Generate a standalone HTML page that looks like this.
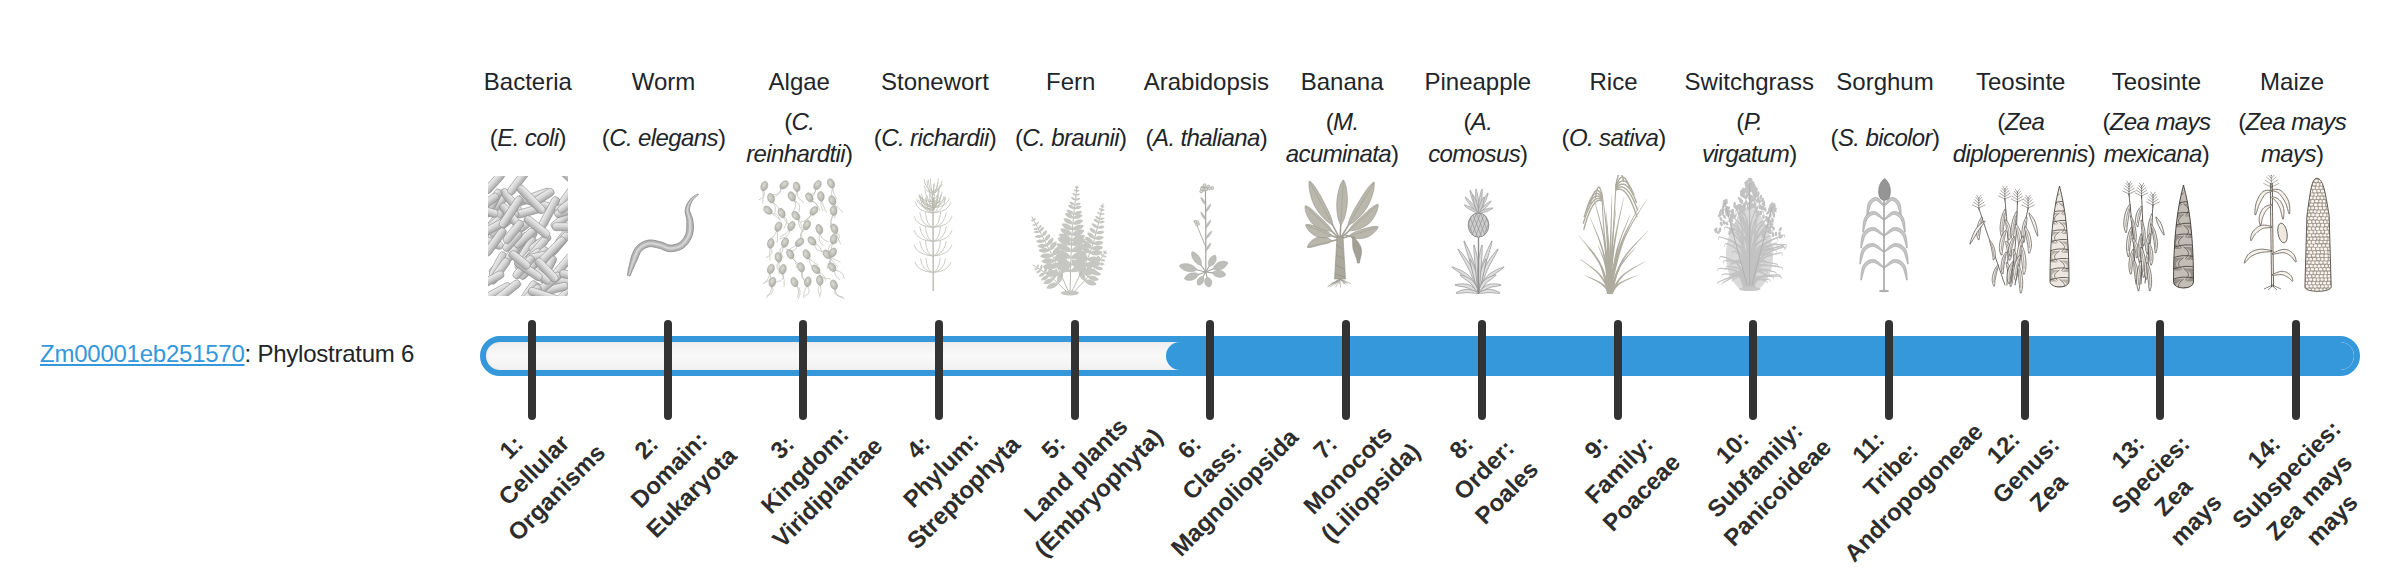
<!DOCTYPE html>
<html><head><meta charset="utf-8"><style>
html,body{margin:0;padding:0;background:#fff;}
body{width:2400px;height:580px;overflow:hidden;position:relative;font-family:"Liberation Sans",sans-serif;color:#212529;}
.a{position:absolute;}
.cn{position:absolute;top:66px;width:136px;text-align:center;font-size:24px;line-height:32px;white-space:nowrap;}
.sp{position:absolute;width:136px;text-align:center;font-size:24px;line-height:32px;white-space:nowrap;letter-spacing:-0.6px;}
.gene{position:absolute;left:40px;top:338px;font-size:24px;line-height:32px;white-space:nowrap;letter-spacing:-0.24px;}
.gene a{color:#3498db;text-decoration:underline;}
.bar{position:absolute;left:480px;top:336px;width:1868px;height:28px;border:6px solid #3498db;border-radius:20px;background:linear-gradient(#efefef,#f9f9f9 50%,#f1f1f1);box-shadow:inset 1px 0 3px rgba(0,0,0,.05);overflow:hidden;}
.fill{position:absolute;left:680px;top:0;right:0;height:28px;background:#3498db;border-radius:14px;}
.tk{position:absolute;top:320px;width:8px;height:100px;border-radius:4px;background:#333;}
.lb{position:absolute;width:240px;text-align:center;font-weight:bold;font-size:24px;line-height:32px;white-space:nowrap;color:#2d2d2d;transform:rotate(-45deg);}
svg.im{position:absolute;top:175px;}
</style></head><body>
<div class="gene"><a>Zm00001eb251570</a>: Phylostratum 6</div>
<div class="cn" style="left:459.85px">Bacteria</div>
<div class="sp" style="left:459.85px;top:121.5px">(<i>E. coli</i>)</div>
<svg class="im" style="left:467.85px" width="120" height="124" viewBox="0 0 120 124"><defs><clipPath id="cb"><rect x="20" y="1" width="80" height="120"/></clipPath><linearGradient id="gb" x1="0" y1="0" x2="0" y2="1"><stop offset="0" stop-color="#eeeeee"/><stop offset="0.45" stop-color="#d6d6d6"/><stop offset="1" stop-color="#a4a4a4"/></linearGradient></defs><g clip-path="url(#cb)"><g transform="translate(55.6,68.8) rotate(-46.4)"><rect x="-17.6" y="-4" width="35.3" height="8" rx="4" fill="url(#gb)" stroke="#8e8e8e" stroke-width="0.6"/></g><g transform="translate(57.8,75.8) rotate(-57.6)"><rect x="-16.2" y="-4" width="32.3" height="8" rx="4" fill="url(#gb)" stroke="#8e8e8e" stroke-width="0.6"/></g><g transform="translate(50.4,54.9) rotate(-35.4)"><rect x="-12.4" y="-4" width="24.8" height="8" rx="4" fill="url(#gb)" stroke="#8e8e8e" stroke-width="0.6"/></g><g transform="translate(31.5,27.5) rotate(-46.4)"><rect x="-16.5" y="-4" width="33.0" height="8" rx="4" fill="url(#gb)" stroke="#8e8e8e" stroke-width="0.6"/></g><g transform="translate(60.0,82.1) rotate(-46.7)"><rect x="-17.0" y="-4" width="33.9" height="8" rx="4" fill="url(#gb)" stroke="#8e8e8e" stroke-width="0.6"/></g><g transform="translate(43.0,25.9) rotate(51.8)"><rect x="-14.7" y="-4" width="29.4" height="8" rx="4" fill="url(#gb)" stroke="#8e8e8e" stroke-width="0.6"/></g><g transform="translate(102.1,106.2) rotate(-1.2)"><rect x="-14.9" y="-4" width="29.9" height="8" rx="4" fill="url(#gb)" stroke="#8e8e8e" stroke-width="0.6"/></g><g transform="translate(66.1,21.8) rotate(-19.4)"><rect x="-17.3" y="-4" width="34.6" height="8" rx="4" fill="url(#gb)" stroke="#8e8e8e" stroke-width="0.6"/></g><g transform="translate(24.9,28.0) rotate(-62.6)"><rect x="-15.1" y="-4" width="30.3" height="8" rx="4" fill="url(#gb)" stroke="#8e8e8e" stroke-width="0.6"/></g><g transform="translate(31.5,91.1) rotate(-39.3)"><rect x="-12.0" y="-4" width="24.0" height="8" rx="4" fill="url(#gb)" stroke="#8e8e8e" stroke-width="0.6"/></g><g transform="translate(93.5,122.7) rotate(-41.3)"><rect x="-12.3" y="-4" width="24.6" height="8" rx="4" fill="url(#gb)" stroke="#8e8e8e" stroke-width="0.6"/></g><g transform="translate(27.5,53.4) rotate(-64.6)"><rect x="-12.6" y="-4" width="25.3" height="8" rx="4" fill="url(#gb)" stroke="#8e8e8e" stroke-width="0.6"/></g><g transform="translate(67.6,27.6) rotate(18.4)"><rect x="-17.8" y="-4" width="35.7" height="8" rx="4" fill="url(#gb)" stroke="#8e8e8e" stroke-width="0.6"/></g><g transform="translate(26.5,46.2) rotate(-52.6)"><rect x="-13.1" y="-4" width="26.2" height="8" rx="4" fill="url(#gb)" stroke="#8e8e8e" stroke-width="0.6"/></g><g transform="translate(71.9,68.0) rotate(-37.5)"><rect x="-12.7" y="-4" width="25.5" height="8" rx="4" fill="url(#gb)" stroke="#8e8e8e" stroke-width="0.6"/></g><g transform="translate(17.6,121.1) rotate(12.9)"><rect x="-14.1" y="-4" width="28.1" height="8" rx="4" fill="url(#gb)" stroke="#8e8e8e" stroke-width="0.6"/></g><g transform="translate(30.1,89.6) rotate(-62.2)"><rect x="-14.0" y="-4" width="27.9" height="8" rx="4" fill="url(#gb)" stroke="#8e8e8e" stroke-width="0.6"/></g><g transform="translate(98.4,22.5) rotate(-54.2)"><rect x="-14.0" y="-4" width="27.9" height="8" rx="4" fill="url(#gb)" stroke="#8e8e8e" stroke-width="0.6"/></g><g transform="translate(62.9,122.5) rotate(-59.5)"><rect x="-16.1" y="-4" width="32.3" height="8" rx="4" fill="url(#gb)" stroke="#8e8e8e" stroke-width="0.6"/></g><g transform="translate(99.0,57.7) rotate(-50.7)"><rect x="-15.4" y="-4" width="30.8" height="8" rx="4" fill="url(#gb)" stroke="#8e8e8e" stroke-width="0.6"/></g><g transform="translate(81.2,37.5) rotate(-62.0)"><rect x="-17.6" y="-4" width="35.1" height="8" rx="4" fill="url(#gb)" stroke="#8e8e8e" stroke-width="0.6"/></g><g transform="translate(98.2,41.7) rotate(-37.6)"><rect x="-18.0" y="-4" width="36.1" height="8" rx="4" fill="url(#gb)" stroke="#8e8e8e" stroke-width="0.6"/></g><g transform="translate(66.7,77.2) rotate(-49.7)"><rect x="-19.0" y="-4" width="37.9" height="8" rx="4" fill="url(#gb)" stroke="#8e8e8e" stroke-width="0.6"/></g><g transform="translate(94.9,90.7) rotate(-49.5)"><rect x="-15.6" y="-4" width="31.3" height="8" rx="4" fill="url(#gb)" stroke="#8e8e8e" stroke-width="0.6"/></g><g transform="translate(61.3,36.3) rotate(-15.5)"><rect x="-13.8" y="-4" width="27.6" height="8" rx="4" fill="url(#gb)" stroke="#8e8e8e" stroke-width="0.6"/></g><g transform="translate(15.0,35.1) rotate(16.2)"><rect x="-15.5" y="-4" width="31.0" height="8" rx="4" fill="url(#gb)" stroke="#8e8e8e" stroke-width="0.6"/></g><g transform="translate(36.2,48.6) rotate(-39.6)"><rect x="-18.2" y="-4" width="36.3" height="8" rx="4" fill="url(#gb)" stroke="#8e8e8e" stroke-width="0.6"/></g><g transform="translate(49.4,71.8) rotate(-52.3)"><rect x="-17.0" y="-4" width="34.0" height="8" rx="4" fill="url(#gb)" stroke="#8e8e8e" stroke-width="0.6"/></g><g transform="translate(101.4,32.0) rotate(-11.4)"><rect x="-14.7" y="-4" width="29.4" height="8" rx="4" fill="url(#gb)" stroke="#8e8e8e" stroke-width="0.6"/></g><g transform="translate(61.8,83.4) rotate(-36.3)"><rect x="-13.9" y="-4" width="27.9" height="8" rx="4" fill="url(#gb)" stroke="#8e8e8e" stroke-width="0.6"/></g><g transform="translate(69.9,84.2) rotate(-50.8)"><rect x="-14.8" y="-4" width="29.7" height="8" rx="4" fill="url(#gb)" stroke="#8e8e8e" stroke-width="0.6"/></g><g transform="translate(31.5,96.0) rotate(-54.3)"><rect x="-15.1" y="-4" width="30.3" height="8" rx="4" fill="url(#gb)" stroke="#8e8e8e" stroke-width="0.6"/></g><g transform="translate(72.0,81.2) rotate(-12.0)"><rect x="-13.8" y="-4" width="27.6" height="8" rx="4" fill="url(#gb)" stroke="#8e8e8e" stroke-width="0.6"/></g><g transform="translate(79.7,94.2) rotate(-63.6)"><rect x="-14.8" y="-4" width="29.5" height="8" rx="4" fill="url(#gb)" stroke="#8e8e8e" stroke-width="0.6"/></g><g transform="translate(86.9,113.8) rotate(-14.8)"><rect x="-13.4" y="-4" width="26.8" height="8" rx="4" fill="url(#gb)" stroke="#8e8e8e" stroke-width="0.6"/></g><g transform="translate(95.6,-3.1) rotate(42.6)"><rect x="-15.2" y="-4" width="30.5" height="8" rx="4" fill="url(#gb)" stroke="#8e8e8e" stroke-width="0.6"/></g><g transform="translate(73.9,22.6) rotate(-32.3)"><rect x="-13.7" y="-4" width="27.4" height="8" rx="4" fill="url(#gb)" stroke="#8e8e8e" stroke-width="0.6"/></g><g transform="translate(49.9,7.4) rotate(-52.6)"><rect x="-14.4" y="-4" width="28.9" height="8" rx="4" fill="url(#gb)" stroke="#8e8e8e" stroke-width="0.6"/></g><g transform="translate(21.6,53.3) rotate(-43.0)"><rect x="-15.0" y="-4" width="30.0" height="8" rx="4" fill="url(#gb)" stroke="#8e8e8e" stroke-width="0.6"/></g><g transform="translate(17.2,65.3) rotate(20.0)"><rect x="-18.6" y="-4" width="37.2" height="8" rx="4" fill="url(#gb)" stroke="#8e8e8e" stroke-width="0.6"/></g><g transform="translate(59.3,119.4) rotate(-56.1)"><rect x="-15.7" y="-4" width="31.3" height="8" rx="4" fill="url(#gb)" stroke="#8e8e8e" stroke-width="0.6"/></g><g transform="translate(91.6,68.8) rotate(-49.8)"><rect x="-14.1" y="-4" width="28.3" height="8" rx="4" fill="url(#gb)" stroke="#8e8e8e" stroke-width="0.6"/></g><g transform="translate(27.0,66.8) rotate(-54.1)"><rect x="-16.2" y="-4" width="32.5" height="8" rx="4" fill="url(#gb)" stroke="#8e8e8e" stroke-width="0.6"/></g><g transform="translate(16.6,122.0) rotate(2.5)"><rect x="-12.7" y="-4" width="25.3" height="8" rx="4" fill="url(#gb)" stroke="#8e8e8e" stroke-width="0.6"/></g><g transform="translate(29.3,117.0) rotate(-28.2)"><rect x="-15.3" y="-4" width="30.6" height="8" rx="4" fill="url(#gb)" stroke="#8e8e8e" stroke-width="0.6"/></g><g transform="translate(25.7,52.4) rotate(-29.0)"><rect x="-14.9" y="-4" width="29.9" height="8" rx="4" fill="url(#gb)" stroke="#8e8e8e" stroke-width="0.6"/></g><g transform="translate(16.7,29.8) rotate(-36.9)"><rect x="-16.8" y="-4" width="33.6" height="8" rx="4" fill="url(#gb)" stroke="#8e8e8e" stroke-width="0.6"/></g><g transform="translate(43.6,42.2) rotate(50.6)"><rect x="-17.0" y="-4" width="34.0" height="8" rx="4" fill="url(#gb)" stroke="#8e8e8e" stroke-width="0.6"/></g><g transform="translate(78.5,110.2) rotate(-39.7)"><rect x="-18.0" y="-4" width="36.1" height="8" rx="4" fill="url(#gb)" stroke="#8e8e8e" stroke-width="0.6"/></g><g transform="translate(63.1,24.4) rotate(45.5)"><rect x="-18.3" y="-4" width="36.6" height="8" rx="4" fill="url(#gb)" stroke="#8e8e8e" stroke-width="0.6"/></g><g transform="translate(43.1,36.9) rotate(-56.3)"><rect x="-18.2" y="-4" width="36.4" height="8" rx="4" fill="url(#gb)" stroke="#8e8e8e" stroke-width="0.6"/></g><g transform="translate(26.2,7.5) rotate(-47.6)"><rect x="-13.4" y="-4" width="26.8" height="8" rx="4" fill="url(#gb)" stroke="#8e8e8e" stroke-width="0.6"/></g><g transform="translate(71.8,99.9) rotate(37.5)"><rect x="-12.8" y="-4" width="25.6" height="8" rx="4" fill="url(#gb)" stroke="#8e8e8e" stroke-width="0.6"/></g><g transform="translate(60.5,94.6) rotate(-44.9)"><rect x="-12.2" y="-4" width="24.3" height="8" rx="4" fill="url(#gb)" stroke="#8e8e8e" stroke-width="0.6"/></g><g transform="translate(84.1,75.7) rotate(-45.7)"><rect x="-17.9" y="-4" width="35.8" height="8" rx="4" fill="url(#gb)" stroke="#8e8e8e" stroke-width="0.6"/></g><g transform="translate(105.1,116.5) rotate(-61.2)"><rect x="-14.3" y="-4" width="28.6" height="8" rx="4" fill="url(#gb)" stroke="#8e8e8e" stroke-width="0.6"/></g><g transform="translate(57.0,63.0) rotate(-41.0)"><rect x="-13.3" y="-4" width="26.5" height="8" rx="4" fill="url(#gb)" stroke="#8e8e8e" stroke-width="0.6"/></g><g transform="translate(55.8,92.1) rotate(-48.8)"><rect x="-14.3" y="-4" width="28.5" height="8" rx="4" fill="url(#gb)" stroke="#8e8e8e" stroke-width="0.6"/></g><g transform="translate(21.8,105.4) rotate(-28.7)"><rect x="-15.5" y="-4" width="31.1" height="8" rx="4" fill="url(#gb)" stroke="#8e8e8e" stroke-width="0.6"/></g><g transform="translate(104.4,100.6) rotate(11.1)"><rect x="-12.9" y="-4" width="25.9" height="8" rx="4" fill="url(#gb)" stroke="#8e8e8e" stroke-width="0.6"/></g><g transform="translate(44.4,66.1) rotate(-47.7)"><rect x="-12.5" y="-4" width="25.0" height="8" rx="4" fill="url(#gb)" stroke="#8e8e8e" stroke-width="0.6"/></g><g transform="translate(45.4,56.9) rotate(-50.8)"><rect x="-13.9" y="-4" width="27.8" height="8" rx="4" fill="url(#gb)" stroke="#8e8e8e" stroke-width="0.6"/></g><g transform="translate(102.5,34.9) rotate(-16.9)"><rect x="-16.5" y="-4" width="33.0" height="8" rx="4" fill="url(#gb)" stroke="#8e8e8e" stroke-width="0.6"/></g><g transform="translate(78.5,95.0) rotate(46.5)"><rect x="-15.1" y="-4" width="30.2" height="8" rx="4" fill="url(#gb)" stroke="#8e8e8e" stroke-width="0.6"/></g><g transform="translate(60.4,95.0) rotate(34.0)"><rect x="-15.9" y="-4" width="31.7" height="8" rx="4" fill="url(#gb)" stroke="#8e8e8e" stroke-width="0.6"/></g><g transform="translate(60.7,121.7) rotate(-42.3)"><rect x="-15.8" y="-4" width="31.7" height="8" rx="4" fill="url(#gb)" stroke="#8e8e8e" stroke-width="0.6"/></g><g transform="translate(75.5,120.2) rotate(18.8)"><rect x="-15.8" y="-4" width="31.6" height="8" rx="4" fill="url(#gb)" stroke="#8e8e8e" stroke-width="0.6"/></g><g transform="translate(68.9,51.8) rotate(38.9)"><rect x="-15.4" y="-4" width="30.8" height="8" rx="4" fill="url(#gb)" stroke="#8e8e8e" stroke-width="0.6"/></g><g transform="translate(38.8,116.8) rotate(-38.5)"><rect x="-16.4" y="-4" width="32.9" height="8" rx="4" fill="url(#gb)" stroke="#8e8e8e" stroke-width="0.6"/></g><g transform="translate(51.6,85.0) rotate(38.9)"><rect x="-12.5" y="-4" width="25.0" height="8" rx="4" fill="url(#gb)" stroke="#8e8e8e" stroke-width="0.6"/></g><g transform="translate(97.3,51.8) rotate(0.9)"><rect x="-13.0" y="-4" width="26.0" height="8" rx="4" fill="url(#gb)" stroke="#8e8e8e" stroke-width="0.6"/></g><g transform="translate(102.3,27.9) rotate(-36.7)"><rect x="-14.5" y="-4" width="29.0" height="8" rx="4" fill="url(#gb)" stroke="#8e8e8e" stroke-width="0.6"/></g></g></svg>
<div class="cn" style="left:595.56px">Worm</div>
<div class="sp" style="left:595.56px;top:121.5px">(<i>C. elegans</i>)</div>
<svg class="im" style="left:603.56px" width="120" height="124" viewBox="0 0 120 124"><path d="M25.9,101.1 L26.4,100.1 L27.0,98.8 L27.6,97.2 L28.3,95.5 L29.1,93.7 L29.9,91.8 L30.6,90.1 L31.4,88.4 L32.2,86.8 L33.0,85.1 L33.8,83.4 L34.4,81.6 L35.1,80.0 L35.8,78.6 L36.4,77.4 L37.2,76.4 L38.0,75.5 L38.9,74.7 L39.8,74.0 L40.8,73.3 L41.9,72.8 L43.0,72.4 L44.0,72.0 L45.1,71.7 L46.1,71.6 L47.1,71.6 L48.4,71.8 L49.7,72.0 L51.1,72.3 L52.5,72.6 L53.9,73.0 L55.3,73.3 L56.4,73.6 L57.4,74.0 L58.5,74.5 L59.8,75.1 L61.1,75.6 L62.6,76.2 L64.3,76.6 L66.0,76.7 L67.7,76.6 L69.4,76.5 L71.1,76.2 L72.9,75.8 L74.7,75.3 L76.4,74.6 L78.1,73.8 L79.6,72.8 L81.1,71.6 L82.4,70.2 L83.7,68.8 L84.8,67.2 L85.8,65.6 L86.8,63.9 L87.6,62.2 L88.2,60.4 L88.8,58.6 L89.1,56.7 L89.3,54.8 L89.4,52.9 L89.4,51.0 L89.3,49.2 L89.1,47.5 L88.9,45.8 L88.6,44.0 L88.1,42.3 L87.5,40.8 L86.9,39.3 L86.4,38.0 L85.9,36.8 L85.6,35.7 L85.5,34.6 L85.6,33.5 L85.7,32.3 L86.0,31.1 L86.4,29.9 L86.9,28.6 L87.5,27.4 L88.0,26.3 L88.6,25.3 L89.2,24.4 L89.9,23.6 L90.7,22.7 L91.6,21.9 L92.5,21.2 L93.2,20.6 L93.9,20.0 L94.4,19.5 L94.0,19.1 L93.4,19.3 L92.7,19.7 L91.7,20.2 L90.7,20.7 L89.7,21.4 L88.6,22.1 L87.6,22.9 L86.6,23.9 L85.8,24.9 L85.0,26.0 L84.2,27.2 L83.4,28.5 L82.7,29.8 L82.1,31.3 L81.6,32.8 L81.3,34.4 L81.2,36.0 L81.3,37.7 L81.6,39.3 L82.0,40.9 L82.3,42.3 L82.6,43.8 L82.8,45.1 L82.9,46.4 L82.9,47.9 L82.8,49.5 L82.8,51.1 L82.8,52.7 L82.7,54.3 L82.6,55.7 L82.3,57.1 L82.0,58.4 L81.5,59.6 L80.9,60.9 L80.2,62.3 L79.3,63.5 L78.5,64.7 L77.6,65.8 L76.6,66.7 L75.8,67.4 L74.8,68.0 L73.7,68.6 L72.5,69.0 L71.2,69.4 L69.9,69.7 L68.6,69.9 L67.3,70.1 L66.2,70.1 L65.3,70.0 L64.4,69.8 L63.5,69.5 L62.4,69.0 L61.3,68.5 L59.9,67.9 L58.5,67.3 L56.9,66.9 L55.5,66.6 L54.1,66.2 L52.5,65.8 L50.9,65.5 L49.2,65.2 L47.5,65.0 L45.7,65.0 L43.9,65.3 L42.3,65.6 L40.7,66.2 L39.1,66.8 L37.6,67.6 L36.1,68.5 L34.6,69.6 L33.3,70.8 L32.0,72.2 L30.9,73.8 L29.9,75.6 L29.0,77.4 L28.3,79.2 L27.6,81.1 L27.0,83.0 L26.6,84.8 L26.2,86.6 L25.7,88.4 L25.3,90.4 L24.8,92.4 L24.4,94.3 L24.1,96.2 L23.8,97.9 L23.6,99.3 L23.5,100.3Z" fill="#b4b4b4" stroke="#8a8a8a" stroke-width="0.9"/><path d="M25.1,100.8 L25.5,99.8 L25.9,98.5 L26.5,96.9 L27.1,95.1 L27.7,93.3 L28.4,91.4 L29.0,89.5 L29.7,87.8 L30.4,86.2 L31.1,84.4 L31.8,82.6 L32.4,80.9 L33.1,79.2 L33.8,77.6 L34.6,76.2 L35.5,75.0 L36.4,74.0 L37.5,73.0 L38.6,72.2 L39.8,71.5 L41.0,70.9 L42.2,70.3 L43.5,69.9 L44.7,69.6 L45.9,69.5 L47.3,69.5 L48.6,69.6 L50.1,69.9 L51.5,70.2 L53.0,70.5 L54.4,70.9 L55.8,71.2 L57.0,71.6 L58.2,72.0 L59.4,72.6 L60.6,73.1 L61.9,73.6 L63.2,74.1 L64.6,74.4 L66.1,74.6 L67.6,74.5 L69.1,74.4 L70.7,74.1 L72.4,73.7 L74.0,73.3 L75.5,72.7 L77.0,71.9 L78.4,71.0 L79.6,70.0 L80.8,68.8 L82.0,67.5 L83.0,66.0 L84.0,64.5 L84.8,63.0 L85.6,61.4 L86.2,59.8 L86.7,58.1 L87.0,56.4 L87.2,54.6 L87.3,52.8 L87.3,51.1 L87.2,49.3 L87.1,47.6 L87.0,46.0 L86.7,44.4 L86.3,42.8 L85.8,41.3 L85.3,39.8 L84.8,38.4 L84.4,37.1 L84.2,35.8 L84.1,34.5 L84.3,33.3 L84.6,32.0 L85.0,30.7 L85.5,29.4 L86.0,28.2 L86.7,27.0 L87.3,25.9 L87.9,24.9 L88.6,23.9 L89.5,23.1 L90.4,22.3 L91.3,21.5 L92.2,20.9 L93.1,20.3 L93.8,19.8 L94.3,19.4 L94.1,19.2 L93.6,19.6 L92.9,20.0 L92.0,20.5 L91.0,21.1 L90.0,21.8 L89.0,22.6 L88.1,23.4 L87.3,24.3 L86.5,25.4 L85.8,26.5 L85.1,27.6 L84.4,28.9 L83.8,30.2 L83.3,31.6 L82.9,33.0 L82.7,34.5 L82.6,35.9 L82.8,37.4 L83.2,38.9 L83.6,40.4 L84.0,41.8 L84.4,43.3 L84.7,44.7 L84.8,46.2 L84.9,47.8 L84.9,49.4 L85.0,51.1 L85.0,52.8 L84.9,54.4 L84.7,56.0 L84.4,57.6 L84.0,59.0 L83.5,60.5 L82.8,61.9 L82.0,63.3 L81.1,64.7 L80.2,66.0 L79.2,67.2 L78.1,68.3 L77.0,69.2 L75.9,69.9 L74.6,70.5 L73.2,71.1 L71.8,71.5 L70.3,71.8 L68.8,72.1 L67.4,72.2 L66.1,72.2 L65.0,72.2 L63.8,71.9 L62.7,71.5 L61.6,71.0 L60.4,70.5 L59.1,69.9 L57.8,69.4 L56.4,69.0 L55.0,68.6 L53.5,68.3 L52.0,67.9 L50.5,67.6 L48.9,67.3 L47.4,67.2 L45.8,67.2 L44.3,67.4 L42.8,67.7 L41.4,68.2 L40.0,68.8 L38.6,69.5 L37.3,70.3 L36.0,71.3 L34.8,72.4 L33.7,73.6 L32.7,75.0 L31.8,76.5 L31.0,78.2 L30.3,80.0 L29.6,81.8 L29.0,83.7 L28.4,85.4 L27.9,87.2 L27.3,88.9 L26.8,90.9 L26.2,92.8 L25.7,94.7 L25.2,96.5 L24.8,98.2 L24.5,99.5 L24.3,100.6Z" fill="#d4d4d4"/></svg>
<div class="cn" style="left:731.28px">Algae</div>
<div class="sp" style="left:731.28px;top:105.5px">(<i>C.</i><br><i>reinhardtii</i>)</div>
<svg class="im" style="left:739.28px" width="120" height="124" viewBox="0 0 120 124"><defs><radialGradient id="ga" cx="0.4" cy="0.4" r="0.7"><stop offset="0" stop-color="#dcdcd6"/><stop offset="1" stop-color="#a9a9a1"/></radialGradient></defs><path d="M25.3,15.1 q2.5,6 4.0,13 M25.3,15.1 q6.4,5 -1.1,11" fill="none" stroke="#b9b9b1" stroke-width="0.6" transform="rotate(18.3 25.3 11.1)"/><ellipse cx="25.3" cy="11.1" rx="3.3" ry="4.9" fill="url(#ga)" stroke="#9e9e96" stroke-width="0.5" transform="rotate(18.3 25.3 11.1)"/><path d="M45.1,13.9 q6.5,6 0.9,13 M45.1,13.9 q5.4,5 -0.1,11" fill="none" stroke="#b9b9b1" stroke-width="0.6" transform="rotate(48.9 45.1 9.9)"/><ellipse cx="45.1" cy="9.9" rx="3.3" ry="4.9" fill="url(#ga)" stroke="#9e9e96" stroke-width="0.5" transform="rotate(48.9 45.1 9.9)"/><path d="M57.7,15.8 q-3.5,6 3.8,13 M57.7,15.8 q-4.7,5 -5.2,11" fill="none" stroke="#b9b9b1" stroke-width="0.6" transform="rotate(-12.4 57.7 11.8)"/><ellipse cx="57.7" cy="11.8" rx="3.3" ry="4.9" fill="url(#ga)" stroke="#9e9e96" stroke-width="0.5" transform="rotate(-12.4 57.7 11.8)"/><path d="M78.5,14.1 q3.8,6 -0.2,13 M78.5,14.1 q4.7,5 -5.4,11" fill="none" stroke="#b9b9b1" stroke-width="0.6" transform="rotate(30.5 78.5 10.1)"/><ellipse cx="78.5" cy="10.1" rx="3.3" ry="4.9" fill="url(#ga)" stroke="#9e9e96" stroke-width="0.5" transform="rotate(30.5 78.5 10.1)"/><path d="M92.0,12.4 q-2.9,6 -0.8,13 M92.0,12.4 q-4.6,5 -5.2,11" fill="none" stroke="#b9b9b1" stroke-width="0.6" transform="rotate(-24.2 92.0 8.4)"/><ellipse cx="92.0" cy="8.4" rx="3.3" ry="4.9" fill="url(#ga)" stroke="#9e9e96" stroke-width="0.5" transform="rotate(-24.2 92.0 8.4)"/><path d="M32.0,27.2 q5.6,6 4.8,13 M32.0,27.2 q3.4,5 -0.3,11" fill="none" stroke="#b9b9b1" stroke-width="0.6" transform="rotate(-16.2 32.0 23.2)"/><ellipse cx="32.0" cy="23.2" rx="3.3" ry="4.9" fill="url(#ga)" stroke="#9e9e96" stroke-width="0.5" transform="rotate(-16.2 32.0 23.2)"/><path d="M52.7,25.4 q6.4,6 0.3,13 M52.7,25.4 q3.2,5 -5.7,11" fill="none" stroke="#b9b9b1" stroke-width="0.6" transform="rotate(-24.8 52.7 21.4)"/><ellipse cx="52.7" cy="21.4" rx="3.3" ry="4.9" fill="url(#ga)" stroke="#9e9e96" stroke-width="0.5" transform="rotate(-24.8 52.7 21.4)"/><path d="M70.4,26.4 q4.7,6 3.0,13 M70.4,26.4 q5.3,5 1.2,11" fill="none" stroke="#b9b9b1" stroke-width="0.6" transform="rotate(-28.8 70.4 22.4)"/><ellipse cx="70.4" cy="22.4" rx="3.3" ry="4.9" fill="url(#ga)" stroke="#9e9e96" stroke-width="0.5" transform="rotate(-28.8 70.4 22.4)"/><path d="M81.9,25.3 q1.1,6 3.5,13 M81.9,25.3 q-2.7,5 0.4,11" fill="none" stroke="#b9b9b1" stroke-width="0.6" transform="rotate(-7.4 81.9 21.3)"/><ellipse cx="81.9" cy="21.3" rx="3.3" ry="4.9" fill="url(#ga)" stroke="#9e9e96" stroke-width="0.5" transform="rotate(-7.4 81.9 21.3)"/><path d="M93.4,29.4 q3.8,6 -4.9,13 M93.4,29.4 q2.6,5 5.4,11" fill="none" stroke="#b9b9b1" stroke-width="0.6" transform="rotate(-22.4 93.4 25.4)"/><ellipse cx="93.4" cy="25.4" rx="3.3" ry="4.9" fill="url(#ga)" stroke="#9e9e96" stroke-width="0.5" transform="rotate(-22.4 93.4 25.4)"/><path d="M28.9,39.2 q1.3,6 1.4,13 M28.9,39.2 q4.9,5 1.0,11" fill="none" stroke="#b9b9b1" stroke-width="0.6" transform="rotate(-47.6 28.9 35.2)"/><ellipse cx="28.9" cy="35.2" rx="3.3" ry="4.9" fill="url(#ga)" stroke="#9e9e96" stroke-width="0.5" transform="rotate(-47.6 28.9 35.2)"/><path d="M42.6,42.0 q-1.3,6 4.6,13 M42.6,42.0 q5.7,5 -4.4,11" fill="none" stroke="#b9b9b1" stroke-width="0.6" transform="rotate(-24.3 42.6 38.0)"/><ellipse cx="42.6" cy="38.0" rx="3.3" ry="4.9" fill="url(#ga)" stroke="#9e9e96" stroke-width="0.5" transform="rotate(-24.3 42.6 38.0)"/><path d="M56.9,44.7 q-5.7,6 -4.7,13 M56.9,44.7 q-0.7,5 -4.3,11" fill="none" stroke="#b9b9b1" stroke-width="0.6" transform="rotate(-40.5 56.9 40.7)"/><ellipse cx="56.9" cy="40.7" rx="3.3" ry="4.9" fill="url(#ga)" stroke="#9e9e96" stroke-width="0.5" transform="rotate(-40.5 56.9 40.7)"/><path d="M74.9,39.9 q2.2,6 -3.7,13 M74.9,39.9 q0.5,5 -2.1,11" fill="none" stroke="#b9b9b1" stroke-width="0.6" transform="rotate(36.7 74.9 35.9)"/><ellipse cx="74.9" cy="35.9" rx="3.3" ry="4.9" fill="url(#ga)" stroke="#9e9e96" stroke-width="0.5" transform="rotate(36.7 74.9 35.9)"/><path d="M94.5,39.7 q-3.9,6 -3.3,13 M94.5,39.7 q-4.4,5 -1.5,11" fill="none" stroke="#b9b9b1" stroke-width="0.6" transform="rotate(-0.6 94.5 35.7)"/><ellipse cx="94.5" cy="35.7" rx="3.3" ry="4.9" fill="url(#ga)" stroke="#9e9e96" stroke-width="0.5" transform="rotate(-0.6 94.5 35.7)"/><path d="M39.4,55.7 q0.7,6 -4.5,13 M39.4,55.7 q3.0,5 4.5,11" fill="none" stroke="#b9b9b1" stroke-width="0.6" transform="rotate(21.0 39.4 51.7)"/><ellipse cx="39.4" cy="51.7" rx="3.3" ry="4.9" fill="url(#ga)" stroke="#9e9e96" stroke-width="0.5" transform="rotate(21.0 39.4 51.7)"/><path d="M52.4,55.1 q4.1,6 -4.9,13 M52.4,55.1 q-0.5,5 -5.2,11" fill="none" stroke="#b9b9b1" stroke-width="0.6" transform="rotate(27.4 52.4 51.1)"/><ellipse cx="52.4" cy="51.1" rx="3.3" ry="4.9" fill="url(#ga)" stroke="#9e9e96" stroke-width="0.5" transform="rotate(27.4 52.4 51.1)"/><path d="M67.9,54.1 q-4.5,6 2.1,13 M67.9,54.1 q-3.5,5 2.4,11" fill="none" stroke="#b9b9b1" stroke-width="0.6" transform="rotate(26.4 67.9 50.1)"/><ellipse cx="67.9" cy="50.1" rx="3.3" ry="4.9" fill="url(#ga)" stroke="#9e9e96" stroke-width="0.5" transform="rotate(26.4 67.9 50.1)"/><path d="M80.3,58.2 q-6.4,6 -1.1,13 M80.3,58.2 q-2.7,5 4.8,11" fill="none" stroke="#b9b9b1" stroke-width="0.6" transform="rotate(-18.6 80.3 54.2)"/><ellipse cx="80.3" cy="54.2" rx="3.3" ry="4.9" fill="url(#ga)" stroke="#9e9e96" stroke-width="0.5" transform="rotate(-18.6 80.3 54.2)"/><path d="M95.4,57.7 q0.0,6 0.5,13 M95.4,57.7 q6.3,5 -4.8,11" fill="none" stroke="#b9b9b1" stroke-width="0.6" transform="rotate(-20.5 95.4 53.7)"/><ellipse cx="95.4" cy="53.7" rx="3.3" ry="4.9" fill="url(#ga)" stroke="#9e9e96" stroke-width="0.5" transform="rotate(-20.5 95.4 53.7)"/><path d="M31.8,72.4 q0.1,6 2.3,13 M31.8,72.4 q6.5,5 -2.3,11" fill="none" stroke="#b9b9b1" stroke-width="0.6" transform="rotate(10.1 31.8 68.4)"/><ellipse cx="31.8" cy="68.4" rx="3.3" ry="4.9" fill="url(#ga)" stroke="#9e9e96" stroke-width="0.5" transform="rotate(10.1 31.8 68.4)"/><path d="M46.0,71.6 q0.4,6 0.6,13 M46.0,71.6 q-6.1,5 3.8,11" fill="none" stroke="#b9b9b1" stroke-width="0.6" transform="rotate(19.9 46.0 67.6)"/><ellipse cx="46.0" cy="67.6" rx="3.3" ry="4.9" fill="url(#ga)" stroke="#9e9e96" stroke-width="0.5" transform="rotate(19.9 46.0 67.6)"/><path d="M60.6,71.4 q-2.0,6 -1.8,13 M60.6,71.4 q6.9,5 -4.7,11" fill="none" stroke="#b9b9b1" stroke-width="0.6" transform="rotate(47.7 60.6 67.4)"/><ellipse cx="60.6" cy="67.4" rx="3.3" ry="4.9" fill="url(#ga)" stroke="#9e9e96" stroke-width="0.5" transform="rotate(47.7 60.6 67.4)"/><path d="M73.0,69.9 q-6.0,6 3.1,13 M73.0,69.9 q3.6,5 -0.6,11" fill="none" stroke="#b9b9b1" stroke-width="0.6" transform="rotate(-42.4 73.0 65.9)"/><ellipse cx="73.0" cy="65.9" rx="3.3" ry="4.9" fill="url(#ga)" stroke="#9e9e96" stroke-width="0.5" transform="rotate(-42.4 73.0 65.9)"/><path d="M94.6,68.2 q-6.7,6 1.4,13 M94.6,68.2 q-0.8,5 0.2,11" fill="none" stroke="#b9b9b1" stroke-width="0.6" transform="rotate(12.1 94.6 64.2)"/><ellipse cx="94.6" cy="64.2" rx="3.3" ry="4.9" fill="url(#ga)" stroke="#9e9e96" stroke-width="0.5" transform="rotate(12.1 94.6 64.2)"/><path d="M39.4,86.3 q-1.4,6 -2.7,13 M39.4,86.3 q-6.3,5 -0.8,11" fill="none" stroke="#b9b9b1" stroke-width="0.6" transform="rotate(-11.1 39.4 82.3)"/><ellipse cx="39.4" cy="82.3" rx="3.3" ry="4.9" fill="url(#ga)" stroke="#9e9e96" stroke-width="0.5" transform="rotate(-11.1 39.4 82.3)"/><path d="M51.3,83.2 q2.9,6 3.2,13 M51.3,83.2 q3.1,5 -0.5,11" fill="none" stroke="#b9b9b1" stroke-width="0.6" transform="rotate(-25.3 51.3 79.2)"/><ellipse cx="51.3" cy="79.2" rx="3.3" ry="4.9" fill="url(#ga)" stroke="#9e9e96" stroke-width="0.5" transform="rotate(-25.3 51.3 79.2)"/><path d="M67.6,83.3 q-1.6,6 -0.1,13 M67.6,83.3 q1.8,5 5.6,11" fill="none" stroke="#b9b9b1" stroke-width="0.6" transform="rotate(-26.4 67.6 79.3)"/><ellipse cx="67.6" cy="79.3" rx="3.3" ry="4.9" fill="url(#ga)" stroke="#9e9e96" stroke-width="0.5" transform="rotate(-26.4 67.6 79.3)"/><path d="M88.0,83.3 q-0.3,6 -0.1,13 M88.0,83.3 q3.0,5 4.7,11" fill="none" stroke="#b9b9b1" stroke-width="0.6" transform="rotate(-41.5 88.0 79.3)"/><ellipse cx="88.0" cy="79.3" rx="3.3" ry="4.9" fill="url(#ga)" stroke="#9e9e96" stroke-width="0.5" transform="rotate(-41.5 88.0 79.3)"/><path d="M93.8,81.6 q1.8,6 2.6,13 M93.8,81.6 q2.4,5 4.3,11" fill="none" stroke="#b9b9b1" stroke-width="0.6" transform="rotate(28.0 93.8 77.6)"/><ellipse cx="93.8" cy="77.6" rx="3.3" ry="4.9" fill="url(#ga)" stroke="#9e9e96" stroke-width="0.5" transform="rotate(28.0 93.8 77.6)"/><path d="M31.9,98.0 q2.6,6 -2.5,13 M31.9,98.0 q5.8,5 -1.4,11" fill="none" stroke="#b9b9b1" stroke-width="0.6" transform="rotate(19.9 31.9 94.0)"/><ellipse cx="31.9" cy="94.0" rx="3.3" ry="4.9" fill="url(#ga)" stroke="#9e9e96" stroke-width="0.5" transform="rotate(19.9 31.9 94.0)"/><path d="M43.9,98.3 q4.5,6 4.6,13 M43.9,98.3 q6.8,5 -5.9,11" fill="none" stroke="#b9b9b1" stroke-width="0.6" transform="rotate(11.5 43.9 94.3)"/><ellipse cx="43.9" cy="94.3" rx="3.3" ry="4.9" fill="url(#ga)" stroke="#9e9e96" stroke-width="0.5" transform="rotate(11.5 43.9 94.3)"/><path d="M62.0,96.3 q-2.6,6 -1.1,13 M62.0,96.3 q-5.0,5 0.6,11" fill="none" stroke="#b9b9b1" stroke-width="0.6" transform="rotate(-18.7 62.0 92.3)"/><ellipse cx="62.0" cy="92.3" rx="3.3" ry="4.9" fill="url(#ga)" stroke="#9e9e96" stroke-width="0.5" transform="rotate(-18.7 62.0 92.3)"/><path d="M76.9,98.3 q-2.8,6 4.4,13 M76.9,98.3 q3.4,5 -0.5,11" fill="none" stroke="#b9b9b1" stroke-width="0.6" transform="rotate(-42.0 76.9 94.3)"/><ellipse cx="76.9" cy="94.3" rx="3.3" ry="4.9" fill="url(#ga)" stroke="#9e9e96" stroke-width="0.5" transform="rotate(-42.0 76.9 94.3)"/><path d="M93.0,96.1 q6.4,6 2.0,13 M93.0,96.1 q-4.1,5 -2.0,11" fill="none" stroke="#b9b9b1" stroke-width="0.6" transform="rotate(-39.2 93.0 92.1)"/><ellipse cx="93.0" cy="92.1" rx="3.3" ry="4.9" fill="url(#ga)" stroke="#9e9e96" stroke-width="0.5" transform="rotate(-39.2 93.0 92.1)"/><path d="M33.4,111.1 q2.5,6 -2.4,13 M33.4,111.1 q6.3,5 -2.1,11" fill="none" stroke="#b9b9b1" stroke-width="0.6" transform="rotate(14.2 33.4 107.1)"/><ellipse cx="33.4" cy="107.1" rx="3.3" ry="4.9" fill="url(#ga)" stroke="#9e9e96" stroke-width="0.5" transform="rotate(14.2 33.4 107.1)"/><path d="M55.4,111.1 q4.8,6 -3.5,13 M55.4,111.1 q2.5,5 -3.6,11" fill="none" stroke="#b9b9b1" stroke-width="0.6" transform="rotate(-24.6 55.4 107.1)"/><ellipse cx="55.4" cy="107.1" rx="3.3" ry="4.9" fill="url(#ga)" stroke="#9e9e96" stroke-width="0.5" transform="rotate(-24.6 55.4 107.1)"/><path d="M68.8,110.8 q-3.1,6 -1.2,13 M68.8,110.8 q6.2,5 -0.4,11" fill="none" stroke="#b9b9b1" stroke-width="0.6" transform="rotate(9.8 68.8 106.8)"/><ellipse cx="68.8" cy="106.8" rx="3.3" ry="4.9" fill="url(#ga)" stroke="#9e9e96" stroke-width="0.5" transform="rotate(9.8 68.8 106.8)"/><path d="M80.8,109.4 q1.6,6 -2.2,13 M80.8,109.4 q-4.6,5 -1.4,11" fill="none" stroke="#b9b9b1" stroke-width="0.6" transform="rotate(-6.3 80.8 105.4)"/><ellipse cx="80.8" cy="105.4" rx="3.3" ry="4.9" fill="url(#ga)" stroke="#9e9e96" stroke-width="0.5" transform="rotate(-6.3 80.8 105.4)"/><path d="M94.9,113.7 q-4.4,6 4.6,13 M94.9,113.7 q-6.5,5 3.7,11" fill="none" stroke="#b9b9b1" stroke-width="0.6" transform="rotate(-22.8 94.9 109.7)"/><ellipse cx="94.9" cy="109.7" rx="3.3" ry="4.9" fill="url(#ga)" stroke="#9e9e96" stroke-width="0.5" transform="rotate(-22.8 94.9 109.7)"/></svg>
<div class="cn" style="left:866.99px">Stonewort</div>
<div class="sp" style="left:866.99px;top:121.5px">(<i>C. richardii</i>)</div>
<svg class="im" style="left:874.99px" width="120" height="124" viewBox="0 0 120 124"><path d="M58,22 L58.3,116" stroke="#c3c3ba" stroke-width="1.6" fill="none"/><path d="M58,38.0 Q42.7,36.9 40.0,26.8 M58,38.0 Q47.3,36.5 45.4,23.0 M58,38.0 Q51.9,36.4 50.8,22.2 M58,38.0 Q73.3,36.9 76.0,26.8 M58,38.0 Q68.7,36.5 70.6,23.0 M58,38.0 Q64.1,36.4 65.2,22.2 M58,52.5 Q41.9,51.4 39.0,41.2 M58,52.5 Q46.7,51.0 44.7,37.5 M58,52.5 Q51.5,50.9 50.4,36.8 M58,52.5 Q74.2,51.4 77.0,41.2 M58,52.5 Q69.3,51.0 71.3,37.5 M58,52.5 Q64.5,50.9 65.6,36.8 M58,66.5 Q41.9,65.4 39.0,55.2 M58,66.5 Q46.7,65.0 44.7,51.5 M58,66.5 Q51.5,64.9 50.4,50.8 M58,66.5 Q74.2,65.4 77.0,55.2 M58,66.5 Q69.3,65.0 71.3,51.5 M58,66.5 Q64.5,64.9 65.6,50.8 M58,81.0 Q41.9,79.9 39.0,69.8 M58,81.0 Q46.7,79.5 44.7,66.0 M58,81.0 Q51.5,79.4 50.4,65.2 M58,81.0 Q74.2,79.9 77.0,69.8 M58,81.0 Q69.3,79.5 71.3,66.0 M58,81.0 Q64.5,79.4 65.6,65.2 M58,97.5 Q42.7,96.5 40.0,87.0 M58,97.5 Q47.3,96.1 45.4,83.5 M58,97.5 Q51.9,96.0 50.8,82.8 M58,97.5 Q73.3,96.5 76.0,87.0 M58,97.5 Q68.7,96.1 70.6,83.5 M58,97.5 Q64.1,96.0 65.2,82.8" stroke="#c3c3ba" stroke-width="0.85" fill="none"/><path d="M58.4,30.3 Q65.3,29.0 67.1,16.8 M58.7,34.3 Q46.4,33.3 43.3,24.6 M59.3,28.3 Q68.3,27.6 70.5,21.4 M57.9,19.4 Q58.6,18.4 58.8,8.8 M56.5,18.8 Q52.9,17.4 52.0,5.4 M58.8,17.5 Q63.4,16.8 64.6,10.4 M58.4,16.8 Q50.8,15.5 48.9,3.8 M57.1,18.7 Q65.0,17.4 67.0,5.8 M57.4,35.2 Q58.4,34.0 58.7,23.7 M57.1,34.7 Q62.1,33.3 63.4,21.0 M59.2,20.6 Q56.7,19.8 56.1,13.2 M56.9,15.4 Q54.1,14.4 53.4,4.6 M56.5,28.9 Q52.8,28.1 51.9,20.4 M59.0,24.6 Q55.3,23.6 54.3,14.7 M58.6,15.3 Q65.3,14.6 67.0,9.1 M58.7,32.6 Q46.7,31.4 43.7,20.3 M57.6,26.7 Q47.1,26.1 44.5,20.4 M57.0,35.0 Q49.0,33.8 47.0,23.0 M59.3,34.7 Q55.2,33.8 54.2,25.9 M58.1,31.1 Q48.6,29.9 46.3,19.1 M58.9,32.9 Q47.2,31.6 44.3,19.3 M56.8,21.5 Q58.8,20.2 59.3,8.2 M57.5,34.3 Q58.7,33.5 59.0,25.8 M57.5,17.9 Q50.8,17.2 49.1,10.7 M58.6,35.9 Q49.4,35.3 47.1,29.5 M59.5,25.7 Q57.5,24.9 57.0,17.8 M58.3,32.2 Q57.2,31.2 56.9,22.8 M56.7,34.2 Q44.5,33.2 41.5,24.2 M59.0,16.9 Q62.5,15.5 63.4,3.3 M58.4,31.3 Q48.8,30.4 46.5,21.9 M56.9,32.6 Q51.8,31.6 50.5,23.0 M59.5,32.7 Q71.5,31.8 74.5,23.1 M58.0,30.0 Q57.5,29.2 57.3,21.7 M57.7,17.2 Q55.8,15.8 55.3,3.3 M59.4,27.8 Q59.4,26.9 59.4,19.1 M56.8,20.0 Q61.6,18.7 62.8,7.1 M57.6,31.3 Q64.2,30.1 65.9,19.7 M58.5,30.7 Q55.2,29.5 54.4,19.1 M57.3,24.7 Q62.8,23.5 64.1,13.2 M57.4,34.8 Q61.3,33.7 62.3,24.2 M56.5,26.0 Q51.3,24.9 50.0,14.7 M57.9,32.0 Q61.5,30.7 62.4,19.6 M57.5,28.2 Q62.8,26.9 64.2,15.5 M57.6,32.5 Q66.8,31.4 69.1,21.0 M59.4,35.0 Q59.9,34.0 60.0,24.8 M57.0,32.4 Q67.9,31.4 70.6,22.6" stroke="#b7b7ad" stroke-width="0.7" fill="none"/></svg>
<div class="cn" style="left:1002.71px">Fern</div>
<div class="sp" style="left:1002.71px;top:121.5px">(<i>C. braunii</i>)</div>
<svg class="im" style="left:1010.71px" width="120" height="124" viewBox="0 0 120 124"><path d="M57.0,118.0 L55.2,116.2 L52.6,113.7 L49.6,110.8 L46.4,107.6 L43.1,104.6 L40.0,102.0 L36.8,99.6 L33.4,97.3 L29.9,95.0 L26.7,93.0 L24.0,91.3 L22.0,90.0" fill="none" stroke="#b9b9b5" stroke-width="1.0" stroke-linecap="round"/><path d="M46.9,108.0 L46.3,107.8 L45.5,107.6 L44.7,107.5 L43.8,107.4 L42.9,107.5 L42.0,107.7 L41.1,107.9 L40.3,108.2 L39.6,108.5 L38.8,109.0 L38.1,109.5 L37.4,110.1 L36.7,110.7 L36.2,111.4 L35.8,112.1 L35.5,112.7 L35.8,113.2 L36.4,113.4 L37.1,113.7 L38.0,113.8 L38.9,113.8 L39.8,113.7 L40.7,113.5 L41.6,113.3 L42.4,113.0 L43.1,112.7 L43.8,112.2 L44.6,111.7 L45.3,111.1 L45.9,110.5 L46.5,109.8 L46.9,109.1 L47.1,108.5Z" fill="#c6c6c2"/><path d="M47.3,108.3 L47.9,108.0 L48.5,107.6 L49.2,107.1 L49.8,106.4 L50.4,105.6 L50.8,104.9 L51.3,104.1 L51.6,103.3 L51.8,102.6 L52.0,101.7 L52.1,100.8 L52.1,99.9 L52.1,99.0 L51.9,98.1 L51.7,97.3 L51.4,96.7 L50.9,96.6 L50.3,96.9 L49.6,97.3 L49.0,97.9 L48.4,98.5 L47.8,99.3 L47.3,100.0 L46.9,100.8 L46.6,101.6 L46.4,102.4 L46.2,103.2 L46.1,104.1 L46.1,105.1 L46.1,106.0 L46.3,106.8 L46.5,107.6 L46.8,108.2Z" fill="#c6c6c2"/><path d="M42.3,103.8 L41.8,103.7 L41.1,103.5 L40.4,103.4 L39.6,103.5 L38.8,103.6 L38.0,103.7 L37.2,104.0 L36.6,104.2 L35.9,104.6 L35.3,105.0 L34.6,105.5 L34.0,106.0 L33.5,106.6 L33.1,107.2 L32.7,107.9 L32.5,108.4 L32.7,108.8 L33.3,109.0 L34.0,109.2 L34.7,109.2 L35.5,109.2 L36.3,109.1 L37.1,108.9 L37.8,108.7 L38.5,108.4 L39.1,108.1 L39.8,107.7 L40.4,107.2 L41.0,106.6 L41.6,106.1 L42.0,105.4 L42.3,104.8 L42.6,104.3Z" fill="#c6c6c2"/><path d="M42.7,104.1 L43.2,103.8 L43.8,103.4 L44.3,102.9 L44.8,102.3 L45.3,101.6 L45.7,100.9 L46.0,100.2 L46.3,99.6 L46.4,98.9 L46.6,98.1 L46.6,97.3 L46.6,96.5 L46.5,95.7 L46.4,95.0 L46.1,94.3 L45.9,93.8 L45.4,93.6 L44.9,93.9 L44.3,94.3 L43.8,94.8 L43.3,95.5 L42.8,96.1 L42.4,96.8 L42.1,97.5 L41.8,98.2 L41.7,98.9 L41.5,99.7 L41.5,100.5 L41.5,101.3 L41.6,102.1 L41.7,102.8 L42.0,103.5 L42.2,104.0Z" fill="#c6c6c2"/><path d="M38.1,100.4 L37.6,100.3 L37.0,100.2 L36.4,100.2 L35.7,100.3 L35.0,100.4 L34.4,100.6 L33.8,100.9 L33.3,101.1 L32.8,101.4 L32.2,101.8 L31.7,102.3 L31.3,102.8 L30.9,103.3 L30.5,103.9 L30.3,104.4 L30.2,104.9 L30.4,105.2 L30.8,105.3 L31.4,105.4 L32.0,105.4 L32.7,105.3 L33.4,105.2 L34.0,105.0 L34.6,104.8 L35.2,104.5 L35.7,104.2 L36.2,103.8 L36.7,103.3 L37.2,102.8 L37.6,102.3 L37.9,101.8 L38.1,101.2 L38.3,100.8Z" fill="#c6c6c2"/><path d="M38.4,100.6 L38.7,100.4 L39.2,100.0 L39.6,99.5 L40.0,99.0 L40.4,98.4 L40.7,97.8 L40.9,97.2 L41.0,96.6 L41.1,96.0 L41.2,95.4 L41.2,94.7 L41.1,94.0 L41.0,93.3 L40.8,92.7 L40.6,92.2 L40.4,91.8 L39.9,91.7 L39.6,92.0 L39.1,92.3 L38.7,92.8 L38.3,93.4 L37.9,93.9 L37.7,94.6 L37.4,95.2 L37.3,95.7 L37.2,96.3 L37.1,97.0 L37.1,97.6 L37.2,98.3 L37.3,99.0 L37.5,99.6 L37.7,100.1 L38.0,100.5Z" fill="#c6c6c2"/><path d="M34.0,97.6 L33.6,97.5 L33.2,97.5 L32.7,97.5 L32.1,97.6 L31.6,97.7 L31.1,97.9 L30.6,98.1 L30.2,98.3 L29.8,98.6 L29.4,98.9 L29.0,99.3 L28.7,99.7 L28.4,100.2 L28.1,100.6 L28.0,101.1 L27.9,101.4 L28.0,101.7 L28.4,101.8 L28.9,101.8 L29.4,101.8 L29.9,101.7 L30.4,101.6 L31.0,101.4 L31.4,101.2 L31.8,101.0 L32.2,100.7 L32.6,100.4 L33.0,100.0 L33.4,99.6 L33.7,99.1 L33.9,98.7 L34.1,98.2 L34.2,97.9Z" fill="#c6c6c2"/><path d="M34.3,97.8 L34.6,97.5 L34.9,97.2 L35.3,96.8 L35.5,96.4 L35.8,95.9 L36.0,95.4 L36.2,94.9 L36.3,94.4 L36.3,93.9 L36.3,93.4 L36.3,92.9 L36.3,92.3 L36.1,91.8 L36.0,91.3 L35.7,90.9 L35.5,90.6 L35.2,90.5 L34.9,90.8 L34.6,91.1 L34.2,91.5 L33.9,91.9 L33.7,92.4 L33.5,92.9 L33.3,93.4 L33.2,93.9 L33.2,94.4 L33.1,94.9 L33.2,95.4 L33.2,96.0 L33.3,96.5 L33.5,97.0 L33.7,97.4 L33.9,97.7Z" fill="#c6c6c2"/><path d="M29.9,94.9 L29.6,94.9 L29.2,94.8 L28.8,94.8 L28.4,94.9 L28.0,95.0 L27.7,95.2 L27.3,95.4 L27.0,95.5 L26.7,95.8 L26.4,96.0 L26.1,96.3 L25.9,96.6 L25.6,97.0 L25.5,97.3 L25.4,97.7 L25.3,97.9 L25.4,98.1 L25.7,98.2 L26.1,98.2 L26.4,98.2 L26.8,98.1 L27.2,98.0 L27.6,97.9 L28.0,97.7 L28.3,97.5 L28.6,97.3 L28.9,97.0 L29.2,96.7 L29.4,96.4 L29.6,96.1 L29.8,95.7 L29.9,95.4 L30.0,95.1Z" fill="#c6c6c2"/><path d="M30.1,95.0 L30.3,94.8 L30.5,94.6 L30.8,94.3 L31.0,93.9 L31.2,93.6 L31.3,93.2 L31.4,92.8 L31.5,92.5 L31.5,92.1 L31.5,91.7 L31.5,91.3 L31.5,90.9 L31.4,90.5 L31.2,90.1 L31.0,89.8 L30.9,89.6 L30.6,89.5 L30.4,89.7 L30.1,90.0 L29.9,90.3 L29.7,90.6 L29.5,91.0 L29.4,91.4 L29.3,91.7 L29.2,92.1 L29.2,92.5 L29.1,92.9 L29.2,93.3 L29.2,93.7 L29.3,94.1 L29.5,94.4 L29.7,94.7 L29.8,95.0Z" fill="#c6c6c2"/><path d="M26.6,92.9 L26.4,92.8 L26.2,92.8 L25.9,92.8 L25.6,92.9 L25.4,92.9 L25.1,93.0 L24.8,93.2 L24.6,93.3 L24.4,93.4 L24.2,93.6 L24.0,93.8 L23.9,94.1 L23.7,94.3 L23.6,94.6 L23.5,94.8 L23.5,95.0 L23.6,95.2 L23.8,95.2 L24.1,95.2 L24.3,95.2 L24.6,95.2 L24.9,95.1 L25.2,95.0 L25.4,94.9 L25.6,94.8 L25.8,94.6 L26.0,94.4 L26.2,94.2 L26.4,94.0 L26.5,93.7 L26.7,93.5 L26.7,93.2 L26.8,93.0Z" fill="#c6c6c2"/><path d="M26.8,93.0 L27.0,92.9 L27.2,92.7 L27.3,92.5 L27.5,92.2 L27.6,92.0 L27.7,91.7 L27.8,91.5 L27.9,91.2 L27.9,91.0 L27.9,90.7 L27.8,90.4 L27.8,90.1 L27.7,89.8 L27.6,89.6 L27.5,89.4 L27.3,89.2 L27.1,89.2 L27.0,89.3 L26.8,89.5 L26.6,89.7 L26.4,89.9 L26.3,90.2 L26.2,90.4 L26.1,90.7 L26.1,91.0 L26.1,91.2 L26.1,91.5 L26.1,91.8 L26.1,92.0 L26.2,92.3 L26.3,92.6 L26.5,92.8 L26.6,92.9Z" fill="#c6c6c2"/><path d="M62.0,118.0 L64.0,115.8 L66.8,112.9 L70.1,109.4 L73.6,105.6 L77.0,101.7 L80.0,98.0 L82.8,94.2 L85.8,90.0 L88.6,85.8 L91.2,81.8 L93.4,78.4 L95.0,76.0" fill="none" stroke="#b9b9b5" stroke-width="1.0" stroke-linecap="round"/><path d="M73.8,105.4 L74.0,104.8 L74.2,104.0 L74.3,103.2 L74.3,102.3 L74.2,101.4 L74.0,100.5 L73.7,99.6 L73.4,98.9 L73.1,98.1 L72.6,97.4 L72.1,96.7 L71.5,96.0 L70.8,95.3 L70.1,94.8 L69.4,94.5 L68.8,94.2 L68.3,94.4 L68.1,95.0 L67.9,95.8 L67.8,96.7 L67.8,97.6 L67.9,98.5 L68.1,99.4 L68.4,100.2 L68.6,101.0 L69.0,101.7 L69.5,102.5 L70.0,103.2 L70.6,103.9 L71.3,104.5 L72.0,105.0 L72.7,105.4 L73.3,105.7Z" fill="#c6c6c2"/><path d="M73.5,105.8 L73.8,106.4 L74.2,107.1 L74.8,107.7 L75.5,108.3 L76.3,108.8 L77.0,109.3 L77.8,109.7 L78.6,110.0 L79.4,110.2 L80.2,110.3 L81.2,110.4 L82.1,110.4 L83.0,110.3 L83.8,110.2 L84.6,109.9 L85.2,109.6 L85.4,109.1 L85.0,108.5 L84.6,107.9 L84.0,107.2 L83.3,106.6 L82.6,106.1 L81.8,105.6 L81.0,105.3 L80.2,105.0 L79.4,104.8 L78.6,104.6 L77.7,104.5 L76.7,104.5 L75.8,104.6 L75.0,104.7 L74.2,105.0 L73.6,105.3Z" fill="#c6c6c2"/><path d="M77.2,101.6 L77.4,101.0 L77.5,100.3 L77.6,99.5 L77.5,98.7 L77.4,97.9 L77.2,97.1 L77.0,96.3 L76.7,95.6 L76.4,95.0 L75.9,94.3 L75.4,93.7 L74.9,93.1 L74.2,92.5 L73.6,92.1 L73.0,91.8 L72.4,91.5 L72.0,91.8 L71.8,92.3 L71.6,93.0 L71.6,93.8 L71.6,94.6 L71.7,95.4 L71.9,96.3 L72.2,97.0 L72.4,97.7 L72.8,98.3 L73.2,99.0 L73.7,99.6 L74.3,100.3 L74.9,100.8 L75.5,101.3 L76.2,101.6 L76.7,101.8Z" fill="#c6c6c2"/><path d="M76.9,101.9 L77.2,102.4 L77.6,103.0 L78.1,103.6 L78.8,104.1 L79.5,104.6 L80.2,105.0 L80.9,105.3 L81.6,105.5 L82.3,105.7 L83.1,105.8 L83.9,105.9 L84.8,105.9 L85.6,105.8 L86.3,105.6 L87.0,105.3 L87.5,105.1 L87.7,104.6 L87.4,104.1 L87.0,103.5 L86.4,103.0 L85.8,102.4 L85.1,102.0 L84.4,101.6 L83.7,101.2 L83.0,101.0 L82.3,100.8 L81.5,100.7 L80.6,100.6 L79.8,100.7 L79.0,100.7 L78.2,100.9 L77.6,101.2 L77.0,101.4Z" fill="#c6c6c2"/><path d="M80.8,97.2 L80.9,96.7 L81.0,96.1 L81.0,95.4 L80.9,94.7 L80.8,94.0 L80.6,93.3 L80.3,92.6 L80.1,92.1 L79.7,91.5 L79.3,91.0 L78.8,90.4 L78.3,89.9 L77.8,89.5 L77.2,89.1 L76.6,88.9 L76.1,88.7 L75.8,88.9 L75.6,89.4 L75.5,90.0 L75.5,90.7 L75.6,91.4 L75.7,92.1 L75.9,92.8 L76.2,93.4 L76.4,94.0 L76.8,94.6 L77.2,95.1 L77.7,95.7 L78.2,96.2 L78.7,96.6 L79.3,97.0 L79.9,97.2 L80.4,97.4Z" fill="#c6c6c2"/><path d="M80.5,97.5 L80.8,97.9 L81.2,98.4 L81.7,98.9 L82.2,99.3 L82.9,99.7 L83.5,100.0 L84.2,100.2 L84.8,100.4 L85.4,100.5 L86.1,100.6 L86.8,100.6 L87.5,100.6 L88.2,100.5 L88.9,100.3 L89.4,100.0 L89.9,99.8 L90.0,99.3 L89.7,98.9 L89.3,98.4 L88.8,98.0 L88.3,97.5 L87.6,97.2 L87.0,96.9 L86.3,96.6 L85.7,96.4 L85.1,96.3 L84.4,96.2 L83.7,96.2 L83.0,96.3 L82.3,96.4 L81.6,96.6 L81.0,96.8 L80.6,97.1Z" fill="#c6c6c2"/><path d="M84.2,92.4 L84.3,92.0 L84.3,91.5 L84.3,90.9 L84.2,90.3 L84.1,89.7 L83.9,89.2 L83.7,88.6 L83.4,88.2 L83.1,87.7 L82.7,87.3 L82.3,86.8 L81.9,86.4 L81.4,86.0 L80.9,85.8 L80.4,85.6 L80.0,85.5 L79.7,85.7 L79.6,86.1 L79.5,86.6 L79.5,87.2 L79.6,87.8 L79.8,88.4 L79.9,88.9 L80.2,89.5 L80.4,89.9 L80.7,90.4 L81.1,90.8 L81.5,91.3 L82.0,91.7 L82.5,92.0 L83.0,92.3 L83.5,92.5 L83.9,92.6Z" fill="#c6c6c2"/><path d="M84.0,92.7 L84.2,93.1 L84.6,93.5 L85.0,93.8 L85.5,94.2 L86.1,94.5 L86.6,94.7 L87.2,94.9 L87.7,95.0 L88.2,95.1 L88.8,95.1 L89.4,95.1 L90.0,95.1 L90.6,94.9 L91.1,94.8 L91.6,94.5 L92.0,94.3 L92.1,93.9 L91.8,93.6 L91.5,93.2 L91.0,92.8 L90.5,92.5 L90.0,92.2 L89.4,91.9 L88.9,91.8 L88.4,91.6 L87.8,91.5 L87.2,91.5 L86.6,91.5 L86.0,91.6 L85.4,91.7 L84.9,91.9 L84.4,92.1 L84.1,92.4Z" fill="#c6c6c2"/><path d="M87.1,88.2 L87.1,87.9 L87.2,87.4 L87.2,87.0 L87.1,86.5 L86.9,86.0 L86.8,85.5 L86.6,85.1 L86.4,84.7 L86.1,84.4 L85.8,84.0 L85.5,83.6 L85.1,83.3 L84.7,83.0 L84.3,82.8 L83.9,82.7 L83.5,82.6 L83.3,82.7 L83.2,83.1 L83.2,83.5 L83.2,84.0 L83.3,84.5 L83.4,84.9 L83.6,85.4 L83.7,85.8 L84.0,86.2 L84.2,86.6 L84.5,86.9 L84.9,87.3 L85.2,87.6 L85.6,87.9 L86.1,88.1 L86.5,88.3 L86.8,88.4Z" fill="#c6c6c2"/><path d="M86.9,88.4 L87.1,88.7 L87.4,89.0 L87.8,89.3 L88.2,89.6 L88.6,89.8 L89.1,90.0 L89.5,90.2 L90.0,90.3 L90.4,90.3 L90.9,90.3 L91.4,90.3 L91.9,90.2 L92.4,90.1 L92.8,90.0 L93.2,89.8 L93.5,89.6 L93.5,89.3 L93.3,89.0 L93.0,88.7 L92.7,88.4 L92.2,88.1 L91.8,87.9 L91.3,87.7 L90.9,87.6 L90.5,87.5 L90.0,87.4 L89.5,87.4 L89.1,87.4 L88.6,87.5 L88.1,87.6 L87.6,87.7 L87.3,88.0 L87.0,88.1Z" fill="#c6c6c2"/><path d="M89.3,84.9 L89.3,84.6 L89.3,84.3 L89.3,83.9 L89.3,83.5 L89.2,83.1 L89.0,82.8 L88.9,82.4 L88.7,82.1 L88.5,81.9 L88.3,81.6 L88.0,81.3 L87.7,81.1 L87.4,80.8 L87.0,80.7 L86.7,80.6 L86.5,80.5 L86.3,80.6 L86.2,80.9 L86.2,81.2 L86.2,81.6 L86.3,82.0 L86.4,82.3 L86.5,82.7 L86.7,83.0 L86.8,83.3 L87.0,83.6 L87.3,83.9 L87.5,84.2 L87.8,84.4 L88.2,84.6 L88.5,84.8 L88.8,84.9 L89.1,85.0Z" fill="#c6c6c2"/><path d="M89.2,85.0 L89.3,85.3 L89.5,85.5 L89.8,85.7 L90.2,85.9 L90.5,86.1 L90.9,86.3 L91.2,86.4 L91.6,86.4 L91.9,86.5 L92.3,86.5 L92.7,86.5 L93.0,86.4 L93.4,86.3 L93.8,86.2 L94.1,86.0 L94.3,85.9 L94.3,85.6 L94.2,85.4 L93.9,85.2 L93.6,85.0 L93.3,84.8 L93.0,84.6 L92.6,84.4 L92.3,84.3 L91.9,84.3 L91.6,84.2 L91.2,84.2 L90.8,84.2 L90.4,84.3 L90.1,84.4 L89.7,84.5 L89.4,84.7 L89.2,84.8Z" fill="#c6c6c2"/><path d="M91.8,81.0 L91.8,80.8 L91.9,80.5 L91.9,80.3 L91.8,80.0 L91.7,79.7 L91.7,79.4 L91.5,79.2 L91.4,79.0 L91.3,78.8 L91.1,78.6 L90.9,78.4 L90.7,78.2 L90.4,78.0 L90.2,77.9 L89.9,77.9 L89.7,77.8 L89.5,77.9 L89.5,78.1 L89.5,78.4 L89.5,78.7 L89.5,78.9 L89.6,79.2 L89.7,79.5 L89.8,79.7 L89.9,80.0 L90.1,80.2 L90.2,80.4 L90.4,80.5 L90.7,80.7 L90.9,80.9 L91.2,81.0 L91.4,81.1 L91.6,81.1Z" fill="#c6c6c2"/><path d="M91.7,81.1 L91.8,81.3 L92.0,81.5 L92.2,81.7 L92.4,81.8 L92.7,82.0 L92.9,82.1 L93.2,82.2 L93.4,82.2 L93.7,82.3 L93.9,82.3 L94.2,82.2 L94.5,82.2 L94.8,82.1 L95.0,82.0 L95.3,81.9 L95.4,81.7 L95.4,81.5 L95.3,81.4 L95.2,81.2 L95.0,81.0 L94.7,80.8 L94.5,80.7 L94.2,80.6 L94.0,80.5 L93.7,80.5 L93.5,80.4 L93.2,80.4 L92.9,80.5 L92.6,80.5 L92.3,80.6 L92.1,80.7 L91.9,80.8 L91.7,80.9Z" fill="#c6c6c2"/><path d="M93.9,77.8 L93.9,77.6 L94.0,77.4 L94.0,77.2 L94.1,77.0 L94.0,76.8 L94.0,76.6 L93.9,76.5 L93.9,76.3 L93.8,76.2 L93.6,76.1 L93.5,76.0 L93.3,75.9 L93.1,75.8 L92.9,75.8 L92.7,75.8 L92.5,75.8 L92.4,75.9 L92.3,76.0 L92.2,76.2 L92.2,76.4 L92.2,76.6 L92.2,76.8 L92.2,77.0 L92.3,77.2 L92.4,77.3 L92.5,77.4 L92.6,77.6 L92.7,77.7 L92.9,77.8 L93.1,77.8 L93.3,77.9 L93.5,77.9 L93.7,77.9Z" fill="#c6c6c2"/><path d="M93.8,77.9 L93.8,78.1 L93.9,78.3 L94.0,78.5 L94.2,78.6 L94.3,78.7 L94.5,78.8 L94.7,78.9 L94.8,78.9 L95.0,78.9 L95.2,78.9 L95.3,78.9 L95.5,78.8 L95.7,78.7 L95.9,78.6 L96.0,78.5 L96.1,78.3 L96.2,78.1 L96.1,78.0 L96.0,77.8 L95.9,77.6 L95.8,77.5 L95.6,77.4 L95.4,77.3 L95.3,77.2 L95.1,77.2 L95.0,77.1 L94.8,77.2 L94.6,77.2 L94.4,77.3 L94.2,77.4 L94.1,77.5 L93.9,77.6 L93.8,77.8Z" fill="#c6c6c2"/><path d="M58.0,118.0 L56.3,114.1 L54.0,108.8 L51.3,102.5 L48.3,95.6 L45.1,88.6 L42.0,82.0 L38.5,75.1 L34.6,67.5 L30.5,59.8 L26.6,52.5 L23.3,46.4 L21.0,42.0" fill="none" stroke="#b9b9b5" stroke-width="1.0" stroke-linecap="round"/><path d="M49.5,98.1 L48.9,97.5 L48.2,96.9 L47.2,96.4 L46.2,95.9 L45.1,95.6 L44.0,95.3 L42.9,95.2 L41.9,95.1 L40.9,95.2 L39.8,95.3 L38.7,95.6 L37.6,95.9 L36.6,96.3 L35.6,96.9 L34.9,97.5 L34.3,98.0 L34.3,98.7 L34.8,99.2 L35.6,99.9 L36.6,100.4 L37.6,100.8 L38.7,101.2 L39.8,101.4 L40.9,101.6 L41.9,101.6 L42.9,101.6 L44.0,101.4 L45.1,101.2 L46.2,100.9 L47.2,100.4 L48.2,99.9 L48.9,99.3 L49.5,98.8Z" fill="#c6c6c2"/><path d="M49.8,98.7 L50.6,98.6 L51.6,98.4 L52.6,98.1 L53.6,97.6 L54.6,97.0 L55.5,96.4 L56.4,95.7 L57.1,95.0 L57.7,94.2 L58.3,93.3 L58.9,92.3 L59.4,91.3 L59.8,90.2 L60.0,89.2 L60.1,88.2 L60.1,87.4 L59.5,86.9 L58.8,87.0 L57.8,87.1 L56.7,87.5 L55.7,87.9 L54.7,88.5 L53.8,89.2 L53.0,89.9 L52.3,90.6 L51.6,91.4 L51.0,92.3 L50.4,93.2 L50.0,94.3 L49.6,95.3 L49.3,96.4 L49.3,97.4 L49.3,98.2Z" fill="#c6c6c2"/><path d="M46.4,91.1 L45.8,90.6 L45.1,90.0 L44.2,89.5 L43.2,89.1 L42.2,88.8 L41.2,88.6 L40.2,88.5 L39.2,88.4 L38.3,88.5 L37.2,88.6 L36.2,88.9 L35.2,89.2 L34.2,89.6 L33.3,90.1 L32.6,90.7 L32.0,91.2 L32.0,91.9 L32.6,92.4 L33.3,92.9 L34.2,93.4 L35.2,93.8 L36.2,94.1 L37.3,94.4 L38.3,94.5 L39.2,94.5 L40.2,94.5 L41.2,94.3 L42.3,94.1 L43.3,93.8 L44.3,93.4 L45.1,92.9 L45.9,92.3 L46.4,91.8Z" fill="#c6c6c2"/><path d="M46.7,91.6 L47.4,91.6 L48.3,91.4 L49.3,91.1 L50.2,90.6 L51.2,90.1 L52.0,89.4 L52.8,88.8 L53.5,88.1 L54.1,87.4 L54.6,86.5 L55.2,85.6 L55.6,84.6 L55.9,83.6 L56.2,82.6 L56.2,81.7 L56.2,80.9 L55.7,80.5 L55.0,80.6 L54.0,80.7 L53.1,81.0 L52.1,81.5 L51.2,82.1 L50.3,82.7 L49.6,83.3 L48.9,84.0 L48.3,84.8 L47.7,85.6 L47.2,86.5 L46.8,87.5 L46.4,88.5 L46.2,89.5 L46.2,90.5 L46.2,91.2Z" fill="#c6c6c2"/><path d="M43.9,85.6 L43.3,85.2 L42.7,84.6 L41.8,84.2 L40.9,83.8 L40.0,83.6 L39.0,83.4 L38.1,83.3 L37.2,83.2 L36.3,83.3 L35.4,83.4 L34.4,83.7 L33.5,84.0 L32.6,84.4 L31.8,84.9 L31.1,85.4 L30.6,85.9 L30.6,86.5 L31.1,87.0 L31.8,87.5 L32.7,87.9 L33.6,88.3 L34.5,88.6 L35.5,88.8 L36.4,88.9 L37.3,88.9 L38.2,88.8 L39.1,88.7 L40.1,88.4 L41.0,88.1 L41.9,87.7 L42.7,87.3 L43.4,86.7 L43.9,86.2Z" fill="#c6c6c2"/><path d="M44.1,86.1 L44.8,86.0 L45.6,85.9 L46.5,85.6 L47.4,85.1 L48.2,84.6 L49.0,84.0 L49.7,83.4 L50.4,82.8 L50.9,82.1 L51.4,81.3 L51.9,80.4 L52.3,79.5 L52.6,78.6 L52.8,77.7 L52.8,76.8 L52.8,76.1 L52.3,75.7 L51.6,75.8 L50.8,75.9 L49.9,76.3 L49.0,76.7 L48.2,77.2 L47.4,77.8 L46.7,78.4 L46.1,79.1 L45.5,79.8 L45.0,80.5 L44.6,81.4 L44.2,82.3 L43.8,83.3 L43.7,84.2 L43.6,85.0 L43.6,85.7Z" fill="#c6c6c2"/><path d="M41.4,80.4 L40.9,80.0 L40.2,79.6 L39.5,79.2 L38.6,78.9 L37.8,78.6 L36.9,78.5 L36.0,78.4 L35.2,78.4 L34.4,78.4 L33.6,78.6 L32.7,78.8 L31.9,79.1 L31.1,79.5 L30.3,80.0 L29.7,80.5 L29.3,80.9 L29.3,81.5 L29.8,81.9 L30.4,82.3 L31.2,82.7 L32.0,83.0 L32.9,83.3 L33.8,83.4 L34.6,83.5 L35.4,83.5 L36.2,83.5 L37.1,83.3 L37.9,83.1 L38.8,82.8 L39.6,82.4 L40.3,81.9 L40.9,81.4 L41.4,81.0Z" fill="#c6c6c2"/><path d="M41.6,80.9 L42.2,80.8 L43.0,80.6 L43.8,80.3 L44.6,79.9 L45.3,79.4 L46.0,78.9 L46.7,78.3 L47.2,77.7 L47.7,77.1 L48.1,76.3 L48.6,75.5 L48.9,74.7 L49.2,73.9 L49.3,73.0 L49.3,72.2 L49.3,71.6 L48.9,71.2 L48.3,71.3 L47.5,71.5 L46.7,71.8 L45.9,72.2 L45.1,72.7 L44.4,73.3 L43.8,73.8 L43.3,74.4 L42.8,75.1 L42.3,75.8 L41.9,76.6 L41.6,77.4 L41.3,78.3 L41.1,79.1 L41.1,79.9 L41.2,80.5Z" fill="#c6c6c2"/><path d="M38.5,74.8 L38.1,74.5 L37.5,74.1 L36.8,73.7 L36.1,73.5 L35.3,73.3 L34.5,73.1 L33.7,73.1 L33.0,73.1 L32.3,73.2 L31.5,73.3 L30.7,73.5 L30.0,73.8 L29.2,74.2 L28.6,74.6 L28.1,75.0 L27.7,75.4 L27.7,75.9 L28.1,76.3 L28.7,76.7 L29.4,77.1 L30.2,77.3 L31.0,77.5 L31.8,77.7 L32.5,77.7 L33.2,77.7 L34.0,77.6 L34.7,77.5 L35.5,77.3 L36.3,77.0 L37.0,76.6 L37.6,76.2 L38.2,75.8 L38.6,75.4Z" fill="#c6c6c2"/><path d="M38.7,75.3 L39.3,75.2 L40.0,75.0 L40.7,74.7 L41.4,74.4 L42.1,73.9 L42.7,73.4 L43.3,72.9 L43.8,72.3 L44.2,71.8 L44.6,71.1 L45.0,70.4 L45.3,69.6 L45.5,68.8 L45.6,68.1 L45.6,67.4 L45.6,66.8 L45.2,66.5 L44.6,66.6 L43.9,66.7 L43.2,67.0 L42.5,67.4 L41.8,67.8 L41.2,68.3 L40.6,68.9 L40.2,69.4 L39.7,70.0 L39.3,70.7 L39.0,71.4 L38.7,72.1 L38.5,72.9 L38.3,73.7 L38.3,74.4 L38.3,74.9Z" fill="#c6c6c2"/><path d="M36.2,70.4 L35.8,70.0 L35.3,69.7 L34.7,69.4 L34.0,69.1 L33.3,69.0 L32.6,68.9 L31.9,68.8 L31.3,68.8 L30.6,68.9 L29.9,69.0 L29.3,69.2 L28.6,69.5 L27.9,69.8 L27.4,70.2 L26.9,70.6 L26.6,70.9 L26.6,71.4 L27.0,71.7 L27.5,72.1 L28.1,72.4 L28.8,72.6 L29.5,72.8 L30.2,72.9 L30.9,72.9 L31.5,72.9 L32.1,72.9 L32.8,72.7 L33.5,72.5 L34.2,72.3 L34.8,72.0 L35.4,71.6 L35.9,71.2 L36.2,70.8Z" fill="#c6c6c2"/><path d="M36.4,70.7 L36.9,70.6 L37.5,70.5 L38.1,70.2 L38.7,69.9 L39.4,69.5 L39.9,69.0 L40.4,68.6 L40.8,68.1 L41.2,67.6 L41.6,67.0 L41.9,66.3 L42.1,65.6 L42.3,65.0 L42.4,64.3 L42.4,63.7 L42.4,63.2 L42.1,62.9 L41.6,63.0 L40.9,63.1 L40.3,63.4 L39.7,63.7 L39.1,64.1 L38.5,64.6 L38.0,65.0 L37.6,65.5 L37.2,66.0 L36.9,66.6 L36.6,67.3 L36.3,68.0 L36.1,68.6 L36.0,69.3 L36.0,69.9 L36.0,70.4Z" fill="#c6c6c2"/><path d="M33.8,65.7 L33.4,65.5 L33.0,65.1 L32.4,64.9 L31.8,64.7 L31.2,64.5 L30.6,64.4 L30.0,64.4 L29.4,64.4 L28.9,64.5 L28.3,64.6 L27.7,64.8 L27.1,65.0 L26.5,65.3 L26.0,65.6 L25.6,66.0 L25.3,66.3 L25.3,66.7 L25.7,67.0 L26.1,67.3 L26.7,67.5 L27.3,67.7 L27.9,67.9 L28.5,68.0 L29.1,68.0 L29.7,68.0 L30.2,67.9 L30.8,67.8 L31.4,67.6 L32.0,67.4 L32.6,67.1 L33.1,66.8 L33.5,66.4 L33.8,66.1Z" fill="#c6c6c2"/><path d="M33.9,66.0 L34.4,66.0 L34.9,65.8 L35.4,65.6 L36.0,65.3 L36.5,65.0 L37.0,64.6 L37.4,64.1 L37.8,63.7 L38.1,63.3 L38.4,62.7 L38.7,62.2 L38.9,61.6 L39.1,61.0 L39.2,60.4 L39.2,59.8 L39.2,59.4 L38.9,59.2 L38.4,59.2 L37.9,59.4 L37.3,59.6 L36.8,59.9 L36.3,60.2 L35.8,60.6 L35.3,61.1 L35.0,61.5 L34.7,61.9 L34.3,62.5 L34.1,63.0 L33.8,63.6 L33.7,64.2 L33.6,64.8 L33.6,65.4 L33.6,65.8Z" fill="#c6c6c2"/><path d="M31.3,61.1 L31.0,60.9 L30.6,60.6 L30.1,60.4 L29.6,60.2 L29.1,60.1 L28.6,60.0 L28.1,60.0 L27.6,60.0 L27.1,60.0 L26.6,60.1 L26.1,60.3 L25.6,60.5 L25.1,60.7 L24.7,61.0 L24.3,61.3 L24.0,61.6 L24.1,62.0 L24.4,62.2 L24.8,62.5 L25.2,62.7 L25.7,62.8 L26.3,63.0 L26.8,63.1 L27.3,63.1 L27.8,63.1 L28.3,63.0 L28.8,62.9 L29.3,62.8 L29.8,62.6 L30.3,62.3 L30.7,62.0 L31.1,61.7 L31.3,61.4Z" fill="#c6c6c2"/><path d="M31.4,61.4 L31.8,61.3 L32.3,61.2 L32.8,61.0 L33.2,60.7 L33.7,60.4 L34.1,60.1 L34.5,59.7 L34.8,59.4 L35.1,59.0 L35.3,58.5 L35.5,58.0 L35.7,57.5 L35.9,57.0 L36.0,56.5 L36.0,56.0 L35.9,55.7 L35.7,55.4 L35.3,55.5 L34.8,55.6 L34.4,55.8 L33.9,56.1 L33.4,56.4 L33.0,56.7 L32.6,57.1 L32.3,57.5 L32.1,57.8 L31.8,58.3 L31.6,58.8 L31.4,59.3 L31.2,59.8 L31.1,60.3 L31.2,60.8 L31.2,61.2Z" fill="#c6c6c2"/><path d="M28.9,56.6 L28.6,56.4 L28.3,56.2 L27.9,56.0 L27.5,55.9 L27.1,55.8 L26.6,55.7 L26.2,55.7 L25.8,55.7 L25.4,55.7 L24.9,55.8 L24.5,56.0 L24.1,56.1 L23.7,56.3 L23.3,56.6 L23.0,56.8 L22.8,57.1 L22.8,57.4 L23.1,57.5 L23.4,57.8 L23.8,58.0 L24.2,58.1 L24.7,58.2 L25.1,58.3 L25.6,58.3 L26.0,58.3 L26.4,58.2 L26.8,58.1 L27.2,58.0 L27.6,57.8 L28.0,57.6 L28.4,57.4 L28.7,57.1 L28.9,56.9Z" fill="#c6c6c2"/><path d="M29.0,56.9 L29.3,56.8 L29.7,56.7 L30.1,56.5 L30.5,56.3 L30.9,56.1 L31.2,55.8 L31.5,55.5 L31.8,55.2 L32.0,54.8 L32.3,54.4 L32.5,54.0 L32.6,53.6 L32.7,53.2 L32.8,52.7 L32.8,52.3 L32.8,52.0 L32.5,51.9 L32.2,51.9 L31.8,52.0 L31.4,52.2 L31.1,52.4 L30.7,52.7 L30.3,52.9 L30.0,53.3 L29.8,53.6 L29.5,53.9 L29.3,54.3 L29.1,54.7 L28.9,55.1 L28.8,55.5 L28.8,56.0 L28.8,56.4 L28.8,56.7Z" fill="#c6c6c2"/><path d="M27.4,53.8 L27.2,53.6 L26.9,53.4 L26.6,53.3 L26.2,53.2 L25.9,53.1 L25.5,53.0 L25.1,53.0 L24.8,53.0 L24.5,53.1 L24.1,53.1 L23.8,53.2 L23.4,53.4 L23.1,53.5 L22.8,53.7 L22.6,54.0 L22.4,54.1 L22.4,54.4 L22.6,54.5 L22.9,54.7 L23.2,54.9 L23.6,55.0 L23.9,55.1 L24.3,55.1 L24.6,55.1 L25.0,55.1 L25.3,55.1 L25.6,55.0 L26.0,54.9 L26.3,54.8 L26.7,54.6 L27.0,54.4 L27.2,54.2 L27.4,54.0Z" fill="#c6c6c2"/><path d="M27.5,54.0 L27.7,53.9 L28.0,53.8 L28.3,53.7 L28.7,53.5 L29.0,53.3 L29.3,53.1 L29.5,52.8 L29.7,52.6 L29.9,52.3 L30.1,52.0 L30.2,51.7 L30.4,51.3 L30.5,51.0 L30.5,50.6 L30.5,50.3 L30.5,50.0 L30.3,49.9 L30.1,50.0 L29.7,50.0 L29.4,50.2 L29.1,50.3 L28.8,50.6 L28.5,50.8 L28.3,51.0 L28.1,51.3 L27.9,51.6 L27.7,51.9 L27.5,52.2 L27.4,52.5 L27.3,52.9 L27.3,53.2 L27.3,53.6 L27.3,53.8Z" fill="#c6c6c2"/><path d="M25.2,49.8 L25.1,49.7 L24.8,49.5 L24.6,49.4 L24.3,49.3 L24.1,49.2 L23.8,49.2 L23.5,49.1 L23.2,49.1 L23.0,49.2 L22.7,49.2 L22.4,49.3 L22.2,49.4 L21.9,49.6 L21.7,49.7 L21.5,49.9 L21.4,50.1 L21.4,50.3 L21.6,50.4 L21.8,50.6 L22.0,50.7 L22.3,50.8 L22.6,50.9 L22.8,50.9 L23.1,50.9 L23.4,50.9 L23.6,50.9 L23.9,50.8 L24.2,50.8 L24.4,50.6 L24.7,50.5 L24.9,50.3 L25.1,50.2 L25.2,50.0Z" fill="#c6c6c2"/><path d="M25.3,50.0 L25.5,49.9 L25.8,49.9 L26.0,49.8 L26.3,49.7 L26.5,49.5 L26.7,49.3 L26.9,49.1 L27.1,48.9 L27.3,48.7 L27.4,48.5 L27.5,48.2 L27.6,47.9 L27.7,47.7 L27.7,47.4 L27.7,47.1 L27.7,46.9 L27.5,46.8 L27.3,46.8 L27.0,46.9 L26.8,47.0 L26.5,47.1 L26.3,47.3 L26.1,47.5 L25.9,47.6 L25.7,47.8 L25.5,48.0 L25.4,48.3 L25.3,48.5 L25.2,48.8 L25.1,49.1 L25.1,49.4 L25.1,49.6 L25.1,49.8Z" fill="#c6c6c2"/><path d="M22.8,45.3 L22.7,45.1 L22.5,45.0 L22.3,44.8 L22.1,44.7 L21.9,44.6 L21.7,44.6 L21.5,44.6 L21.3,44.6 L21.2,44.6 L21.0,44.6 L20.8,44.7 L20.6,44.8 L20.4,45.0 L20.3,45.1 L20.1,45.3 L20.0,45.5 L20.0,45.7 L20.2,45.8 L20.3,46.0 L20.5,46.1 L20.7,46.2 L20.9,46.3 L21.1,46.3 L21.3,46.4 L21.5,46.4 L21.7,46.3 L21.9,46.3 L22.0,46.2 L22.2,46.1 L22.4,46.0 L22.6,45.8 L22.7,45.6 L22.8,45.5Z" fill="#c6c6c2"/><path d="M22.9,45.4 L23.0,45.4 L23.3,45.4 L23.5,45.4 L23.7,45.3 L23.9,45.2 L24.1,45.1 L24.2,45.0 L24.3,44.8 L24.4,44.7 L24.5,44.5 L24.6,44.3 L24.6,44.1 L24.7,43.9 L24.7,43.6 L24.6,43.4 L24.6,43.2 L24.4,43.1 L24.2,43.1 L24.0,43.1 L23.8,43.2 L23.6,43.2 L23.4,43.3 L23.2,43.5 L23.0,43.6 L22.9,43.7 L22.8,43.9 L22.7,44.1 L22.7,44.3 L22.6,44.5 L22.6,44.7 L22.6,44.9 L22.7,45.1 L22.7,45.3Z" fill="#c6c6c2"/><path d="M60.0,118.0 L62.3,113.4 L65.5,107.0 L69.2,99.4 L73.2,91.1 L76.9,82.8 L80.0,75.0 L82.6,67.0 L85.0,58.2 L87.2,49.3 L89.2,41.0 L90.8,34.0 L92.0,29.0" fill="none" stroke="#b9b9b5" stroke-width="1.0" stroke-linecap="round"/><path d="M71.1,95.9 L71.1,95.1 L71.1,94.1 L70.9,93.1 L70.5,92.0 L70.1,90.9 L69.6,89.9 L69.0,89.0 L68.4,88.2 L67.7,87.5 L66.9,86.7 L66.0,86.1 L65.0,85.4 L64.0,84.9 L63.0,84.6 L62.0,84.4 L61.2,84.3 L60.7,84.7 L60.7,85.5 L60.7,86.5 L60.9,87.6 L61.2,88.6 L61.7,89.7 L62.2,90.7 L62.8,91.6 L63.4,92.4 L64.1,93.2 L64.9,93.9 L65.8,94.6 L66.8,95.2 L67.8,95.7 L68.8,96.1 L69.8,96.3 L70.6,96.4Z" fill="#c6c6c2"/><path d="M70.8,96.5 L71.4,97.0 L72.2,97.7 L73.1,98.2 L74.1,98.7 L75.2,99.1 L76.3,99.3 L77.4,99.5 L78.4,99.6 L79.4,99.6 L80.4,99.5 L81.6,99.3 L82.7,99.0 L83.7,98.6 L84.7,98.1 L85.5,97.5 L86.1,96.9 L86.1,96.2 L85.5,95.7 L84.8,95.0 L83.8,94.5 L82.8,94.0 L81.7,93.7 L80.6,93.4 L79.6,93.2 L78.6,93.1 L77.5,93.1 L76.5,93.2 L75.3,93.5 L74.2,93.8 L73.2,94.2 L72.2,94.7 L71.4,95.3 L70.8,95.8Z" fill="#c6c6c2"/><path d="M74.2,89.3 L74.2,88.5 L74.2,87.6 L74.0,86.6 L73.6,85.5 L73.2,84.6 L72.7,83.6 L72.1,82.7 L71.5,82.0 L70.8,81.3 L70.0,80.6 L69.2,80.0 L68.2,79.4 L67.3,79.0 L66.3,78.6 L65.4,78.5 L64.6,78.4 L64.1,78.8 L64.1,79.6 L64.2,80.5 L64.4,81.5 L64.7,82.5 L65.2,83.5 L65.7,84.5 L66.3,85.3 L66.9,86.1 L67.5,86.8 L68.3,87.4 L69.2,88.1 L70.1,88.6 L71.1,89.1 L72.0,89.4 L73.0,89.6 L73.7,89.7Z" fill="#c6c6c2"/><path d="M74.0,89.8 L74.5,90.3 L75.2,90.9 L76.1,91.4 L77.1,91.9 L78.1,92.2 L79.2,92.4 L80.2,92.6 L81.2,92.6 L82.1,92.6 L83.1,92.5 L84.2,92.3 L85.2,91.9 L86.2,91.5 L87.1,91.1 L87.9,90.5 L88.4,90.0 L88.4,89.3 L87.9,88.8 L87.2,88.2 L86.3,87.7 L85.3,87.3 L84.3,86.9 L83.2,86.7 L82.2,86.5 L81.2,86.5 L80.3,86.5 L79.3,86.6 L78.2,86.9 L77.2,87.2 L76.2,87.6 L75.3,88.1 L74.5,88.6 L74.0,89.1Z" fill="#c6c6c2"/><path d="M76.4,84.3 L76.4,83.6 L76.4,82.7 L76.1,81.8 L75.8,80.8 L75.4,79.9 L74.9,79.0 L74.3,78.2 L73.7,77.6 L73.1,76.9 L72.4,76.3 L71.5,75.7 L70.7,75.2 L69.8,74.8 L68.9,74.5 L68.0,74.4 L67.3,74.3 L66.8,74.7 L66.8,75.4 L66.9,76.3 L67.1,77.2 L67.4,78.2 L67.9,79.1 L68.4,80.0 L68.9,80.8 L69.5,81.5 L70.1,82.1 L70.9,82.7 L71.7,83.3 L72.6,83.8 L73.5,84.2 L74.4,84.5 L75.3,84.6 L76.0,84.7Z" fill="#c6c6c2"/><path d="M76.2,84.8 L76.7,85.3 L77.4,85.8 L78.2,86.3 L79.2,86.6 L80.1,86.9 L81.1,87.1 L82.1,87.3 L83.0,87.3 L83.9,87.3 L84.8,87.1 L85.8,86.9 L86.8,86.6 L87.7,86.2 L88.5,85.7 L89.2,85.2 L89.7,84.7 L89.7,84.1 L89.2,83.6 L88.5,83.0 L87.7,82.6 L86.7,82.2 L85.8,81.9 L84.8,81.7 L83.8,81.6 L82.9,81.5 L82.0,81.6 L81.1,81.7 L80.1,82.0 L79.1,82.3 L78.2,82.7 L77.4,83.1 L76.7,83.7 L76.2,84.2Z" fill="#c6c6c2"/><path d="M79.1,77.8 L79.0,77.2 L78.9,76.4 L78.7,75.5 L78.4,74.7 L77.9,73.9 L77.4,73.1 L76.9,72.4 L76.4,71.7 L75.7,71.2 L75.0,70.6 L74.3,70.1 L73.4,69.7 L72.6,69.3 L71.7,69.1 L70.9,69.0 L70.3,69.0 L69.9,69.4 L69.9,70.0 L70.0,70.8 L70.2,71.7 L70.6,72.5 L71.0,73.4 L71.5,74.2 L72.0,74.9 L72.6,75.5 L73.2,76.0 L73.9,76.6 L74.7,77.1 L75.5,77.5 L76.4,77.9 L77.2,78.1 L78.0,78.2 L78.7,78.2Z" fill="#c6c6c2"/><path d="M78.9,78.3 L79.4,78.7 L80.0,79.2 L80.8,79.6 L81.7,79.9 L82.6,80.2 L83.5,80.3 L84.4,80.4 L85.2,80.4 L86.0,80.3 L86.9,80.2 L87.8,79.9 L88.7,79.6 L89.5,79.2 L90.3,78.7 L90.9,78.2 L91.3,77.8 L91.3,77.2 L90.8,76.8 L90.1,76.3 L89.4,75.9 L88.5,75.6 L87.6,75.3 L86.7,75.2 L85.8,75.1 L85.0,75.1 L84.1,75.2 L83.3,75.3 L82.4,75.6 L81.5,75.9 L80.7,76.3 L79.9,76.8 L79.3,77.3 L78.8,77.8Z" fill="#c6c6c2"/><path d="M80.7,73.3 L80.7,72.7 L80.5,72.0 L80.3,71.2 L80.0,70.4 L79.5,69.7 L79.1,69.0 L78.5,68.4 L78.0,67.8 L77.4,67.3 L76.8,66.9 L76.0,66.4 L75.3,66.1 L74.5,65.8 L73.7,65.6 L72.9,65.5 L72.4,65.5 L72.0,65.9 L72.0,66.5 L72.2,67.2 L72.4,68.0 L72.7,68.8 L73.2,69.5 L73.7,70.2 L74.2,70.8 L74.7,71.4 L75.3,71.9 L75.9,72.3 L76.7,72.8 L77.4,73.1 L78.2,73.4 L79.0,73.6 L79.8,73.7 L80.3,73.7Z" fill="#c6c6c2"/><path d="M80.6,73.8 L81.0,74.1 L81.7,74.5 L82.4,74.9 L83.2,75.1 L84.0,75.3 L84.9,75.4 L85.7,75.4 L86.4,75.4 L87.2,75.3 L88.0,75.1 L88.8,74.9 L89.6,74.6 L90.3,74.2 L91.0,73.7 L91.5,73.2 L91.9,72.8 L91.9,72.2 L91.4,71.9 L90.8,71.5 L90.1,71.1 L89.3,70.9 L88.4,70.7 L87.6,70.6 L86.8,70.5 L86.0,70.6 L85.3,70.7 L84.5,70.9 L83.7,71.1 L82.9,71.4 L82.1,71.8 L81.5,72.3 L80.9,72.8 L80.5,73.2Z" fill="#c6c6c2"/><path d="M82.3,68.5 L82.2,68.0 L82.1,67.3 L81.8,66.6 L81.5,65.9 L81.1,65.3 L80.6,64.6 L80.1,64.1 L79.6,63.6 L79.1,63.2 L78.5,62.8 L77.8,62.4 L77.1,62.1 L76.4,61.9 L75.7,61.7 L75.0,61.7 L74.4,61.7 L74.1,62.1 L74.2,62.6 L74.3,63.3 L74.6,63.9 L74.9,64.6 L75.3,65.3 L75.8,65.9 L76.3,66.5 L76.7,66.9 L77.3,67.4 L77.9,67.8 L78.6,68.1 L79.3,68.4 L80.0,68.7 L80.7,68.8 L81.4,68.9 L81.9,68.8Z" fill="#c6c6c2"/><path d="M82.1,68.9 L82.6,69.2 L83.1,69.6 L83.8,69.8 L84.5,70.0 L85.3,70.2 L86.1,70.3 L86.8,70.3 L87.5,70.2 L88.2,70.1 L88.9,69.9 L89.6,69.7 L90.3,69.3 L91.0,69.0 L91.6,68.5 L92.0,68.1 L92.4,67.7 L92.3,67.2 L91.9,66.9 L91.3,66.5 L90.6,66.2 L89.9,66.0 L89.1,65.9 L88.4,65.8 L87.6,65.8 L87.0,65.9 L86.3,66.0 L85.6,66.2 L84.8,66.4 L84.1,66.7 L83.5,67.1 L82.9,67.5 L82.4,68.0 L82.1,68.4Z" fill="#c6c6c2"/><path d="M83.7,63.3 L83.7,62.9 L83.5,62.3 L83.3,61.7 L83.0,61.1 L82.6,60.5 L82.2,59.9 L81.7,59.4 L81.3,59.0 L80.8,58.7 L80.2,58.3 L79.6,58.0 L79.0,57.7 L78.3,57.5 L77.7,57.4 L77.1,57.4 L76.6,57.4 L76.3,57.8 L76.4,58.2 L76.5,58.8 L76.7,59.4 L77.1,60.0 L77.4,60.6 L77.9,61.2 L78.3,61.7 L78.8,62.1 L79.3,62.4 L79.8,62.8 L80.4,63.1 L81.1,63.4 L81.7,63.6 L82.4,63.7 L83.0,63.7 L83.5,63.7Z" fill="#c6c6c2"/><path d="M83.6,63.7 L84.0,64.0 L84.6,64.3 L85.2,64.5 L85.8,64.7 L86.5,64.8 L87.2,64.9 L87.9,64.9 L88.5,64.8 L89.1,64.7 L89.7,64.5 L90.4,64.2 L91.0,63.9 L91.6,63.6 L92.1,63.2 L92.5,62.8 L92.8,62.4 L92.7,62.0 L92.3,61.7 L91.8,61.4 L91.2,61.2 L90.5,61.0 L89.9,60.9 L89.2,60.8 L88.5,60.8 L87.9,60.9 L87.3,61.0 L86.7,61.2 L86.0,61.4 L85.4,61.7 L84.8,62.1 L84.3,62.5 L83.9,62.9 L83.6,63.3Z" fill="#c6c6c2"/><path d="M85.2,58.0 L85.1,57.6 L85.0,57.1 L84.8,56.6 L84.5,56.0 L84.1,55.5 L83.7,55.0 L83.3,54.6 L82.9,54.3 L82.5,53.9 L82.0,53.6 L81.4,53.4 L80.9,53.2 L80.3,53.0 L79.7,52.9 L79.2,52.9 L78.7,52.9 L78.5,53.2 L78.6,53.6 L78.7,54.2 L78.9,54.7 L79.2,55.2 L79.5,55.7 L79.9,56.2 L80.3,56.6 L80.7,57.0 L81.2,57.3 L81.7,57.6 L82.2,57.9 L82.8,58.1 L83.4,58.3 L84.0,58.4 L84.5,58.4 L84.9,58.3Z" fill="#c6c6c2"/><path d="M85.1,58.4 L85.4,58.6 L85.9,58.9 L86.4,59.1 L87.0,59.2 L87.6,59.3 L88.2,59.3 L88.8,59.3 L89.4,59.2 L89.9,59.1 L90.5,59.0 L91.0,58.7 L91.6,58.5 L92.1,58.1 L92.5,57.8 L92.9,57.4 L93.2,57.0 L93.1,56.7 L92.7,56.4 L92.3,56.2 L91.7,56.0 L91.1,55.8 L90.5,55.8 L89.9,55.7 L89.3,55.7 L88.8,55.8 L88.3,55.9 L87.7,56.1 L87.1,56.3 L86.6,56.6 L86.1,56.9 L85.6,57.3 L85.3,57.7 L85.0,58.0Z" fill="#c6c6c2"/><path d="M86.5,52.7 L86.4,52.3 L86.3,51.9 L86.1,51.4 L85.9,51.0 L85.6,50.5 L85.2,50.1 L84.9,49.7 L84.5,49.4 L84.1,49.2 L83.7,48.9 L83.2,48.7 L82.7,48.5 L82.2,48.4 L81.7,48.3 L81.2,48.3 L80.9,48.3 L80.6,48.6 L80.7,48.9 L80.8,49.4 L81.0,49.9 L81.3,50.3 L81.6,50.8 L81.9,51.2 L82.3,51.5 L82.6,51.8 L83.0,52.1 L83.5,52.4 L83.9,52.6 L84.5,52.8 L85.0,52.9 L85.5,53.0 L85.9,53.0 L86.3,53.0Z" fill="#c6c6c2"/><path d="M86.4,53.0 L86.7,53.2 L87.2,53.4 L87.6,53.6 L88.1,53.7 L88.7,53.8 L89.2,53.8 L89.7,53.8 L90.2,53.7 L90.6,53.6 L91.1,53.4 L91.6,53.2 L92.1,53.0 L92.5,52.7 L92.9,52.4 L93.2,52.0 L93.5,51.7 L93.4,51.4 L93.1,51.2 L92.7,51.0 L92.2,50.8 L91.7,50.7 L91.2,50.6 L90.6,50.6 L90.1,50.6 L89.6,50.7 L89.2,50.8 L88.7,51.0 L88.2,51.2 L87.7,51.4 L87.3,51.7 L86.9,52.0 L86.6,52.4 L86.4,52.7Z" fill="#c6c6c2"/><path d="M87.7,47.5 L87.7,47.2 L87.6,46.8 L87.4,46.4 L87.2,46.0 L86.9,45.6 L86.6,45.3 L86.3,45.0 L86.0,44.7 L85.7,44.5 L85.3,44.3 L84.9,44.1 L84.5,43.9 L84.0,43.8 L83.6,43.7 L83.2,43.7 L82.9,43.8 L82.7,44.0 L82.8,44.3 L82.9,44.7 L83.0,45.1 L83.3,45.5 L83.5,45.9 L83.8,46.2 L84.1,46.5 L84.4,46.8 L84.8,47.0 L85.2,47.2 L85.6,47.4 L86.0,47.6 L86.4,47.7 L86.9,47.7 L87.3,47.7 L87.6,47.7Z" fill="#c6c6c2"/><path d="M87.7,47.7 L88.0,47.9 L88.3,48.1 L88.7,48.2 L89.2,48.3 L89.6,48.4 L90.1,48.4 L90.5,48.4 L90.9,48.3 L91.3,48.2 L91.7,48.1 L92.1,47.9 L92.5,47.7 L92.9,47.4 L93.2,47.2 L93.5,46.9 L93.7,46.6 L93.6,46.3 L93.4,46.2 L93.0,46.0 L92.6,45.8 L92.2,45.7 L91.7,45.7 L91.3,45.7 L90.8,45.7 L90.4,45.7 L90.0,45.8 L89.6,46.0 L89.2,46.2 L88.8,46.4 L88.4,46.6 L88.1,46.9 L87.8,47.2 L87.6,47.4Z" fill="#c6c6c2"/><path d="M88.5,44.1 L88.5,43.9 L88.4,43.6 L88.2,43.2 L88.1,42.9 L87.8,42.6 L87.6,42.3 L87.3,42.0 L87.1,41.8 L86.8,41.6 L86.5,41.5 L86.1,41.3 L85.8,41.2 L85.4,41.1 L85.1,41.0 L84.7,41.0 L84.5,41.1 L84.3,41.3 L84.4,41.5 L84.4,41.8 L84.6,42.2 L84.8,42.5 L85.0,42.8 L85.2,43.1 L85.5,43.3 L85.8,43.6 L86.0,43.8 L86.4,43.9 L86.7,44.1 L87.1,44.2 L87.4,44.3 L87.8,44.4 L88.1,44.3 L88.4,44.3Z" fill="#c6c6c2"/><path d="M88.5,44.3 L88.7,44.5 L89.0,44.6 L89.3,44.8 L89.7,44.8 L90.1,44.9 L90.5,44.9 L90.8,44.9 L91.2,44.8 L91.5,44.7 L91.8,44.6 L92.2,44.5 L92.5,44.3 L92.8,44.1 L93.1,43.9 L93.3,43.6 L93.5,43.4 L93.4,43.2 L93.2,43.0 L92.9,42.9 L92.6,42.7 L92.2,42.7 L91.8,42.6 L91.4,42.6 L91.1,42.6 L90.7,42.7 L90.4,42.8 L90.1,42.9 L89.7,43.0 L89.4,43.2 L89.1,43.4 L88.8,43.7 L88.6,43.9 L88.4,44.1Z" fill="#c6c6c2"/><path d="M89.6,39.4 L89.6,39.2 L89.5,39.0 L89.4,38.7 L89.2,38.4 L89.0,38.2 L88.8,37.9 L88.6,37.7 L88.4,37.6 L88.2,37.4 L88.0,37.3 L87.7,37.1 L87.4,37.0 L87.1,37.0 L86.8,36.9 L86.5,37.0 L86.3,37.0 L86.2,37.1 L86.2,37.3 L86.3,37.6 L86.4,37.9 L86.6,38.1 L86.7,38.4 L86.9,38.6 L87.1,38.8 L87.4,39.0 L87.6,39.2 L87.8,39.3 L88.1,39.4 L88.4,39.5 L88.7,39.6 L89.0,39.6 L89.3,39.6 L89.5,39.6Z" fill="#c6c6c2"/><path d="M89.6,39.6 L89.7,39.7 L90.0,39.9 L90.2,39.9 L90.5,40.0 L90.9,40.0 L91.2,40.1 L91.4,40.0 L91.7,40.0 L92.0,39.9 L92.3,39.8 L92.5,39.7 L92.8,39.6 L93.1,39.4 L93.3,39.2 L93.4,39.0 L93.6,38.8 L93.5,38.6 L93.4,38.5 L93.1,38.4 L92.8,38.3 L92.5,38.2 L92.2,38.2 L91.9,38.2 L91.6,38.2 L91.4,38.2 L91.1,38.3 L90.8,38.4 L90.6,38.5 L90.3,38.7 L90.0,38.8 L89.8,39.0 L89.6,39.2 L89.5,39.4Z" fill="#c6c6c2"/><path d="M90.6,35.2 L90.5,35.0 L90.5,34.8 L90.5,34.6 L90.4,34.3 L90.2,34.1 L90.1,33.9 L89.9,33.8 L89.8,33.6 L89.6,33.5 L89.4,33.4 L89.2,33.4 L89.0,33.3 L88.7,33.3 L88.5,33.3 L88.2,33.3 L88.1,33.4 L87.9,33.5 L87.9,33.7 L88.0,33.9 L88.0,34.2 L88.1,34.4 L88.3,34.6 L88.4,34.8 L88.6,35.0 L88.7,35.1 L88.9,35.2 L89.1,35.3 L89.3,35.4 L89.5,35.4 L89.8,35.5 L90.0,35.5 L90.3,35.4 L90.4,35.4Z" fill="#c6c6c2"/><path d="M90.5,35.4 L90.7,35.5 L90.9,35.7 L91.1,35.8 L91.3,35.8 L91.5,35.9 L91.8,35.9 L92.0,35.9 L92.2,35.9 L92.4,35.8 L92.6,35.8 L92.8,35.6 L93.0,35.5 L93.2,35.3 L93.4,35.2 L93.5,35.0 L93.6,34.8 L93.5,34.6 L93.4,34.5 L93.2,34.4 L93.0,34.2 L92.8,34.2 L92.5,34.1 L92.3,34.1 L92.1,34.1 L91.9,34.1 L91.7,34.2 L91.4,34.3 L91.2,34.4 L91.0,34.5 L90.9,34.7 L90.7,34.8 L90.6,35.0 L90.5,35.2Z" fill="#c6c6c2"/><path d="M91.4,31.7 L91.4,31.5 L91.4,31.3 L91.4,31.1 L91.4,30.9 L91.3,30.8 L91.2,30.6 L91.1,30.5 L91.0,30.4 L90.9,30.3 L90.7,30.2 L90.6,30.2 L90.4,30.2 L90.2,30.2 L90.0,30.2 L89.8,30.3 L89.7,30.4 L89.5,30.5 L89.5,30.7 L89.5,30.9 L89.5,31.1 L89.6,31.3 L89.6,31.4 L89.7,31.6 L89.8,31.7 L89.9,31.8 L90.0,31.9 L90.2,31.9 L90.3,32.0 L90.5,32.0 L90.7,32.0 L90.9,32.0 L91.1,31.9 L91.3,31.8Z" fill="#c6c6c2"/><path d="M91.3,31.8 L91.4,32.0 L91.6,32.1 L91.7,32.2 L91.9,32.3 L92.1,32.4 L92.3,32.4 L92.4,32.4 L92.6,32.4 L92.7,32.4 L92.8,32.3 L93.0,32.2 L93.1,32.1 L93.2,32.0 L93.3,31.8 L93.4,31.6 L93.5,31.4 L93.4,31.3 L93.3,31.1 L93.2,31.0 L93.0,30.9 L92.9,30.8 L92.7,30.7 L92.5,30.7 L92.4,30.7 L92.2,30.7 L92.1,30.7 L91.9,30.8 L91.8,30.9 L91.7,31.0 L91.5,31.1 L91.4,31.3 L91.4,31.5 L91.3,31.7Z" fill="#c6c6c2"/><path d="M59.0,118.0 L59.2,111.6 L59.4,102.6 L59.7,92.1 L60.0,80.8 L60.5,69.8 L61.0,60.0 L61.7,50.7 L62.6,41.2 L63.6,31.9 L64.6,23.4 L65.4,16.2 L66.0,11.0" fill="none" stroke="#b9b9b5" stroke-width="1.0" stroke-linecap="round"/><path d="M59.7,96.1 L59.3,95.3 L58.7,94.3 L57.8,93.3 L56.8,92.4 L55.7,91.5 L54.6,90.7 L53.4,89.9 L52.3,89.4 L51.1,88.9 L49.8,88.4 L48.5,88.0 L47.1,87.7 L45.7,87.6 L44.4,87.5 L43.3,87.7 L42.4,87.8 L42.1,88.5 L42.5,89.3 L43.1,90.3 L44.0,91.2 L45.0,92.2 L46.1,93.1 L47.2,93.9 L48.4,94.6 L49.5,95.2 L50.7,95.7 L52.0,96.2 L53.3,96.6 L54.7,96.8 L56.1,97.0 L57.4,97.0 L58.5,96.9 L59.4,96.7Z" fill="#c6c6c2"/><path d="M59.7,96.8 L60.6,97.0 L61.7,97.2 L63.0,97.2 L64.4,97.1 L65.8,96.9 L67.2,96.6 L68.5,96.2 L69.7,95.8 L70.8,95.2 L72.0,94.6 L73.2,93.8 L74.4,93.0 L75.4,92.1 L76.3,91.1 L77.0,90.2 L77.5,89.4 L77.2,88.8 L76.3,88.6 L75.1,88.4 L73.9,88.3 L72.5,88.4 L71.1,88.6 L69.7,88.9 L68.4,89.3 L67.2,89.8 L66.1,90.3 L64.9,90.9 L63.7,91.7 L62.5,92.5 L61.5,93.4 L60.6,94.4 L59.9,95.3 L59.4,96.1Z" fill="#c6c6c2"/><path d="M59.9,89.5 L59.5,88.7 L58.9,87.8 L58.1,86.8 L57.2,85.9 L56.1,85.0 L55.0,84.2 L53.9,83.5 L52.9,82.9 L51.7,82.4 L50.5,82.0 L49.2,81.7 L47.9,81.4 L46.5,81.2 L45.3,81.2 L44.2,81.4 L43.3,81.6 L43.0,82.2 L43.4,83.0 L44.0,83.9 L44.8,84.9 L45.7,85.8 L46.8,86.7 L47.9,87.5 L49.0,88.2 L50.0,88.8 L51.2,89.3 L52.4,89.7 L53.7,90.1 L55.1,90.3 L56.4,90.5 L57.6,90.5 L58.7,90.3 L59.6,90.2Z" fill="#c6c6c2"/><path d="M59.9,90.2 L60.7,90.4 L61.9,90.6 L63.1,90.7 L64.4,90.6 L65.8,90.4 L67.1,90.1 L68.4,89.8 L69.5,89.4 L70.6,88.8 L71.8,88.2 L72.9,87.5 L74.0,86.7 L75.0,85.8 L75.8,84.9 L76.5,83.9 L76.9,83.2 L76.6,82.5 L75.8,82.3 L74.7,82.1 L73.4,82.0 L72.1,82.1 L70.8,82.3 L69.4,82.6 L68.2,82.9 L67.0,83.3 L65.9,83.8 L64.8,84.5 L63.6,85.2 L62.5,86.0 L61.6,86.9 L60.7,87.8 L60.1,88.8 L59.6,89.5Z" fill="#c6c6c2"/><path d="M60.1,82.8 L59.7,82.0 L59.2,81.0 L58.5,80.1 L57.6,79.2 L56.6,78.3 L55.6,77.6 L54.6,76.9 L53.5,76.4 L52.5,75.9 L51.3,75.5 L50.1,75.2 L48.8,74.9 L47.6,74.8 L46.4,74.8 L45.3,75.0 L44.5,75.2 L44.1,75.8 L44.5,76.6 L45.1,77.5 L45.8,78.5 L46.7,79.4 L47.6,80.2 L48.7,81.0 L49.7,81.7 L50.7,82.2 L51.8,82.7 L52.9,83.1 L54.2,83.4 L55.5,83.6 L56.7,83.8 L57.9,83.7 L59.0,83.6 L59.8,83.4Z" fill="#c6c6c2"/><path d="M60.1,83.4 L60.9,83.6 L62.0,83.9 L63.2,84.0 L64.4,83.9 L65.7,83.8 L67.0,83.5 L68.2,83.2 L69.2,82.8 L70.3,82.3 L71.4,81.7 L72.5,81.0 L73.5,80.2 L74.4,79.4 L75.2,78.5 L75.8,77.6 L76.2,76.9 L76.0,76.2 L75.1,76.0 L74.1,75.7 L72.9,75.6 L71.6,75.7 L70.3,75.8 L69.1,76.1 L67.9,76.4 L66.8,76.8 L65.8,77.3 L64.7,77.9 L63.6,78.6 L62.6,79.4 L61.6,80.2 L60.8,81.1 L60.3,82.0 L59.8,82.7Z" fill="#c6c6c2"/><path d="M60.4,76.0 L60.0,75.3 L59.5,74.3 L58.9,73.4 L58.1,72.5 L57.2,71.7 L56.2,71.0 L55.3,70.3 L54.3,69.8 L53.3,69.4 L52.2,69.0 L51.0,68.7 L49.8,68.5 L48.7,68.4 L47.5,68.4 L46.5,68.6 L45.7,68.8 L45.4,69.5 L45.7,70.2 L46.2,71.1 L46.9,72.1 L47.7,72.9 L48.6,73.7 L49.5,74.5 L50.5,75.1 L51.4,75.7 L52.4,76.1 L53.5,76.5 L54.7,76.8 L55.9,77.0 L57.1,77.1 L58.2,77.0 L59.2,76.8 L60.0,76.7Z" fill="#c6c6c2"/><path d="M60.3,76.7 L61.1,76.9 L62.1,77.2 L63.2,77.3 L64.4,77.3 L65.6,77.2 L66.8,77.0 L68.0,76.7 L69.0,76.3 L70.0,75.9 L71.0,75.3 L72.0,74.6 L73.0,73.9 L73.8,73.1 L74.6,72.2 L75.1,71.3 L75.5,70.6 L75.2,69.9 L74.4,69.7 L73.4,69.4 L72.3,69.3 L71.1,69.3 L69.9,69.4 L68.7,69.6 L67.6,69.9 L66.6,70.3 L65.6,70.7 L64.6,71.3 L63.6,72.0 L62.6,72.7 L61.7,73.5 L61.0,74.4 L60.5,75.3 L60.1,76.0Z" fill="#c6c6c2"/><path d="M60.6,69.5 L60.3,68.8 L59.9,67.9 L59.3,67.0 L58.6,66.1 L57.8,65.3 L56.9,64.6 L56.0,64.0 L55.1,63.5 L54.2,63.1 L53.2,62.8 L52.1,62.5 L50.9,62.3 L49.8,62.2 L48.8,62.3 L47.8,62.5 L47.0,62.7 L46.7,63.3 L47.0,64.1 L47.4,65.0 L48.0,65.9 L48.7,66.7 L49.6,67.5 L50.5,68.2 L51.3,68.8 L52.2,69.3 L53.1,69.7 L54.2,70.1 L55.3,70.3 L56.4,70.5 L57.5,70.6 L58.6,70.6 L59.6,70.3 L60.3,70.1Z" fill="#c6c6c2"/><path d="M60.6,70.1 L61.3,70.4 L62.3,70.7 L63.3,70.9 L64.5,70.9 L65.6,70.8 L66.7,70.6 L67.8,70.4 L68.7,70.1 L69.6,69.7 L70.6,69.1 L71.5,68.5 L72.4,67.8 L73.2,67.0 L73.9,66.2 L74.4,65.3 L74.8,64.6 L74.5,63.9 L73.8,63.7 L72.8,63.4 L71.8,63.2 L70.6,63.2 L69.5,63.3 L68.4,63.5 L67.3,63.7 L66.4,64.0 L65.5,64.4 L64.5,65.0 L63.6,65.6 L62.7,66.3 L61.9,67.1 L61.2,67.9 L60.7,68.8 L60.3,69.5Z" fill="#c6c6c2"/><path d="M60.8,65.4 L60.6,64.7 L60.2,63.9 L59.6,63.1 L59.0,62.3 L58.2,61.5 L57.4,60.9 L56.6,60.3 L55.8,59.8 L54.9,59.5 L54.0,59.1 L52.9,58.9 L51.9,58.7 L50.9,58.6 L49.9,58.7 L49.0,58.8 L48.3,59.0 L48.0,59.6 L48.2,60.3 L48.6,61.1 L49.2,62.0 L49.8,62.7 L50.6,63.5 L51.4,64.1 L52.2,64.7 L53.0,65.2 L53.9,65.6 L54.8,65.9 L55.9,66.2 L56.9,66.3 L57.9,66.4 L58.9,66.4 L59.8,66.2 L60.5,66.0Z" fill="#c6c6c2"/><path d="M60.8,66.0 L61.5,66.3 L62.3,66.5 L63.3,66.7 L64.4,66.7 L65.4,66.6 L66.4,66.5 L67.4,66.3 L68.3,66.0 L69.2,65.6 L70.0,65.1 L70.9,64.5 L71.7,63.9 L72.5,63.2 L73.1,62.4 L73.6,61.6 L73.9,61.0 L73.7,60.4 L73.0,60.1 L72.1,59.8 L71.1,59.7 L70.1,59.6 L69.1,59.7 L68.0,59.9 L67.0,60.1 L66.2,60.4 L65.3,60.8 L64.4,61.2 L63.6,61.8 L62.7,62.5 L62.0,63.2 L61.4,63.9 L60.9,64.7 L60.6,65.4Z" fill="#c6c6c2"/><path d="M61.1,59.7 L60.9,59.1 L60.6,58.3 L60.1,57.6 L59.5,56.8 L58.8,56.1 L58.0,55.5 L57.3,55.0 L56.6,54.6 L55.8,54.2 L54.9,53.9 L54.0,53.6 L53.0,53.5 L52.1,53.4 L51.2,53.4 L50.3,53.6 L49.7,53.7 L49.4,54.3 L49.7,54.9 L50.0,55.7 L50.5,56.4 L51.1,57.2 L51.8,57.8 L52.5,58.5 L53.3,59.0 L54.0,59.4 L54.8,59.8 L55.6,60.1 L56.6,60.4 L57.5,60.5 L58.5,60.6 L59.4,60.6 L60.2,60.4 L60.9,60.3Z" fill="#c6c6c2"/><path d="M61.1,60.3 L61.7,60.5 L62.5,60.8 L63.4,60.9 L64.4,61.0 L65.3,60.9 L66.3,60.8 L67.2,60.6 L68.0,60.4 L68.8,60.0 L69.6,59.6 L70.4,59.1 L71.2,58.5 L71.9,57.8 L72.5,57.1 L72.9,56.4 L73.2,55.8 L73.0,55.3 L72.4,55.0 L71.6,54.7 L70.7,54.6 L69.8,54.6 L68.8,54.6 L67.8,54.7 L66.9,54.9 L66.1,55.2 L65.3,55.5 L64.5,56.0 L63.7,56.5 L62.9,57.1 L62.2,57.7 L61.6,58.4 L61.2,59.1 L60.9,59.7Z" fill="#c6c6c2"/><path d="M61.5,54.3 L61.3,53.7 L61.0,53.0 L60.6,52.3 L60.0,51.6 L59.4,51.0 L58.8,50.4 L58.1,49.9 L57.4,49.5 L56.7,49.2 L55.9,48.9 L55.1,48.6 L54.2,48.4 L53.4,48.4 L52.5,48.4 L51.8,48.5 L51.2,48.6 L50.9,49.1 L51.1,49.7 L51.4,50.4 L51.9,51.1 L52.4,51.8 L53.0,52.4 L53.7,53.0 L54.4,53.5 L55.0,53.9 L55.7,54.2 L56.5,54.5 L57.4,54.8 L58.2,55.0 L59.1,55.0 L59.9,55.0 L60.7,54.9 L61.3,54.8Z" fill="#c6c6c2"/><path d="M61.5,54.8 L62.1,55.0 L62.8,55.3 L63.6,55.4 L64.5,55.5 L65.3,55.4 L66.2,55.3 L67.0,55.1 L67.8,54.9 L68.5,54.6 L69.3,54.2 L70.0,53.8 L70.7,53.3 L71.4,52.7 L71.9,52.1 L72.3,51.4 L72.6,50.9 L72.4,50.3 L71.9,50.1 L71.1,49.9 L70.3,49.7 L69.4,49.7 L68.6,49.7 L67.7,49.8 L66.9,50.0 L66.1,50.2 L65.4,50.5 L64.7,50.9 L63.9,51.3 L63.2,51.9 L62.6,52.4 L62.0,53.1 L61.6,53.7 L61.3,54.3Z" fill="#c6c6c2"/><path d="M62.0,48.6 L61.8,48.1 L61.6,47.5 L61.2,46.8 L60.7,46.2 L60.1,45.6 L59.6,45.1 L58.9,44.6 L58.3,44.3 L57.7,44.0 L57.0,43.7 L56.2,43.5 L55.5,43.3 L54.7,43.2 L53.9,43.2 L53.3,43.3 L52.7,43.4 L52.5,43.9 L52.7,44.4 L52.9,45.0 L53.3,45.7 L53.8,46.3 L54.3,46.9 L54.9,47.4 L55.5,47.9 L56.1,48.2 L56.8,48.5 L57.5,48.8 L58.2,49.0 L59.0,49.2 L59.8,49.3 L60.5,49.3 L61.2,49.2 L61.8,49.1Z" fill="#c6c6c2"/><path d="M62.0,49.1 L62.5,49.3 L63.1,49.5 L63.9,49.7 L64.6,49.7 L65.4,49.7 L66.2,49.6 L67.0,49.5 L67.7,49.3 L68.3,49.0 L69.0,48.7 L69.7,48.3 L70.3,47.8 L70.9,47.3 L71.4,46.7 L71.8,46.1 L72.0,45.7 L71.9,45.2 L71.4,45.0 L70.7,44.7 L70.0,44.6 L69.2,44.5 L68.4,44.6 L67.6,44.6 L66.9,44.8 L66.2,45.0 L65.5,45.2 L64.9,45.6 L64.2,46.0 L63.5,46.5 L63.0,47.0 L62.5,47.5 L62.1,48.1 L61.8,48.6Z" fill="#c6c6c2"/><path d="M62.5,42.9 L62.4,42.4 L62.2,41.9 L61.8,41.3 L61.4,40.7 L60.9,40.2 L60.4,39.7 L59.8,39.3 L59.3,39.0 L58.7,38.7 L58.1,38.4 L57.4,38.2 L56.7,38.1 L56.0,38.0 L55.4,38.0 L54.8,38.1 L54.3,38.2 L54.1,38.6 L54.2,39.0 L54.4,39.6 L54.8,40.2 L55.2,40.8 L55.7,41.3 L56.2,41.8 L56.8,42.2 L57.3,42.5 L57.9,42.8 L58.5,43.0 L59.2,43.2 L59.9,43.4 L60.6,43.5 L61.2,43.5 L61.8,43.4 L62.3,43.3Z" fill="#c6c6c2"/><path d="M62.5,43.3 L63.0,43.5 L63.5,43.7 L64.2,43.8 L64.9,43.9 L65.6,43.9 L66.3,43.8 L67.0,43.7 L67.6,43.5 L68.2,43.3 L68.8,43.0 L69.4,42.6 L70.0,42.2 L70.5,41.8 L71.0,41.3 L71.3,40.7 L71.5,40.3 L71.4,39.9 L71.0,39.7 L70.4,39.5 L69.7,39.4 L69.0,39.3 L68.3,39.3 L67.6,39.4 L66.9,39.5 L66.3,39.7 L65.7,39.9 L65.1,40.2 L64.5,40.6 L63.9,41.0 L63.4,41.4 L63.0,41.9 L62.6,42.5 L62.4,42.9Z" fill="#c6c6c2"/><path d="M62.9,39.1 L62.8,38.7 L62.6,38.2 L62.3,37.7 L61.9,37.2 L61.5,36.7 L61.0,36.3 L60.5,35.9 L60.1,35.6 L59.6,35.4 L59.0,35.2 L58.4,35.0 L57.8,34.8 L57.2,34.8 L56.6,34.8 L56.1,34.8 L55.6,34.9 L55.4,35.3 L55.6,35.7 L55.8,36.2 L56.1,36.7 L56.5,37.2 L56.9,37.7 L57.4,38.1 L57.8,38.4 L58.3,38.7 L58.8,39.0 L59.3,39.2 L59.9,39.4 L60.6,39.5 L61.2,39.6 L61.8,39.6 L62.3,39.5 L62.7,39.5Z" fill="#c6c6c2"/><path d="M62.9,39.5 L63.3,39.6 L63.8,39.8 L64.4,40.0 L65.0,40.0 L65.6,40.0 L66.2,39.9 L66.8,39.8 L67.4,39.7 L67.9,39.5 L68.4,39.2 L69.0,38.9 L69.5,38.5 L70.0,38.1 L70.4,37.7 L70.7,37.2 L70.9,36.9 L70.8,36.5 L70.4,36.3 L69.8,36.1 L69.3,36.0 L68.6,36.0 L68.0,36.0 L67.4,36.0 L66.8,36.1 L66.3,36.3 L65.7,36.5 L65.2,36.7 L64.7,37.1 L64.2,37.4 L63.7,37.8 L63.3,38.3 L63.0,38.7 L62.8,39.1Z" fill="#c6c6c2"/><path d="M63.5,33.5 L63.4,33.2 L63.2,32.7 L63.0,32.3 L62.6,31.9 L62.3,31.5 L61.9,31.1 L61.5,30.8 L61.1,30.5 L60.6,30.3 L60.1,30.1 L59.6,29.9 L59.1,29.8 L58.6,29.7 L58.0,29.7 L57.6,29.8 L57.2,29.9 L57.0,30.2 L57.1,30.5 L57.3,31.0 L57.6,31.4 L57.9,31.8 L58.3,32.2 L58.7,32.6 L59.1,32.9 L59.5,33.2 L59.9,33.4 L60.4,33.6 L60.9,33.8 L61.5,33.9 L62.0,34.0 L62.5,34.0 L63.0,33.9 L63.3,33.8Z" fill="#c6c6c2"/><path d="M63.5,33.9 L63.8,34.0 L64.3,34.2 L64.8,34.3 L65.3,34.3 L65.9,34.3 L66.4,34.3 L66.9,34.2 L67.4,34.1 L67.8,33.9 L68.3,33.7 L68.8,33.4 L69.2,33.1 L69.6,32.7 L70.0,32.4 L70.2,32.0 L70.4,31.6 L70.3,31.3 L70.0,31.2 L69.5,31.0 L69.0,30.9 L68.5,30.8 L68.0,30.8 L67.4,30.9 L66.9,31.0 L66.4,31.1 L66.0,31.3 L65.5,31.5 L65.0,31.8 L64.6,32.1 L64.2,32.4 L63.8,32.8 L63.6,33.2 L63.4,33.5Z" fill="#c6c6c2"/><path d="M63.9,30.0 L63.8,29.7 L63.7,29.3 L63.4,28.9 L63.2,28.5 L62.8,28.2 L62.5,27.9 L62.2,27.6 L61.8,27.4 L61.4,27.2 L61.0,27.0 L60.6,26.9 L60.1,26.8 L59.7,26.7 L59.3,26.7 L58.8,26.8 L58.5,26.8 L58.4,27.1 L58.5,27.4 L58.6,27.8 L58.9,28.1 L59.1,28.5 L59.4,28.8 L59.8,29.2 L60.1,29.4 L60.5,29.7 L60.8,29.9 L61.2,30.0 L61.7,30.2 L62.1,30.3 L62.6,30.3 L63.0,30.3 L63.4,30.3 L63.8,30.2Z" fill="#c6c6c2"/><path d="M63.9,30.2 L64.2,30.4 L64.5,30.5 L65.0,30.6 L65.4,30.6 L65.9,30.6 L66.4,30.6 L66.8,30.5 L67.2,30.4 L67.6,30.3 L68.0,30.1 L68.4,29.9 L68.8,29.6 L69.1,29.3 L69.4,29.0 L69.6,28.6 L69.8,28.4 L69.7,28.1 L69.4,27.9 L69.0,27.8 L68.6,27.7 L68.2,27.7 L67.7,27.7 L67.2,27.7 L66.8,27.8 L66.4,27.9 L66.0,28.0 L65.6,28.2 L65.2,28.5 L64.8,28.7 L64.5,29.0 L64.2,29.3 L63.9,29.7 L63.8,30.0Z" fill="#c6c6c2"/><path d="M64.5,24.9 L64.4,24.6 L64.3,24.3 L64.1,24.0 L63.9,23.7 L63.6,23.4 L63.3,23.1 L63.0,22.9 L62.7,22.7 L62.4,22.6 L62.1,22.4 L61.7,22.3 L61.4,22.2 L61.0,22.2 L60.6,22.2 L60.3,22.2 L60.0,22.3 L59.9,22.5 L60.0,22.7 L60.1,23.0 L60.3,23.3 L60.5,23.7 L60.8,23.9 L61.1,24.2 L61.3,24.4 L61.6,24.6 L61.9,24.8 L62.3,24.9 L62.6,25.0 L63.0,25.1 L63.4,25.2 L63.7,25.2 L64.1,25.1 L64.3,25.1Z" fill="#c6c6c2"/><path d="M64.4,25.1 L64.7,25.2 L65.0,25.3 L65.4,25.4 L65.7,25.4 L66.1,25.4 L66.5,25.4 L66.9,25.3 L67.2,25.3 L67.5,25.1 L67.8,25.0 L68.2,24.8 L68.5,24.6 L68.8,24.3 L69.0,24.1 L69.2,23.8 L69.4,23.6 L69.3,23.3 L69.0,23.2 L68.7,23.1 L68.4,23.0 L68.0,23.0 L67.6,23.0 L67.2,23.0 L66.9,23.1 L66.5,23.2 L66.2,23.3 L65.9,23.4 L65.6,23.6 L65.2,23.8 L64.9,24.1 L64.7,24.4 L64.5,24.6 L64.4,24.9Z" fill="#c6c6c2"/><path d="M65.0,20.2 L64.9,20.0 L64.8,19.8 L64.7,19.5 L64.5,19.3 L64.3,19.0 L64.1,18.8 L63.9,18.6 L63.6,18.5 L63.4,18.4 L63.1,18.3 L62.8,18.2 L62.5,18.1 L62.2,18.1 L61.9,18.1 L61.7,18.1 L61.5,18.1 L61.4,18.3 L61.4,18.5 L61.5,18.8 L61.7,19.0 L61.8,19.3 L62.0,19.5 L62.3,19.7 L62.5,19.9 L62.7,20.0 L63.0,20.2 L63.2,20.3 L63.5,20.4 L63.8,20.4 L64.1,20.5 L64.4,20.5 L64.7,20.4 L64.9,20.4Z" fill="#c6c6c2"/><path d="M65.0,20.4 L65.2,20.5 L65.4,20.6 L65.7,20.7 L66.0,20.7 L66.3,20.7 L66.6,20.7 L66.9,20.6 L67.2,20.6 L67.4,20.5 L67.7,20.3 L68.0,20.2 L68.2,20.0 L68.4,19.8 L68.6,19.6 L68.8,19.4 L68.9,19.2 L68.8,19.0 L68.6,18.9 L68.4,18.8 L68.1,18.7 L67.8,18.7 L67.5,18.7 L67.2,18.7 L66.9,18.8 L66.6,18.8 L66.4,18.9 L66.1,19.1 L65.9,19.2 L65.6,19.4 L65.4,19.6 L65.2,19.8 L65.0,20.0 L64.9,20.2Z" fill="#c6c6c2"/><path d="M65.5,16.1 L65.4,16.0 L65.4,15.7 L65.3,15.5 L65.2,15.3 L65.0,15.1 L64.9,14.9 L64.7,14.8 L64.6,14.7 L64.4,14.6 L64.2,14.5 L63.9,14.4 L63.7,14.4 L63.5,14.4 L63.2,14.4 L63.0,14.5 L62.8,14.6 L62.7,14.7 L62.7,14.9 L62.8,15.2 L62.9,15.4 L63.0,15.6 L63.1,15.8 L63.3,16.0 L63.5,16.1 L63.6,16.2 L63.8,16.3 L64.0,16.4 L64.3,16.4 L64.5,16.5 L64.7,16.5 L65.0,16.4 L65.2,16.4 L65.4,16.3Z" fill="#c6c6c2"/><path d="M65.5,16.3 L65.6,16.4 L65.8,16.5 L66.0,16.6 L66.3,16.7 L66.5,16.7 L66.7,16.7 L67.0,16.7 L67.2,16.6 L67.4,16.6 L67.5,16.4 L67.7,16.3 L67.9,16.2 L68.1,16.0 L68.2,15.8 L68.3,15.6 L68.4,15.4 L68.3,15.2 L68.2,15.1 L68.0,15.0 L67.8,14.9 L67.5,14.9 L67.3,14.8 L67.0,14.8 L66.8,14.9 L66.6,14.9 L66.4,15.0 L66.2,15.1 L66.0,15.2 L65.9,15.4 L65.7,15.6 L65.6,15.7 L65.5,16.0 L65.4,16.1Z" fill="#c6c6c2"/><path d="M65.9,12.7 L65.9,12.6 L65.9,12.4 L65.8,12.2 L65.8,12.0 L65.7,11.9 L65.6,11.7 L65.5,11.6 L65.4,11.5 L65.2,11.5 L65.1,11.4 L64.9,11.4 L64.7,11.4 L64.6,11.5 L64.4,11.5 L64.2,11.6 L64.1,11.7 L64.0,11.9 L64.0,12.0 L64.0,12.2 L64.0,12.4 L64.1,12.6 L64.1,12.8 L64.2,12.9 L64.3,13.0 L64.5,13.1 L64.6,13.1 L64.7,13.2 L64.9,13.2 L65.1,13.2 L65.3,13.2 L65.4,13.1 L65.6,13.0 L65.8,12.9Z" fill="#c6c6c2"/><path d="M65.8,12.9 L66.0,13.0 L66.1,13.2 L66.3,13.3 L66.4,13.3 L66.6,13.4 L66.8,13.4 L66.9,13.4 L67.1,13.4 L67.2,13.3 L67.3,13.2 L67.4,13.1 L67.6,13.0 L67.7,12.8 L67.7,12.6 L67.8,12.4 L67.8,12.3 L67.8,12.1 L67.6,12.0 L67.5,11.9 L67.3,11.8 L67.1,11.7 L67.0,11.6 L66.8,11.6 L66.7,11.6 L66.5,11.7 L66.4,11.7 L66.3,11.8 L66.1,11.9 L66.0,12.0 L65.9,12.2 L65.9,12.4 L65.8,12.6 L65.8,12.7Z" fill="#c6c6c2"/><ellipse cx="59" cy="118" rx="9" ry="2.5" fill="#c4c4c0"/></svg>
<div class="cn" style="left:1138.42px">Arabidopsis</div>
<div class="sp" style="left:1138.42px;top:121.5px">(<i>A. thaliana</i>)</div>
<svg class="im" style="left:1146.42px" width="120" height="124" viewBox="0 0 120 124"><path d="M59.8,97.0 L59.8,93.1 L59.8,87.7 L59.8,81.2 L59.8,74.2 L59.8,67.0 L59.8,60.0 L59.8,52.6 L59.7,44.2 L59.6,35.7 L59.6,27.7 L59.5,20.9 L59.5,16.0" fill="none" stroke="#a3a39f" stroke-width="1.2" stroke-linecap="round"/><path d="M59.8,72.0 L59.1,70.4 L58.2,68.2 L57.1,65.6 L56.0,62.8 L54.9,60.2 L54.0,58.0 L53.2,56.1 L52.5,54.3 L51.9,52.6 L51.3,51.1 L50.9,49.9 L50.5,49.0" fill="none" stroke="#a3a39f" stroke-width="0.9" stroke-linecap="round"/><path d="M59.9,29.9 L59.8,29.5 L59.7,29.0 L59.6,28.5 L59.3,27.8 L59.1,27.2 L58.8,26.6 L58.5,26.0 L58.1,25.5 L57.8,25.0 L57.4,24.4 L57.0,23.9 L56.5,23.3 L56.1,22.9 L55.6,22.5 L55.2,22.2 L54.9,21.9 L54.7,22.1 L54.8,22.5 L54.9,23.0 L55.0,23.5 L55.3,24.2 L55.5,24.8 L55.8,25.4 L56.1,26.0 L56.5,26.5 L56.8,27.0 L57.2,27.6 L57.6,28.1 L58.1,28.7 L58.5,29.1 L59.0,29.5 L59.4,29.8 L59.7,30.1Z" fill="#bdbdb9" stroke="#a3a39f" stroke-width="0.4"/><path d="M59.9,37.1 L60.2,36.8 L60.6,36.5 L61.1,36.1 L61.5,35.7 L62.0,35.1 L62.4,34.6 L62.8,34.0 L63.1,33.5 L63.5,33.0 L63.8,32.4 L64.1,31.8 L64.3,31.2 L64.6,30.5 L64.7,30.0 L64.8,29.5 L64.9,29.1 L64.7,28.9 L64.4,29.2 L64.0,29.5 L63.5,29.9 L63.1,30.3 L62.6,30.9 L62.2,31.4 L61.8,32.0 L61.5,32.5 L61.1,33.0 L60.8,33.6 L60.5,34.2 L60.3,34.8 L60.0,35.5 L59.9,36.0 L59.8,36.5 L59.7,36.9Z" fill="#bdbdb9" stroke="#a3a39f" stroke-width="0.4"/><path d="M59.9,44.9 L59.8,44.5 L59.7,44.0 L59.6,43.5 L59.3,42.8 L59.1,42.2 L58.8,41.6 L58.5,41.0 L58.1,40.5 L57.8,40.0 L57.4,39.4 L57.0,38.9 L56.5,38.3 L56.1,37.9 L55.6,37.5 L55.2,37.2 L54.9,36.9 L54.7,37.1 L54.8,37.5 L54.9,38.0 L55.0,38.5 L55.3,39.2 L55.5,39.8 L55.8,40.4 L56.1,41.0 L56.5,41.5 L56.8,42.0 L57.2,42.6 L57.6,43.1 L58.1,43.7 L58.5,44.1 L59.0,44.5 L59.4,44.8 L59.7,45.1Z" fill="#bdbdb9" stroke="#a3a39f" stroke-width="0.4"/><path d="M59.9,53.1 L60.2,52.8 L60.6,52.5 L61.1,52.1 L61.5,51.7 L62.0,51.1 L62.4,50.6 L62.8,50.0 L63.1,49.5 L63.5,49.0 L63.8,48.4 L64.1,47.8 L64.3,47.2 L64.6,46.5 L64.7,46.0 L64.8,45.5 L64.9,45.1 L64.7,44.9 L64.4,45.2 L64.0,45.5 L63.5,45.9 L63.1,46.3 L62.6,46.9 L62.2,47.4 L61.8,48.0 L61.5,48.5 L61.1,49.0 L60.8,49.6 L60.5,50.2 L60.3,50.8 L60.0,51.5 L59.9,52.0 L59.8,52.5 L59.7,52.9Z" fill="#bdbdb9" stroke="#a3a39f" stroke-width="0.4"/><path d="M59.9,64.1 L60.2,63.9 L60.7,63.6 L61.2,63.2 L61.7,62.7 L62.2,62.2 L62.7,61.7 L63.2,61.1 L63.6,60.6 L64.0,60.1 L64.4,59.5 L64.7,58.8 L65.1,58.2 L65.4,57.6 L65.6,57.0 L65.8,56.5 L65.9,56.1 L65.7,55.9 L65.4,56.1 L64.9,56.4 L64.4,56.8 L63.9,57.3 L63.4,57.8 L62.9,58.3 L62.4,58.9 L62.0,59.4 L61.6,59.9 L61.2,60.5 L60.9,61.2 L60.5,61.8 L60.2,62.4 L60.0,63.0 L59.8,63.5 L59.7,63.9Z" fill="#bdbdb9" stroke="#a3a39f" stroke-width="0.4"/><path d="M59.9,76.1 L60.2,75.8 L60.6,75.5 L61.1,75.1 L61.5,74.7 L62.0,74.1 L62.4,73.6 L62.8,73.0 L63.1,72.5 L63.5,72.0 L63.8,71.4 L64.1,70.8 L64.3,70.2 L64.6,69.5 L64.7,69.0 L64.8,68.5 L64.9,68.1 L64.7,67.9 L64.4,68.2 L64.0,68.5 L63.5,68.9 L63.1,69.3 L62.6,69.9 L62.2,70.4 L61.8,71.0 L61.5,71.5 L61.1,72.0 L60.8,72.6 L60.5,73.2 L60.3,73.8 L60.0,74.5 L59.9,75.0 L59.8,75.5 L59.7,75.9Z" fill="#bdbdb9" stroke="#a3a39f" stroke-width="0.4"/><circle cx="66.2" cy="13.0" r="1.5" fill="#d8d8d4" stroke="#a0a09c" stroke-width="0.6"/><circle cx="60.4" cy="14.1" r="1.5" fill="#d8d8d4" stroke="#a0a09c" stroke-width="0.6"/><circle cx="62.4" cy="11.6" r="1.5" fill="#d8d8d4" stroke="#a0a09c" stroke-width="0.6"/><circle cx="58.8" cy="13.0" r="1.5" fill="#d8d8d4" stroke="#a0a09c" stroke-width="0.6"/><circle cx="56.5" cy="12.6" r="1.5" fill="#d8d8d4" stroke="#a0a09c" stroke-width="0.6"/><circle cx="58.8" cy="13.7" r="1.5" fill="#d8d8d4" stroke="#a0a09c" stroke-width="0.6"/><circle cx="57.3" cy="14.6" r="1.5" fill="#d8d8d4" stroke="#a0a09c" stroke-width="0.6"/><circle cx="58.6" cy="10.2" r="1.5" fill="#d8d8d4" stroke="#a0a09c" stroke-width="0.6"/><circle cx="63.4" cy="13.3" r="1.5" fill="#d8d8d4" stroke="#a0a09c" stroke-width="0.6"/><circle cx="58.0" cy="14.4" r="1.5" fill="#d8d8d4" stroke="#a0a09c" stroke-width="0.6"/><circle cx="60.0" cy="14.0" r="1.5" fill="#d8d8d4" stroke="#a0a09c" stroke-width="0.6"/><circle cx="57.6" cy="14.3" r="1.5" fill="#d8d8d4" stroke="#a0a09c" stroke-width="0.6"/><circle cx="55.2" cy="16.4" r="1.5" fill="#d8d8d4" stroke="#a0a09c" stroke-width="0.6"/><circle cx="55.9" cy="13.7" r="1.5" fill="#d8d8d4" stroke="#a0a09c" stroke-width="0.6"/><circle cx="49.2" cy="46.6" r="1.3" fill="#d8d8d4" stroke="#a0a09c" stroke-width="0.5"/><circle cx="49.6" cy="46.9" r="1.3" fill="#d8d8d4" stroke="#a0a09c" stroke-width="0.5"/><circle cx="50.6" cy="49.5" r="1.3" fill="#d8d8d4" stroke="#a0a09c" stroke-width="0.5"/><circle cx="51.4" cy="47.0" r="1.3" fill="#d8d8d4" stroke="#a0a09c" stroke-width="0.5"/><circle cx="52.5" cy="48.9" r="1.3" fill="#d8d8d4" stroke="#a0a09c" stroke-width="0.5"/><path d="M59.8,97.0 L50.6,94.8" fill="none" stroke="#a3a39f" stroke-width="1.1" stroke-linecap="round"/><path d="M50.7,94.4 L50.2,93.6 L49.5,92.7 L48.6,91.9 L47.6,91.1 L46.5,90.4 L45.3,89.8 L44.1,89.4 L43.0,89.0 L41.9,88.8 L40.6,88.7 L39.3,88.7 L38.0,88.7 L36.7,89.0 L35.5,89.3 L34.5,89.8 L33.7,90.2 L33.5,91.0 L34.0,91.7 L34.7,92.7 L35.6,93.5 L36.7,94.3 L37.8,95.0 L39.0,95.5 L40.1,96.0 L41.2,96.3 L42.4,96.5 L43.6,96.7 L44.9,96.7 L46.2,96.6 L47.5,96.4 L48.7,96.1 L49.7,95.6 L50.5,95.2Z" fill="#bdbdb9" stroke="#a3a39f" stroke-width="0.5"/><path d="M59.8,97.0 L67.4,93.7" fill="none" stroke="#a3a39f" stroke-width="1.1" stroke-linecap="round"/><path d="M67.6,94.1 L68.4,94.4 L69.4,94.7 L70.5,94.9 L71.7,94.9 L72.8,94.8 L74.0,94.7 L75.1,94.4 L76.0,94.0 L76.9,93.6 L77.9,93.0 L78.8,92.3 L79.6,91.5 L80.4,90.6 L81.0,89.6 L81.5,88.7 L81.8,87.9 L81.4,87.1 L80.6,86.8 L79.6,86.5 L78.5,86.3 L77.4,86.2 L76.2,86.3 L75.0,86.5 L74.0,86.8 L73.0,87.1 L72.1,87.6 L71.2,88.2 L70.3,88.9 L69.4,89.7 L68.6,90.6 L68.0,91.5 L67.6,92.5 L67.3,93.3Z" fill="#bdbdb9" stroke="#a3a39f" stroke-width="0.5"/><path d="M59.8,97.0 L52.4,99.4" fill="none" stroke="#a3a39f" stroke-width="1.1" stroke-linecap="round"/><path d="M52.3,99.0 L51.6,98.6 L50.6,98.2 L49.6,98.0 L48.6,97.8 L47.5,97.8 L46.4,97.9 L45.3,98.0 L44.4,98.3 L43.5,98.6 L42.6,99.1 L41.7,99.6 L40.8,100.3 L40.0,101.1 L39.3,101.9 L38.8,102.7 L38.5,103.4 L38.7,104.2 L39.4,104.5 L40.3,104.9 L41.3,105.2 L42.4,105.4 L43.5,105.4 L44.6,105.3 L45.6,105.2 L46.6,104.9 L47.5,104.6 L48.4,104.1 L49.3,103.5 L50.2,102.9 L51.0,102.1 L51.6,101.3 L52.1,100.5 L52.5,99.7Z" fill="#bdbdb9" stroke="#a3a39f" stroke-width="0.5"/><path d="M59.8,97.0 L66.7,97.9" fill="none" stroke="#a3a39f" stroke-width="1.1" stroke-linecap="round"/><path d="M66.7,98.3 L67.1,99.0 L67.7,99.7 L68.4,100.4 L69.2,101.0 L70.1,101.4 L71.0,101.8 L71.9,102.1 L72.7,102.3 L73.5,102.4 L74.5,102.3 L75.5,102.2 L76.4,101.9 L77.4,101.6 L78.2,101.2 L79.0,100.6 L79.5,100.1 L79.7,99.3 L79.2,98.7 L78.7,97.9 L78.0,97.3 L77.1,96.7 L76.3,96.2 L75.4,95.8 L74.5,95.5 L73.6,95.4 L72.8,95.3 L71.8,95.3 L70.9,95.5 L69.9,95.7 L69.0,96.0 L68.1,96.5 L67.4,97.1 L66.8,97.6Z" fill="#bdbdb9" stroke="#a3a39f" stroke-width="0.5"/><path d="M59.8,97.0 L61.0,102.2" fill="none" stroke="#a3a39f" stroke-width="1.1" stroke-linecap="round"/><path d="M60.7,102.3 L60.2,102.8 L59.6,103.5 L59.2,104.2 L58.9,105.0 L58.7,105.8 L58.7,106.5 L58.7,107.3 L58.8,107.9 L59.0,108.6 L59.3,109.2 L59.7,109.9 L60.2,110.5 L60.8,111.0 L61.5,111.5 L62.3,111.8 L62.9,112.1 L63.7,111.9 L64.1,111.4 L64.7,110.8 L65.1,110.0 L65.4,109.3 L65.6,108.5 L65.7,107.7 L65.7,107.0 L65.6,106.3 L65.4,105.7 L65.1,105.0 L64.6,104.4 L64.1,103.8 L63.5,103.2 L62.8,102.8 L62.0,102.4 L61.4,102.2Z" fill="#bdbdb9" stroke="#a3a39f" stroke-width="0.5"/><path d="M59.8,97.0 L55.0,90.0" fill="none" stroke="#a3a39f" stroke-width="1.1" stroke-linecap="round"/><path d="M55.3,89.8 L55.3,89.0 L55.4,88.0 L55.3,86.9 L55.0,85.8 L54.7,84.6 L54.2,83.5 L53.7,82.5 L53.2,81.7 L52.5,80.8 L51.8,80.0 L50.9,79.2 L50.0,78.4 L49.0,77.8 L48.0,77.3 L47.1,77.0 L46.3,76.8 L45.7,77.2 L45.6,78.0 L45.6,79.0 L45.7,80.1 L45.9,81.2 L46.3,82.4 L46.7,83.5 L47.3,84.5 L47.8,85.3 L48.4,86.2 L49.2,87.0 L50.1,87.8 L51.0,88.6 L51.9,89.2 L52.9,89.7 L53.9,90.0 L54.7,90.2Z" fill="#bdbdb9" stroke="#a3a39f" stroke-width="0.5"/><path d="M59.8,97.0 L63.2,91.2" fill="none" stroke="#a3a39f" stroke-width="1.1" stroke-linecap="round"/><path d="M63.5,91.4 L64.2,91.2 L65.0,91.0 L65.9,90.6 L66.7,90.1 L67.4,89.5 L68.1,88.8 L68.6,88.1 L69.1,87.4 L69.5,86.7 L69.8,85.8 L70.0,84.9 L70.2,84.0 L70.2,83.0 L70.1,82.1 L69.9,81.3 L69.7,80.6 L69.1,80.2 L68.4,80.4 L67.5,80.6 L66.7,81.0 L65.9,81.5 L65.2,82.1 L64.5,82.8 L63.9,83.5 L63.5,84.2 L63.1,84.9 L62.8,85.7 L62.5,86.7 L62.4,87.6 L62.3,88.5 L62.4,89.5 L62.6,90.3 L62.9,91.0Z" fill="#bdbdb9" stroke="#a3a39f" stroke-width="0.5"/><path d="M59.8,97.0 L57.1,101.5" fill="none" stroke="#a3a39f" stroke-width="1.1" stroke-linecap="round"/><path d="M56.8,101.4 L56.2,101.5 L55.4,101.6 L54.7,101.9 L54.0,102.2 L53.4,102.7 L52.8,103.2 L52.3,103.7 L52.0,104.2 L51.7,104.8 L51.4,105.5 L51.3,106.2 L51.2,107.0 L51.2,107.8 L51.3,108.5 L51.5,109.3 L51.7,109.8 L52.3,110.2 L52.9,110.1 L53.6,110.0 L54.4,109.7 L55.1,109.3 L55.7,108.9 L56.3,108.4 L56.7,107.9 L57.1,107.3 L57.4,106.7 L57.6,106.1 L57.8,105.3 L57.9,104.6 L57.9,103.8 L57.8,103.0 L57.6,102.3 L57.4,101.7Z" fill="#bdbdb9" stroke="#a3a39f" stroke-width="0.5"/></svg>
<div class="cn" style="left:1274.14px">Banana</div>
<div class="sp" style="left:1274.14px;top:105.5px">(<i>M.</i><br><i>acuminata</i>)</div>
<svg class="im" style="left:1282.14px" width="120" height="124" viewBox="0 0 120 124"><path d="M58.0,64.0 L49.9,66.0" fill="none" stroke="#a3a096" stroke-width="1.6" stroke-linecap="round"/><path d="M49.9,65.6 L48.9,64.9 L47.6,64.0 L46.1,63.3 L44.3,62.6 L42.3,62.2 L40.2,61.9 L38.1,61.9 L36.0,62.2 L34.0,62.9 L32.1,63.9 L30.4,65.1 L28.9,66.4 L27.6,67.8 L26.6,69.2 L25.8,70.6 L25.3,71.6 L25.7,72.4 L26.9,72.4 L28.5,72.4 L30.2,72.1 L31.9,71.7 L33.7,71.2 L35.3,70.7 L36.8,70.3 L37.9,70.0 L39.1,69.7 L40.6,69.4 L42.3,69.1 L44.0,68.7 L45.8,68.3 L47.4,67.7 L48.8,67.0 L49.9,66.4Z" fill="#bab7ad" stroke="#97948a" stroke-width="0.6"/><path d="M49.9,66.0 L25.5,72.0" fill="none" stroke="#a09d93" stroke-width="0.6" stroke-linecap="round"/><path d="M58.0,64.0 L49.5,60.5" fill="none" stroke="#a3a096" stroke-width="1.6" stroke-linecap="round"/><path d="M49.6,60.0 L48.7,59.1 L47.4,57.9 L45.9,56.9 L44.2,55.9 L42.4,55.0 L40.7,54.2 L39.0,53.5 L37.6,52.9 L36.2,52.4 L34.6,51.7 L32.8,51.1 L30.9,50.5 L29.0,49.9 L27.2,49.6 L25.5,49.5 L24.2,49.6 L23.6,50.4 L24.2,51.6 L24.9,53.1 L25.9,54.7 L27.2,56.2 L28.8,57.7 L30.5,59.1 L32.3,60.3 L34.2,61.3 L36.2,61.9 L38.4,62.4 L40.6,62.6 L42.7,62.6 L44.8,62.4 L46.6,62.0 L48.2,61.5 L49.4,61.0Z" fill="#bab7ad" stroke="#97948a" stroke-width="0.6"/><path d="M49.5,60.5 L23.9,50.0" fill="none" stroke="#a09d93" stroke-width="0.6" stroke-linecap="round"/><path d="M58.0,64.0 L67.5,61.0" fill="none" stroke="#a3a096" stroke-width="1.6" stroke-linecap="round"/><path d="M67.5,61.5 L68.8,62.0 L70.4,62.7 L72.4,63.2 L74.5,63.5 L76.8,63.6 L79.2,63.5 L81.5,63.2 L83.6,62.7 L85.8,61.9 L87.8,60.8 L89.8,59.5 L91.6,58.1 L93.1,56.6 L94.5,55.1 L95.4,53.6 L96.1,52.4 L95.7,51.6 L94.3,51.4 L92.5,51.4 L90.5,51.6 L88.5,52.0 L86.4,52.5 L84.4,53.1 L82.5,53.6 L80.9,54.1 L79.3,54.6 L77.5,55.2 L75.5,55.9 L73.5,56.7 L71.6,57.6 L69.9,58.6 L68.5,59.6 L67.4,60.5Z" fill="#bab7ad" stroke="#97948a" stroke-width="0.6"/><path d="M67.5,61.0 L95.9,52.0" fill="none" stroke="#a09d93" stroke-width="0.6" stroke-linecap="round"/><path d="M58.0,64.0 L49.4,55.8" fill="none" stroke="#a3a096" stroke-width="1.6" stroke-linecap="round"/><path d="M49.6,55.3 L48.9,53.8 L47.7,52.0 L46.3,50.2 L44.5,48.4 L42.7,46.5 L40.9,44.8 L39.2,43.3 L37.8,41.9 L36.3,40.6 L34.7,39.0 L32.9,37.2 L31.0,35.5 L29.1,33.8 L27.2,32.4 L25.3,31.4 L23.8,30.7 L23.0,31.3 L23.1,32.9 L23.3,35.0 L23.9,37.3 L24.8,39.8 L26.0,42.3 L27.4,44.8 L29.0,47.1 L30.9,49.2 L33.0,50.9 L35.4,52.4 L37.9,53.7 L40.5,54.8 L43.0,55.5 L45.4,56.0 L47.4,56.1 L49.1,56.2Z" fill="#bab7ad" stroke="#97948a" stroke-width="0.6"/><path d="M49.4,55.8 L23.4,31.0" fill="none" stroke="#a09d93" stroke-width="0.6" stroke-linecap="round"/><path d="M58.0,64.0 L67.5,55.4" fill="none" stroke="#a3a096" stroke-width="1.6" stroke-linecap="round"/><path d="M67.8,55.8 L69.5,55.7 L71.7,55.5 L74.2,55.0 L76.8,54.2 L79.5,53.1 L82.2,51.7 L84.8,50.2 L87.1,48.4 L89.1,46.2 L90.9,43.9 L92.5,41.3 L93.8,38.7 L94.9,36.1 L95.7,33.7 L96.1,31.5 L96.3,29.8 L95.5,29.2 L93.9,29.9 L91.9,31.0 L89.9,32.4 L87.8,34.1 L85.7,36.0 L83.7,37.8 L81.9,39.5 L80.3,41.0 L78.7,42.4 L76.9,44.1 L74.9,45.9 L72.8,47.7 L71.0,49.7 L69.3,51.6 L68.1,53.4 L67.2,54.9Z" fill="#bab7ad" stroke="#97948a" stroke-width="0.6"/><path d="M67.5,55.4 L95.9,29.5" fill="none" stroke="#a09d93" stroke-width="0.6" stroke-linecap="round"/><path d="M58.0,64.0 L50.4,49.6" fill="none" stroke="#a3a096" stroke-width="1.6" stroke-linecap="round"/><path d="M50.8,49.3 L50.5,47.3 L49.8,44.6 L48.8,41.7 L47.5,38.6 L46.1,35.4 L44.5,32.2 L43.0,29.3 L41.6,26.6 L40.2,23.9 L38.6,21.0 L36.8,17.9 L35.0,14.9 L33.2,12.1 L31.3,9.6 L29.5,7.6 L28.0,6.2 L27.0,6.6 L27.0,8.7 L27.0,11.4 L27.4,14.4 L28.0,17.8 L28.9,21.3 L30.0,24.8 L31.3,28.2 L32.8,31.3 L34.5,34.2 L36.5,37.2 L38.8,40.1 L41.2,42.8 L43.6,45.2 L46.0,47.2 L48.2,48.8 L49.9,49.9Z" fill="#bab7ad" stroke="#97948a" stroke-width="0.6"/><path d="M50.4,49.6 L27.5,6.4" fill="none" stroke="#a09d93" stroke-width="0.6" stroke-linecap="round"/><path d="M58.0,64.0 L66.5,49.9" fill="none" stroke="#a3a096" stroke-width="1.6" stroke-linecap="round"/><path d="M66.9,50.2 L68.7,49.1 L71.0,47.7 L73.5,45.7 L76.0,43.4 L78.6,40.8 L81.1,38.0 L83.3,35.1 L85.2,32.2 L86.8,29.2 L88.3,25.9 L89.6,22.4 L90.7,18.9 L91.6,15.5 L92.1,12.4 L92.3,9.7 L92.4,7.6 L91.4,7.2 L89.9,8.6 L87.9,10.5 L85.9,12.9 L83.9,15.6 L81.9,18.6 L80.0,21.6 L78.2,24.5 L76.6,27.1 L75.0,29.7 L73.3,32.6 L71.6,35.7 L70.0,38.9 L68.5,42.0 L67.3,44.9 L66.5,47.5 L66.0,49.5Z" fill="#bab7ad" stroke="#97948a" stroke-width="0.6"/><path d="M66.5,49.9 L91.9,7.4" fill="none" stroke="#a09d93" stroke-width="0.6" stroke-linecap="round"/><path d="M58.0,64.0 L58.8,49.3" fill="none" stroke="#a3a096" stroke-width="1.6" stroke-linecap="round"/><path d="M59.4,49.4 L60.3,47.7 L61.5,45.5 L62.5,42.9 L63.3,39.9 L64.1,36.8 L64.6,33.6 L65.1,30.5 L65.3,27.6 L65.4,24.7 L65.3,21.6 L65.1,18.3 L64.7,15.2 L64.2,12.1 L63.5,9.4 L62.6,7.1 L61.9,5.3 L60.7,5.3 L59.8,6.9 L58.6,9.1 L57.7,11.8 L56.8,14.7 L56.1,17.8 L55.5,21.0 L55.1,24.1 L54.8,27.0 L54.7,29.9 L54.8,33.1 L55.0,36.3 L55.4,39.5 L55.9,42.5 L56.6,45.2 L57.5,47.5 L58.3,49.3Z" fill="#bab7ad" stroke="#97948a" stroke-width="0.6"/><path d="M58.8,49.3 L61.3,5.3" fill="none" stroke="#a09d93" stroke-width="0.6" stroke-linecap="round"/><path d="M52.5,104 L55,62 L61,62 L63.5,104 Z" fill="#aba89d" stroke="#8f8c82" stroke-width="0.6"/><path d="M54,70 L61,74 M54,80 L62,84 M53.5,90 L62.5,94 M53,99 L63,102" stroke="#8f8c82" stroke-width="0.6"/><path d="M63.0,60.0 L63.8,60.2 L65.0,60.4 L66.3,60.8 L67.7,61.1 L69.0,61.5 L70.0,62.0 L70.8,62.6 L71.4,63.3 L71.9,64.1 L72.4,64.9 L72.7,65.5 L73.0,66.0" fill="none" stroke="#a3a096" stroke-width="1.2" stroke-linecap="round"/><path d="M69.8,62.4 L70.1,63.1 L70.4,63.9 L70.5,65.0 L70.5,66.2 L70.5,67.5 L70.6,68.8 L70.7,70.0 L70.7,71.1 L70.8,72.1 L70.9,73.1 L71.1,74.0 L71.3,74.9 L71.5,75.8 L71.8,76.6 L72.2,77.5 L72.6,78.5 L73.0,79.5 L73.4,80.8 L73.9,82.2 L74.4,83.6 L74.9,84.9 L75.2,86.2 L75.2,87.3 L75.3,88.0 L77.7,88.0 L77.7,87.2 L77.7,86.1 L77.9,84.9 L78.4,83.4 L78.8,81.9 L79.1,80.4 L79.3,78.9 L79.4,77.5 L79.5,76.3 L79.4,75.1 L79.3,73.9 L79.0,72.9 L78.7,71.8 L78.3,70.8 L77.8,69.9 L77.3,68.9 L76.7,67.9 L75.9,66.8 L75.1,65.8 L74.2,64.8 L73.4,63.9 L72.7,63.0 L72.4,62.2 L72.2,61.6Z" fill="#a29f95" stroke="#8a877d" stroke-width="0.5"/><path d="M58,104 l4.7,5.4 M58,104 l5.4,5.4 M58,104 l-12.1,7.6 M58,104 l7.6,4.7 M58,104 l5.5,4.3 M58,104 l-12.5,7.8 M58,104 l-5.8,4.9 M58,104 l-4.4,8.1 M58,104 l-5.9,6.6 M58,104 l-4.9,4.1 M58,104 l0.5,8.6 M58,104 l-9.3,4.8 M58,104 l-10.1,8.3 M58,104 l-8.7,5.5 M58,104 l-2.7,4.0 M58,104 l6.9,3.3 M58,104 l11.1,4.7 M58,104 l-1.0,5.1" stroke="#a09d94" stroke-width="0.6" fill="none"/></svg>
<div class="cn" style="left:1409.85px">Pineapple</div>
<div class="sp" style="left:1409.85px;top:105.5px">(<i>A.</i><br><i>comosus</i>)</div>
<svg class="im" style="left:1417.85px" width="120" height="124" viewBox="0 0 120 124"><path d="M60.7,117.9 L60.1,116.5 L59.4,114.6 L58.5,112.4 L57.4,110.0 L56.1,107.6 L54.6,105.2 L53.0,102.9 L51.2,100.9 L49.2,99.2 L47.0,97.7 L44.5,96.2 L42.0,95.0 L39.6,93.9 L37.4,93.0 L35.5,92.3 L34.1,91.8 L33.9,92.2 L35.1,93.1 L36.6,94.4 L38.6,95.7 L40.7,97.2 L43.0,98.7 L45.2,100.3 L47.2,101.8 L48.9,103.4 L50.4,105.0 L52.0,107.0 L53.6,109.2 L55.2,111.4 L56.7,113.5 L58.1,115.4 L59.3,117.0 L60.3,118.1Z" fill="#dedede" stroke="#858585" stroke-width="0.6"/><path d="M60.6,117.8 L59.9,117.1 L59.1,116.0 L58.0,114.8 L56.6,113.6 L55.2,112.4 L53.6,111.2 L52.0,110.3 L50.3,109.6 L48.5,109.1 L46.6,108.9 L44.6,108.8 L42.7,108.9 L40.9,109.0 L39.3,109.3 L38.0,109.6 L37.0,109.8 L37.0,110.2 L38.0,110.5 L39.3,110.9 L40.9,111.2 L42.6,111.4 L44.4,111.7 L46.2,112.0 L47.8,112.4 L49.2,112.8 L50.5,113.3 L52.0,114.0 L53.6,114.8 L55.2,115.7 L56.7,116.5 L58.1,117.3 L59.4,117.8 L60.4,118.2Z" fill="#dedede" stroke="#858585" stroke-width="0.6"/><path d="M60.7,117.9 L60.4,116.1 L60.0,113.5 L59.5,110.6 L58.8,107.3 L57.9,103.9 L56.9,100.4 L55.8,97.1 L54.5,94.0 L53.0,91.1 L51.2,88.1 L49.2,85.1 L47.1,82.2 L45.0,79.5 L43.1,77.2 L41.4,75.3 L40.2,73.9 L39.8,74.1 L40.7,75.8 L41.8,78.1 L43.3,80.7 L44.9,83.6 L46.7,86.6 L48.4,89.7 L50.0,92.7 L51.4,95.5 L52.7,98.3 L53.9,101.4 L55.1,104.7 L56.3,108.0 L57.4,111.2 L58.5,114.0 L59.5,116.3 L60.3,118.1Z" fill="#dedede" stroke="#858585" stroke-width="0.6"/><path d="M60.7,118.0 L60.6,115.9 L60.4,113.1 L60.1,109.8 L59.7,106.1 L59.1,102.2 L58.5,98.3 L57.7,94.5 L56.8,91.0 L55.7,87.5 L54.4,83.9 L53.0,80.2 L51.5,76.6 L49.9,73.3 L48.5,70.3 L47.2,67.8 L46.2,65.9 L45.8,66.1 L46.3,68.1 L47.0,70.8 L47.9,74.0 L49.1,77.5 L50.2,81.2 L51.4,84.9 L52.6,88.6 L53.5,91.9 L54.4,95.3 L55.3,99.0 L56.2,102.8 L57.1,106.6 L58.0,110.1 L58.9,113.3 L59.7,116.0 L60.3,118.0Z" fill="#dedede" stroke="#858585" stroke-width="0.6"/><path d="M60.7,118.0 L60.7,116.6 L60.7,114.8 L60.6,112.6 L60.5,110.2 L60.2,107.7 L59.8,105.1 L59.4,102.6 L58.9,100.3 L58.2,98.1 L57.5,95.7 L56.6,93.3 L55.6,90.9 L54.7,88.7 L53.7,86.8 L52.9,85.1 L52.2,83.9 L51.8,84.1 L52.0,85.4 L52.2,87.2 L52.7,89.4 L53.2,91.7 L53.8,94.1 L54.4,96.6 L55.0,99.0 L55.6,101.2 L56.1,103.4 L56.7,105.8 L57.3,108.2 L57.9,110.7 L58.5,113.0 L59.2,115.0 L59.8,116.7 L60.3,118.0Z" fill="#dedede" stroke="#858585" stroke-width="0.6"/><path d="M60.7,118.1 L61.6,117.0 L62.8,115.4 L64.2,113.5 L65.6,111.4 L67.1,109.2 L68.6,107.0 L70.1,105.1 L71.6,103.4 L73.2,101.9 L75.2,100.3 L77.3,98.8 L79.5,97.2 L81.6,95.8 L83.4,94.4 L85.0,93.1 L86.1,92.2 L85.9,91.8 L84.5,92.4 L82.7,93.0 L80.5,93.9 L78.2,95.0 L75.7,96.3 L73.3,97.7 L71.1,99.3 L69.2,101.0 L67.5,103.0 L66.0,105.2 L64.6,107.6 L63.4,110.1 L62.3,112.5 L61.4,114.7 L60.8,116.5 L60.3,117.9Z" fill="#dedede" stroke="#858585" stroke-width="0.6"/><path d="M60.6,118.2 L61.6,117.8 L62.8,117.3 L64.2,116.5 L65.6,115.7 L67.1,114.8 L68.6,114.0 L70.0,113.3 L71.3,112.8 L72.6,112.4 L74.2,112.0 L75.9,111.7 L77.6,111.4 L79.2,111.2 L80.8,110.9 L82.1,110.5 L83.0,110.2 L83.0,109.8 L82.0,109.6 L80.7,109.3 L79.2,109.0 L77.5,108.9 L75.6,108.8 L73.7,108.9 L71.9,109.1 L70.2,109.6 L68.6,110.3 L67.0,111.3 L65.5,112.4 L64.1,113.6 L62.9,114.9 L61.8,116.0 L61.0,117.1 L60.4,117.8Z" fill="#dedede" stroke="#858585" stroke-width="0.6"/><path d="M60.7,118.0 L61.4,116.3 L62.4,114.0 L63.4,111.2 L64.5,108.0 L65.6,104.7 L66.7,101.5 L67.9,98.3 L69.1,95.5 L70.4,92.7 L71.9,89.7 L73.6,86.7 L75.3,83.6 L76.9,80.7 L78.3,78.1 L79.4,75.8 L80.2,74.1 L79.8,73.9 L78.6,75.3 L77.0,77.2 L75.1,79.6 L73.1,82.2 L71.1,85.1 L69.2,88.1 L67.4,91.2 L66.0,94.1 L64.8,97.1 L63.7,100.5 L62.8,103.9 L62.0,107.4 L61.3,110.6 L60.9,113.6 L60.6,116.1 L60.3,118.0Z" fill="#dedede" stroke="#858585" stroke-width="0.6"/><path d="M60.7,118.0 L61.3,116.0 L62.1,113.3 L62.8,110.1 L63.6,106.6 L64.5,102.8 L65.3,99.0 L66.1,95.3 L67.0,91.9 L67.9,88.6 L68.9,84.9 L70.1,81.2 L71.2,77.5 L72.2,74.0 L73.1,70.8 L73.7,68.1 L74.2,66.1 L73.8,65.9 L72.9,67.8 L71.6,70.3 L70.2,73.3 L68.7,76.7 L67.3,80.3 L65.9,84.0 L64.7,87.6 L63.7,91.1 L62.9,94.6 L62.2,98.4 L61.6,102.3 L61.1,106.1 L60.7,109.8 L60.5,113.1 L60.4,115.9 L60.3,118.0Z" fill="#dedede" stroke="#858585" stroke-width="0.6"/><path d="M60.7,118.0 L61.2,116.7 L61.7,115.0 L62.3,112.9 L62.9,110.6 L63.4,108.2 L64.0,105.7 L64.5,103.3 L64.9,101.2 L65.4,99.0 L66.0,96.6 L66.5,94.1 L67.0,91.7 L67.5,89.4 L67.9,87.2 L68.1,85.4 L68.2,84.1 L67.8,83.9 L67.2,85.2 L66.4,86.8 L65.5,88.7 L64.6,91.0 L63.7,93.3 L62.9,95.7 L62.2,98.1 L61.6,100.4 L61.2,102.7 L60.8,105.2 L60.5,107.7 L60.3,110.3 L60.2,112.6 L60.2,114.8 L60.2,116.6 L60.3,118.0Z" fill="#dedede" stroke="#858585" stroke-width="0.6"/><path d="M60.7,117.9 L60.4,116.9 L60.0,115.5 L59.5,113.9 L58.7,112.2 L57.9,110.4 L56.9,108.7 L55.8,107.1 L54.5,105.6 L53.1,104.4 L51.4,103.3 L49.6,102.4 L47.8,101.6 L46.1,100.9 L44.5,100.4 L43.1,100.1 L42.1,99.8 L41.9,100.2 L42.7,100.9 L43.8,101.8 L45.1,102.8 L46.6,103.9 L48.2,104.9 L49.7,106.0 L51.0,107.1 L52.2,108.1 L53.2,109.2 L54.3,110.5 L55.4,112.0 L56.5,113.5 L57.6,115.0 L58.6,116.3 L59.6,117.3 L60.3,118.1Z" fill="#dedede" stroke="#858585" stroke-width="0.6"/><path d="M60.7,118.1 L61.4,117.3 L62.3,116.3 L63.2,114.9 L64.3,113.5 L65.3,112.0 L66.3,110.5 L67.3,109.2 L68.3,108.1 L69.4,107.1 L70.7,106.0 L72.1,105.0 L73.6,103.9 L75.0,102.8 L76.3,101.8 L77.4,100.9 L78.1,100.2 L77.9,99.8 L76.9,100.1 L75.6,100.4 L74.0,101.0 L72.3,101.6 L70.6,102.5 L68.9,103.4 L67.3,104.5 L65.9,105.7 L64.7,107.2 L63.7,108.8 L62.7,110.5 L62.0,112.3 L61.4,114.0 L60.9,115.6 L60.6,116.9 L60.3,117.9Z" fill="#dedede" stroke="#858585" stroke-width="0.6"/><path d="M60.5,117.8 L59.7,117.4 L58.7,116.8 L57.3,116.2 L55.8,115.6 L54.2,115.1 L52.6,114.7 L50.9,114.4 L49.2,114.3 L47.6,114.4 L45.9,114.7 L44.3,115.1 L42.7,115.6 L41.2,116.2 L39.8,116.8 L38.8,117.4 L38.0,117.8 L38.0,118.2 L39.0,118.3 L40.2,118.3 L41.6,118.3 L43.2,118.1 L44.8,118.0 L46.4,117.8 L47.9,117.7 L49.2,117.7 L50.6,117.7 L52.1,117.8 L53.7,118.0 L55.3,118.1 L56.9,118.3 L58.3,118.3 L59.5,118.3 L60.5,118.2Z" fill="#dedede" stroke="#858585" stroke-width="0.6"/><path d="M60.5,118.2 L61.4,118.3 L62.6,118.3 L64.0,118.3 L65.5,118.1 L67.0,118.0 L68.6,117.8 L70.0,117.7 L71.2,117.7 L72.5,117.7 L73.9,117.8 L75.5,118.0 L77.0,118.1 L78.5,118.3 L79.9,118.3 L81.1,118.3 L82.0,118.2 L82.0,117.8 L81.3,117.4 L80.3,116.8 L79.0,116.2 L77.6,115.6 L76.0,115.1 L74.4,114.7 L72.8,114.4 L71.2,114.3 L69.7,114.4 L68.1,114.7 L66.5,115.1 L64.9,115.6 L63.5,116.2 L62.2,116.8 L61.2,117.4 L60.5,117.8Z" fill="#dedede" stroke="#858585" stroke-width="0.6"/><path d="M60.7,118.0 L60.9,116.1 L61.1,113.6 L61.3,110.7 L61.4,107.4 L61.4,103.9 L61.3,100.4 L61.2,97.0 L60.9,93.7 L60.6,90.6 L60.1,87.2 L59.5,83.7 L58.8,80.3 L58.1,77.0 L57.4,74.2 L56.7,71.8 L56.2,70.0 L55.8,70.0 L55.8,71.9 L55.9,74.4 L56.0,77.4 L56.3,80.6 L56.6,84.1 L56.9,87.6 L57.3,90.9 L57.6,94.1 L57.8,97.2 L58.1,100.6 L58.5,104.1 L58.8,107.5 L59.1,110.8 L59.5,113.7 L60.0,116.2 L60.3,118.0Z" fill="#dedede" stroke="#858585" stroke-width="0.6"/><path d="M60.7,118.0 L61.0,116.2 L61.4,113.7 L61.7,110.7 L62.0,107.5 L62.3,104.0 L62.5,100.6 L62.7,97.2 L62.9,94.1 L63.2,90.9 L63.5,87.5 L63.7,84.1 L64.0,80.6 L64.1,77.3 L64.2,74.4 L64.2,71.9 L64.2,70.0 L63.8,70.0 L63.3,71.8 L62.7,74.2 L62.0,77.1 L61.4,80.3 L60.8,83.7 L60.3,87.2 L59.9,90.6 L59.6,93.8 L59.4,97.0 L59.3,100.4 L59.3,104.0 L59.4,107.4 L59.6,110.7 L59.8,113.7 L60.1,116.1 L60.3,118.0Z" fill="#dedede" stroke="#858585" stroke-width="0.6"/><path d="M60.5,62.0 L60.5,118.0" fill="none" stroke="#8f8f8f" stroke-width="1.4" stroke-linecap="round"/><clipPath id="pc"><ellipse cx="60.5" cy="50" rx="10.3" ry="12.2"/></clipPath><ellipse cx="60.5" cy="50" rx="10.3" ry="12.2" fill="#cfcfcf" stroke="#7f7f7f" stroke-width="0.8"/><path clip-path="url(#pc)" d="M30.0,37 L40.0,63 M51.0,37 L41.0,63 M34.0,37 L44.0,63 M55.0,37 L45.0,63 M38.0,37 L48.0,63 M59.0,37 L49.0,63 M42.0,37 L52.0,63 M63.0,37 L53.0,63 M46.0,37 L56.0,63 M67.0,37 L57.0,63 M50.0,37 L60.0,63 M71.0,37 L61.0,63 M54.0,37 L64.0,63 M75.0,37 L65.0,63 M58.0,37 L68.0,63 M79.0,37 L69.0,63 M62.0,37 L72.0,63 M83.0,37 L73.0,63 M66.0,37 L76.0,63 M87.0,37 L77.0,63 M70.0,37 L80.0,63 M91.0,37 L81.0,63" stroke="#8a8a8a" stroke-width="0.6"/><path d="M60.6,37.9 L60.2,37.2 L59.7,36.2 L59.1,35.1 L58.3,33.9 L57.4,32.6 L56.5,31.4 L55.6,30.2 L54.7,29.2 L53.8,28.1 L52.8,27.0 L51.8,25.9 L50.7,24.9 L49.7,23.9 L48.7,23.0 L47.8,22.4 L47.1,21.9 L46.9,22.1 L47.3,22.8 L47.8,23.8 L48.4,24.9 L49.2,26.1 L50.1,27.4 L51.0,28.6 L51.9,29.8 L52.8,30.8 L53.7,31.9 L54.7,33.0 L55.7,34.1 L56.8,35.1 L57.8,36.1 L58.8,37.0 L59.7,37.6 L60.4,38.1Z" fill="#d2d2d2" stroke="#858585" stroke-width="0.5"/><path d="M60.6,38.0 L60.5,37.0 L60.3,35.7 L60.0,34.2 L59.6,32.6 L59.1,30.9 L58.6,29.2 L58.0,27.6 L57.5,26.0 L56.9,24.5 L56.2,22.9 L55.5,21.3 L54.8,19.7 L54.0,18.2 L53.3,16.9 L52.7,15.8 L52.1,15.0 L51.9,15.0 L52.0,16.0 L52.2,17.3 L52.5,18.8 L52.9,20.4 L53.4,22.1 L53.9,23.8 L54.5,25.4 L55.0,27.0 L55.6,28.5 L56.3,30.1 L57.0,31.7 L57.7,33.3 L58.5,34.8 L59.2,36.1 L59.8,37.2 L60.4,38.0Z" fill="#d2d2d2" stroke="#858585" stroke-width="0.5"/><path d="M60.6,38.0 L60.8,37.0 L60.9,35.8 L60.9,34.3 L60.9,32.6 L60.9,30.9 L60.8,29.2 L60.7,27.4 L60.5,25.9 L60.4,24.3 L60.1,22.6 L59.8,20.9 L59.5,19.1 L59.2,17.5 L58.8,16.1 L58.4,14.9 L58.1,14.0 L57.9,14.0 L57.7,15.0 L57.6,16.2 L57.6,17.7 L57.6,19.4 L57.6,21.1 L57.7,22.8 L57.8,24.6 L58.0,26.1 L58.1,27.7 L58.4,29.4 L58.7,31.1 L59.0,32.9 L59.3,34.5 L59.7,35.9 L60.1,37.1 L60.4,38.0Z" fill="#d2d2d2" stroke="#858585" stroke-width="0.5"/><path d="M60.6,38.0 L61.0,37.1 L61.4,35.9 L61.8,34.5 L62.2,32.9 L62.6,31.2 L63.0,29.5 L63.3,27.8 L63.5,26.2 L63.7,24.6 L63.9,22.9 L64.1,21.1 L64.2,19.4 L64.3,17.7 L64.3,16.2 L64.2,15.0 L64.1,14.0 L63.9,14.0 L63.5,14.9 L63.1,16.1 L62.7,17.5 L62.3,19.1 L61.9,20.8 L61.5,22.5 L61.2,24.2 L61.0,25.8 L60.8,27.4 L60.6,29.1 L60.4,30.9 L60.3,32.6 L60.2,34.3 L60.2,35.8 L60.3,37.0 L60.4,38.0Z" fill="#d2d2d2" stroke="#858585" stroke-width="0.5"/><path d="M60.6,38.1 L61.2,37.4 L61.9,36.5 L62.7,35.3 L63.5,34.0 L64.3,32.7 L65.1,31.3 L65.8,29.9 L66.4,28.6 L67.0,27.2 L67.7,25.8 L68.3,24.3 L68.8,22.8 L69.3,21.4 L69.7,20.1 L70.0,18.9 L70.1,18.1 L69.9,17.9 L69.3,18.6 L68.6,19.5 L67.8,20.7 L67.0,22.0 L66.2,23.3 L65.4,24.7 L64.7,26.1 L64.1,27.4 L63.5,28.8 L62.8,30.2 L62.2,31.7 L61.7,33.2 L61.2,34.6 L60.8,35.9 L60.5,37.1 L60.4,37.9Z" fill="#d2d2d2" stroke="#858585" stroke-width="0.5"/><path d="M60.6,38.1 L61.2,37.8 L62.0,37.4 L62.9,36.8 L63.9,36.1 L64.9,35.3 L65.9,34.5 L66.8,33.7 L67.7,32.9 L68.5,32.1 L69.3,31.2 L70.1,30.3 L70.9,29.3 L71.7,28.4 L72.3,27.5 L72.8,26.7 L73.1,26.1 L72.9,25.9 L72.3,26.2 L71.5,26.6 L70.6,27.2 L69.6,27.9 L68.6,28.7 L67.6,29.5 L66.7,30.3 L65.8,31.1 L65.0,31.9 L64.2,32.8 L63.4,33.7 L62.6,34.7 L61.8,35.6 L61.2,36.5 L60.7,37.3 L60.4,37.9Z" fill="#d2d2d2" stroke="#858585" stroke-width="0.5"/><path d="M60.6,37.9 L60.1,37.4 L59.5,36.8 L58.7,36.1 L57.8,35.4 L56.8,34.7 L55.8,34.0 L54.8,33.4 L53.9,32.9 L52.9,32.4 L51.9,31.8 L50.8,31.3 L49.6,30.9 L48.6,30.5 L47.6,30.2 L46.7,30.0 L46.1,29.9 L45.9,30.1 L46.4,30.6 L47.0,31.2 L47.8,31.9 L48.7,32.6 L49.7,33.3 L50.7,34.0 L51.7,34.6 L52.6,35.1 L53.6,35.6 L54.6,36.2 L55.7,36.7 L56.9,37.1 L57.9,37.5 L58.9,37.8 L59.8,38.0 L60.4,38.1Z" fill="#d2d2d2" stroke="#858585" stroke-width="0.5"/><path d="M60.5,38.1 L61.2,38.1 L62.0,38.1 L63.0,38.0 L64.0,37.8 L65.1,37.6 L66.2,37.3 L67.2,37.0 L68.2,36.7 L69.1,36.4 L70.1,36.0 L71.2,35.5 L72.1,35.0 L73.1,34.5 L73.9,34.0 L74.6,33.5 L75.0,33.1 L75.0,32.9 L74.3,32.9 L73.5,32.9 L72.5,33.0 L71.5,33.2 L70.4,33.4 L69.3,33.7 L68.3,34.0 L67.3,34.3 L66.4,34.6 L65.4,35.0 L64.3,35.5 L63.4,36.0 L62.4,36.5 L61.6,37.0 L60.9,37.5 L60.5,37.9Z" fill="#d2d2d2" stroke="#858585" stroke-width="0.5"/><path d="M60.6,38.0 L60.6,37.2 L60.6,36.2 L60.4,35.0 L60.2,33.8 L60.0,32.4 L59.7,31.1 L59.3,29.8 L59.0,28.6 L58.6,27.4 L58.2,26.2 L57.7,24.9 L57.1,23.6 L56.6,22.5 L56.1,21.4 L55.5,20.6 L55.1,20.0 L54.9,20.0 L54.9,20.8 L54.9,21.8 L55.1,23.0 L55.3,24.2 L55.5,25.6 L55.8,26.9 L56.2,28.2 L56.5,29.4 L56.9,30.6 L57.3,31.8 L57.8,33.1 L58.4,34.4 L58.9,35.5 L59.4,36.6 L60.0,37.4 L60.4,38.0Z" fill="#d2d2d2" stroke="#858585" stroke-width="0.5"/><path d="M60.6,38.0 L61.0,37.5 L61.6,36.8 L62.1,35.9 L62.6,34.8 L63.2,33.7 L63.7,32.6 L64.1,31.5 L64.5,30.4 L64.8,29.4 L65.2,28.2 L65.5,27.0 L65.7,25.8 L65.9,24.7 L66.1,23.6 L66.1,22.7 L66.1,22.0 L65.9,22.0 L65.5,22.5 L64.9,23.2 L64.4,24.1 L63.9,25.2 L63.3,26.3 L62.8,27.4 L62.4,28.5 L62.0,29.6 L61.7,30.6 L61.3,31.8 L61.0,33.0 L60.8,34.2 L60.6,35.3 L60.4,36.4 L60.4,37.3 L60.4,38.0Z" fill="#d2d2d2" stroke="#858585" stroke-width="0.5"/></svg>
<div class="cn" style="left:1545.56px">Rice</div>
<div class="sp" style="left:1545.56px;top:121.5px">(<i>O. sativa</i>)</div>
<svg class="im" style="left:1553.56px" width="120" height="124" viewBox="0 0 120 124"><path d="M56.4,118.1 L55.6,115.6 L54.6,112.3 L53.5,108.2 L52.3,103.8 L50.8,99.1 L49.2,94.4 L47.4,90.0 L45.5,86.0 L43.1,82.2 L40.4,78.3 L37.3,74.5 L34.1,70.9 L31.0,67.4 L28.2,64.4 L25.8,61.8 L24.1,59.9 L23.9,60.1 L25.5,62.1 L27.8,64.8 L30.5,67.9 L33.4,71.5 L36.4,75.2 L39.4,79.1 L42.0,83.0 L44.1,86.7 L45.9,90.6 L47.5,95.0 L48.9,99.7 L50.2,104.3 L51.3,108.8 L52.2,112.9 L53.0,116.3 L53.7,118.9Z" fill="#aeac9e"/><path d="M58.0,117.8 L57.1,116.4 L56.0,114.4 L54.7,112.1 L53.3,109.5 L51.7,106.7 L49.9,104.0 L48.1,101.4 L46.1,99.0 L43.8,96.8 L41.1,94.6 L38.3,92.3 L35.3,90.2 L32.5,88.2 L29.9,86.5 L27.7,85.0 L26.1,83.9 L25.9,84.1 L27.4,85.4 L29.5,87.0 L32.0,88.8 L34.8,90.9 L37.6,93.2 L40.3,95.5 L42.8,97.8 L44.9,100.0 L46.7,102.4 L48.4,105.0 L49.9,107.7 L51.4,110.5 L52.7,113.2 L53.8,115.6 L54.8,117.6 L55.5,119.2Z" fill="#aeac9e"/><path d="M57.8,117.6 L57.0,116.8 L56.1,115.8 L55.0,114.6 L53.7,113.2 L52.3,111.8 L50.7,110.3 L49.1,108.9 L47.3,107.7 L45.4,106.5 L43.1,105.4 L40.6,104.2 L38.0,103.1 L35.6,102.1 L33.3,101.2 L31.4,100.4 L30.1,99.9 L29.9,100.1 L31.3,100.8 L33.1,101.7 L35.3,102.8 L37.6,103.9 L40.1,105.2 L42.5,106.5 L44.7,107.7 L46.5,109.0 L48.0,110.2 L49.4,111.6 L50.8,113.1 L52.1,114.6 L53.2,116.1 L54.2,117.4 L55.0,118.6 L55.7,119.4Z" fill="#aeac9e"/><path d="M58.8,118.2 L58.1,115.0 L57.2,110.5 L56.2,105.3 L55.1,99.4 L53.8,93.3 L52.5,87.2 L51.2,81.4 L49.7,76.2 L48.2,71.3 L46.4,66.3 L44.4,61.2 L42.4,56.4 L40.5,51.9 L38.7,47.9 L37.2,44.5 L36.1,41.9 L35.9,42.1 L36.8,44.7 L38.2,48.1 L39.8,52.2 L41.5,56.8 L43.4,61.6 L45.2,66.7 L46.8,71.7 L48.3,76.6 L49.5,81.8 L50.7,87.6 L51.9,93.7 L52.9,99.8 L53.9,105.7 L54.8,111.0 L55.5,115.4 L56.0,118.8Z" fill="#aeac9e"/><path d="M56.1,118.4 L55.8,114.3 L55.3,108.9 L54.9,102.3 L54.3,95.1 L53.7,87.5 L52.9,80.0 L52.1,72.8 L51.2,66.4 L50.0,60.3 L48.6,54.1 L47.0,47.9 L45.4,41.9 L43.8,36.3 L42.3,31.3 L41.1,27.2 L40.1,24.0 L39.9,24.0 L40.6,27.3 L41.7,31.5 L43.0,36.5 L44.5,42.1 L46.0,48.1 L47.4,54.4 L48.6,60.6 L49.6,66.6 L50.4,73.0 L51.1,80.2 L51.7,87.7 L52.1,95.2 L52.5,102.5 L52.9,109.0 L53.1,114.5 L53.3,118.6Z" fill="#aeac9e"/><path d="M56.3,118.5 L56.1,114.1 L55.9,108.1 L55.7,101.0 L55.5,93.2 L55.2,85.0 L54.8,76.8 L54.4,69.0 L54.0,62.1 L53.4,55.5 L52.6,48.7 L51.8,42.0 L51.0,35.5 L50.1,29.4 L49.3,24.0 L48.7,19.5 L48.1,16.0 L47.9,16.0 L48.2,19.5 L48.7,24.1 L49.3,29.5 L50.0,35.6 L50.7,42.1 L51.4,48.9 L52.0,55.6 L52.4,62.2 L52.7,69.1 L53.0,76.9 L53.2,85.0 L53.3,93.2 L53.4,101.1 L53.5,108.2 L53.5,114.1 L53.5,118.5Z" fill="#aeac9e"/><path d="M56.0,118.5 L55.9,115.0 L55.9,110.2 L55.9,104.5 L55.8,98.1 L55.8,91.5 L55.7,84.9 L55.6,78.7 L55.4,73.1 L55.1,67.8 L54.7,62.4 L54.2,56.9 L53.8,51.7 L53.3,46.8 L52.8,42.5 L52.4,38.8 L52.1,36.0 L51.9,36.0 L52.0,38.8 L52.2,42.5 L52.5,46.9 L52.8,51.8 L53.2,57.0 L53.5,62.4 L53.7,67.9 L53.8,73.1 L53.9,78.7 L53.8,85.0 L53.8,91.5 L53.7,98.1 L53.5,104.4 L53.4,110.1 L53.3,114.9 L53.2,118.5Z" fill="#aeac9e"/><path d="M56.3,118.5 L56.4,114.3 L56.5,108.6 L56.6,101.8 L56.8,94.2 L57.0,86.3 L57.2,78.5 L57.3,71.0 L57.5,64.3 L57.6,58.0 L57.7,51.5 L57.8,45.0 L57.9,38.8 L58.0,33.0 L58.1,27.7 L58.1,23.4 L58.1,20.0 L57.9,20.0 L57.7,23.3 L57.5,27.7 L57.2,32.9 L57.0,38.8 L56.7,45.0 L56.5,51.5 L56.2,58.0 L55.9,64.3 L55.6,71.0 L55.3,78.4 L55.0,86.3 L54.6,94.1 L54.3,101.7 L54.0,108.5 L53.7,114.2 L53.5,118.5Z" fill="#aeac9e"/><path d="M58.3,118.5 L58.3,114.9 L58.3,110.0 L58.3,104.1 L58.4,97.7 L58.4,90.9 L58.5,84.2 L58.7,77.8 L58.9,72.1 L59.2,66.7 L59.6,61.1 L60.1,55.5 L60.6,50.2 L61.1,45.1 L61.5,40.7 L61.9,36.9 L62.1,34.0 L61.9,34.0 L61.5,36.8 L60.9,40.6 L60.3,45.1 L59.7,50.1 L59.0,55.4 L58.4,61.0 L57.8,66.6 L57.3,72.0 L57.0,77.7 L56.7,84.1 L56.4,90.9 L56.2,97.6 L56.0,104.1 L55.8,109.9 L55.7,114.8 L55.5,118.5Z" fill="#aeac9e"/><path d="M55.9,118.7 L56.3,114.5 L56.8,108.9 L57.5,102.2 L58.2,94.8 L59.0,87.1 L59.9,79.4 L60.8,72.1 L61.7,65.5 L62.7,59.4 L63.8,53.0 L65.0,46.6 L66.3,40.5 L67.5,34.8 L68.6,29.6 L69.5,25.3 L70.1,22.0 L69.9,22.0 L69.1,25.2 L68.0,29.5 L66.8,34.6 L65.4,40.3 L64.0,46.4 L62.6,52.8 L61.3,59.1 L60.1,65.3 L59.1,71.8 L58.0,79.1 L57.0,86.8 L56.1,94.6 L55.2,101.9 L54.4,108.6 L53.7,114.2 L53.1,118.3Z" fill="#aeac9e"/><path d="M57.5,118.7 L57.9,115.3 L58.5,110.7 L59.1,105.3 L59.8,99.3 L60.7,93.0 L61.6,86.7 L62.6,80.8 L63.8,75.5 L65.1,70.5 L66.7,65.3 L68.5,60.1 L70.4,55.1 L72.2,50.5 L73.8,46.3 L75.2,42.8 L76.1,40.1 L75.9,39.9 L74.7,42.6 L73.2,46.0 L71.5,50.2 L69.5,54.8 L67.5,59.8 L65.5,64.9 L63.8,70.1 L62.2,75.1 L61.0,80.5 L59.8,86.4 L58.7,92.7 L57.7,99.0 L56.8,105.0 L56.0,110.4 L55.3,114.9 L54.7,118.3Z" fill="#aeac9e"/><path d="M56.2,118.8 L57.0,115.0 L58.0,109.8 L59.2,103.7 L60.5,96.9 L62.0,89.8 L63.7,82.7 L65.4,76.1 L67.2,70.1 L69.3,64.4 L71.8,58.6 L74.6,52.7 L77.4,47.1 L80.1,41.8 L82.6,37.1 L84.6,33.1 L86.1,30.1 L85.9,29.9 L84.2,32.9 L82.0,36.8 L79.4,41.4 L76.6,46.7 L73.6,52.3 L70.7,58.1 L68.1,63.9 L65.8,69.6 L63.8,75.6 L61.9,82.3 L60.1,89.3 L58.4,96.4 L56.9,103.2 L55.5,109.3 L54.4,114.4 L53.5,118.2Z" fill="#aeac9e"/><path d="M56.5,118.8 L57.5,114.7 L58.6,109.2 L60.0,102.7 L61.6,95.4 L63.4,87.9 L65.4,80.3 L67.5,73.2 L69.7,66.8 L72.3,60.8 L75.3,54.5 L78.7,48.3 L82.2,42.3 L85.6,36.6 L88.7,31.6 L91.3,27.3 L93.1,24.1 L92.9,23.9 L90.9,27.1 L88.2,31.3 L85.0,36.2 L81.4,41.8 L77.8,47.7 L74.3,53.9 L71.0,60.2 L68.2,66.2 L65.8,72.7 L63.6,79.8 L61.5,87.4 L59.5,94.9 L57.7,102.1 L56.2,108.7 L54.9,114.1 L53.8,118.2Z" fill="#aeac9e"/><path d="M57.0,119.0 L57.9,116.2 L59.1,112.6 L60.4,108.2 L62.0,103.4 L63.7,98.4 L65.7,93.5 L67.7,88.7 L70.0,84.5 L72.6,80.5 L75.7,76.4 L79.2,72.2 L82.8,68.2 L86.3,64.5 L89.5,61.1 L92.2,58.3 L94.1,56.1 L93.9,55.9 L91.9,58.0 L89.1,60.7 L85.8,63.9 L82.2,67.6 L78.4,71.5 L74.8,75.6 L71.5,79.7 L68.6,83.7 L66.2,88.0 L64.0,92.7 L61.9,97.7 L59.9,102.7 L58.2,107.5 L56.7,111.8 L55.4,115.4 L54.4,118.0Z" fill="#aeac9e"/><path d="M58.6,119.2 L59.3,117.7 L60.2,115.8 L61.2,113.5 L62.5,111.0 L63.9,108.4 L65.4,105.8 L67.2,103.4 L69.1,101.2 L71.5,99.1 L74.5,96.9 L77.8,94.7 L81.2,92.6 L84.6,90.6 L87.7,88.8 L90.2,87.3 L92.1,86.1 L91.9,85.9 L90.0,86.9 L87.4,88.3 L84.2,89.9 L80.8,91.8 L77.2,93.8 L73.8,95.9 L70.7,98.0 L68.1,100.1 L65.9,102.3 L63.9,104.7 L62.1,107.4 L60.6,110.0 L59.2,112.4 L58.0,114.7 L57.0,116.5 L56.1,117.8Z" fill="#aeac9e"/><path d="M57.5,119.4 L58.1,118.5 L58.9,117.4 L59.8,116.1 L60.8,114.6 L62.0,113.1 L63.3,111.6 L64.7,110.2 L66.2,109.0 L68.1,107.7 L70.4,106.5 L73.0,105.2 L75.7,104.0 L78.3,102.8 L80.6,101.7 L82.6,100.8 L84.1,100.1 L83.9,99.9 L82.4,100.4 L80.4,101.2 L78.0,102.1 L75.3,103.1 L72.6,104.2 L69.9,105.4 L67.4,106.5 L65.4,107.7 L63.6,108.9 L62.0,110.3 L60.5,111.8 L59.1,113.2 L57.9,114.6 L56.9,115.9 L56.1,116.9 L55.4,117.6Z" fill="#aeac9e"/><path d="M55.5,118.4 L55.2,116.3 L55.0,113.5 L54.8,110.2 L54.5,106.5 L54.2,102.6 L53.7,98.7 L53.2,95.0 L52.6,91.7 L51.7,88.5 L50.6,85.3 L49.4,82.1 L48.2,79.1 L47.0,76.2 L45.8,73.7 L44.9,71.6 L44.1,69.9 L43.9,70.1 L44.4,71.7 L45.2,73.9 L46.2,76.5 L47.3,79.4 L48.4,82.5 L49.5,85.7 L50.4,88.9 L51.0,92.0 L51.5,95.2 L51.9,98.9 L52.1,102.7 L52.3,106.6 L52.5,110.3 L52.5,113.7 L52.6,116.5 L52.7,118.6Z" fill="#aeac9e"/><path d="M56.5,118.7 L56.8,116.4 L57.2,113.4 L57.7,109.7 L58.2,105.7 L58.9,101.5 L59.5,97.3 L60.2,93.4 L61.0,89.8 L61.8,86.4 L62.7,83.0 L63.8,79.5 L64.9,76.2 L65.9,73.0 L66.8,70.2 L67.6,67.9 L68.1,66.0 L67.9,66.0 L67.2,67.7 L66.2,70.0 L65.2,72.8 L64.0,75.9 L62.8,79.2 L61.6,82.6 L60.4,86.1 L59.4,89.4 L58.6,93.0 L57.7,97.0 L56.9,101.2 L56.1,105.4 L55.4,109.4 L54.7,113.0 L54.2,116.0 L53.7,118.3Z" fill="#aeac9e"/><path d="M56.0,118.2 L55.4,116.1 L54.8,113.3 L54.0,110.0 L53.1,106.3 L52.1,102.4 L51.0,98.5 L49.7,94.8 L48.3,91.5 L46.6,88.4 L44.5,85.2 L42.1,82.0 L39.7,79.0 L37.4,76.1 L35.2,73.6 L33.4,71.5 L32.1,69.9 L31.9,70.1 L33.1,71.8 L34.8,74.0 L36.8,76.6 L39.0,79.5 L41.3,82.6 L43.4,85.9 L45.4,89.1 L46.9,92.2 L48.1,95.4 L49.2,99.0 L50.2,102.9 L51.0,106.8 L51.7,110.5 L52.3,113.8 L52.8,116.7 L53.2,118.8Z" fill="#aeac9e"/><path d="M58.8,118.9 L59.3,116.8 L59.8,114.1 L60.5,110.8 L61.3,107.3 L62.2,103.6 L63.2,99.9 L64.4,96.4 L65.8,93.3 L67.5,90.3 L69.6,87.2 L71.9,84.2 L74.4,81.2 L76.8,78.4 L79.0,75.9 L80.8,73.7 L82.1,72.1 L81.9,71.9 L80.5,73.4 L78.5,75.4 L76.2,77.9 L73.7,80.6 L71.1,83.5 L68.6,86.5 L66.3,89.6 L64.4,92.6 L62.9,95.8 L61.5,99.3 L60.3,103.0 L59.2,106.8 L58.2,110.3 L57.4,113.5 L56.7,116.2 L56.1,118.1Z" fill="#aeac9e"/><path d="M56.0,108.5 L55.3,102.5 L54.3,93.9 L53.1,83.9 L51.9,73.4 L50.8,63.4 L50.0,55.0 L49.4,47.8 L49.0,41.0 L48.6,34.7 L48.4,29.1 L48.2,24.5 L48.0,21.0" fill="none" stroke="#aeac9e" stroke-width="1.1" stroke-linecap="round"/><path d="M48.0,21.0 L47.9,20.5 L47.8,19.9 L47.6,19.2 L47.5,18.4 L47.3,17.6 L47.2,17.0 L47.0,16.4 L46.9,15.9 L46.8,15.4 L46.6,14.9 L46.5,14.5 L46.4,14.1 L46.2,13.8 L46.1,13.4 L45.9,13.2 L45.8,12.9 L45.7,12.7 L45.5,12.5 L45.4,12.3 L45.3,12.2 L45.1,12.1 L45.0,12.1 L44.9,12.1 L44.7,12.1 L44.6,12.1 L44.4,12.2 L44.3,12.3 L44.2,12.5 L44.0,12.7 L43.9,12.9 L43.8,13.1 L43.6,13.4 L43.5,13.8 L43.4,14.1 L43.2,14.5 L43.1,14.9 L42.9,15.4 L42.8,15.9 L42.7,16.4 L42.5,16.9 L42.4,17.5 L42.3,18.1 L42.1,18.9 L42.0,19.7 L41.8,20.6 L41.6,21.4 L41.5,22.1 L41.4,22.6" fill="none" stroke="#aeac9e" stroke-width="1.4" stroke-linecap="round"/><path d="M48.0,22.0 L47.8,21.6 L47.6,21.1 L47.4,20.4 L47.1,19.7 L46.8,19.1 L46.5,18.6 L46.3,18.1 L46.0,17.7 L45.8,17.3 L45.5,16.9 L45.3,16.6 L45.1,16.3 L44.8,16.1 L44.6,15.9 L44.3,15.7 L44.1,15.5 L43.8,15.4 L43.6,15.3 L43.3,15.3 L43.1,15.3 L42.8,15.3 L42.6,15.3 L42.4,15.4 L42.1,15.5 L41.9,15.7 L41.6,15.9 L41.4,16.1 L41.1,16.3 L40.9,16.6 L40.6,16.9 L40.4,17.3 L40.1,17.7 L39.9,18.1 L39.7,18.5 L39.4,19.0 L39.2,19.6 L38.9,20.1 L38.7,20.7 L38.4,21.3 L38.2,22.0 L37.9,22.7 L37.7,23.4 L37.4,24.2 L37.1,25.2 L36.9,26.2 L36.6,27.1 L36.4,27.9 L36.2,28.4" fill="none" stroke="#aeac9e" stroke-width="1.4" stroke-linecap="round"/><path d="M48.0,23.0 L47.8,22.7 L47.5,22.2 L47.2,21.7 L46.8,21.2 L46.4,20.7 L46.1,20.2 L45.7,19.9 L45.4,19.6 L45.1,19.3 L44.8,19.1 L44.4,18.9 L44.1,18.7 L43.8,18.6 L43.5,18.5 L43.1,18.4 L42.8,18.3 L42.5,18.3 L42.2,18.4 L41.8,18.4 L41.5,18.5 L41.2,18.7 L40.9,18.8 L40.6,19.0 L40.2,19.2 L39.9,19.5 L39.6,19.8 L39.3,20.1 L38.9,20.5 L38.6,20.9 L38.3,21.3 L38.0,21.8 L37.6,22.3 L37.3,22.8 L37.0,23.4 L36.7,24.0 L36.3,24.6 L36.0,25.3 L35.7,26.0 L35.4,26.8 L35.0,27.5 L34.7,28.3 L34.4,29.2 L34.1,30.1 L33.7,31.2 L33.3,32.3 L33.0,33.4 L32.7,34.3 L32.5,34.9" fill="none" stroke="#aeac9e" stroke-width="1.4" stroke-linecap="round"/><path d="M48.0,24.0 L47.8,23.8 L47.4,23.4 L47.0,23.0 L46.6,22.6 L46.2,22.2 L45.8,22.0 L45.4,21.7 L45.0,21.5 L44.7,21.4 L44.3,21.3 L43.9,21.2 L43.5,21.1 L43.2,21.1 L42.8,21.1 L42.4,21.2 L42.1,21.2 L41.7,21.3 L41.3,21.5 L40.9,21.7 L40.6,21.9 L40.2,22.1 L39.8,22.4 L39.5,22.7 L39.1,23.1 L38.7,23.5 L38.3,23.9 L38.0,24.3 L37.6,24.8 L37.2,25.3 L36.9,25.9 L36.5,26.5 L36.1,27.1 L35.8,27.7 L35.4,28.4 L35.0,29.1 L34.6,29.9 L34.3,30.7 L33.9,31.5 L33.5,32.4 L33.2,33.3 L32.8,34.2 L32.4,35.1 L32.0,36.2 L31.6,37.4 L31.2,38.7 L30.8,39.9 L30.4,40.9 L30.2,41.6" fill="none" stroke="#aeac9e" stroke-width="1.4" stroke-linecap="round"/><path d="M48.0,25.0 L47.7,24.8 L47.4,24.6 L47.0,24.3 L46.5,24.1 L46.1,23.8 L45.7,23.6 L45.3,23.5 L44.9,23.5 L44.5,23.4 L44.1,23.4 L43.7,23.4 L43.3,23.5 L42.9,23.6 L42.6,23.7 L42.2,23.9 L41.8,24.1 L41.4,24.3 L41.0,24.6 L40.6,24.9 L40.2,25.2 L39.8,25.6 L39.4,26.0 L39.1,26.4 L38.7,26.9 L38.3,27.4 L37.9,27.9 L37.5,28.5 L37.1,29.1 L36.7,29.7 L36.3,30.4 L35.9,31.1 L35.6,31.8 L35.2,32.6 L34.8,33.4 L34.4,34.2 L34.0,35.1 L33.6,36.0 L33.2,36.9 L32.8,37.9 L32.4,38.9 L32.1,39.9 L31.7,41.0 L31.3,42.2 L30.8,43.6 L30.4,45.0 L29.9,46.3 L29.6,47.4 L29.3,48.1" fill="none" stroke="#aeac9e" stroke-width="1.4" stroke-linecap="round"/><path d="M48.0,26.0 L47.8,25.9 L47.4,25.8 L47.0,25.6 L46.6,25.5 L46.1,25.3 L45.7,25.3 L45.3,25.3 L45.0,25.3 L44.6,25.4 L44.2,25.5 L43.8,25.6 L43.5,25.8 L43.1,26.0 L42.7,26.2 L42.3,26.5 L41.9,26.8 L41.6,27.1 L41.2,27.5 L40.8,27.9 L40.4,28.4 L40.0,28.8 L39.7,29.3 L39.3,29.9 L38.9,30.5 L38.5,31.1 L38.1,31.7 L37.8,32.4 L37.4,33.1 L37.0,33.8 L36.6,34.6 L36.3,35.4 L35.9,36.2 L35.5,37.1 L35.1,38.0 L34.7,39.0 L34.4,40.0 L34.0,41.0 L33.6,42.0 L33.2,43.1 L32.8,44.2 L32.5,45.3 L32.1,46.5 L31.7,47.8 L31.2,49.3 L30.8,50.8 L30.4,52.2 L30.1,53.4 L29.8,54.3" fill="none" stroke="#aeac9e" stroke-width="1.4" stroke-linecap="round"/><path d="M56.0,108.5 L56.5,101.1 L57.1,90.6 L57.9,78.4 L58.7,65.6 L59.4,53.7 L60.0,44.0 L60.5,36.2 L60.9,29.1 L61.2,23.0 L61.6,17.7 L61.8,13.3 L62.0,10.0" fill="none" stroke="#aeac9e" stroke-width="1.1" stroke-linecap="round"/><path d="M62.0,10.0 L62.1,9.5 L62.2,8.7 L62.4,7.8 L62.6,6.9 L62.8,6.0 L62.9,5.3 L63.1,4.6 L63.3,3.9 L63.4,3.3 L63.6,2.8 L63.7,2.2 L63.9,1.7 L64.0,1.3 L64.2,0.8 L64.4,0.4 L64.5,0.0 L64.7,-0.3 L64.8,-0.6 L65.0,-0.9 L65.1,-1.1 L65.3,-1.3 L65.5,-1.5 L65.6,-1.6 L65.8,-1.7 L65.9,-1.8 L66.1,-1.8 L66.2,-1.8 L66.4,-1.8 L66.6,-1.7 L66.7,-1.6 L66.9,-1.5 L67.0,-1.3 L67.2,-1.1 L67.3,-0.9 L67.5,-0.6 L67.7,-0.3 L67.8,0.1 L68.0,0.4 L68.1,0.8 L68.3,1.3 L68.4,1.7 L68.6,2.3 L68.8,2.9 L69.0,3.6 L69.1,4.3 L69.3,5.0 L69.4,5.6 L69.5,6.0" fill="none" stroke="#aeac9e" stroke-width="1.4" stroke-linecap="round"/><path d="M62.0,11.0 L62.2,10.5 L62.4,9.9 L62.7,9.2 L63.1,8.4 L63.4,7.6 L63.7,7.0 L64.0,6.4 L64.3,5.9 L64.5,5.4 L64.8,4.9 L65.1,4.5 L65.4,4.1 L65.7,3.8 L66.0,3.4 L66.2,3.2 L66.5,2.9 L66.8,2.7 L67.1,2.5 L67.4,2.3 L67.6,2.2 L67.9,2.1 L68.2,2.1 L68.5,2.1 L68.8,2.1 L69.1,2.1 L69.3,2.2 L69.6,2.3 L69.9,2.5 L70.2,2.7 L70.5,2.9 L70.7,3.2 L71.0,3.4 L71.3,3.8 L71.6,4.1 L71.9,4.5 L72.2,4.9 L72.4,5.4 L72.7,5.9 L73.0,6.4 L73.3,6.9 L73.6,7.5 L73.9,8.1 L74.2,8.9 L74.5,9.7 L74.8,10.6 L75.1,11.4 L75.4,12.1 L75.5,12.6" fill="none" stroke="#aeac9e" stroke-width="1.4" stroke-linecap="round"/><path d="M62.0,12.0 L62.2,11.6 L62.6,11.1 L63.0,10.5 L63.4,9.9 L63.8,9.2 L64.2,8.7 L64.6,8.3 L65.0,7.9 L65.4,7.6 L65.7,7.2 L66.1,6.9 L66.5,6.7 L66.8,6.5 L67.2,6.3 L67.6,6.1 L68.0,6.0 L68.3,5.9 L68.7,5.8 L69.1,5.8 L69.4,5.8 L69.8,5.9 L70.2,6.0 L70.6,6.1 L70.9,6.2 L71.3,6.4 L71.7,6.6 L72.1,6.9 L72.4,7.1 L72.8,7.5 L73.2,7.8 L73.5,8.2 L73.9,8.6 L74.3,9.1 L74.7,9.5 L75.0,10.1 L75.4,10.6 L75.8,11.2 L76.1,11.8 L76.5,12.5 L76.9,13.2 L77.3,13.9 L77.6,14.6 L78.0,15.5 L78.5,16.5 L78.9,17.5 L79.3,18.5 L79.6,19.3 L79.9,19.9" fill="none" stroke="#aeac9e" stroke-width="1.4" stroke-linecap="round"/><path d="M62.0,13.0 L62.3,12.7 L62.7,12.3 L63.1,11.9 L63.6,11.4 L64.1,10.9 L64.6,10.6 L65.0,10.3 L65.4,10.0 L65.8,9.8 L66.3,9.6 L66.7,9.4 L67.1,9.3 L67.5,9.2 L68.0,9.2 L68.4,9.2 L68.8,9.2 L69.3,9.2 L69.7,9.3 L70.1,9.4 L70.5,9.6 L71.0,9.7 L71.4,10.0 L71.8,10.2 L72.2,10.5 L72.7,10.8 L73.1,11.2 L73.5,11.5 L74.0,12.0 L74.4,12.4 L74.8,12.9 L75.2,13.4 L75.7,14.0 L76.1,14.6 L76.5,15.2 L76.9,15.8 L77.4,16.5 L77.8,17.2 L78.2,18.0 L78.6,18.8 L79.1,19.6 L79.5,20.5 L79.9,21.3 L80.4,22.4 L80.9,23.5 L81.4,24.7 L81.8,25.8 L82.2,26.7 L82.5,27.4" fill="none" stroke="#aeac9e" stroke-width="1.4" stroke-linecap="round"/><path d="M62.0,14.0 L62.3,13.8 L62.7,13.5 L63.2,13.2 L63.7,12.9 L64.2,12.6 L64.7,12.4 L65.1,12.2 L65.6,12.1 L66.0,12.0 L66.5,11.9 L66.9,11.9 L67.4,11.9 L67.8,12.0 L68.3,12.0 L68.7,12.2 L69.2,12.3 L69.6,12.5 L70.0,12.7 L70.5,13.0 L70.9,13.2 L71.4,13.6 L71.8,13.9 L72.3,14.3 L72.7,14.7 L73.2,15.1 L73.6,15.6 L74.1,16.2 L74.5,16.7 L75.0,17.3 L75.4,17.9 L75.9,18.6 L76.3,19.2 L76.8,20.0 L77.2,20.7 L77.6,21.5 L78.1,22.3 L78.5,23.2 L79.0,24.1 L79.4,25.0 L79.9,25.9 L80.3,26.9 L80.8,28.0 L81.3,29.1 L81.8,30.4 L82.3,31.7 L82.8,33.0 L83.2,34.0 L83.5,34.8" fill="none" stroke="#aeac9e" stroke-width="1.4" stroke-linecap="round"/><path d="M62.0,15.0 L62.3,14.9 L62.7,14.7 L63.1,14.5 L63.6,14.3 L64.1,14.2 L64.6,14.1 L65.1,14.1 L65.5,14.1 L65.9,14.1 L66.4,14.2 L66.8,14.3 L67.2,14.4 L67.7,14.6 L68.1,14.8 L68.5,15.0 L69.0,15.3 L69.4,15.6 L69.8,15.9 L70.3,16.3 L70.7,16.7 L71.2,17.1 L71.6,17.6 L72.0,18.1 L72.5,18.7 L72.9,19.2 L73.3,19.8 L73.8,20.5 L74.2,21.2 L74.6,21.9 L75.1,22.6 L75.5,23.4 L75.9,24.2 L76.4,25.0 L76.8,25.9 L77.3,26.8 L77.7,27.8 L78.1,28.8 L78.6,29.8 L79.0,30.8 L79.4,31.9 L79.9,33.0 L80.3,34.1 L80.8,35.4 L81.3,36.9 L81.8,38.3 L82.2,39.7 L82.6,40.9 L82.9,41.7" fill="none" stroke="#aeac9e" stroke-width="1.4" stroke-linecap="round"/></svg>
<div class="cn" style="left:1681.28px">Switchgrass</div>
<div class="sp" style="left:1681.28px;top:105.5px">(<i>P.</i><br><i>virgatum</i>)</div>
<svg class="im" style="left:1689.28px" width="120" height="124" viewBox="0 0 120 124"><path d="M60.7,30 C72,38 82,55 84,76 C85,95 78,108 70,114 L51,114 C43,108 36,95 37,76 C39,55 49,38 60.7,30 Z" fill="#dadada"/><path d="M58.9,114.2 L59.3,111.8 L59.8,108.3 L60.4,104.1 L61.1,99.7 L61.9,95.2 L62.8,91.0 L63.8,87.4 L65.0,84.8 L66.4,83.2 L68.2,82.0 L70.2,81.2 L72.3,80.8 L74.5,80.5 L76.6,80.4 L78.4,80.4 L79.8,80.3 L80.6,80.3 L81.1,80.4 L81.4,80.7 L81.6,81.1 L81.8,81.6 L81.9,82.1 L81.9,82.5 L82.1,82.8 L82.4,82.7 L82.3,82.4 L82.4,82.0 L82.4,81.5 L82.3,80.9 L82.1,80.2 L81.6,79.7 L80.8,79.3 L79.7,79.2 L78.4,79.2 L76.6,79.1 L74.5,79.1 L72.1,79.3 L69.8,79.7 L67.4,80.5 L65.2,81.8 L63.4,83.8 L62.0,86.7 L60.8,90.4 L59.7,94.7 L58.8,99.3 L58.0,103.8 L57.3,107.9 L56.7,111.3 L56.2,113.8Z" fill="#c2c2c2"/><path d="M57.8,114.3 L58.5,111.5 L59.3,107.6 L60.3,102.9 L61.5,97.8 L62.8,92.7 L64.3,87.9 L66.1,83.8 L68.1,80.7 L70.5,78.5 L73.5,76.7 L77.0,75.3 L80.7,74.3 L84.3,73.6 L87.7,73.0 L90.5,72.6 L92.7,72.2 L94.0,72.1 L94.7,72.1 L95.0,72.3 L95.1,72.7 L95.1,73.2 L95.0,73.8 L94.9,74.4 L95.0,74.7 L95.3,74.7 L95.3,74.4 L95.5,74.0 L95.7,73.4 L95.8,72.7 L95.7,71.9 L95.1,71.3 L94.0,71.1 L92.6,71.2 L90.4,71.4 L87.5,71.8 L84.1,72.2 L80.3,72.8 L76.5,73.8 L72.8,75.1 L69.4,77.0 L66.6,79.5 L64.3,82.9 L62.4,87.2 L60.7,92.1 L59.2,97.3 L58.0,102.4 L56.9,107.0 L56.0,110.9 L55.2,113.7Z" fill="#c2c2c2"/><path d="M66.5,113.7 L66.0,111.6 L65.4,108.4 L64.8,104.6 L64.0,100.5 L63.1,96.4 L62.1,92.6 L60.9,89.4 L59.4,87.0 L57.6,85.6 L55.4,84.9 L53.1,84.9 L50.8,85.3 L48.6,85.9 L46.5,86.6 L44.8,87.2 L43.5,87.6 L42.5,88.0 L41.8,88.5 L41.3,89.0 L41.1,89.6 L41.1,90.1 L41.1,90.5 L41.1,90.9 L41.0,91.1 L41.3,91.2 L41.4,91.0 L41.5,90.6 L41.6,90.2 L41.8,89.8 L42.0,89.5 L42.4,89.2 L42.9,88.9 L43.8,88.7 L45.2,88.4 L46.9,87.8 L48.9,87.3 L51.1,86.8 L53.2,86.5 L55.1,86.6 L56.7,87.2 L58.0,88.2 L59.1,90.2 L60.1,93.2 L61.0,96.9 L61.7,101.0 L62.4,105.0 L63.0,108.8 L63.4,112.0 L63.8,114.3Z" fill="#c2c2c2"/><path d="M58.2,114.1 L58.4,110.0 L58.8,104.4 L59.2,97.6 L59.6,90.2 L60.2,82.7 L60.9,75.6 L61.6,69.2 L62.5,64.3 L63.6,60.5 L64.9,57.3 L66.3,54.6 L67.9,52.4 L69.4,50.6 L70.8,49.1 L72.1,47.9 L73.1,46.9 L73.7,46.3 L73.8,46.3 L74.0,46.4 L74.3,47.0 L74.5,47.7 L74.7,48.5 L74.9,49.1 L75.1,49.5 L75.3,49.4 L75.3,49.1 L75.2,48.4 L75.1,47.6 L75.0,46.8 L74.7,46.0 L74.1,45.4 L73.2,45.4 L72.3,46.1 L71.3,47.0 L69.9,48.2 L68.4,49.7 L66.7,51.5 L65.0,53.8 L63.3,56.5 L61.9,59.9 L60.6,63.8 L59.7,68.9 L58.8,75.3 L58.0,82.5 L57.4,90.0 L56.8,97.4 L56.3,104.2 L55.8,109.8 L55.5,113.9Z" fill="#c2c2c2"/><path d="M64.4,113.6 L63.9,112.2 L63.3,110.2 L62.6,107.9 L61.7,105.2 L60.7,102.6 L59.6,100.0 L58.2,97.7 L56.6,95.9 L54.7,94.5 L52.5,93.5 L50.0,92.7 L47.5,92.0 L45.0,91.6 L42.8,91.3 L40.8,91.1 L39.3,91.0 L38.2,91.0 L37.4,91.4 L36.9,92.0 L36.6,92.6 L36.6,93.2 L36.6,93.8 L36.7,94.2 L36.6,94.5 L36.9,94.6 L37.1,94.3 L37.1,93.8 L37.2,93.3 L37.3,92.8 L37.5,92.4 L37.8,92.2 L38.3,92.0 L39.2,92.1 L40.7,92.3 L42.6,92.6 L44.8,93.0 L47.2,93.5 L49.6,94.2 L51.8,95.0 L53.8,96.1 L55.3,97.3 L56.6,98.8 L57.7,100.9 L58.7,103.4 L59.5,106.0 L60.3,108.5 L60.9,110.9 L61.4,113.0 L61.9,114.4Z" fill="#c2c2c2"/><path d="M65.0,114.1 L65.1,109.9 L65.3,104.1 L65.6,97.1 L65.9,89.5 L66.3,81.8 L66.7,74.6 L67.2,68.3 L67.7,63.4 L68.4,59.9 L69.2,57.2 L70.2,55.2 L71.1,53.7 L72.1,52.6 L73.0,51.8 L73.8,51.1 L74.5,50.4 L74.9,50.1 L75.0,50.0 L75.2,50.3 L75.5,50.8 L75.8,51.4 L76.1,52.1 L76.3,52.7 L76.5,53.0 L76.8,52.9 L76.7,52.6 L76.6,52.0 L76.4,51.2 L76.2,50.5 L75.9,49.8 L75.4,49.2 L74.6,49.1 L73.8,49.5 L73.1,50.1 L72.1,50.8 L71.1,51.6 L69.9,52.8 L68.8,54.4 L67.7,56.6 L66.7,59.5 L65.8,63.1 L65.2,68.1 L64.6,74.4 L64.1,81.7 L63.6,89.4 L63.2,97.0 L62.8,104.0 L62.5,109.8 L62.3,113.9Z" fill="#c2c2c2"/><path d="M60.3,114.7 L60.8,113.7 L61.3,112.4 L61.9,111.0 L62.6,109.4 L63.4,107.9 L64.4,106.5 L65.4,105.3 L66.6,104.4 L68.1,103.7 L70.0,103.2 L72.2,102.7 L74.6,102.4 L76.9,102.2 L79.1,102.1 L80.9,102.1 L82.3,102.1 L83.2,102.2 L83.8,102.4 L84.1,102.6 L84.3,103.0 L84.4,103.4 L84.5,103.9 L84.6,104.3 L84.7,104.6 L85.0,104.5 L85.0,104.2 L85.0,103.9 L85.0,103.4 L85.0,102.8 L84.8,102.2 L84.3,101.6 L83.5,101.2 L82.4,101.0 L81.0,100.9 L79.1,100.8 L76.8,100.9 L74.5,101.0 L72.0,101.2 L69.7,101.5 L67.5,102.0 L65.6,102.7 L64.1,103.8 L62.7,105.2 L61.6,106.7 L60.6,108.4 L59.7,110.0 L59.0,111.4 L58.4,112.6 L57.9,113.3Z" fill="#c2c2c2"/><path d="M60.8,113.7 L60.5,112.4 L60.1,110.6 L59.7,108.4 L59.2,105.9 L58.6,103.5 L57.9,101.2 L57.1,99.3 L56.1,97.8 L54.8,96.9 L53.4,96.6 L51.9,96.6 L50.5,96.9 L49.1,97.4 L47.8,97.9 L46.7,98.3 L45.8,98.7 L45.1,99.0 L44.5,99.5 L44.1,100.0 L43.8,100.6 L43.7,101.1 L43.5,101.5 L43.4,101.9 L43.4,102.1 L43.6,102.3 L43.8,102.0 L44.0,101.7 L44.2,101.3 L44.4,100.9 L44.7,100.5 L45.1,100.2 L45.6,99.9 L46.2,99.7 L47.1,99.4 L48.2,99.1 L49.5,98.7 L50.8,98.4 L52.0,98.2 L53.2,98.3 L54.1,98.6 L54.7,99.1 L55.3,100.1 L55.9,101.9 L56.5,104.0 L56.9,106.4 L57.3,108.8 L57.7,111.0 L57.9,112.9 L58.2,114.3Z" fill="#c2c2c2"/><path d="M65.5,113.8 L65.0,109.7 L64.3,104.0 L63.5,97.2 L62.5,89.7 L61.5,82.1 L60.2,74.9 L58.8,68.7 L57.2,63.8 L55.1,60.2 L52.6,57.6 L49.8,55.6 L47.0,54.2 L44.2,53.3 L41.7,52.7 L39.6,52.2 L38.0,51.8 L36.8,51.5 L35.8,51.6 L35.2,52.2 L35.0,53.0 L35.1,53.7 L35.1,54.4 L35.2,54.9 L35.2,55.2 L35.4,55.3 L35.6,55.0 L35.6,54.4 L35.6,53.7 L35.7,53.1 L35.9,52.7 L36.2,52.5 L36.6,52.5 L37.6,52.8 L39.3,53.4 L41.4,53.9 L43.8,54.7 L46.4,55.6 L49.0,57.0 L51.5,58.8 L53.6,61.3 L55.4,64.5 L56.9,69.2 L58.2,75.3 L59.3,82.4 L60.3,90.0 L61.1,97.4 L61.8,104.3 L62.4,110.1 L62.9,114.2Z" fill="#c2c2c2"/><path d="M66.0,113.9 L65.6,109.9 L65.1,104.4 L64.5,97.8 L63.8,90.6 L63.0,83.2 L62.1,76.1 L61.1,69.7 L59.9,64.5 L58.5,60.3 L56.8,56.6 L54.9,53.4 L52.9,50.6 L50.9,48.2 L49.1,46.3 L47.5,44.7 L46.3,43.5 L45.3,42.7 L44.4,42.6 L43.7,43.1 L43.5,44.0 L43.4,44.9 L43.4,45.7 L43.3,46.4 L43.3,46.8 L43.6,46.9 L43.7,46.5 L43.9,45.8 L44.0,44.9 L44.2,44.1 L44.4,43.6 L44.6,43.4 L44.8,43.5 L45.5,44.2 L46.7,45.5 L48.1,47.2 L49.9,49.2 L51.7,51.5 L53.5,54.2 L55.3,57.4 L56.8,61.0 L58.1,65.0 L59.1,70.1 L60.1,76.4 L60.8,83.4 L61.5,90.8 L62.1,98.0 L62.6,104.6 L63.0,110.1 L63.3,114.1Z" fill="#c2c2c2"/><path d="M66.2,113.6 L65.7,112.4 L65.2,110.6 L64.5,108.4 L63.8,106.1 L62.9,103.7 L61.9,101.5 L60.7,99.6 L59.3,98.2 L57.5,97.5 L55.5,97.3 L53.4,97.4 L51.2,97.7 L49.1,98.2 L47.2,98.7 L45.5,99.2 L44.2,99.6 L43.3,100.0 L42.6,100.5 L42.1,101.0 L41.9,101.6 L41.8,102.1 L41.8,102.5 L41.8,102.9 L41.7,103.1 L42.0,103.2 L42.2,103.0 L42.3,102.6 L42.4,102.2 L42.6,101.9 L42.8,101.5 L43.1,101.2 L43.7,100.9 L44.5,100.7 L45.8,100.4 L47.5,100.0 L49.4,99.6 L51.5,99.2 L53.5,99.0 L55.4,99.0 L57.0,99.2 L58.2,99.8 L59.1,100.8 L60.0,102.4 L60.9,104.5 L61.6,106.8 L62.2,109.1 L62.8,111.3 L63.2,113.1 L63.6,114.4Z" fill="#c2c2c2"/><path d="M57.7,114.2 L58.1,111.8 L58.6,108.5 L59.2,104.5 L59.9,100.2 L60.6,95.8 L61.6,91.6 L62.6,87.9 L63.8,85.1 L65.3,82.9 L67.1,81.0 L69.1,79.4 L71.3,78.1 L73.4,77.0 L75.4,76.1 L77.2,75.3 L78.5,74.8 L79.3,74.5 L79.7,74.5 L80.0,74.7 L80.2,75.2 L80.4,75.8 L80.4,76.4 L80.5,77.0 L80.7,77.3 L81.0,77.2 L80.9,76.9 L80.9,76.4 L81.0,75.7 L80.9,75.0 L80.7,74.3 L80.1,73.7 L79.3,73.5 L78.2,73.7 L76.8,74.2 L75.0,74.8 L72.8,75.7 L70.6,76.7 L68.2,78.1 L65.9,79.7 L63.9,81.7 L62.1,84.2 L60.7,87.2 L59.5,91.0 L58.5,95.3 L57.6,99.8 L56.8,104.1 L56.1,108.1 L55.6,111.4 L55.1,113.8Z" fill="#c2c2c2"/><path d="M66.4,113.7 L65.9,111.6 L65.4,108.6 L64.8,104.9 L64.0,101.0 L63.1,97.0 L62.1,93.2 L61.0,90.0 L59.6,87.6 L57.8,86.0 L55.7,85.0 L53.5,84.6 L51.2,84.6 L49.0,84.8 L47.1,85.1 L45.4,85.4 L44.1,85.6 L43.1,85.8 L42.3,86.3 L41.9,86.8 L41.6,87.4 L41.6,88.0 L41.6,88.5 L41.6,88.8 L41.5,89.1 L41.8,89.2 L41.9,88.9 L42.0,88.5 L42.1,88.1 L42.3,87.7 L42.5,87.3 L42.9,87.0 L43.4,86.8 L44.2,86.7 L45.5,86.6 L47.2,86.4 L49.2,86.2 L51.2,86.1 L53.3,86.2 L55.2,86.7 L56.8,87.5 L58.0,88.7 L59.1,90.8 L60.1,93.8 L61.0,97.5 L61.7,101.4 L62.4,105.4 L62.9,109.0 L63.4,112.1 L63.8,114.3Z" fill="#c2c2c2"/><path d="M63.1,113.9 L62.8,109.7 L62.5,103.9 L62.1,97.0 L61.6,89.4 L61.1,81.6 L60.5,74.1 L59.8,67.4 L59.0,61.9 L58.0,57.4 L56.9,53.4 L55.6,49.8 L54.3,46.8 L53.0,44.1 L51.8,41.9 L50.7,40.1 L49.8,38.7 L49.1,37.7 L48.1,37.5 L47.5,38.1 L47.2,38.9 L47.0,39.8 L46.9,40.8 L46.8,41.5 L46.7,41.9 L47.0,42.0 L47.2,41.6 L47.4,40.9 L47.6,40.0 L47.9,39.1 L48.2,38.5 L48.3,38.4 L48.4,38.5 L48.9,39.2 L49.7,40.7 L50.6,42.5 L51.7,44.7 L52.9,47.4 L54.1,50.4 L55.3,53.9 L56.3,57.8 L57.1,62.2 L57.8,67.6 L58.4,74.3 L58.9,81.8 L59.3,89.5 L59.7,97.1 L60.0,104.0 L60.2,109.9 L60.4,114.1Z" fill="#c2c2c2"/><path d="M57.3,114.4 L57.9,112.2 L58.6,109.1 L59.4,105.5 L60.3,101.6 L61.4,97.8 L62.7,94.2 L64.1,91.3 L65.7,89.4 L67.5,88.3 L70.0,87.7 L72.8,87.5 L75.9,87.7 L78.9,88.1 L81.7,88.6 L84.1,89.1 L85.9,89.3 L87.1,89.5 L87.8,89.8 L88.1,90.1 L88.3,90.4 L88.3,90.7 L88.3,91.1 L88.3,91.5 L88.4,91.8 L88.7,91.8 L88.7,91.5 L88.8,91.2 L88.9,90.8 L88.9,90.2 L88.8,89.6 L88.3,89.0 L87.4,88.6 L86.1,88.3 L84.3,87.9 L81.9,87.3 L79.1,86.7 L76.0,86.2 L72.9,85.9 L69.8,86.0 L66.9,86.6 L64.4,87.9 L62.4,90.2 L60.8,93.4 L59.3,97.1 L58.1,101.0 L57.1,104.9 L56.2,108.6 L55.4,111.5 L54.7,113.6Z" fill="#c2c2c2"/><path d="M63.0,114.6 L63.4,113.8 L63.7,112.8 L64.2,111.6 L64.7,110.3 L65.3,109.0 L65.9,107.9 L66.7,106.9 L67.5,106.3 L68.5,105.8 L69.9,105.4 L71.5,105.1 L73.3,104.9 L75.0,104.9 L76.6,104.9 L78.0,104.9 L79.0,105.0 L79.7,105.1 L80.2,105.3 L80.6,105.6 L80.8,106.0 L81.0,106.4 L81.2,106.8 L81.3,107.2 L81.5,107.5 L81.8,107.4 L81.7,107.1 L81.6,106.7 L81.6,106.3 L81.5,105.7 L81.2,105.1 L80.8,104.6 L80.1,104.2 L79.2,103.9 L78.1,103.7 L76.6,103.6 L75.0,103.5 L73.2,103.4 L71.4,103.5 L69.6,103.7 L68.0,104.1 L66.5,104.6 L65.3,105.5 L64.3,106.6 L63.4,107.9 L62.6,109.3 L62.0,110.6 L61.4,111.8 L61.0,112.8 L60.6,113.4Z" fill="#c2c2c2"/><path d="M62.6,114.4 L63.1,112.8 L63.6,110.5 L64.2,107.8 L65.0,104.9 L65.8,102.0 L66.8,99.4 L67.9,97.4 L69.0,96.0 L70.4,95.3 L72.3,95.0 L74.5,95.1 L76.8,95.4 L79.2,95.9 L81.4,96.4 L83.3,96.9 L84.8,97.3 L85.8,97.5 L86.3,97.8 L86.7,98.1 L86.9,98.4 L87.0,98.8 L87.1,99.2 L87.2,99.5 L87.3,99.8 L87.6,99.7 L87.5,99.5 L87.6,99.1 L87.6,98.7 L87.6,98.2 L87.4,97.6 L86.9,97.1 L86.1,96.6 L85.1,96.2 L83.7,95.8 L81.8,95.2 L79.5,94.5 L77.1,93.9 L74.6,93.5 L72.2,93.3 L69.9,93.6 L67.9,94.5 L66.2,96.2 L64.9,98.5 L63.7,101.3 L62.8,104.2 L61.9,107.2 L61.2,109.9 L60.6,112.1 L60.1,113.6Z" fill="#c2c2c2"/><path d="M60.7,114.1 L61.0,110.1 L61.5,104.5 L61.9,97.8 L62.5,90.5 L63.2,83.1 L64.0,75.9 L64.9,69.6 L66.0,64.4 L67.3,60.3 L68.9,56.7 L70.7,53.5 L72.5,50.8 L74.4,48.4 L76.1,46.4 L77.6,44.7 L78.8,43.4 L79.5,42.7 L79.7,42.6 L79.9,42.7 L80.2,43.3 L80.3,44.1 L80.5,44.9 L80.6,45.7 L80.8,46.1 L81.1,46.0 L81.0,45.6 L81.0,44.9 L80.9,44.0 L80.8,43.1 L80.6,42.3 L80.0,41.7 L79.0,41.8 L78.0,42.6 L76.8,43.9 L75.2,45.5 L73.3,47.5 L71.3,49.9 L69.3,52.7 L67.4,55.9 L65.6,59.7 L64.2,63.9 L63.0,69.2 L61.9,75.7 L61.0,82.8 L60.2,90.3 L59.5,97.6 L59.0,104.3 L58.4,109.8 L58.0,113.9Z" fill="#c2c2c2"/><path d="M57.1,113.5 L56.7,112.5 L56.2,110.9 L55.5,108.9 L54.8,106.8 L53.9,104.6 L52.9,102.7 L51.6,101.1 L50.0,100.1 L48.2,100.0 L46.2,100.5 L44.1,101.3 L42.0,102.3 L39.9,103.5 L38.0,104.7 L36.4,105.7 L35.1,106.5 L34.2,107.1 L33.6,107.7 L33.1,108.2 L32.9,108.7 L32.8,109.1 L32.8,109.5 L32.8,109.7 L32.7,109.9 L33.0,110.1 L33.2,109.8 L33.3,109.6 L33.4,109.3 L33.6,109.0 L33.8,108.7 L34.2,108.3 L34.8,107.9 L35.7,107.5 L37.0,106.8 L38.7,105.8 L40.6,104.8 L42.7,103.7 L44.7,102.8 L46.7,102.1 L48.3,101.8 L49.4,101.9 L50.2,102.6 L51.1,103.8 L51.9,105.5 L52.6,107.5 L53.2,109.6 L53.8,111.6 L54.2,113.3 L54.6,114.5Z" fill="#c2c2c2"/><path d="M59.3,114.1 L59.4,109.5 L59.5,103.3 L59.7,95.9 L60.0,87.8 L60.2,79.5 L60.6,71.5 L60.9,64.4 L61.4,58.6 L61.9,54.0 L62.6,49.9 L63.3,46.4 L64.1,43.3 L64.9,40.7 L65.6,38.5 L66.3,36.7 L66.8,35.3 L67.2,34.5 L67.1,34.4 L67.3,34.6 L67.6,35.2 L67.9,36.1 L68.2,36.9 L68.5,37.7 L68.7,38.1 L69.0,38.0 L68.8,37.6 L68.7,36.8 L68.5,35.9 L68.3,35.0 L68.0,34.1 L67.3,33.6 L66.4,33.8 L65.8,34.8 L65.2,36.3 L64.4,38.1 L63.6,40.3 L62.7,42.9 L61.8,46.0 L60.9,49.6 L60.1,53.7 L59.5,58.4 L58.9,64.2 L58.5,71.4 L58.0,79.4 L57.7,87.7 L57.3,95.8 L57.0,103.2 L56.8,109.5 L56.6,113.9Z" fill="#c2c2c2"/><path d="M62.2,113.8 L61.8,110.7 L61.3,106.3 L60.7,101.1 L60.1,95.3 L59.3,89.5 L58.4,83.8 L57.4,78.7 L56.3,74.5 L54.9,71.1 L53.2,68.0 L51.3,65.3 L49.4,63.0 L47.5,61.0 L45.7,59.3 L44.1,58.0 L42.9,57.0 L42.0,56.4 L41.0,56.4 L40.4,57.0 L40.2,57.7 L40.1,58.6 L40.0,59.4 L40.0,60.0 L39.9,60.4 L40.2,60.5 L40.4,60.1 L40.5,59.4 L40.7,58.7 L40.9,57.9 L41.1,57.4 L41.3,57.2 L41.6,57.3 L42.2,57.8 L43.3,58.9 L44.8,60.3 L46.5,62.0 L48.2,64.0 L50.0,66.3 L51.7,68.9 L53.2,71.8 L54.5,75.1 L55.5,79.1 L56.4,84.1 L57.1,89.8 L57.8,95.6 L58.3,101.3 L58.8,106.6 L59.2,111.0 L59.5,114.2Z" fill="#c2c2c2"/><path d="M62.0,114.4 L62.5,112.5 L63.2,109.9 L64.0,106.7 L65.0,103.4 L66.1,100.0 L67.3,97.0 L68.7,94.5 L70.3,92.8 L72.2,91.8 L74.7,91.2 L77.5,91.1 L80.6,91.2 L83.6,91.5 L86.4,91.9 L88.8,92.3 L90.7,92.5 L91.8,92.7 L92.5,93.0 L92.8,93.2 L93.0,93.5 L93.0,93.9 L93.0,94.3 L93.0,94.7 L93.1,95.0 L93.4,95.0 L93.4,94.7 L93.5,94.4 L93.6,94.0 L93.7,93.4 L93.5,92.8 L93.0,92.2 L92.1,91.8 L90.9,91.5 L89.0,91.1 L86.6,90.6 L83.8,90.1 L80.7,89.7 L77.5,89.5 L74.5,89.6 L71.6,90.1 L69.1,91.3 L67.1,93.3 L65.5,96.0 L64.0,99.2 L62.8,102.7 L61.7,106.1 L60.8,109.2 L60.0,111.8 L59.4,113.6Z" fill="#c2c2c2"/><path d="M63.5,113.8 L63.1,111.6 L62.7,108.5 L62.2,104.9 L61.6,100.9 L60.9,96.7 L60.1,92.8 L59.2,89.3 L58.1,86.4 L56.8,84.1 L55.3,82.1 L53.6,80.4 L51.8,79.0 L50.1,77.9 L48.5,77.0 L47.1,76.3 L46.0,75.8 L45.0,75.6 L44.2,75.8 L43.7,76.4 L43.4,77.1 L43.3,77.8 L43.2,78.4 L43.2,78.9 L43.1,79.3 L43.4,79.4 L43.6,79.1 L43.7,78.5 L43.9,77.9 L44.1,77.3 L44.4,76.8 L44.6,76.6 L44.9,76.6 L45.5,76.8 L46.5,77.4 L47.8,78.2 L49.3,79.1 L50.9,80.2 L52.5,81.6 L54.0,83.2 L55.3,85.0 L56.4,87.1 L57.3,89.8 L58.0,93.2 L58.7,97.1 L59.3,101.2 L59.8,105.2 L60.2,108.9 L60.6,112.0 L60.8,114.2Z" fill="#c2c2c2"/><path d="M62.6,114.4 L63.2,111.8 L64.0,108.4 L64.8,104.3 L65.9,99.9 L67.1,95.4 L68.5,91.1 L70.0,87.3 L71.8,84.3 L74.0,82.0 L76.8,79.9 L79.9,78.1 L83.2,76.6 L86.4,75.3 L89.4,74.3 L92.0,73.4 L93.9,72.8 L95.1,72.4 L95.7,72.4 L96.0,72.6 L96.1,73.0 L96.1,73.6 L96.1,74.3 L96.0,74.9 L96.2,75.2 L96.4,75.2 L96.4,74.9 L96.6,74.4 L96.7,73.7 L96.8,73.0 L96.7,72.2 L96.1,71.6 L95.1,71.4 L93.7,71.7 L91.7,72.3 L89.0,73.0 L85.9,74.0 L82.6,75.2 L79.2,76.7 L75.8,78.5 L72.8,80.6 L70.3,83.2 L68.3,86.4 L66.5,90.3 L65.0,94.7 L63.6,99.3 L62.5,103.8 L61.5,107.8 L60.7,111.2 L60.0,113.6Z" fill="#c2c2c2"/><path d="M59.6,114.2 L60.1,110.5 L60.6,105.4 L61.2,99.3 L61.9,92.6 L62.7,85.8 L63.7,79.3 L64.9,73.4 L66.2,68.7 L67.7,64.8 L69.7,61.3 L71.9,58.2 L74.2,55.4 L76.5,53.0 L78.6,50.9 L80.5,49.2 L81.9,47.9 L82.7,47.2 L83.1,47.1 L83.2,47.2 L83.5,47.7 L83.6,48.6 L83.7,49.4 L83.7,50.1 L83.9,50.5 L84.2,50.5 L84.1,50.1 L84.2,49.4 L84.2,48.5 L84.1,47.6 L83.9,46.8 L83.3,46.2 L82.3,46.3 L81.2,47.1 L79.7,48.3 L77.8,50.0 L75.5,52.0 L73.1,54.4 L70.7,57.2 L68.3,60.4 L66.1,64.0 L64.4,68.1 L62.9,73.0 L61.7,78.9 L60.6,85.5 L59.6,92.3 L58.8,99.0 L58.1,105.1 L57.5,110.2 L57.0,113.8Z" fill="#c2c2c2"/><path d="M58.2,113.9 L58.0,110.5 L57.7,105.8 L57.3,100.2 L56.9,94.0 L56.5,87.7 L55.9,81.6 L55.3,76.2 L54.7,71.8 L53.8,68.2 L52.9,65.0 L51.8,62.3 L50.6,59.9 L49.5,57.9 L48.5,56.3 L47.5,54.9 L46.7,53.9 L46.0,53.2 L45.1,53.1 L44.6,53.7 L44.3,54.5 L44.0,55.3 L43.9,56.1 L43.8,56.8 L43.7,57.1 L43.9,57.3 L44.1,56.9 L44.4,56.2 L44.6,55.5 L44.9,54.7 L45.2,54.2 L45.4,54.0 L45.5,54.0 L45.9,54.5 L46.5,55.6 L47.4,56.9 L48.3,58.6 L49.3,60.6 L50.3,62.9 L51.2,65.6 L52.1,68.6 L52.8,72.1 L53.4,76.4 L53.8,81.8 L54.3,87.9 L54.6,94.1 L54.9,100.3 L55.2,105.9 L55.4,110.7 L55.6,114.1Z" fill="#c2c2c2"/><path d="M60.9,114.0 L60.7,109.4 L60.5,103.2 L60.3,95.7 L60.0,87.5 L59.6,79.1 L59.3,71.2 L58.8,64.2 L58.4,58.6 L57.8,54.2 L57.1,50.6 L56.4,47.6 L55.6,45.2 L54.8,43.2 L54.1,41.6 L53.4,40.3 L52.8,39.2 L52.2,38.4 L51.3,38.3 L50.8,38.9 L50.5,39.6 L50.2,40.5 L50.0,41.3 L49.8,42.0 L49.7,42.4 L50.0,42.5 L50.2,42.1 L50.5,41.5 L50.8,40.7 L51.1,39.9 L51.4,39.3 L51.6,39.1 L51.6,39.2 L51.9,39.7 L52.3,40.8 L52.9,42.1 L53.5,43.7 L54.2,45.6 L54.8,48.0 L55.5,50.9 L56.0,54.5 L56.5,58.7 L56.8,64.3 L57.2,71.3 L57.4,79.2 L57.7,87.6 L57.9,95.7 L58.0,103.2 L58.1,109.5 L58.2,114.0Z" fill="#c2c2c2"/><path d="M59.8,114.2 L60.2,110.2 L60.7,104.7 L61.4,98.2 L62.1,91.0 L62.9,83.8 L63.9,77.1 L65.0,71.2 L66.3,66.8 L67.8,63.8 L69.7,61.5 L71.8,59.9 L74.1,58.7 L76.3,57.9 L78.4,57.3 L80.3,56.8 L81.7,56.3 L82.6,56.0 L83.0,56.1 L83.3,56.3 L83.5,56.7 L83.6,57.3 L83.7,58.0 L83.8,58.5 L83.9,58.8 L84.2,58.8 L84.2,58.5 L84.2,57.9 L84.2,57.3 L84.2,56.6 L84.0,55.8 L83.4,55.3 L82.5,55.0 L81.4,55.3 L80.0,55.7 L78.1,56.0 L75.9,56.5 L73.5,57.3 L71.0,58.5 L68.5,60.3 L66.3,62.8 L64.5,66.1 L63.1,70.7 L61.8,76.7 L60.7,83.5 L59.8,90.8 L59.0,97.9 L58.3,104.5 L57.7,109.9 L57.1,113.8Z" fill="#c2c2c2"/><path d="M61.5,114.2 L61.8,112.0 L62.1,108.9 L62.5,105.3 L63.0,101.3 L63.5,97.4 L64.2,93.7 L64.9,90.6 L65.7,88.5 L66.6,87.2 L67.7,86.5 L69.0,86.0 L70.4,85.9 L71.9,85.9 L73.3,86.1 L74.5,86.3 L75.6,86.4 L76.2,86.4 L76.6,86.6 L77.0,86.9 L77.2,87.3 L77.5,87.8 L77.6,88.2 L77.8,88.6 L78.0,88.9 L78.3,88.7 L78.2,88.5 L78.1,88.1 L78.0,87.6 L77.9,87.0 L77.6,86.4 L77.2,85.9 L76.5,85.5 L75.7,85.3 L74.7,85.1 L73.5,84.8 L72.0,84.5 L70.4,84.4 L68.7,84.5 L66.9,84.9 L65.3,85.9 L64.0,87.6 L63.0,90.0 L62.1,93.3 L61.4,97.0 L60.7,101.0 L60.1,105.0 L59.7,108.6 L59.2,111.7 L58.9,113.8Z" fill="#c2c2c2"/><path d="M63.6,114.3 L64.2,112.0 L64.8,108.8 L65.6,105.1 L66.5,101.0 L67.5,96.8 L68.7,92.9 L70.1,89.5 L71.6,86.9 L73.5,85.0 L75.8,83.4 L78.5,82.0 L81.4,80.9 L84.2,80.1 L86.8,79.4 L89.1,78.9 L90.8,78.5 L91.8,78.3 L92.4,78.4 L92.7,78.6 L92.8,79.0 L92.9,79.5 L92.9,80.1 L92.9,80.6 L93.0,81.0 L93.3,80.9 L93.3,80.6 L93.4,80.1 L93.5,79.5 L93.5,78.9 L93.3,78.1 L92.8,77.5 L91.8,77.3 L90.6,77.4 L88.8,77.7 L86.5,78.2 L83.8,78.7 L80.9,79.5 L77.9,80.6 L75.0,81.9 L72.3,83.6 L70.1,85.8 L68.3,88.6 L66.7,92.2 L65.4,96.2 L64.2,100.4 L63.2,104.6 L62.4,108.3 L61.6,111.4 L61.0,113.7Z" fill="#c2c2c2"/><path d="M59.8,114.3 L60.4,111.2 L61.2,106.9 L62.2,101.9 L63.3,96.3 L64.6,90.7 L66.0,85.3 L67.8,80.5 L69.7,76.7 L72.0,73.6 L75.0,70.9 L78.3,68.5 L81.8,66.4 L85.3,64.6 L88.5,63.2 L91.3,61.9 L93.3,61.0 L94.6,60.5 L95.2,60.4 L95.4,60.5 L95.5,61.0 L95.5,61.7 L95.4,62.4 L95.4,63.1 L95.5,63.5 L95.8,63.4 L95.8,63.1 L95.9,62.5 L96.1,61.8 L96.2,61.0 L96.1,60.2 L95.5,59.5 L94.4,59.5 L92.9,60.0 L90.8,60.8 L88.0,62.0 L84.7,63.4 L81.1,65.1 L77.5,67.2 L73.9,69.6 L70.7,72.4 L68.1,75.7 L65.9,79.7 L64.1,84.6 L62.4,90.1 L61.0,95.8 L59.8,101.4 L58.8,106.4 L57.9,110.7 L57.2,113.7Z" fill="#c2c2c2"/><path d="M65.6,113.8 L65.1,110.0 L64.5,104.7 L63.8,98.4 L63.0,91.5 L62.0,84.4 L60.9,77.5 L59.7,71.4 L58.2,66.4 L56.5,62.4 L54.3,58.8 L51.9,55.7 L49.5,53.1 L47.1,50.9 L44.8,49.1 L42.9,47.6 L41.4,46.4 L40.3,45.7 L39.3,45.6 L38.7,46.2 L38.5,47.0 L38.5,47.9 L38.5,48.8 L38.5,49.4 L38.5,49.8 L38.8,49.9 L38.9,49.5 L39.0,48.8 L39.1,48.0 L39.2,47.2 L39.4,46.6 L39.6,46.5 L39.9,46.6 L40.8,47.3 L42.2,48.5 L44.0,50.1 L46.1,51.9 L48.4,54.2 L50.7,56.8 L52.9,59.8 L54.9,63.2 L56.4,67.0 L57.7,71.9 L58.9,77.9 L59.8,84.7 L60.7,91.7 L61.4,98.7 L62.0,105.0 L62.5,110.3 L63.0,114.2Z" fill="#c2c2c2"/><path d="M60.9,114.3 L61.4,111.5 L62.0,107.8 L62.7,103.3 L63.5,98.5 L64.4,93.5 L65.6,88.8 L66.8,84.7 L68.2,81.4 L70.0,78.9 L72.2,76.6 L74.7,74.7 L77.3,73.0 L79.9,71.7 L82.3,70.5 L84.3,69.6 L85.9,68.9 L86.9,68.5 L87.3,68.5 L87.6,68.7 L87.8,69.1 L87.8,69.8 L87.9,70.4 L87.9,71.0 L88.1,71.4 L88.4,71.3 L88.3,71.0 L88.4,70.4 L88.4,69.7 L88.4,69.0 L88.3,68.2 L87.7,67.6 L86.7,67.5 L85.5,67.8 L83.9,68.5 L81.7,69.3 L79.2,70.4 L76.5,71.7 L73.8,73.4 L71.1,75.3 L68.6,77.7 L66.6,80.5 L65.0,84.0 L63.5,88.3 L62.3,93.0 L61.2,98.0 L60.3,102.9 L59.5,107.4 L58.8,111.1 L58.3,113.7Z" fill="#c2c2c2"/><path d="M57.7,114.3 L58.1,111.7 L58.6,108.1 L59.2,103.9 L60.0,99.3 L60.8,94.7 L61.8,90.4 L62.9,86.7 L64.2,84.1 L65.6,82.3 L67.5,81.0 L69.6,80.2 L71.9,79.6 L74.2,79.3 L76.4,79.1 L78.2,79.0 L79.7,78.8 L80.6,78.8 L81.1,78.9 L81.4,79.2 L81.6,79.5 L81.7,80.0 L81.8,80.6 L81.9,81.0 L82.0,81.3 L82.3,81.2 L82.3,81.0 L82.3,80.5 L82.3,80.0 L82.3,79.4 L82.0,78.7 L81.5,78.1 L80.7,77.8 L79.6,77.7 L78.2,77.8 L76.3,77.8 L74.1,77.9 L71.7,78.1 L69.2,78.6 L66.7,79.5 L64.4,81.0 L62.6,83.1 L61.1,86.0 L59.8,89.8 L58.7,94.2 L57.7,98.9 L56.9,103.5 L56.2,107.7 L55.6,111.3 L55.0,113.7Z" fill="#c2c2c2"/><path d="M62.4,114.2 L62.8,111.3 L63.4,107.2 L64.0,102.3 L64.7,97.1 L65.6,91.8 L66.6,86.8 L67.8,82.7 L69.1,79.7 L70.6,77.8 L72.5,76.5 L74.6,75.8 L77.0,75.4 L79.3,75.2 L81.5,75.3 L83.5,75.3 L85.0,75.3 L85.9,75.3 L86.4,75.4 L86.7,75.7 L86.9,76.0 L87.1,76.5 L87.1,77.0 L87.2,77.5 L87.3,77.8 L87.6,77.7 L87.6,77.4 L87.6,77.0 L87.6,76.5 L87.6,75.9 L87.4,75.2 L86.9,74.7 L86.1,74.3 L85.0,74.2 L83.5,74.1 L81.6,74.0 L79.3,73.8 L76.8,73.9 L74.3,74.2 L71.7,75.0 L69.4,76.5 L67.4,78.7 L65.9,82.0 L64.6,86.3 L63.5,91.4 L62.5,96.7 L61.6,102.0 L60.9,106.9 L60.3,110.9 L59.7,113.8Z" fill="#c2c2c2"/><path d="M66.4,113.3 L65.8,112.4 L65.0,111.0 L64.1,109.3 L63.1,107.5 L61.8,105.6 L60.4,103.8 L58.7,102.2 L56.7,100.9 L54.4,100.1 L51.6,99.5 L48.6,99.0 L45.5,98.7 L42.5,98.5 L39.6,98.5 L37.2,98.5 L35.4,98.5 L34.1,98.7 L33.2,99.1 L32.7,99.7 L32.5,100.3 L32.5,100.9 L32.7,101.4 L32.8,101.8 L32.7,102.0 L33.0,102.1 L33.2,101.8 L33.2,101.3 L33.1,100.9 L33.2,100.4 L33.3,100.1 L33.6,99.9 L34.3,99.7 L35.4,99.6 L37.2,99.7 L39.6,99.8 L42.4,99.9 L45.4,100.2 L48.4,100.6 L51.3,101.1 L53.9,101.8 L55.9,102.6 L57.4,103.7 L58.8,105.1 L60.0,106.8 L61.1,108.6 L62.0,110.4 L62.8,112.1 L63.5,113.6 L64.1,114.7Z" fill="#c2c2c2"/><path d="M64.0,113.7 L63.6,111.9 L63.1,109.3 L62.6,106.1 L61.9,102.6 L61.2,99.1 L60.3,95.8 L59.4,92.9 L58.2,90.7 L56.7,89.1 L54.9,88.1 L53.0,87.4 L51.1,87.1 L49.3,86.9 L47.6,86.9 L46.1,87.0 L45.0,87.1 L44.1,87.2 L43.4,87.6 L42.9,88.2 L42.6,88.8 L42.5,89.3 L42.5,89.9 L42.4,90.3 L42.4,90.5 L42.6,90.7 L42.8,90.4 L43.0,90.0 L43.1,89.5 L43.3,89.0 L43.6,88.6 L43.9,88.3 L44.3,88.2 L45.0,88.2 L46.1,88.2 L47.6,88.2 L49.2,88.3 L50.9,88.5 L52.6,88.9 L54.2,89.6 L55.5,90.5 L56.6,91.7 L57.5,93.7 L58.3,96.4 L59.1,99.6 L59.7,103.0 L60.2,106.5 L60.7,109.7 L61.1,112.3 L61.4,114.3Z" fill="#c2c2c2"/><path d="M63.7,114.7 L64.2,113.7 L64.8,112.3 L65.5,110.7 L66.3,109.0 L67.3,107.3 L68.4,105.8 L69.6,104.4 L70.9,103.4 L72.7,102.7 L75.0,102.0 L77.5,101.5 L80.2,101.1 L82.9,100.8 L85.4,100.6 L87.5,100.5 L89.1,100.4 L90.1,100.5 L90.7,100.7 L91.0,100.9 L91.2,101.3 L91.3,101.7 L91.3,102.2 L91.4,102.6 L91.5,102.9 L91.8,102.8 L91.8,102.6 L91.8,102.2 L91.9,101.7 L91.9,101.1 L91.7,100.5 L91.2,99.9 L90.4,99.5 L89.2,99.3 L87.5,99.3 L85.3,99.3 L82.8,99.4 L80.1,99.6 L77.3,99.9 L74.6,100.3 L72.1,100.9 L70.0,101.8 L68.3,102.9 L66.7,104.4 L65.4,106.1 L64.3,107.9 L63.4,109.6 L62.6,111.2 L61.9,112.5 L61.3,113.3Z" fill="#c2c2c2"/><path d="M65.2,113.6 L64.7,112.2 L64.2,110.1 L63.5,107.5 L62.7,104.8 L61.8,102.0 L60.8,99.4 L59.5,97.3 L58.0,95.7 L56.1,95.0 L54.0,94.9 L51.7,95.2 L49.5,95.8 L47.3,96.6 L45.2,97.4 L43.5,98.1 L42.2,98.6 L41.2,99.1 L40.5,99.6 L40.1,100.1 L39.9,100.7 L39.8,101.2 L39.8,101.6 L39.8,101.9 L39.7,102.1 L40.0,102.2 L40.2,102.0 L40.3,101.6 L40.4,101.3 L40.5,100.9 L40.7,100.6 L41.1,100.3 L41.7,100.0 L42.6,99.7 L43.9,99.2 L45.7,98.6 L47.7,97.9 L49.9,97.3 L52.0,96.8 L54.0,96.6 L55.7,96.8 L56.9,97.3 L57.9,98.4 L58.9,100.3 L59.8,102.7 L60.5,105.4 L61.2,108.1 L61.8,110.7 L62.2,112.8 L62.6,114.4Z" fill="#c2c2c2"/><path d="M63.0,114.3 L63.2,112.8 L63.5,110.8 L63.8,108.4 L64.2,105.8 L64.7,103.2 L65.2,100.9 L65.8,99.0 L66.4,97.9 L67.0,97.4 L67.8,97.2 L68.9,97.3 L70.2,97.6 L71.5,98.1 L72.8,98.6 L73.9,99.1 L74.8,99.4 L75.4,99.7 L75.9,100.0 L76.3,100.3 L76.6,100.7 L76.8,101.1 L77.0,101.5 L77.2,101.8 L77.4,102.0 L77.7,101.9 L77.6,101.6 L77.5,101.3 L77.4,100.8 L77.2,100.4 L76.9,99.9 L76.5,99.3 L76.0,98.8 L75.3,98.4 L74.4,98.0 L73.3,97.4 L72.1,96.8 L70.7,96.2 L69.2,95.7 L67.8,95.5 L66.3,95.8 L65.0,96.7 L64.0,98.2 L63.2,100.3 L62.5,102.7 L62.0,105.3 L61.5,108.0 L61.0,110.4 L60.7,112.4 L60.3,113.7Z" fill="#c2c2c2"/><path d="M58.9,114.2 L59.3,110.9 L59.6,106.5 L60.1,101.1 L60.7,95.3 L61.3,89.4 L62.1,83.9 L62.9,79.1 L63.9,75.4 L65.1,72.8 L66.6,70.7 L68.2,69.1 L69.9,67.9 L71.7,67.0 L73.3,66.3 L74.8,65.7 L75.9,65.2 L76.6,64.9 L76.9,65.0 L77.2,65.2 L77.4,65.6 L77.6,66.2 L77.7,66.9 L77.9,67.4 L78.1,67.7 L78.3,67.6 L78.3,67.3 L78.2,66.8 L78.2,66.1 L78.1,65.4 L77.8,64.7 L77.3,64.2 L76.5,63.9 L75.5,64.2 L74.3,64.6 L72.9,65.1 L71.1,65.7 L69.2,66.6 L67.2,67.9 L65.3,69.6 L63.6,71.9 L62.1,74.8 L61.0,78.6 L60.0,83.5 L59.1,89.2 L58.4,95.1 L57.7,100.9 L57.2,106.2 L56.7,110.7 L56.2,113.8Z" fill="#c2c2c2"/><path d="M63.3,113.9 L63.1,109.6 L62.8,103.5 L62.5,96.2 L62.2,88.3 L61.8,80.2 L61.4,72.5 L60.9,65.6 L60.3,60.2 L59.7,55.9 L58.9,52.4 L58.0,49.4 L57.1,46.9 L56.2,44.9 L55.3,43.3 L54.5,42.0 L53.9,40.9 L53.2,40.1 L52.3,40.0 L51.8,40.6 L51.5,41.3 L51.2,42.2 L51.0,43.0 L50.9,43.7 L50.8,44.1 L51.1,44.2 L51.3,43.8 L51.5,43.2 L51.8,42.4 L52.1,41.6 L52.4,41.0 L52.6,40.8 L52.6,40.9 L53.0,41.5 L53.5,42.5 L54.2,43.9 L54.9,45.5 L55.7,47.4 L56.5,49.8 L57.2,52.7 L57.9,56.2 L58.4,60.4 L58.9,65.8 L59.3,72.6 L59.6,80.3 L59.9,88.4 L60.1,96.3 L60.3,103.6 L60.5,109.7 L60.6,114.1Z" fill="#c2c2c2"/><path d="M60.4,114.1 L60.6,109.3 L60.9,102.6 L61.2,94.7 L61.6,86.0 L62.1,77.2 L62.6,68.9 L63.3,61.5 L64.0,55.8 L64.9,51.5 L66.0,47.9 L67.2,45.1 L68.5,42.8 L69.8,41.0 L71.0,39.6 L72.1,38.3 L72.9,37.3 L73.4,36.7 L73.6,36.6 L73.7,36.8 L74.0,37.3 L74.3,38.1 L74.5,38.9 L74.7,39.6 L74.9,39.9 L75.2,39.8 L75.1,39.5 L75.0,38.8 L74.9,38.0 L74.7,37.1 L74.4,36.3 L73.8,35.8 L72.9,35.8 L72.1,36.5 L71.2,37.5 L70.0,38.7 L68.7,40.1 L67.3,42.0 L65.8,44.4 L64.4,47.3 L63.2,51.0 L62.1,55.5 L61.3,61.3 L60.6,68.7 L59.9,77.1 L59.3,85.9 L58.8,94.6 L58.4,102.5 L58.0,109.2 L57.7,113.9Z" fill="#c2c2c2"/><path d="M58.5,113.8 L58.1,111.0 L57.6,107.1 L57.0,102.4 L56.3,97.3 L55.5,92.1 L54.6,87.1 L53.5,82.7 L52.3,79.2 L50.8,76.5 L48.9,74.3 L46.9,72.6 L44.9,71.2 L42.8,70.2 L41.0,69.4 L39.4,68.8 L38.1,68.3 L37.1,68.1 L36.3,68.3 L35.8,68.9 L35.5,69.6 L35.4,70.3 L35.4,71.0 L35.4,71.5 L35.3,71.8 L35.6,71.9 L35.8,71.6 L35.9,71.0 L36.0,70.4 L36.2,69.8 L36.4,69.3 L36.7,69.1 L37.0,69.1 L37.7,69.4 L38.9,69.9 L40.5,70.6 L42.2,71.5 L44.1,72.5 L45.9,73.8 L47.7,75.5 L49.3,77.5 L50.5,79.9 L51.6,83.2 L52.5,87.5 L53.3,92.4 L54.0,97.6 L54.6,102.7 L55.1,107.4 L55.5,111.3 L55.8,114.2Z" fill="#c2c2c2"/><path d="M60.5,114.4 L60.8,113.0 L61.2,111.1 L61.6,109.0 L62.1,106.6 L62.7,104.2 L63.4,102.1 L64.2,100.2 L65.1,99.0 L66.1,98.1 L67.4,97.4 L69.0,96.9 L70.7,96.6 L72.4,96.5 L74.0,96.4 L75.4,96.4 L76.4,96.3 L77.1,96.4 L77.6,96.6 L77.9,96.9 L78.2,97.3 L78.3,97.7 L78.5,98.2 L78.7,98.6 L78.8,98.9 L79.1,98.7 L79.0,98.5 L79.0,98.1 L78.9,97.6 L78.8,97.0 L78.5,96.4 L78.1,95.9 L77.4,95.4 L76.5,95.2 L75.4,95.2 L74.0,95.1 L72.3,95.1 L70.5,95.1 L68.7,95.4 L66.8,95.8 L65.1,96.6 L63.7,97.7 L62.5,99.3 L61.5,101.3 L60.6,103.6 L59.9,106.0 L59.3,108.4 L58.7,110.6 L58.3,112.4 L57.9,113.6Z" fill="#c2c2c2"/><path d="M58.2,113.9 L57.9,110.3 L57.7,105.2 L57.3,99.2 L57.0,92.6 L56.6,85.8 L56.1,79.3 L55.6,73.5 L55.0,68.7 L54.3,64.8 L53.5,61.3 L52.6,58.3 L51.6,55.6 L50.6,53.4 L49.7,51.5 L48.9,50.0 L48.2,48.7 L47.5,47.9 L46.6,47.8 L46.1,48.4 L45.8,49.2 L45.5,50.0 L45.3,50.9 L45.2,51.6 L45.1,52.0 L45.4,52.1 L45.6,51.7 L45.8,51.0 L46.1,50.2 L46.4,49.4 L46.7,48.8 L46.9,48.7 L46.9,48.7 L47.3,49.3 L47.8,50.5 L48.5,52.1 L49.3,53.9 L50.2,56.2 L51.0,58.8 L51.8,61.8 L52.6,65.1 L53.1,68.9 L53.6,73.6 L54.0,79.5 L54.4,85.9 L54.7,92.7 L54.9,99.3 L55.2,105.3 L55.3,110.4 L55.5,114.1Z" fill="#c2c2c2"/><path d="M61.7,113.8 L61.1,110.5 L60.3,106.0 L59.5,100.6 L58.5,94.6 L57.3,88.6 L56.0,82.8 L54.5,77.7 L52.7,73.7 L50.5,70.6 L47.8,68.2 L44.9,66.3 L41.9,64.8 L38.9,63.7 L36.2,62.9 L33.9,62.2 L32.1,61.7 L30.9,61.4 L29.9,61.5 L29.3,62.1 L29.1,62.9 L29.2,63.6 L29.3,64.3 L29.4,64.8 L29.3,65.2 L29.6,65.2 L29.8,64.9 L29.8,64.3 L29.8,63.6 L29.8,63.0 L30.0,62.6 L30.2,62.4 L30.8,62.4 L31.8,62.7 L33.5,63.3 L35.8,64.1 L38.4,65.0 L41.2,66.2 L44.1,67.7 L46.7,69.5 L49.1,71.8 L51.0,74.6 L52.6,78.4 L54.0,83.3 L55.2,89.0 L56.2,95.0 L57.1,100.9 L57.9,106.4 L58.5,110.9 L59.0,114.2Z" fill="#c2c2c2"/><path d="M57.1,114.4 L57.4,112.8 L57.9,110.6 L58.4,107.9 L59.0,105.1 L59.7,102.4 L60.6,99.9 L61.5,97.9 L62.4,96.8 L63.5,96.3 L65.0,96.1 L66.9,96.3 L68.9,96.8 L70.9,97.5 L72.8,98.2 L74.5,98.9 L75.7,99.3 L76.6,99.7 L77.2,100.0 L77.5,100.3 L77.8,100.6 L77.9,101.0 L78.0,101.3 L78.2,101.7 L78.3,101.9 L78.6,101.8 L78.5,101.5 L78.5,101.2 L78.5,100.8 L78.4,100.4 L78.2,99.8 L77.7,99.3 L77.1,98.8 L76.2,98.3 L74.9,97.8 L73.3,97.0 L71.4,96.2 L69.3,95.4 L67.2,94.8 L65.1,94.4 L63.1,94.5 L61.2,95.3 L59.8,96.9 L58.6,99.1 L57.6,101.7 L56.8,104.6 L56.1,107.4 L55.4,110.0 L54.9,112.2 L54.5,113.6Z" fill="#c2c2c2"/><path d="M63.2,114.0 L62.9,109.0 L62.7,102.1 L62.4,93.9 L62.1,84.9 L61.7,75.8 L61.3,67.1 L60.8,59.5 L60.3,53.6 L59.6,49.2 L58.9,45.6 L58.0,42.8 L57.1,40.7 L56.2,39.0 L55.4,37.7 L54.6,36.7 L54.0,35.8 L53.3,35.1 L52.4,35.1 L51.9,35.7 L51.6,36.4 L51.4,37.2 L51.2,38.0 L51.0,38.7 L50.9,39.1 L51.2,39.2 L51.4,38.8 L51.6,38.2 L51.9,37.4 L52.2,36.7 L52.6,36.1 L52.8,35.9 L52.8,36.0 L53.1,36.4 L53.6,37.4 L54.3,38.4 L55.0,39.7 L55.7,41.3 L56.5,43.3 L57.2,46.0 L57.8,49.5 L58.4,53.8 L58.8,59.7 L59.2,67.2 L59.5,75.9 L59.8,85.0 L60.0,94.0 L60.2,102.2 L60.3,109.1 L60.5,114.0Z" fill="#c2c2c2"/><path d="M65.6,114.0 L65.6,109.5 L65.7,103.2 L65.8,95.7 L65.9,87.5 L66.1,79.2 L66.2,71.2 L66.5,64.2 L66.7,58.6 L67.0,54.3 L67.4,50.8 L67.8,47.8 L68.2,45.4 L68.7,43.4 L69.1,41.8 L69.5,40.5 L69.9,39.4 L70.1,38.9 L69.9,38.9 L70.2,39.1 L70.5,39.7 L70.9,40.4 L71.2,41.2 L71.5,41.9 L71.7,42.3 L72.0,42.2 L71.9,41.8 L71.7,41.1 L71.4,40.2 L71.1,39.4 L70.8,38.6 L70.3,38.1 L69.4,38.2 L68.9,39.0 L68.4,40.1 L67.9,41.4 L67.3,43.1 L66.8,45.1 L66.2,47.5 L65.7,50.5 L65.2,54.2 L64.8,58.5 L64.5,64.1 L64.1,71.1 L63.9,79.1 L63.6,87.5 L63.4,95.7 L63.2,103.2 L63.0,109.4 L62.9,114.0Z" fill="#c2c2c2"/><path d="M58.3,113.7 L57.8,111.8 L57.2,109.2 L56.5,106.1 L55.6,102.6 L54.6,99.1 L53.5,95.7 L52.2,92.6 L50.6,90.1 L48.8,88.1 L46.5,86.4 L44.1,85.0 L41.6,83.8 L39.1,82.9 L36.8,82.1 L34.9,81.5 L33.3,81.1 L32.2,81.0 L31.3,81.2 L30.8,81.8 L30.6,82.5 L30.5,83.2 L30.6,83.8 L30.6,84.3 L30.6,84.6 L30.8,84.7 L31.0,84.4 L31.1,83.8 L31.1,83.2 L31.3,82.7 L31.5,82.2 L31.7,82.0 L32.2,82.0 L33.1,82.2 L34.5,82.7 L36.4,83.3 L38.6,84.2 L40.9,85.2 L43.3,86.4 L45.6,87.8 L47.5,89.4 L49.1,91.2 L50.4,93.5 L51.5,96.4 L52.5,99.7 L53.4,103.2 L54.1,106.6 L54.7,109.7 L55.3,112.4 L55.7,114.3Z" fill="#c2c2c2"/><path d="M65.9,113.4 L65.2,112.2 L64.4,110.4 L63.4,108.2 L62.2,105.8 L60.8,103.4 L59.1,101.3 L57.2,99.6 L54.8,98.6 L52.1,98.4 L49.0,98.9 L45.6,99.9 L42.1,101.1 L38.7,102.4 L35.5,103.7 L32.9,104.9 L30.9,105.7 L29.5,106.3 L28.6,106.9 L28.1,107.5 L28.0,108.1 L28.1,108.6 L28.3,108.9 L28.4,109.0 L28.4,109.2 L28.7,109.3 L28.8,109.0 L28.7,108.7 L28.7,108.4 L28.7,108.2 L28.8,108.0 L29.2,107.7 L29.9,107.2 L31.3,106.7 L33.3,106.0 L36.0,104.9 L39.2,103.7 L42.6,102.5 L46.1,101.4 L49.4,100.6 L52.2,100.2 L54.4,100.4 L56.0,101.2 L57.5,102.7 L58.9,104.6 L60.1,106.9 L61.2,109.2 L62.1,111.4 L62.9,113.3 L63.5,114.6Z" fill="#c2c2c2"/><path d="M60.1,114.5 L60.4,113.7 L60.8,112.5 L61.3,111.1 L61.8,109.7 L62.4,108.3 L63.0,107.0 L63.8,106.0 L64.5,105.4 L65.5,105.1 L66.9,104.9 L68.5,104.9 L70.2,105.1 L71.9,105.3 L73.6,105.6 L75.0,105.9 L76.1,106.2 L76.8,106.4 L77.3,106.7 L77.7,107.0 L77.9,107.3 L78.1,107.7 L78.3,108.1 L78.4,108.5 L78.6,108.7 L78.9,108.6 L78.8,108.3 L78.7,108.0 L78.7,107.5 L78.6,107.0 L78.3,106.5 L77.9,106.0 L77.2,105.5 L76.4,105.1 L75.3,104.8 L73.9,104.4 L72.2,103.9 L70.4,103.6 L68.6,103.3 L66.8,103.2 L65.2,103.3 L63.7,103.7 L62.4,104.6 L61.3,105.8 L60.4,107.3 L59.7,108.8 L59.0,110.3 L58.5,111.6 L58.0,112.7 L57.6,113.5Z" fill="#c2c2c2"/><path d="M65.4,114.2 L65.7,111.4 L66.1,107.6 L66.5,103.1 L67.1,98.2 L67.7,93.2 L68.4,88.4 L69.2,84.3 L70.1,81.1 L71.3,78.8 L72.7,76.9 L74.2,75.4 L75.9,74.2 L77.5,73.3 L79.1,72.5 L80.5,71.9 L81.6,71.4 L82.2,71.2 L82.5,71.2 L82.8,71.4 L83.1,71.9 L83.3,72.5 L83.4,73.1 L83.6,73.6 L83.7,73.9 L84.0,73.8 L83.9,73.5 L83.9,73.0 L83.8,72.4 L83.7,71.7 L83.5,71.0 L83.0,70.4 L82.1,70.2 L81.2,70.4 L80.1,70.8 L78.6,71.3 L76.9,72.0 L75.1,72.9 L73.2,74.2 L71.4,75.8 L69.7,77.9 L68.4,80.4 L67.3,83.8 L66.3,88.0 L65.5,92.8 L64.8,97.9 L64.1,102.8 L63.6,107.4 L63.1,111.1 L62.7,113.8Z" fill="#c2c2c2"/><path d="M61.7,113.9 L61.5,109.3 L61.2,102.8 L60.9,95.0 L60.5,86.5 L60.1,77.8 L59.6,69.6 L59.1,62.5 L58.4,56.9 L57.7,52.7 L56.8,49.4 L55.8,46.7 L54.8,44.7 L53.7,43.2 L52.8,42.1 L51.9,41.2 L51.2,40.4 L50.5,39.8 L49.6,39.8 L49.1,40.4 L48.8,41.1 L48.6,41.9 L48.4,42.7 L48.3,43.3 L48.2,43.7 L48.4,43.8 L48.7,43.4 L48.9,42.8 L49.2,42.1 L49.5,41.4 L49.8,40.8 L50.0,40.6 L50.0,40.6 L50.4,41.1 L51.0,42.0 L51.8,42.9 L52.6,44.0 L53.5,45.5 L54.3,47.4 L55.2,49.8 L55.9,53.0 L56.6,57.1 L57.1,62.6 L57.5,69.8 L57.9,77.9 L58.2,86.6 L58.5,95.0 L58.7,102.8 L58.9,109.4 L59.0,114.1Z" fill="#c2c2c2"/><path d="M61.1,114.2 L61.4,111.3 L61.8,107.3 L62.3,102.5 L62.8,97.3 L63.5,92.1 L64.2,87.1 L65.1,82.7 L66.1,79.3 L67.3,76.7 L68.8,74.5 L70.5,72.7 L72.3,71.2 L74.1,70.0 L75.7,69.1 L77.2,68.3 L78.3,67.6 L79.0,67.3 L79.3,67.3 L79.6,67.5 L79.8,68.0 L80.0,68.6 L80.1,69.3 L80.3,69.8 L80.5,70.2 L80.7,70.1 L80.7,69.7 L80.6,69.2 L80.6,68.5 L80.5,67.8 L80.2,67.1 L79.7,66.5 L78.8,66.3 L77.9,66.6 L76.7,67.2 L75.1,67.9 L73.4,68.8 L71.4,70.0 L69.4,71.5 L67.5,73.4 L65.8,75.8 L64.3,78.6 L63.2,82.2 L62.2,86.7 L61.3,91.8 L60.5,97.1 L59.9,102.3 L59.3,107.0 L58.8,111.0 L58.4,113.8Z" fill="#c2c2c2"/><path d="M59.2,113.9 L58.9,110.6 L58.6,105.9 L58.2,100.3 L57.8,94.2 L57.4,88.0 L56.8,82.1 L56.2,76.8 L55.6,72.6 L54.7,69.3 L53.8,66.6 L52.7,64.2 L51.5,62.3 L50.4,60.8 L49.3,59.6 L48.4,58.6 L47.6,57.8 L46.8,57.3 L46.0,57.4 L45.5,57.9 L45.2,58.6 L45.0,59.4 L44.8,60.2 L44.7,60.8 L44.6,61.1 L44.9,61.2 L45.1,60.9 L45.3,60.3 L45.5,59.6 L45.8,58.9 L46.1,58.4 L46.4,58.2 L46.5,58.2 L46.8,58.6 L47.5,59.4 L48.3,60.4 L49.3,61.6 L50.2,63.1 L51.2,65.0 L52.2,67.2 L53.0,69.8 L53.7,73.0 L54.3,77.1 L54.8,82.3 L55.2,88.2 L55.5,94.4 L55.8,100.5 L56.1,106.0 L56.3,110.7 L56.5,114.1Z" fill="#c2c2c2"/><path d="M66.7,113.6 L66.3,112.3 L65.8,110.3 L65.1,107.8 L64.4,105.2 L63.6,102.5 L62.6,100.2 L61.4,98.2 L59.9,96.9 L58.0,96.5 L56.0,97.0 L53.9,97.8 L51.8,99.0 L49.8,100.2 L47.9,101.5 L46.3,102.6 L45.1,103.4 L44.2,104.0 L43.5,104.6 L43.1,105.1 L42.9,105.6 L42.8,106.0 L42.8,106.4 L42.8,106.6 L42.7,106.8 L43.0,107.0 L43.1,106.8 L43.3,106.5 L43.4,106.2 L43.5,105.9 L43.8,105.6 L44.2,105.3 L44.7,104.8 L45.6,104.4 L46.9,103.6 L48.6,102.6 L50.5,101.4 L52.5,100.3 L54.6,99.3 L56.4,98.6 L58.0,98.3 L59.0,98.6 L59.8,99.4 L60.7,101.1 L61.5,103.3 L62.2,105.8 L62.8,108.4 L63.3,110.8 L63.8,112.9 L64.2,114.4Z" fill="#c2c2c2"/><path d="M60.4,114.2 L60.8,110.6 L61.2,105.8 L61.7,100.0 L62.3,93.6 L63.1,87.2 L63.9,80.9 L64.9,75.3 L66.0,70.8 L67.4,67.1 L69.1,63.7 L71.0,60.7 L73.0,58.0 L75.0,55.7 L76.8,53.7 L78.4,52.1 L79.6,50.8 L80.4,50.2 L80.6,50.1 L80.8,50.2 L81.0,50.7 L81.2,51.5 L81.3,52.4 L81.4,53.1 L81.6,53.5 L81.9,53.4 L81.8,53.0 L81.8,52.3 L81.8,51.5 L81.7,50.6 L81.5,49.8 L80.9,49.2 L79.9,49.3 L78.9,50.0 L77.6,51.2 L75.9,52.8 L73.9,54.8 L71.8,57.1 L69.7,59.8 L67.6,62.9 L65.7,66.4 L64.2,70.2 L62.9,74.9 L61.9,80.6 L60.9,86.9 L60.1,93.4 L59.3,99.7 L58.7,105.5 L58.2,110.3 L57.7,113.8Z" fill="#c2c2c2"/><path d="M60.3,114.3 L60.9,111.1 L61.6,106.7 L62.5,101.5 L63.6,95.8 L64.8,90.1 L66.2,84.8 L67.8,80.2 L69.6,76.9 L71.8,74.6 L74.5,72.9 L77.7,71.8 L81.0,71.0 L84.3,70.6 L87.4,70.3 L90.0,70.1 L92.0,69.9 L93.3,69.8 L93.9,69.9 L94.2,70.1 L94.3,70.4 L94.3,71.0 L94.3,71.5 L94.2,72.0 L94.3,72.4 L94.6,72.3 L94.6,72.1 L94.8,71.6 L94.9,71.1 L95.0,70.4 L94.9,69.7 L94.3,69.1 L93.3,68.8 L91.9,68.8 L89.9,68.9 L87.3,69.0 L84.2,69.2 L80.8,69.5 L77.2,70.2 L73.8,71.4 L70.7,73.2 L68.1,75.7 L66.0,79.4 L64.2,84.1 L62.7,89.6 L61.3,95.4 L60.2,101.1 L59.2,106.3 L58.3,110.6 L57.6,113.7Z" fill="#c2c2c2"/><path d="M66.2,113.8 L65.8,111.2 L65.3,107.4 L64.8,103.0 L64.1,98.1 L63.4,93.1 L62.5,88.4 L61.5,84.1 L60.4,80.6 L59.0,77.9 L57.3,75.6 L55.5,73.7 L53.6,72.1 L51.7,70.8 L50.0,69.7 L48.5,68.9 L47.3,68.3 L46.3,68.0 L45.5,68.2 L44.9,68.7 L44.7,69.4 L44.6,70.2 L44.5,70.9 L44.5,71.4 L44.4,71.8 L44.7,71.9 L44.9,71.5 L45.0,71.0 L45.1,70.3 L45.3,69.7 L45.6,69.2 L45.8,69.0 L46.1,69.0 L46.8,69.3 L47.9,70.0 L49.3,70.9 L50.9,71.9 L52.6,73.2 L54.4,74.8 L56.0,76.7 L57.5,78.8 L58.6,81.3 L59.6,84.6 L60.5,88.7 L61.2,93.5 L61.8,98.4 L62.4,103.3 L62.8,107.7 L63.2,111.5 L63.5,114.2Z" fill="#c2c2c2"/><path d="M57.5,114.0 L57.3,109.6 L57.0,103.6 L56.8,96.3 L56.5,88.5 L56.1,80.4 L55.7,72.6 L55.3,65.6 L54.8,59.9 L54.2,55.2 L53.5,51.0 L52.8,47.4 L52.0,44.1 L51.2,41.4 L50.4,39.0 L49.7,37.1 L49.1,35.6 L48.5,34.6 L47.6,34.3 L47.0,34.8 L46.7,35.7 L46.5,36.6 L46.3,37.5 L46.1,38.3 L46.0,38.7 L46.2,38.8 L46.5,38.4 L46.7,37.7 L47.0,36.8 L47.4,35.9 L47.7,35.3 L47.8,35.1 L47.8,35.2 L48.1,36.0 L48.6,37.5 L49.2,39.4 L49.8,41.7 L50.5,44.5 L51.2,47.7 L51.9,51.3 L52.4,55.5 L52.9,60.1 L53.3,65.7 L53.6,72.7 L53.9,80.5 L54.2,88.5 L54.4,96.4 L54.5,103.6 L54.7,109.7 L54.8,114.0Z" fill="#c2c2c2"/><path d="M64.9,113.6 L64.3,111.7 L63.6,109.0 L62.8,105.7 L61.9,102.2 L60.7,98.5 L59.5,95.1 L58.0,92.0 L56.2,89.7 L54.1,88.0 L51.5,86.9 L48.7,86.1 L45.9,85.6 L43.1,85.3 L40.6,85.2 L38.4,85.1 L36.7,85.1 L35.5,85.2 L34.6,85.5 L34.1,86.1 L33.9,86.8 L33.9,87.4 L34.0,87.9 L34.1,88.3 L34.1,88.6 L34.3,88.7 L34.5,88.4 L34.5,87.9 L34.5,87.4 L34.6,86.9 L34.8,86.5 L35.1,86.3 L35.7,86.2 L36.7,86.2 L38.3,86.3 L40.5,86.5 L43.0,86.7 L45.7,87.1 L48.4,87.6 L50.9,88.4 L53.1,89.5 L54.8,91.0 L56.2,93.0 L57.5,95.9 L58.7,99.2 L59.6,102.8 L60.5,106.3 L61.2,109.6 L61.8,112.4 L62.3,114.4Z" fill="#c2c2c2"/><path d="M65.7,114.2 L66.1,111.0 L66.6,106.5 L67.2,101.2 L67.8,95.4 L68.6,89.5 L69.6,84.0 L70.6,79.2 L71.8,75.4 L73.3,72.7 L75.1,70.5 L77.1,68.7 L79.2,67.3 L81.4,66.2 L83.4,65.3 L85.1,64.6 L86.5,63.9 L87.3,63.6 L87.7,63.6 L87.9,63.8 L88.1,64.3 L88.3,64.9 L88.4,65.6 L88.5,66.1 L88.6,66.5 L88.9,66.4 L88.9,66.1 L88.9,65.5 L88.9,64.8 L88.8,64.1 L88.6,63.4 L88.0,62.8 L87.1,62.6 L86.1,62.9 L84.7,63.4 L82.9,64.1 L80.8,64.9 L78.5,66.0 L76.1,67.4 L73.9,69.3 L71.8,71.7 L70.1,74.7 L68.7,78.6 L67.5,83.6 L66.5,89.2 L65.6,95.1 L64.8,100.9 L64.1,106.2 L63.5,110.6 L63.0,113.8Z" fill="#c2c2c2"/><path d="M60.2,114.2 L60.6,110.9 L61.1,106.5 L61.6,101.1 L62.3,95.3 L63.0,89.4 L63.9,83.7 L64.9,78.8 L66.1,75.0 L67.5,72.0 L69.2,69.6 L71.1,67.5 L73.2,65.9 L75.2,64.5 L77.1,63.4 L78.8,62.4 L80.1,61.7 L80.8,61.3 L81.2,61.3 L81.4,61.5 L81.6,62.0 L81.8,62.6 L81.9,63.3 L82.0,63.9 L82.2,64.3 L82.4,64.2 L82.4,63.8 L82.4,63.3 L82.4,62.5 L82.3,61.8 L82.1,61.0 L81.5,60.5 L80.6,60.3 L79.6,60.7 L78.2,61.4 L76.5,62.2 L74.5,63.3 L72.3,64.6 L70.0,66.4 L67.9,68.5 L65.9,71.1 L64.3,74.3 L63.0,78.3 L61.8,83.4 L60.8,89.0 L60.0,95.0 L59.2,100.8 L58.6,106.2 L58.0,110.6 L57.6,113.8Z" fill="#c2c2c2"/><path d="M58.7,113.5 L58.2,112.2 L57.5,110.3 L56.7,108.0 L55.8,105.4 L54.7,102.9 L53.4,100.4 L51.9,98.2 L50.2,96.5 L48.1,95.3 L45.6,94.4 L43.0,93.7 L40.2,93.3 L37.5,93.0 L35.0,92.9 L32.9,92.8 L31.2,92.8 L30.1,92.9 L29.2,93.3 L28.7,93.9 L28.5,94.5 L28.5,95.2 L28.6,95.7 L28.6,96.1 L28.6,96.3 L28.9,96.4 L29.0,96.1 L29.1,95.7 L29.1,95.2 L29.2,94.7 L29.4,94.3 L29.7,94.1 L30.3,93.9 L31.2,93.9 L32.8,94.0 L34.9,94.2 L37.4,94.4 L40.0,94.8 L42.6,95.3 L45.1,96.0 L47.3,96.9 L49.0,98.0 L50.4,99.4 L51.6,101.4 L52.7,103.7 L53.6,106.2 L54.4,108.7 L55.1,111.1 L55.7,113.0 L56.2,114.5Z" fill="#c2c2c2"/><path d="M61.8,114.2 L62.1,111.8 L62.4,108.5 L62.7,104.6 L63.1,100.3 L63.6,96.1 L64.2,92.1 L64.9,88.8 L65.6,86.6 L66.4,85.4 L67.4,84.7 L68.5,84.4 L69.8,84.4 L71.1,84.6 L72.4,85.0 L73.6,85.3 L74.6,85.5 L75.2,85.6 L75.6,85.8 L76.0,86.1 L76.3,86.5 L76.5,87.0 L76.7,87.4 L76.9,87.8 L77.1,88.0 L77.3,87.9 L77.3,87.6 L77.2,87.2 L77.1,86.7 L76.9,86.2 L76.6,85.7 L76.2,85.1 L75.6,84.7 L74.8,84.4 L74.0,84.1 L72.8,83.7 L71.4,83.3 L69.9,82.9 L68.3,82.8 L66.7,83.1 L65.1,84.1 L63.9,85.8 L63.0,88.3 L62.2,91.7 L61.5,95.7 L60.9,100.0 L60.3,104.3 L59.9,108.3 L59.5,111.5 L59.1,113.8Z" fill="#c2c2c2"/><path d="M59.5,114.8 L60.2,113.7 L60.9,112.3 L61.7,110.7 L62.7,109.0 L63.8,107.3 L65.1,105.7 L66.5,104.4 L68.2,103.5 L70.3,102.8 L73.0,102.3 L76.0,102.0 L79.2,101.8 L82.4,101.7 L85.3,101.7 L87.8,101.8 L89.6,101.8 L90.8,102.0 L91.5,102.2 L91.8,102.5 L92.0,102.8 L92.0,103.2 L92.0,103.6 L91.9,104.0 L92.0,104.3 L92.3,104.3 L92.3,104.0 L92.4,103.7 L92.6,103.2 L92.7,102.7 L92.5,102.0 L92.0,101.4 L91.1,101.0 L89.7,100.8 L87.8,100.6 L85.3,100.4 L82.4,100.3 L79.2,100.3 L75.9,100.4 L72.7,100.6 L69.9,101.0 L67.4,101.7 L65.4,102.8 L63.6,104.3 L62.1,106.0 L60.8,107.8 L59.7,109.5 L58.7,111.1 L58.0,112.4 L57.3,113.2Z" fill="#c2c2c2"/><path d="M58.8,114.4 L59.5,111.7 L60.4,108.1 L61.4,103.8 L62.5,99.2 L63.9,94.4 L65.5,89.9 L67.3,85.9 L69.3,82.8 L71.9,80.3 L75.0,78.1 L78.6,76.2 L82.4,74.6 L86.1,73.2 L89.6,72.1 L92.5,71.2 L94.7,70.5 L96.1,70.1 L96.8,70.1 L97.0,70.3 L97.1,70.7 L97.1,71.3 L96.9,72.0 L96.8,72.6 L96.9,73.0 L97.2,72.9 L97.2,72.6 L97.4,72.1 L97.6,71.4 L97.8,70.7 L97.7,69.9 L97.1,69.3 L96.0,69.1 L94.4,69.4 L92.2,70.0 L89.2,70.9 L85.7,71.9 L81.9,73.2 L78.0,74.8 L74.2,76.7 L70.8,78.9 L67.9,81.6 L65.6,85.0 L63.6,89.1 L61.8,93.7 L60.3,98.6 L59.0,103.2 L57.9,107.5 L57.0,111.1 L56.2,113.6Z" fill="#c2c2c2"/><path d="M59.8,114.3 L60.1,112.5 L60.5,110.1 L60.9,107.2 L61.4,104.1 L62.0,100.9 L62.7,98.0 L63.5,95.5 L64.3,93.7 L65.3,92.5 L66.6,91.6 L68.1,90.9 L69.7,90.5 L71.4,90.2 L72.9,90.0 L74.3,89.9 L75.3,89.8 L76.0,89.8 L76.4,90.0 L76.7,90.3 L77.0,90.7 L77.2,91.2 L77.4,91.6 L77.5,92.1 L77.7,92.3 L78.0,92.2 L77.9,91.9 L77.8,91.5 L77.8,91.0 L77.6,90.4 L77.4,89.8 L76.9,89.3 L76.2,88.9 L75.3,88.7 L74.2,88.7 L72.8,88.7 L71.2,88.8 L69.5,89.0 L67.6,89.4 L65.8,90.1 L64.2,91.2 L62.8,92.7 L61.6,94.7 L60.7,97.4 L59.9,100.4 L59.1,103.6 L58.5,106.8 L58.0,109.7 L57.6,112.0 L57.2,113.7Z" fill="#c2c2c2"/><ellipse cx="61.7" cy="26.4" rx="1.3" ry="2.4" fill="#c2c2c2" transform="rotate(45.1 61.7 26.4)"/><ellipse cx="59.1" cy="33.2" rx="1.3" ry="2.4" fill="#c2c2c2" transform="rotate(-15.9 59.1 33.2)"/><ellipse cx="48.1" cy="32.7" rx="1.3" ry="2.4" fill="#c2c2c2" transform="rotate(-7.7 48.1 32.7)"/><ellipse cx="69.1" cy="24.1" rx="1.3" ry="2.4" fill="#c2c2c2" transform="rotate(6.9 69.1 24.1)"/><ellipse cx="60.9" cy="5.4" rx="1.3" ry="2.4" fill="#c2c2c2" transform="rotate(-45.1 60.9 5.4)"/><ellipse cx="55.5" cy="33.6" rx="1.3" ry="2.4" fill="#c2c2c2" transform="rotate(-12.8 55.5 33.6)"/><ellipse cx="66.3" cy="18.8" rx="1.3" ry="2.4" fill="#c2c2c2" transform="rotate(38.7 66.3 18.8)"/><ellipse cx="65.5" cy="21.2" rx="1.3" ry="2.4" fill="#c2c2c2" transform="rotate(-30.9 65.5 21.2)"/><ellipse cx="58.3" cy="8.7" rx="1.3" ry="2.4" fill="#c2c2c2" transform="rotate(8.7 58.3 8.7)"/><ellipse cx="51.0" cy="38.0" rx="1.3" ry="2.4" fill="#c2c2c2" transform="rotate(-25.3 51.0 38.0)"/><ellipse cx="61.3" cy="22.4" rx="1.3" ry="2.4" fill="#c2c2c2" transform="rotate(26.1 61.3 22.4)"/><ellipse cx="61.3" cy="5.4" rx="1.3" ry="2.4" fill="#c2c2c2" transform="rotate(-16.5 61.3 5.4)"/><ellipse cx="66.9" cy="13.2" rx="1.3" ry="2.4" fill="#c2c2c2" transform="rotate(-47.2 66.9 13.2)"/><ellipse cx="63.6" cy="31.5" rx="1.3" ry="2.4" fill="#c2c2c2" transform="rotate(47.1 63.6 31.5)"/><ellipse cx="55.8" cy="29.3" rx="1.3" ry="2.4" fill="#c2c2c2" transform="rotate(20.7 55.8 29.3)"/><ellipse cx="58.9" cy="17.2" rx="1.3" ry="2.4" fill="#c2c2c2" transform="rotate(-42.4 58.9 17.2)"/><ellipse cx="51.1" cy="35.4" rx="1.3" ry="2.4" fill="#c2c2c2" transform="rotate(-3.6 51.1 35.4)"/><ellipse cx="54.7" cy="30.7" rx="1.3" ry="2.4" fill="#c2c2c2" transform="rotate(33.9 54.7 30.7)"/><ellipse cx="69.2" cy="37.7" rx="1.3" ry="2.4" fill="#c2c2c2" transform="rotate(13.7 69.2 37.7)"/><ellipse cx="76.2" cy="34.4" rx="1.3" ry="2.4" fill="#c2c2c2" transform="rotate(-11.9 76.2 34.4)"/><ellipse cx="74.1" cy="33.0" rx="1.3" ry="2.4" fill="#c2c2c2" transform="rotate(0.2 74.1 33.0)"/><ellipse cx="43.0" cy="35.8" rx="1.3" ry="2.4" fill="#c2c2c2" transform="rotate(49.9 43.0 35.8)"/><ellipse cx="60.0" cy="10.2" rx="1.3" ry="2.4" fill="#c2c2c2" transform="rotate(24.8 60.0 10.2)"/><ellipse cx="67.0" cy="35.9" rx="1.3" ry="2.4" fill="#c2c2c2" transform="rotate(11.7 67.0 35.9)"/><ellipse cx="60.7" cy="24.0" rx="1.3" ry="2.4" fill="#c2c2c2" transform="rotate(-23.9 60.7 24.0)"/><ellipse cx="65.8" cy="18.8" rx="1.3" ry="2.4" fill="#c2c2c2" transform="rotate(35.0 65.8 18.8)"/><ellipse cx="73.4" cy="24.9" rx="1.3" ry="2.4" fill="#c2c2c2" transform="rotate(23.8 73.4 24.9)"/><ellipse cx="59.6" cy="28.9" rx="1.3" ry="2.4" fill="#c2c2c2" transform="rotate(43.2 59.6 28.9)"/><ellipse cx="63.3" cy="8.8" rx="1.3" ry="2.4" fill="#c2c2c2" transform="rotate(-30.2 63.3 8.8)"/><ellipse cx="52.5" cy="31.7" rx="1.3" ry="2.4" fill="#c2c2c2" transform="rotate(-20.5 52.5 31.7)"/><ellipse cx="61.3" cy="5.4" rx="1.3" ry="2.4" fill="#c2c2c2" transform="rotate(-8.5 61.3 5.4)"/><ellipse cx="67.1" cy="15.1" rx="1.3" ry="2.4" fill="#c2c2c2" transform="rotate(-15.2 67.1 15.1)"/><ellipse cx="51.7" cy="25.7" rx="1.3" ry="2.4" fill="#c2c2c2" transform="rotate(18.0 51.7 25.7)"/><ellipse cx="64.8" cy="9.9" rx="1.3" ry="2.4" fill="#c2c2c2" transform="rotate(-41.1 64.8 9.9)"/><ellipse cx="57.8" cy="12.8" rx="1.3" ry="2.4" fill="#c2c2c2" transform="rotate(38.3 57.8 12.8)"/><ellipse cx="57.6" cy="21.2" rx="1.3" ry="2.4" fill="#c2c2c2" transform="rotate(27.3 57.6 21.2)"/><ellipse cx="44.0" cy="38.5" rx="1.3" ry="2.4" fill="#c2c2c2" transform="rotate(-9.2 44.0 38.5)"/><ellipse cx="53.9" cy="20.8" rx="1.3" ry="2.4" fill="#c2c2c2" transform="rotate(-25.8 53.9 20.8)"/><ellipse cx="61.4" cy="10.7" rx="1.3" ry="2.4" fill="#c2c2c2" transform="rotate(-7.8 61.4 10.7)"/><ellipse cx="50.7" cy="31.0" rx="1.3" ry="2.4" fill="#c2c2c2" transform="rotate(14.0 50.7 31.0)"/><ellipse cx="61.2" cy="31.8" rx="1.3" ry="2.4" fill="#c2c2c2" transform="rotate(-9.1 61.2 31.8)"/><ellipse cx="61.1" cy="11.0" rx="1.3" ry="2.4" fill="#c2c2c2" transform="rotate(-22.3 61.1 11.0)"/><ellipse cx="59.7" cy="15.8" rx="1.3" ry="2.4" fill="#c2c2c2" transform="rotate(47.8 59.7 15.8)"/><ellipse cx="66.1" cy="20.7" rx="1.3" ry="2.4" fill="#c2c2c2" transform="rotate(-44.3 66.1 20.7)"/><ellipse cx="64.8" cy="18.3" rx="1.3" ry="2.4" fill="#c2c2c2" transform="rotate(15.9 64.8 18.3)"/><ellipse cx="58.0" cy="20.3" rx="1.3" ry="2.4" fill="#c2c2c2" transform="rotate(-12.6 58.0 20.3)"/><ellipse cx="74.4" cy="41.8" rx="1.3" ry="2.4" fill="#c2c2c2" transform="rotate(0.8 74.4 41.8)"/><ellipse cx="46.0" cy="32.0" rx="1.3" ry="2.4" fill="#c2c2c2" transform="rotate(-38.2 46.0 32.0)"/><ellipse cx="54.8" cy="31.5" rx="1.3" ry="2.4" fill="#c2c2c2" transform="rotate(-0.5 54.8 31.5)"/><ellipse cx="54.0" cy="16.4" rx="1.3" ry="2.4" fill="#c2c2c2" transform="rotate(-24.1 54.0 16.4)"/><ellipse cx="61.6" cy="12.2" rx="1.3" ry="2.4" fill="#c2c2c2" transform="rotate(48.0 61.6 12.2)"/><ellipse cx="63.2" cy="22.4" rx="1.3" ry="2.4" fill="#c2c2c2" transform="rotate(-25.8 63.2 22.4)"/><ellipse cx="61.3" cy="31.3" rx="1.3" ry="2.4" fill="#c2c2c2" transform="rotate(9.3 61.3 31.3)"/><ellipse cx="60.5" cy="5.2" rx="1.3" ry="2.4" fill="#c2c2c2" transform="rotate(-39.8 60.5 5.2)"/><ellipse cx="65.3" cy="23.7" rx="1.3" ry="2.4" fill="#c2c2c2" transform="rotate(38.7 65.3 23.7)"/><ellipse cx="42.0" cy="41.0" rx="1.3" ry="2.4" fill="#c2c2c2" transform="rotate(2.4 42.0 41.0)"/><ellipse cx="66.4" cy="16.4" rx="1.3" ry="2.4" fill="#c2c2c2" transform="rotate(-7.9 66.4 16.4)"/><ellipse cx="58.6" cy="11.7" rx="1.3" ry="2.4" fill="#c2c2c2" transform="rotate(-21.6 58.6 11.7)"/><ellipse cx="71.0" cy="32.0" rx="1.3" ry="2.4" fill="#c2c2c2" transform="rotate(0.6 71.0 32.0)"/><ellipse cx="81.4" cy="40.4" rx="1.3" ry="2.4" fill="#c2c2c2" transform="rotate(0.6 81.4 40.4)"/><ellipse cx="43.4" cy="36.8" rx="1.3" ry="2.4" fill="#c2c2c2" transform="rotate(3.2 43.4 36.8)"/><ellipse cx="71.2" cy="31.2" rx="1.3" ry="2.4" fill="#c2c2c2" transform="rotate(-41.8 71.2 31.2)"/><ellipse cx="72.5" cy="32.9" rx="1.3" ry="2.4" fill="#c2c2c2" transform="rotate(-16.3 72.5 32.9)"/><ellipse cx="48.4" cy="34.4" rx="1.3" ry="2.4" fill="#c2c2c2" transform="rotate(45.2 48.4 34.4)"/><ellipse cx="74.8" cy="27.6" rx="1.3" ry="2.4" fill="#c2c2c2" transform="rotate(-1.1 74.8 27.6)"/><ellipse cx="60.6" cy="20.3" rx="1.3" ry="2.4" fill="#c2c2c2" transform="rotate(-38.4 60.6 20.3)"/><ellipse cx="65.7" cy="23.8" rx="1.3" ry="2.4" fill="#c2c2c2" transform="rotate(-6.2 65.7 23.8)"/><ellipse cx="70.6" cy="26.6" rx="1.3" ry="2.4" fill="#c2c2c2" transform="rotate(7.0 70.6 26.6)"/><ellipse cx="61.5" cy="14.8" rx="1.3" ry="2.4" fill="#c2c2c2" transform="rotate(-22.4 61.5 14.8)"/><ellipse cx="54.2" cy="36.2" rx="1.3" ry="2.4" fill="#c2c2c2" transform="rotate(23.7 54.2 36.2)"/><ellipse cx="78.9" cy="37.7" rx="1.3" ry="2.4" fill="#c2c2c2" transform="rotate(49.9 78.9 37.7)"/><ellipse cx="55.3" cy="17.0" rx="1.3" ry="2.4" fill="#c2c2c2" transform="rotate(19.6 55.3 17.0)"/><ellipse cx="64.1" cy="16.7" rx="1.3" ry="2.4" fill="#c2c2c2" transform="rotate(-16.9 64.1 16.7)"/><ellipse cx="62.5" cy="8.0" rx="1.3" ry="2.4" fill="#c2c2c2" transform="rotate(43.0 62.5 8.0)"/><ellipse cx="54.6" cy="15.5" rx="1.3" ry="2.4" fill="#c2c2c2" transform="rotate(6.3 54.6 15.5)"/><ellipse cx="53.8" cy="16.1" rx="1.3" ry="2.4" fill="#c2c2c2" transform="rotate(-10.6 53.8 16.1)"/><ellipse cx="56.2" cy="22.5" rx="1.3" ry="2.4" fill="#c2c2c2" transform="rotate(-26.7 56.2 22.5)"/><ellipse cx="58.8" cy="15.9" rx="1.3" ry="2.4" fill="#c2c2c2" transform="rotate(1.1 58.8 15.9)"/><ellipse cx="45.8" cy="41.5" rx="1.3" ry="2.4" fill="#c2c2c2" transform="rotate(18.6 45.8 41.5)"/><ellipse cx="57.3" cy="9.4" rx="1.3" ry="2.4" fill="#c2c2c2" transform="rotate(-40.6 57.3 9.4)"/><ellipse cx="74.5" cy="29.6" rx="1.3" ry="2.4" fill="#c2c2c2" transform="rotate(-49.1 74.5 29.6)"/><ellipse cx="71.9" cy="37.9" rx="1.3" ry="2.4" fill="#c2c2c2" transform="rotate(-5.3 71.9 37.9)"/><ellipse cx="64.1" cy="11.3" rx="1.3" ry="2.4" fill="#c2c2c2" transform="rotate(-23.4 64.1 11.3)"/><ellipse cx="43.9" cy="41.5" rx="1.3" ry="2.4" fill="#c2c2c2" transform="rotate(35.7 43.9 41.5)"/><ellipse cx="62.0" cy="10.9" rx="1.3" ry="2.4" fill="#c2c2c2" transform="rotate(-24.0 62.0 10.9)"/><ellipse cx="62.9" cy="12.4" rx="1.3" ry="2.4" fill="#c2c2c2" transform="rotate(17.4 62.9 12.4)"/><ellipse cx="61.4" cy="12.3" rx="1.3" ry="2.4" fill="#c2c2c2" transform="rotate(-30.6 61.4 12.3)"/><ellipse cx="67.9" cy="40.7" rx="1.3" ry="2.4" fill="#c2c2c2" transform="rotate(-3.4 67.9 40.7)"/><ellipse cx="52.5" cy="19.9" rx="1.3" ry="2.4" fill="#c2c2c2" transform="rotate(-23.3 52.5 19.9)"/><ellipse cx="63.0" cy="10.6" rx="1.3" ry="2.4" fill="#c2c2c2" transform="rotate(25.2 63.0 10.6)"/><ellipse cx="57.3" cy="27.4" rx="1.3" ry="2.4" fill="#c2c2c2" transform="rotate(-4.5 57.3 27.4)"/><ellipse cx="57.5" cy="9.5" rx="1.3" ry="2.4" fill="#c2c2c2" transform="rotate(11.6 57.5 9.5)"/><ellipse cx="68.6" cy="19.6" rx="1.3" ry="2.4" fill="#c2c2c2" transform="rotate(-16.8 68.6 19.6)"/><ellipse cx="64.5" cy="13.2" rx="1.3" ry="2.4" fill="#c2c2c2" transform="rotate(-26.4 64.5 13.2)"/><ellipse cx="64.0" cy="25.2" rx="1.3" ry="2.4" fill="#c2c2c2" transform="rotate(-39.2 64.0 25.2)"/><ellipse cx="60.9" cy="5.0" rx="1.3" ry="2.4" fill="#c2c2c2" transform="rotate(44.6 60.9 5.0)"/><ellipse cx="66.1" cy="28.9" rx="1.3" ry="2.4" fill="#c2c2c2" transform="rotate(4.4 66.1 28.9)"/><ellipse cx="45.7" cy="29.2" rx="1.3" ry="2.4" fill="#c2c2c2" transform="rotate(-4.7 45.7 29.2)"/><ellipse cx="55.6" cy="30.3" rx="1.3" ry="2.4" fill="#c2c2c2" transform="rotate(-13.2 55.6 30.3)"/><ellipse cx="56.2" cy="15.9" rx="1.3" ry="2.4" fill="#c2c2c2" transform="rotate(11.2 56.2 15.9)"/><ellipse cx="67.5" cy="20.0" rx="1.3" ry="2.4" fill="#c2c2c2" transform="rotate(-47.4 67.5 20.0)"/><ellipse cx="68.9" cy="25.9" rx="1.3" ry="2.4" fill="#c2c2c2" transform="rotate(-48.3 68.9 25.9)"/><ellipse cx="64.2" cy="30.6" rx="1.3" ry="2.4" fill="#c2c2c2" transform="rotate(12.7 64.2 30.6)"/><ellipse cx="59.1" cy="19.9" rx="1.3" ry="2.4" fill="#c2c2c2" transform="rotate(21.8 59.1 19.9)"/><ellipse cx="63.0" cy="15.4" rx="1.3" ry="2.4" fill="#c2c2c2" transform="rotate(-42.6 63.0 15.4)"/><ellipse cx="57.1" cy="10.5" rx="1.3" ry="2.4" fill="#c2c2c2" transform="rotate(0.6 57.1 10.5)"/><ellipse cx="61.0" cy="10.3" rx="1.3" ry="2.4" fill="#c2c2c2" transform="rotate(-49.3 61.0 10.3)"/><ellipse cx="43.7" cy="39.6" rx="1.3" ry="2.4" fill="#c2c2c2" transform="rotate(7.8 43.7 39.6)"/><ellipse cx="55.0" cy="15.4" rx="1.3" ry="2.4" fill="#c2c2c2" transform="rotate(-27.0 55.0 15.4)"/><ellipse cx="62.1" cy="22.8" rx="1.3" ry="2.4" fill="#c2c2c2" transform="rotate(-33.5 62.1 22.8)"/><ellipse cx="56.2" cy="29.4" rx="1.3" ry="2.4" fill="#c2c2c2" transform="rotate(33.5 56.2 29.4)"/><ellipse cx="62.7" cy="12.4" rx="1.3" ry="2.4" fill="#c2c2c2" transform="rotate(16.5 62.7 12.4)"/><ellipse cx="72.6" cy="32.5" rx="1.3" ry="2.4" fill="#c2c2c2" transform="rotate(-30.9 72.6 32.5)"/><ellipse cx="68.0" cy="33.2" rx="1.3" ry="2.4" fill="#c2c2c2" transform="rotate(22.6 68.0 33.2)"/><ellipse cx="62.1" cy="5.8" rx="1.3" ry="2.4" fill="#c2c2c2" transform="rotate(18.3 62.1 5.8)"/><ellipse cx="72.3" cy="32.5" rx="1.3" ry="2.4" fill="#c2c2c2" transform="rotate(-20.0 72.3 32.5)"/><ellipse cx="53.0" cy="36.7" rx="1.3" ry="2.4" fill="#c2c2c2" transform="rotate(-42.8 53.0 36.7)"/><ellipse cx="68.6" cy="25.4" rx="1.3" ry="2.4" fill="#c2c2c2" transform="rotate(17.2 68.6 25.4)"/><ellipse cx="50.7" cy="24.0" rx="1.3" ry="2.4" fill="#c2c2c2" transform="rotate(-41.9 50.7 24.0)"/><ellipse cx="60.0" cy="16.8" rx="1.3" ry="2.4" fill="#c2c2c2" transform="rotate(16.4 60.0 16.8)"/><ellipse cx="66.1" cy="31.6" rx="1.3" ry="2.4" fill="#c2c2c2" transform="rotate(9.2 66.1 31.6)"/><ellipse cx="63.6" cy="8.6" rx="1.3" ry="2.4" fill="#c2c2c2" transform="rotate(38.9 63.6 8.6)"/><ellipse cx="52.1" cy="33.4" rx="1.3" ry="2.4" fill="#c2c2c2" transform="rotate(-44.2 52.1 33.4)"/><ellipse cx="53.0" cy="18.5" rx="1.3" ry="2.4" fill="#c2c2c2" transform="rotate(-35.5 53.0 18.5)"/><ellipse cx="52.6" cy="17.2" rx="1.3" ry="2.4" fill="#c2c2c2" transform="rotate(-23.7 52.6 17.2)"/><ellipse cx="51.2" cy="34.2" rx="1.3" ry="2.4" fill="#c2c2c2" transform="rotate(-47.4 51.2 34.2)"/><ellipse cx="58.1" cy="7.0" rx="1.3" ry="2.4" fill="#c2c2c2" transform="rotate(14.5 58.1 7.0)"/><ellipse cx="48.7" cy="30.9" rx="1.3" ry="2.4" fill="#c2c2c2" transform="rotate(49.4 48.7 30.9)"/><ellipse cx="62.7" cy="29.3" rx="1.3" ry="2.4" fill="#c2c2c2" transform="rotate(-4.1 62.7 29.3)"/><ellipse cx="71.8" cy="22.1" rx="1.3" ry="2.4" fill="#c2c2c2" transform="rotate(9.9 71.8 22.1)"/><ellipse cx="53.0" cy="26.9" rx="1.3" ry="2.4" fill="#c2c2c2" transform="rotate(-3.0 53.0 26.9)"/><ellipse cx="54.4" cy="15.0" rx="1.3" ry="2.4" fill="#c2c2c2" transform="rotate(7.4 54.4 15.0)"/><ellipse cx="57.7" cy="10.2" rx="1.3" ry="2.4" fill="#c2c2c2" transform="rotate(-38.7 57.7 10.2)"/><ellipse cx="54.8" cy="18.8" rx="1.3" ry="2.4" fill="#c2c2c2" transform="rotate(-3.5 54.8 18.8)"/><ellipse cx="57.4" cy="8.5" rx="1.3" ry="2.4" fill="#c2c2c2" transform="rotate(-43.5 57.4 8.5)"/><ellipse cx="69.3" cy="18.6" rx="1.3" ry="2.4" fill="#c2c2c2" transform="rotate(1.3 69.3 18.6)"/><ellipse cx="60.7" cy="14.5" rx="1.3" ry="2.4" fill="#c2c2c2" transform="rotate(-5.9 60.7 14.5)"/><ellipse cx="64.1" cy="12.9" rx="1.3" ry="2.4" fill="#c2c2c2" transform="rotate(-10.3 64.1 12.9)"/><ellipse cx="59.1" cy="15.8" rx="1.3" ry="2.4" fill="#c2c2c2" transform="rotate(49.6 59.1 15.8)"/><ellipse cx="54.7" cy="38.3" rx="1.3" ry="2.4" fill="#c2c2c2" transform="rotate(-30.1 54.7 38.3)"/><ellipse cx="42.7" cy="54.0" rx="1.3" ry="2.4" fill="#c2c2c2" transform="rotate(-16.8 42.7 54.0)"/><ellipse cx="44.1" cy="54.5" rx="1.3" ry="2.4" fill="#c2c2c2" transform="rotate(28.9 44.1 54.5)"/><ellipse cx="39.5" cy="40.0" rx="1.3" ry="2.4" fill="#c2c2c2" transform="rotate(13.1 39.5 40.0)"/><ellipse cx="37.6" cy="48.5" rx="1.3" ry="2.4" fill="#c2c2c2" transform="rotate(-48.1 37.6 48.5)"/><ellipse cx="38.3" cy="36.0" rx="1.3" ry="2.4" fill="#c2c2c2" transform="rotate(44.0 38.3 36.0)"/><ellipse cx="39.5" cy="33.4" rx="1.3" ry="2.4" fill="#c2c2c2" transform="rotate(27.6 39.5 33.4)"/><ellipse cx="30.7" cy="40.1" rx="1.3" ry="2.4" fill="#c2c2c2" transform="rotate(48.7 30.7 40.1)"/><ellipse cx="27.1" cy="55.8" rx="1.3" ry="2.4" fill="#c2c2c2" transform="rotate(-7.1 27.1 55.8)"/><ellipse cx="37.3" cy="35.7" rx="1.3" ry="2.4" fill="#c2c2c2" transform="rotate(-38.9 37.3 35.7)"/><ellipse cx="41.9" cy="44.9" rx="1.3" ry="2.4" fill="#c2c2c2" transform="rotate(-20.6 41.9 44.9)"/><ellipse cx="37.5" cy="33.2" rx="1.3" ry="2.4" fill="#c2c2c2" transform="rotate(36.7 37.5 33.2)"/><ellipse cx="31.3" cy="38.6" rx="1.3" ry="2.4" fill="#c2c2c2" transform="rotate(-13.5 31.3 38.6)"/><ellipse cx="33.9" cy="38.1" rx="1.3" ry="2.4" fill="#c2c2c2" transform="rotate(5.3 33.9 38.1)"/><ellipse cx="36.7" cy="25.9" rx="1.3" ry="2.4" fill="#c2c2c2" transform="rotate(44.1 36.7 25.9)"/><ellipse cx="37.6" cy="38.7" rx="1.3" ry="2.4" fill="#c2c2c2" transform="rotate(-1.6 37.6 38.7)"/><ellipse cx="33.7" cy="35.4" rx="1.3" ry="2.4" fill="#c2c2c2" transform="rotate(46.2 33.7 35.4)"/><ellipse cx="40.6" cy="57.9" rx="1.3" ry="2.4" fill="#c2c2c2" transform="rotate(9.6 40.6 57.9)"/><ellipse cx="35.7" cy="27.1" rx="1.3" ry="2.4" fill="#c2c2c2" transform="rotate(16.3 35.7 27.1)"/><ellipse cx="29.8" cy="56.9" rx="1.3" ry="2.4" fill="#c2c2c2" transform="rotate(39.1 29.8 56.9)"/><ellipse cx="31.1" cy="54.7" rx="1.3" ry="2.4" fill="#c2c2c2" transform="rotate(6.6 31.1 54.7)"/><ellipse cx="39.8" cy="37.1" rx="1.3" ry="2.4" fill="#c2c2c2" transform="rotate(44.2 39.8 37.1)"/><ellipse cx="36.4" cy="27.2" rx="1.3" ry="2.4" fill="#c2c2c2" transform="rotate(-19.1 36.4 27.2)"/><ellipse cx="31.9" cy="43.8" rx="1.3" ry="2.4" fill="#c2c2c2" transform="rotate(-29.4 31.9 43.8)"/><ellipse cx="34.9" cy="47.4" rx="1.3" ry="2.4" fill="#c2c2c2" transform="rotate(-13.0 34.9 47.4)"/><ellipse cx="38.5" cy="36.3" rx="1.3" ry="2.4" fill="#c2c2c2" transform="rotate(-42.4 38.5 36.3)"/><ellipse cx="35.8" cy="26.9" rx="1.3" ry="2.4" fill="#c2c2c2" transform="rotate(35.2 35.8 26.9)"/><ellipse cx="41.5" cy="54.8" rx="1.3" ry="2.4" fill="#c2c2c2" transform="rotate(-27.9 41.5 54.8)"/><ellipse cx="35.1" cy="29.6" rx="1.3" ry="2.4" fill="#c2c2c2" transform="rotate(-26.5 35.1 29.6)"/><ellipse cx="42.5" cy="49.8" rx="1.3" ry="2.4" fill="#c2c2c2" transform="rotate(-15.6 42.5 49.8)"/><ellipse cx="35.2" cy="26.9" rx="1.3" ry="2.4" fill="#c2c2c2" transform="rotate(0.0 35.2 26.9)"/><ellipse cx="26.8" cy="54.5" rx="1.3" ry="2.4" fill="#c2c2c2" transform="rotate(45.0 26.8 54.5)"/><ellipse cx="34.2" cy="31.9" rx="1.3" ry="2.4" fill="#c2c2c2" transform="rotate(14.5 34.2 31.9)"/><ellipse cx="43.4" cy="55.8" rx="1.3" ry="2.4" fill="#c2c2c2" transform="rotate(-27.8 43.4 55.8)"/><ellipse cx="37.5" cy="27.0" rx="1.3" ry="2.4" fill="#c2c2c2" transform="rotate(-11.6 37.5 27.0)"/><ellipse cx="32.3" cy="48.9" rx="1.3" ry="2.4" fill="#c2c2c2" transform="rotate(-26.0 32.3 48.9)"/><ellipse cx="35.4" cy="41.6" rx="1.3" ry="2.4" fill="#c2c2c2" transform="rotate(-31.8 35.4 41.6)"/><ellipse cx="38.5" cy="37.2" rx="1.3" ry="2.4" fill="#c2c2c2" transform="rotate(-45.3 38.5 37.2)"/><ellipse cx="32.3" cy="35.6" rx="1.3" ry="2.4" fill="#c2c2c2" transform="rotate(36.9 32.3 35.6)"/><ellipse cx="42.4" cy="44.8" rx="1.3" ry="2.4" fill="#c2c2c2" transform="rotate(-39.9 42.4 44.8)"/><ellipse cx="37.4" cy="35.3" rx="1.3" ry="2.4" fill="#c2c2c2" transform="rotate(23.8 37.4 35.3)"/><ellipse cx="91.4" cy="54.3" rx="1.3" ry="2.4" fill="#c2c2c2" transform="rotate(24.3 91.4 54.3)"/><ellipse cx="82.4" cy="49.8" rx="1.3" ry="2.4" fill="#c2c2c2" transform="rotate(47.6 82.4 49.8)"/><ellipse cx="80.9" cy="56.9" rx="1.3" ry="2.4" fill="#c2c2c2" transform="rotate(-35.2 80.9 56.9)"/><ellipse cx="79.7" cy="56.6" rx="1.3" ry="2.4" fill="#c2c2c2" transform="rotate(-48.6 79.7 56.6)"/><ellipse cx="83.4" cy="30.5" rx="1.3" ry="2.4" fill="#c2c2c2" transform="rotate(12.7 83.4 30.5)"/><ellipse cx="74.2" cy="56.0" rx="1.3" ry="2.4" fill="#c2c2c2" transform="rotate(-45.1 74.2 56.0)"/><ellipse cx="80.4" cy="53.7" rx="1.3" ry="2.4" fill="#c2c2c2" transform="rotate(-16.9 80.4 53.7)"/><ellipse cx="85.2" cy="32.0" rx="1.3" ry="2.4" fill="#c2c2c2" transform="rotate(14.6 85.2 32.0)"/><ellipse cx="84.0" cy="59.7" rx="1.3" ry="2.4" fill="#c2c2c2" transform="rotate(-10.7 84.0 59.7)"/><ellipse cx="84.4" cy="53.2" rx="1.3" ry="2.4" fill="#c2c2c2" transform="rotate(-23.5 84.4 53.2)"/><ellipse cx="92.0" cy="61.7" rx="1.3" ry="2.4" fill="#c2c2c2" transform="rotate(48.5 92.0 61.7)"/><ellipse cx="78.8" cy="52.5" rx="1.3" ry="2.4" fill="#c2c2c2" transform="rotate(-32.9 78.8 52.5)"/><ellipse cx="80.3" cy="34.5" rx="1.3" ry="2.4" fill="#c2c2c2" transform="rotate(5.2 80.3 34.5)"/><ellipse cx="90.6" cy="59.0" rx="1.3" ry="2.4" fill="#c2c2c2" transform="rotate(-0.3 90.6 59.0)"/><ellipse cx="77.8" cy="42.8" rx="1.3" ry="2.4" fill="#c2c2c2" transform="rotate(-40.9 77.8 42.8)"/><ellipse cx="74.8" cy="60.0" rx="1.3" ry="2.4" fill="#c2c2c2" transform="rotate(-24.9 74.8 60.0)"/><ellipse cx="81.5" cy="47.0" rx="1.3" ry="2.4" fill="#c2c2c2" transform="rotate(-11.7 81.5 47.0)"/><ellipse cx="85.1" cy="30.4" rx="1.3" ry="2.4" fill="#c2c2c2" transform="rotate(12.4 85.1 30.4)"/><ellipse cx="82.4" cy="32.0" rx="1.3" ry="2.4" fill="#c2c2c2" transform="rotate(-34.1 82.4 32.0)"/><ellipse cx="85.0" cy="31.3" rx="1.3" ry="2.4" fill="#c2c2c2" transform="rotate(9.1 85.0 31.3)"/><ellipse cx="81.9" cy="30.2" rx="1.3" ry="2.4" fill="#c2c2c2" transform="rotate(30.7 81.9 30.2)"/><ellipse cx="73.7" cy="61.2" rx="1.3" ry="2.4" fill="#c2c2c2" transform="rotate(-17.2 73.7 61.2)"/><ellipse cx="86.0" cy="34.6" rx="1.3" ry="2.4" fill="#c2c2c2" transform="rotate(41.0 86.0 34.6)"/><ellipse cx="82.0" cy="35.3" rx="1.3" ry="2.4" fill="#c2c2c2" transform="rotate(-19.7 82.0 35.3)"/><ellipse cx="81.7" cy="51.9" rx="1.3" ry="2.4" fill="#c2c2c2" transform="rotate(23.7 81.7 51.9)"/><ellipse cx="84.8" cy="40.3" rx="1.3" ry="2.4" fill="#c2c2c2" transform="rotate(-15.3 84.8 40.3)"/><ellipse cx="83.9" cy="31.6" rx="1.3" ry="2.4" fill="#c2c2c2" transform="rotate(34.5 83.9 31.6)"/><ellipse cx="84.5" cy="38.2" rx="1.3" ry="2.4" fill="#c2c2c2" transform="rotate(-36.9 84.5 38.2)"/><ellipse cx="82.7" cy="33.3" rx="1.3" ry="2.4" fill="#c2c2c2" transform="rotate(-15.5 82.7 33.3)"/><ellipse cx="85.8" cy="35.3" rx="1.3" ry="2.4" fill="#c2c2c2" transform="rotate(-42.2 85.8 35.3)"/><ellipse cx="79.0" cy="44.6" rx="1.3" ry="2.4" fill="#c2c2c2" transform="rotate(3.8 79.0 44.6)"/><ellipse cx="80.7" cy="56.6" rx="1.3" ry="2.4" fill="#c2c2c2" transform="rotate(-47.0 80.7 56.6)"/><ellipse cx="84.1" cy="30.5" rx="1.3" ry="2.4" fill="#c2c2c2" transform="rotate(31.9 84.1 30.5)"/><ellipse cx="78.1" cy="45.5" rx="1.3" ry="2.4" fill="#c2c2c2" transform="rotate(-40.8 78.1 45.5)"/><ellipse cx="82.4" cy="35.3" rx="1.3" ry="2.4" fill="#c2c2c2" transform="rotate(-48.5 82.4 35.3)"/><ellipse cx="80.3" cy="47.3" rx="1.3" ry="2.4" fill="#c2c2c2" transform="rotate(8.7 80.3 47.3)"/><ellipse cx="76.7" cy="51.4" rx="1.3" ry="2.4" fill="#c2c2c2" transform="rotate(47.1 76.7 51.4)"/><ellipse cx="83.0" cy="29.6" rx="1.3" ry="2.4" fill="#c2c2c2" transform="rotate(13.0 83.0 29.6)"/><ellipse cx="83.5" cy="44.8" rx="1.3" ry="2.4" fill="#c2c2c2" transform="rotate(-12.9 83.5 44.8)"/><ellipse cx="87.0" cy="58.9" rx="1.3" ry="2.4" fill="#c2c2c2" transform="rotate(3.2 87.0 58.9)"/><path d="M60.7,110.0 L60.7,8.0" fill="none" stroke="#b0b0b0" stroke-width="1.0" stroke-linecap="round"/><path d="M58.0,110.0 L36.0,28.0" fill="none" stroke="#b0b0b0" stroke-width="1.0" stroke-linecap="round"/><path d="M63.0,110.0 L83.0,32.0" fill="none" stroke="#b0b0b0" stroke-width="1.0" stroke-linecap="round"/><ellipse cx="60.7" cy="114" rx="11" ry="2" fill="#c8c8c8"/></svg>
<div class="cn" style="left:1816.99px">Sorghum</div>
<div class="sp" style="left:1816.99px;top:121.5px">(<i>S. bicolor</i>)</div>
<svg class="im" style="left:1824.99px" width="120" height="124" viewBox="0 0 120 124"><path d="M59.0,24.0 L59.0,116.0" fill="none" stroke="#a3a3a3" stroke-width="1.6" stroke-linecap="round"/><path d="M59.3,30.7 L58.7,30.1 L58.1,29.1 L57.3,27.8 L56.3,26.5 L55.3,25.2 L54.2,24.1 L53.0,23.1 L51.6,22.6 L50.3,22.5 L49.0,22.7 L47.8,23.2 L46.7,23.9 L45.6,24.8 L44.7,25.9 L43.9,27.0 L43.2,28.4 L42.7,30.0 L42.3,31.9 L42.1,34.0 L41.9,36.2 L41.8,38.3 L41.7,40.2 L41.7,41.8 L41.6,42.9 L42.4,43.1 L42.6,41.9 L43.0,40.3 L43.4,38.5 L43.8,36.4 L44.3,34.4 L44.8,32.5 L45.3,30.8 L45.9,29.6 L46.5,28.7 L47.1,27.8 L47.9,27.1 L48.6,26.5 L49.3,26.0 L50.0,25.7 L50.6,25.5 L51.1,25.4 L51.7,25.6 L52.6,26.1 L53.7,26.9 L54.9,27.9 L56.0,28.9 L57.1,29.9 L58.1,30.7 L58.7,31.3Z" fill="#c6c6c6" stroke="#8e8e8e" stroke-width="0.5"/><path d="M59.3,31.3 L59.9,30.7 L60.9,29.9 L62.0,28.9 L63.1,27.9 L64.3,26.9 L65.4,26.1 L66.3,25.6 L66.9,25.4 L67.4,25.5 L68.0,25.7 L68.7,26.0 L69.4,26.5 L70.1,27.1 L70.9,27.8 L71.5,28.7 L72.1,29.6 L72.7,30.8 L73.2,32.5 L73.7,34.4 L74.2,36.4 L74.6,38.5 L75.0,40.3 L75.4,41.9 L75.6,43.1 L76.4,42.9 L76.3,41.8 L76.3,40.2 L76.2,38.3 L76.1,36.2 L75.9,34.0 L75.7,31.9 L75.3,30.0 L74.8,28.4 L74.1,27.0 L73.3,25.9 L72.4,24.8 L71.3,23.9 L70.2,23.2 L69.0,22.7 L67.7,22.5 L66.4,22.6 L65.0,23.1 L63.8,24.1 L62.7,25.2 L61.7,26.5 L60.7,27.8 L59.9,29.1 L59.3,30.1 L58.7,30.7Z" fill="#c6c6c6" stroke="#8e8e8e" stroke-width="0.5"/><path d="M59.3,44.7 L58.6,44.1 L57.7,43.0 L56.7,41.8 L55.4,40.4 L54.1,39.2 L52.7,38.0 L51.3,37.1 L49.8,36.6 L48.3,36.5 L46.9,36.7 L45.5,37.1 L44.1,37.8 L42.9,38.7 L41.8,39.7 L40.8,40.9 L39.9,42.3 L39.2,43.9 L38.7,45.9 L38.3,48.0 L38.1,50.1 L37.9,52.3 L37.8,54.2 L37.8,55.8 L37.6,56.9 L38.4,57.1 L38.6,55.9 L39.1,54.4 L39.5,52.5 L40.0,50.5 L40.6,48.4 L41.1,46.5 L41.8,44.9 L42.4,43.7 L43.1,42.8 L44.0,41.9 L44.9,41.2 L45.8,40.6 L46.7,40.1 L47.7,39.7 L48.5,39.5 L49.3,39.4 L50.2,39.6 L51.4,40.1 L52.7,40.9 L54.2,41.9 L55.5,43.0 L56.9,43.9 L58.0,44.7 L58.7,45.3Z" fill="#c6c6c6" stroke="#8e8e8e" stroke-width="0.5"/><path d="M59.3,45.3 L60.0,44.7 L61.1,43.9 L62.5,43.0 L63.8,41.9 L65.3,40.9 L66.6,40.1 L67.8,39.6 L68.7,39.4 L69.5,39.5 L70.3,39.7 L71.3,40.1 L72.2,40.6 L73.1,41.2 L74.0,41.9 L74.9,42.8 L75.6,43.7 L76.2,44.9 L76.9,46.5 L77.4,48.4 L78.0,50.5 L78.5,52.5 L78.9,54.4 L79.4,55.9 L79.6,57.1 L80.4,56.9 L80.2,55.8 L80.2,54.2 L80.1,52.3 L79.9,50.1 L79.7,48.0 L79.3,45.9 L78.8,43.9 L78.1,42.3 L77.2,40.9 L76.2,39.7 L75.1,38.7 L73.9,37.8 L72.5,37.1 L71.1,36.7 L69.7,36.5 L68.2,36.6 L66.7,37.1 L65.3,38.0 L63.9,39.2 L62.6,40.4 L61.3,41.8 L60.3,43.0 L59.4,44.1 L58.7,44.7Z" fill="#c6c6c6" stroke="#8e8e8e" stroke-width="0.5"/><path d="M59.3,60.7 L58.5,60.0 L57.5,59.0 L56.4,57.7 L55.0,56.4 L53.6,55.1 L52.0,54.0 L50.5,53.1 L48.9,52.6 L47.3,52.5 L45.8,52.7 L44.3,53.1 L42.8,53.8 L41.5,54.6 L40.3,55.7 L39.2,56.9 L38.2,58.2 L37.5,59.9 L36.9,61.8 L36.5,64.0 L36.2,66.1 L36.0,68.2 L35.9,70.2 L35.8,71.8 L35.6,72.9 L36.4,73.1 L36.7,71.9 L37.1,70.4 L37.6,68.5 L38.1,66.5 L38.7,64.5 L39.3,62.6 L40.0,60.9 L40.7,59.8 L41.5,58.9 L42.4,58.0 L43.4,57.2 L44.4,56.6 L45.4,56.1 L46.5,55.7 L47.5,55.5 L48.4,55.4 L49.5,55.6 L50.8,56.2 L52.3,57.0 L53.8,58.0 L55.3,59.0 L56.7,59.9 L57.9,60.7 L58.7,61.3Z" fill="#c6c6c6" stroke="#8e8e8e" stroke-width="0.5"/><path d="M59.3,61.3 L60.1,60.7 L61.3,59.9 L62.7,59.0 L64.2,58.0 L65.7,57.0 L67.2,56.2 L68.5,55.6 L69.6,55.4 L70.5,55.5 L71.5,55.7 L72.6,56.1 L73.6,56.6 L74.6,57.2 L75.6,58.0 L76.5,58.9 L77.3,59.8 L78.0,60.9 L78.7,62.6 L79.3,64.5 L79.9,66.5 L80.4,68.5 L80.9,70.4 L81.3,71.9 L81.6,73.1 L82.4,72.9 L82.2,71.8 L82.1,70.2 L82.0,68.2 L81.8,66.1 L81.5,64.0 L81.1,61.8 L80.5,59.9 L79.8,58.2 L78.8,56.9 L77.7,55.7 L76.5,54.6 L75.2,53.8 L73.7,53.1 L72.2,52.7 L70.7,52.5 L69.1,52.6 L67.5,53.1 L66.0,54.0 L64.4,55.1 L63.0,56.4 L61.6,57.7 L60.5,59.0 L59.5,60.0 L58.7,60.7Z" fill="#c6c6c6" stroke="#8e8e8e" stroke-width="0.5"/><path d="M59.3,76.6 L58.4,76.0 L57.4,75.0 L56.2,73.7 L54.8,72.4 L53.3,71.1 L51.7,70.0 L50.0,69.1 L48.4,68.6 L46.8,68.5 L45.2,68.7 L43.7,69.1 L42.2,69.8 L40.8,70.6 L39.5,71.7 L38.4,72.8 L37.4,74.2 L36.6,75.9 L36.0,77.8 L35.6,79.9 L35.2,82.1 L35.0,84.2 L34.9,86.2 L34.8,87.8 L34.6,88.9 L35.4,89.1 L35.7,87.9 L36.1,86.4 L36.6,84.5 L37.2,82.5 L37.8,80.5 L38.4,78.6 L39.1,77.0 L39.8,75.8 L40.6,74.9 L41.6,74.0 L42.6,73.2 L43.7,72.6 L44.8,72.1 L45.9,71.7 L47.0,71.5 L48.0,71.4 L49.1,71.6 L50.5,72.2 L52.0,73.0 L53.6,74.0 L55.2,75.0 L56.6,75.9 L57.9,76.7 L58.7,77.4Z" fill="#c6c6c6" stroke="#8e8e8e" stroke-width="0.5"/><path d="M59.3,77.4 L60.1,76.7 L61.4,75.9 L62.8,75.0 L64.4,74.0 L66.0,73.0 L67.5,72.2 L68.9,71.6 L70.0,71.4 L71.0,71.5 L72.1,71.7 L73.2,72.1 L74.3,72.6 L75.4,73.2 L76.4,74.0 L77.4,74.9 L78.2,75.8 L78.9,77.0 L79.6,78.6 L80.2,80.5 L80.8,82.5 L81.4,84.5 L81.9,86.4 L82.3,87.9 L82.6,89.1 L83.4,88.9 L83.2,87.8 L83.1,86.2 L83.0,84.2 L82.8,82.1 L82.4,79.9 L82.0,77.8 L81.4,75.9 L80.6,74.2 L79.6,72.8 L78.5,71.7 L77.2,70.6 L75.8,69.8 L74.3,69.1 L72.8,68.7 L71.2,68.5 L69.6,68.6 L68.0,69.1 L66.3,70.0 L64.7,71.1 L63.2,72.4 L61.8,73.7 L60.6,75.0 L59.6,76.0 L58.7,76.6Z" fill="#c6c6c6" stroke="#8e8e8e" stroke-width="0.5"/><path d="M59.3,92.7 L58.5,92.0 L57.5,91.0 L56.4,89.7 L55.0,88.4 L53.6,87.1 L52.0,86.0 L50.5,85.1 L48.9,84.6 L47.3,84.5 L45.8,84.7 L44.3,85.1 L42.8,85.8 L41.5,86.6 L40.3,87.7 L39.2,88.9 L38.2,90.2 L37.5,91.9 L36.9,93.8 L36.5,96.0 L36.2,98.1 L36.0,100.2 L35.9,102.2 L35.8,103.8 L35.6,104.9 L36.4,105.1 L36.7,103.9 L37.1,102.4 L37.6,100.5 L38.1,98.5 L38.7,96.5 L39.3,94.6 L40.0,92.9 L40.7,91.8 L41.5,90.9 L42.4,90.0 L43.4,89.2 L44.4,88.6 L45.4,88.1 L46.5,87.7 L47.5,87.5 L48.4,87.4 L49.5,87.6 L50.8,88.2 L52.3,89.0 L53.8,90.0 L55.3,91.0 L56.7,91.9 L57.9,92.7 L58.7,93.3Z" fill="#c6c6c6" stroke="#8e8e8e" stroke-width="0.5"/><path d="M59.3,93.3 L60.1,92.7 L61.3,91.9 L62.7,91.0 L64.2,90.0 L65.7,89.0 L67.2,88.2 L68.5,87.6 L69.6,87.4 L70.5,87.5 L71.5,87.7 L72.6,88.1 L73.6,88.6 L74.6,89.2 L75.6,90.0 L76.5,90.9 L77.3,91.8 L78.0,92.9 L78.7,94.6 L79.3,96.5 L79.9,98.5 L80.4,100.5 L80.9,102.4 L81.3,103.9 L81.6,105.1 L82.4,104.9 L82.2,103.8 L82.1,102.2 L82.0,100.2 L81.8,98.1 L81.5,96.0 L81.1,93.8 L80.5,91.9 L79.8,90.2 L78.8,88.9 L77.7,87.7 L76.5,86.6 L75.2,85.8 L73.7,85.1 L72.2,84.7 L70.7,84.5 L69.1,84.6 L67.5,85.1 L66.0,86.0 L64.4,87.1 L63.0,88.4 L61.6,89.7 L60.5,91.0 L59.5,92.0 L58.7,92.7Z" fill="#c6c6c6" stroke="#8e8e8e" stroke-width="0.5"/><path d="M59.6,3.5 C66,8 66.5,18 64,23 C62,26 57,26 55,23 C52.5,18 53,8 59.6,3.5 Z" fill="#959595" stroke="#7a7a7a" stroke-width="0.6"/><ellipse cx="59" cy="116" rx="5" ry="1.2" fill="#b0b0b0"/></svg>
<div class="cn" style="left:1952.71px">Teosinte</div>
<div class="sp" style="left:1952.71px;top:105.5px">(<i>Zea</i><br><i>diploperennis</i>)</div>
<svg class="im" style="left:1960.71px" width="120" height="124" viewBox="0 0 120 124"><path d="M17.8,33.0 L19.1,36.9 L20.8,42.1 L22.9,48.4 L25.2,55.3 L27.6,62.3 L29.9,69.0 L32.3,76.0 L34.9,83.8 L37.7,91.8 L40.3,99.2 L42.4,105.5 L44.0,110.0" fill="none" stroke="#4d4742" stroke-width="0.8" stroke-linecap="round"/><path d="M17.8,35.0 L17.8,23.0 M17.8,33.0 L11.5,30.0 M17.8,33.0 L24.1,30.0 M17.8,30.6 L12.6,27.2 M17.8,30.6 L23.0,27.2 M17.8,28.2 L13.7,24.7 M17.8,28.2 L21.9,24.7 M17.8,25.8 L14.8,22.3 M17.8,25.8 L20.8,22.3 M17.8,23.4 L15.7,20.2 M17.8,23.4 L19.9,20.2" stroke="#4d4742" stroke-width="0.55" fill="none" stroke-linecap="round" opacity="0.85"/><path d="M20.4,42.1 L20.2,42.6 L19.9,43.2 L19.4,43.9 L18.9,44.7 L18.4,45.6 L17.9,46.5 L17.5,47.6 L17.1,48.6 L16.8,49.6 L16.5,50.8 L16.3,51.9 L16.0,53.2 L15.9,54.4 L15.7,55.6 L15.6,56.7 L15.6,57.8 L15.7,58.9 L15.8,60.0 L16.0,61.0 L16.3,62.0 L16.5,62.8 L16.8,63.6 L17.1,64.2 L17.1,64.7 L18.2,64.6 L18.2,64.1 L18.3,63.4 L18.4,62.7 L18.5,61.8 L18.6,60.9 L18.7,59.9 L18.9,59.0 L19.0,58.1 L19.2,57.1 L19.3,56.0 L19.5,54.9 L19.7,53.8 L19.9,52.6 L20.1,51.5 L20.3,50.4 L20.4,49.4 L20.5,48.4 L20.7,47.4 L20.9,46.4 L21.0,45.4 L21.1,44.5 L21.2,43.6 L21.3,42.9 L21.5,42.4Z" fill="#f4f1ec" stroke="#4d4742" stroke-width="0.65"/><path d="M19.9,45.6 L19.6,46.5 L19.3,47.7 L19.0,49.1 L18.6,50.6 L18.3,52.1 L18.0,53.5 L17.9,54.7 L17.7,56.0 L17.7,57.3 L17.6,58.5 L17.5,59.5 L17.5,60.2" fill="none" stroke="#4d4742" stroke-width="0.45" stroke-linecap="round"/><path d="M28.6,66.3 L28.8,66.7 L29.0,67.3 L29.1,68.0 L29.3,68.8 L29.5,69.7 L29.7,70.5 L29.9,71.3 L30.1,72.1 L30.3,73.0 L30.5,73.9 L30.7,74.8 L30.9,75.8 L31.1,76.8 L31.3,77.7 L31.4,78.6 L31.6,79.4 L31.7,80.1 L31.8,80.9 L31.9,81.7 L31.9,82.4 L32.0,83.2 L32.1,83.9 L32.1,84.4 L32.1,84.8 L33.0,84.9 L33.1,84.5 L33.3,84.0 L33.5,83.4 L33.8,82.6 L34.0,81.8 L34.2,81.0 L34.3,80.1 L34.3,79.2 L34.3,78.2 L34.2,77.2 L34.0,76.2 L33.8,75.2 L33.6,74.2 L33.3,73.2 L33.0,72.2 L32.7,71.4 L32.3,70.5 L31.9,69.6 L31.5,68.8 L31.0,68.1 L30.5,67.4 L30.0,66.8 L29.7,66.3 L29.5,65.9Z" fill="#f4f1ec" stroke="#4d4742" stroke-width="0.65"/><path d="M30.2,68.9 L30.5,69.7 L30.8,70.7 L31.2,71.9 L31.6,73.1 L31.9,74.4 L32.2,75.5 L32.3,76.6 L32.5,77.7 L32.6,78.7 L32.6,79.7 L32.7,80.5 L32.7,81.1" fill="none" stroke="#4d4742" stroke-width="0.45" stroke-linecap="round"/><path d="M36.7,89.8 L36.5,90.2 L36.1,90.8 L35.6,91.4 L35.0,92.2 L34.5,93.0 L34.0,94.0 L33.5,94.9 L33.1,95.9 L32.7,96.9 L32.4,97.9 L32.1,99.0 L31.8,100.2 L31.5,101.3 L31.4,102.5 L31.2,103.6 L31.2,104.6 L31.2,105.7 L31.4,106.7 L31.5,107.7 L31.8,108.6 L32.1,109.4 L32.4,110.1 L32.6,110.7 L32.6,111.1 L33.6,111.0 L33.6,110.6 L33.6,109.9 L33.7,109.2 L33.8,108.3 L33.9,107.5 L33.9,106.6 L34.0,105.7 L34.2,104.9 L34.3,104.0 L34.5,103.0 L34.7,102.0 L35.0,100.9 L35.2,99.8 L35.5,98.7 L35.7,97.7 L35.9,96.8 L36.1,95.9 L36.4,94.9 L36.6,94.0 L36.9,93.0 L37.1,92.2 L37.3,91.3 L37.4,90.7 L37.7,90.2Z" fill="#f4f1ec" stroke="#4d4742" stroke-width="0.65"/><path d="M35.8,93.1 L35.6,94.0 L35.2,95.1 L34.7,96.4 L34.3,97.9 L33.9,99.3 L33.6,100.5 L33.4,101.7 L33.2,103.0 L33.1,104.2 L33.0,105.3 L33.0,106.2 L32.9,106.9" fill="none" stroke="#4d4742" stroke-width="0.45" stroke-linecap="round"/><path d="M43.9,24.0 L44.3,28.3 L44.8,34.3 L45.5,41.4 L46.1,49.1 L46.6,57.0 L46.9,64.5 L47.0,72.3 L46.9,81.0 L46.7,89.8 L46.4,98.0 L46.1,105.0 L46.0,110.0" fill="none" stroke="#4d4742" stroke-width="0.8" stroke-linecap="round"/><path d="M43.9,26.0 L43.9,14.0 M43.9,24.0 L37.6,21.0 M43.9,24.0 L50.2,21.0 M43.9,21.6 L38.7,18.2 M43.9,21.6 L49.1,18.2 M43.9,19.2 L39.8,15.7 M43.9,19.2 L48.0,15.7 M43.9,16.8 L40.9,13.3 M43.9,16.8 L46.9,13.3 M43.9,14.4 L41.8,11.2 M43.9,14.4 L46.0,11.2" stroke="#4d4742" stroke-width="0.55" fill="none" stroke-linecap="round" opacity="0.85"/><path d="M43.6,34.2 L43.5,34.8 L43.1,35.6 L42.6,36.5 L42.2,37.5 L41.7,38.7 L41.3,39.9 L40.9,41.2 L40.5,42.4 L40.2,43.8 L40.0,45.1 L39.7,46.6 L39.5,48.1 L39.3,49.6 L39.2,51.1 L39.1,52.5 L39.1,53.9 L39.2,55.2 L39.3,56.5 L39.5,57.7 L39.7,58.9 L40.0,60.0 L40.3,61.0 L40.5,61.8 L40.5,62.4 L41.6,62.3 L41.6,61.7 L41.7,60.9 L41.8,59.9 L41.9,58.8 L42.0,57.6 L42.1,56.4 L42.2,55.2 L42.4,54.0 L42.5,52.8 L42.7,51.4 L42.9,50.0 L43.0,48.6 L43.2,47.1 L43.4,45.7 L43.6,44.3 L43.7,43.0 L43.8,41.8 L44.0,40.5 L44.1,39.3 L44.3,38.1 L44.4,37.0 L44.4,35.9 L44.5,35.1 L44.7,34.5Z" fill="#f4f1ec" stroke="#4d4742" stroke-width="0.65"/><path d="M43.1,38.5 L42.9,39.6 L42.6,41.1 L42.3,42.9 L42.0,44.8 L41.7,46.7 L41.4,48.3 L41.3,49.9 L41.1,51.6 L41.1,53.2 L41.0,54.6 L41.0,55.9 L40.9,56.8" fill="none" stroke="#4d4742" stroke-width="0.45" stroke-linecap="round"/><path d="M43.9,45.2 L44.1,45.7 L44.2,46.3 L44.3,47.1 L44.4,47.9 L44.6,48.8 L44.8,49.7 L45.0,50.6 L45.1,51.4 L45.3,52.3 L45.5,53.2 L45.7,54.2 L45.9,55.3 L46.1,56.3 L46.3,57.2 L46.5,58.2 L46.6,59.0 L46.8,59.8 L46.9,60.6 L47.0,61.4 L47.1,62.2 L47.2,63.0 L47.3,63.7 L47.4,64.3 L47.4,64.7 L48.5,64.8 L48.6,64.4 L48.8,63.9 L49.1,63.2 L49.4,62.4 L49.6,61.6 L49.8,60.7 L50.0,59.7 L50.0,58.7 L50.0,57.7 L49.9,56.7 L49.8,55.6 L49.6,54.5 L49.3,53.4 L49.0,52.4 L48.7,51.4 L48.4,50.5 L48.0,49.5 L47.6,48.6 L47.1,47.8 L46.6,47.0 L46.0,46.3 L45.5,45.7 L45.1,45.2 L44.9,44.8Z" fill="#f4f1ec" stroke="#4d4742" stroke-width="0.65"/><path d="M45.6,48.0 L45.8,48.7 L46.1,49.8 L46.5,51.1 L46.9,52.4 L47.3,53.7 L47.5,54.9 L47.7,56.0 L47.9,57.2 L48.0,58.3 L48.0,59.3 L48.1,60.2 L48.1,60.8" fill="none" stroke="#4d4742" stroke-width="0.45" stroke-linecap="round"/><path d="M44.1,55.4 L43.9,56.0 L43.5,56.6 L42.9,57.4 L42.3,58.2 L41.7,59.2 L41.2,60.3 L40.7,61.4 L40.2,62.5 L39.8,63.6 L39.5,64.8 L39.2,66.1 L38.9,67.4 L38.6,68.7 L38.5,70.0 L38.4,71.3 L38.3,72.5 L38.4,73.7 L38.5,74.9 L38.7,76.0 L39.0,77.0 L39.3,78.0 L39.6,78.8 L39.9,79.4 L39.9,80.0 L41.1,79.9 L41.1,79.3 L41.1,78.6 L41.3,77.7 L41.4,76.8 L41.5,75.8 L41.6,74.8 L41.7,73.7 L41.8,72.8 L42.0,71.7 L42.2,70.6 L42.5,69.4 L42.7,68.2 L42.9,66.9 L43.2,65.7 L43.4,64.5 L43.6,63.4 L43.8,62.4 L44.0,61.3 L44.3,60.2 L44.5,59.1 L44.7,58.1 L44.9,57.2 L45.0,56.4 L45.2,55.9Z" fill="#f4f1ec" stroke="#4d4742" stroke-width="0.65"/><path d="M43.3,59.3 L43.0,60.2 L42.6,61.5 L42.2,63.1 L41.7,64.7 L41.3,66.3 L41.0,67.8 L40.8,69.2 L40.6,70.6 L40.5,72.0 L40.4,73.2 L40.4,74.3 L40.3,75.1" fill="none" stroke="#4d4742" stroke-width="0.45" stroke-linecap="round"/><path d="M44.4,66.6 L44.6,67.0 L44.7,67.6 L44.8,68.4 L44.9,69.2 L45.1,70.0 L45.3,70.8 L45.5,71.7 L45.7,72.5 L45.8,73.3 L46.0,74.2 L46.2,75.2 L46.4,76.1 L46.6,77.1 L46.8,78.0 L47.0,78.8 L47.2,79.6 L47.3,80.3 L47.4,81.1 L47.5,81.8 L47.7,82.6 L47.8,83.3 L47.9,84.0 L48.0,84.6 L47.9,85.0 L49.1,85.1 L49.2,84.7 L49.4,84.2 L49.7,83.6 L50.0,82.9 L50.3,82.1 L50.5,81.2 L50.7,80.3 L50.7,79.3 L50.7,78.3 L50.6,77.3 L50.4,76.3 L50.2,75.3 L50.0,74.2 L49.7,73.2 L49.4,72.3 L49.0,71.4 L48.6,70.5 L48.2,69.7 L47.7,68.9 L47.1,68.2 L46.6,67.5 L46.1,67.0 L45.7,66.5 L45.5,66.1Z" fill="#f4f1ec" stroke="#4d4742" stroke-width="0.65"/><path d="M46.1,69.1 L46.4,69.9 L46.7,70.9 L47.1,72.1 L47.5,73.3 L47.9,74.6 L48.1,75.7 L48.3,76.8 L48.5,77.9 L48.6,78.9 L48.6,79.9 L48.7,80.7 L48.7,81.3" fill="none" stroke="#4d4742" stroke-width="0.45" stroke-linecap="round"/><path d="M44.8,76.8 L44.6,77.3 L44.2,77.9 L43.8,78.6 L43.3,79.4 L42.8,80.2 L42.4,81.2 L42.0,82.1 L41.6,83.1 L41.3,84.1 L41.0,85.2 L40.7,86.3 L40.5,87.5 L40.3,88.7 L40.2,89.8 L40.1,91.0 L40.1,92.0 L40.1,93.0 L40.2,94.1 L40.4,95.1 L40.6,96.0 L40.8,96.8 L41.1,97.5 L41.3,98.2 L41.3,98.6 L42.3,98.6 L42.2,98.1 L42.3,97.4 L42.4,96.6 L42.4,95.8 L42.5,94.9 L42.6,94.0 L42.7,93.1 L42.8,92.2 L42.9,91.3 L43.1,90.2 L43.3,89.2 L43.5,88.1 L43.7,86.9 L43.9,85.8 L44.1,84.8 L44.3,83.8 L44.4,82.9 L44.6,81.9 L44.8,80.9 L45.0,80.0 L45.2,79.1 L45.3,78.3 L45.5,77.6 L45.6,77.1Z" fill="#f4f1ec" stroke="#4d4742" stroke-width="0.65"/><path d="M44.1,80.2 L43.8,81.1 L43.5,82.2 L43.2,83.6 L42.8,85.1 L42.4,86.5 L42.2,87.8 L42.0,89.0 L41.9,90.3 L41.8,91.5 L41.7,92.6 L41.7,93.6 L41.6,94.3" fill="none" stroke="#4d4742" stroke-width="0.45" stroke-linecap="round"/><path d="M44.9,87.9 L45.1,88.4 L45.3,89.2 L45.4,90.1 L45.6,91.1 L45.9,92.1 L46.1,93.2 L46.3,94.2 L46.5,95.2 L46.7,96.3 L47.0,97.4 L47.2,98.6 L47.4,99.9 L47.7,101.1 L47.9,102.2 L48.1,103.3 L48.3,104.3 L48.5,105.3 L48.6,106.3 L48.7,107.3 L48.8,108.2 L48.9,109.2 L49.0,110.0 L49.0,110.7 L49.0,111.3 L50.2,111.4 L50.2,110.8 L50.5,110.2 L50.8,109.4 L51.1,108.5 L51.4,107.5 L51.6,106.4 L51.7,105.2 L51.8,104.1 L51.8,102.9 L51.6,101.7 L51.5,100.4 L51.2,99.1 L50.9,97.8 L50.6,96.6 L50.3,95.4 L49.9,94.3 L49.5,93.2 L48.9,92.1 L48.4,91.1 L47.8,90.1 L47.2,89.3 L46.7,88.6 L46.2,87.9 L46.0,87.4Z" fill="#f4f1ec" stroke="#4d4742" stroke-width="0.65"/><path d="M46.8,91.2 L47.1,92.1 L47.5,93.4 L47.9,94.9 L48.4,96.5 L48.8,98.1 L49.1,99.5 L49.3,100.8 L49.5,102.2 L49.6,103.5 L49.7,104.8 L49.8,105.8 L49.8,106.6" fill="none" stroke="#4d4742" stroke-width="0.45" stroke-linecap="round"/><path d="M56.4,27.0 L56.3,31.1 L56.1,36.7 L55.9,43.3 L55.6,50.6 L55.2,57.9 L54.7,65.0 L54.1,72.4 L53.2,80.6 L52.3,88.9 L51.3,96.7 L50.5,103.3 L50.0,108.0" fill="none" stroke="#4d4742" stroke-width="0.8" stroke-linecap="round"/><path d="M56.4,29.0 L56.4,17.0 M56.4,27.0 L50.1,24.0 M56.4,27.0 L62.7,24.0 M56.4,24.6 L51.2,21.2 M56.4,24.6 L61.6,21.2 M56.4,22.2 L52.3,18.7 M56.4,22.2 L60.5,18.7 M56.4,19.8 L53.4,16.3 M56.4,19.8 L59.4,16.3 M56.4,17.4 L54.3,14.2 M56.4,17.4 L58.5,14.2" stroke="#4d4742" stroke-width="0.55" fill="none" stroke-linecap="round" opacity="0.85"/><path d="M55.1,36.6 L54.9,37.2 L54.5,38.0 L54.0,39.0 L53.5,40.0 L52.9,41.2 L52.5,42.5 L52.0,43.8 L51.6,45.1 L51.3,46.5 L51.0,47.9 L50.7,49.4 L50.4,51.0 L50.2,52.6 L50.1,54.1 L50.0,55.6 L49.9,57.0 L50.0,58.3 L50.1,59.7 L50.3,61.0 L50.5,62.2 L50.8,63.3 L51.1,64.3 L51.3,65.2 L51.4,65.8 L52.4,65.7 L52.4,65.1 L52.5,64.2 L52.6,63.2 L52.7,62.1 L52.7,60.9 L52.8,59.6 L52.9,58.4 L53.1,57.1 L53.2,55.9 L53.4,54.5 L53.6,53.0 L53.9,51.5 L54.1,50.0 L54.3,48.5 L54.5,47.1 L54.7,45.8 L54.9,44.5 L55.1,43.2 L55.3,41.9 L55.5,40.7 L55.7,39.5 L55.8,38.4 L55.9,37.5 L56.1,36.9Z" fill="#f4f1ec" stroke="#4d4742" stroke-width="0.65"/><path d="M54.4,41.1 L54.1,42.2 L53.8,43.8 L53.4,45.6 L53.0,47.6 L52.6,49.5 L52.3,51.2 L52.1,52.9 L52.0,54.6 L51.9,56.2 L51.8,57.8 L51.7,59.0 L51.7,60.0" fill="none" stroke="#4d4742" stroke-width="0.45" stroke-linecap="round"/><path d="M54.0,49.5 L54.3,50.0 L54.4,50.8 L54.5,51.7 L54.7,52.7 L54.9,53.7 L55.1,54.7 L55.3,55.8 L55.5,56.8 L55.7,57.8 L55.9,59.0 L56.1,60.1 L56.3,61.3 L56.6,62.5 L56.8,63.7 L57.0,64.8 L57.2,65.7 L57.3,66.7 L57.5,67.6 L57.6,68.6 L57.7,69.6 L57.8,70.5 L57.9,71.3 L58.0,72.0 L58.0,72.6 L59.2,72.7 L59.3,72.2 L59.5,71.5 L59.9,70.7 L60.2,69.8 L60.5,68.8 L60.7,67.7 L60.8,66.6 L60.9,65.5 L60.9,64.3 L60.8,63.1 L60.6,61.8 L60.4,60.6 L60.1,59.3 L59.8,58.0 L59.5,56.9 L59.1,55.8 L58.6,54.7 L58.1,53.7 L57.6,52.6 L57.0,51.7 L56.4,50.9 L55.9,50.2 L55.4,49.6 L55.2,49.0Z" fill="#f4f1ec" stroke="#4d4742" stroke-width="0.65"/><path d="M56.0,52.8 L56.2,53.7 L56.6,54.9 L57.0,56.4 L57.5,58.0 L57.9,59.6 L58.2,60.9 L58.4,62.3 L58.5,63.6 L58.6,65.0 L58.7,66.2 L58.8,67.2 L58.8,67.9" fill="none" stroke="#4d4742" stroke-width="0.45" stroke-linecap="round"/><path d="M53.2,61.6 L53.0,62.0 L52.6,62.5 L52.1,63.1 L51.5,63.8 L51.0,64.5 L50.4,65.4 L49.9,66.2 L49.5,67.1 L49.1,68.0 L48.8,69.0 L48.5,70.0 L48.2,71.0 L48.0,72.1 L47.8,73.1 L47.6,74.1 L47.6,75.1 L47.6,76.1 L47.7,77.0 L47.9,77.9 L48.2,78.7 L48.4,79.5 L48.7,80.1 L48.9,80.6 L49.0,81.1 L50.0,80.9 L49.9,80.5 L49.9,79.9 L50.0,79.2 L50.1,78.5 L50.1,77.7 L50.2,76.9 L50.3,76.1 L50.4,75.4 L50.6,74.6 L50.8,73.7 L51.0,72.8 L51.3,71.8 L51.5,70.8 L51.8,69.8 L52.0,68.9 L52.2,68.1 L52.4,67.2 L52.7,66.4 L53.0,65.5 L53.2,64.7 L53.5,63.9 L53.7,63.1 L53.9,62.5 L54.1,62.1Z" fill="#f4f1ec" stroke="#4d4742" stroke-width="0.65"/><path d="M52.3,64.7 L52.0,65.4 L51.6,66.5 L51.1,67.7 L50.7,69.0 L50.3,70.3 L49.9,71.4 L49.7,72.5 L49.6,73.6 L49.4,74.7 L49.4,75.7 L49.3,76.6 L49.2,77.2" fill="none" stroke="#4d4742" stroke-width="0.45" stroke-linecap="round"/><path d="M52.1,74.5 L52.2,75.2 L52.3,76.0 L52.3,77.1 L52.3,78.3 L52.4,79.5 L52.5,80.9 L52.6,82.2 L52.7,83.5 L52.8,84.8 L52.9,86.3 L53.0,87.8 L53.1,89.3 L53.3,90.9 L53.4,92.4 L53.6,93.8 L53.7,95.2 L53.8,96.4 L53.9,97.7 L54.0,99.0 L54.2,100.2 L54.3,101.4 L54.4,102.4 L54.5,103.3 L54.5,103.9 L55.6,104.0 L55.6,103.3 L55.8,102.5 L56.1,101.5 L56.3,100.3 L56.5,99.1 L56.7,97.8 L56.8,96.4 L56.9,95.0 L56.9,93.6 L56.9,92.2 L56.8,90.6 L56.6,89.0 L56.5,87.4 L56.3,85.9 L56.1,84.4 L55.8,83.1 L55.5,81.7 L55.2,80.4 L54.8,79.1 L54.4,77.9 L54.0,76.8 L53.6,75.8 L53.3,74.9 L53.2,74.3Z" fill="#f4f1ec" stroke="#4d4742" stroke-width="0.65"/><path d="M53.5,78.8 L53.6,80.0 L53.8,81.6 L54.1,83.4 L54.4,85.5 L54.6,87.4 L54.8,89.2 L54.9,90.8 L55.0,92.6 L55.1,94.3 L55.1,95.8 L55.1,97.1 L55.2,98.1" fill="none" stroke="#4d4742" stroke-width="0.45" stroke-linecap="round"/><path d="M51.1,86.7 L51.0,87.2 L50.6,87.8 L50.1,88.5 L49.6,89.2 L49.1,90.1 L48.6,91.0 L48.1,92.0 L47.8,93.0 L47.4,94.0 L47.1,95.1 L46.9,96.2 L46.6,97.4 L46.4,98.6 L46.3,99.8 L46.2,100.9 L46.2,102.0 L46.2,103.0 L46.3,104.0 L46.5,105.0 L46.8,106.0 L47.1,106.8 L47.4,107.5 L47.6,108.1 L47.6,108.6 L48.7,108.5 L48.7,108.0 L48.8,107.4 L48.9,106.6 L49.0,105.7 L49.1,104.9 L49.2,103.9 L49.3,103.1 L49.4,102.2 L49.6,101.3 L49.8,100.3 L50.0,99.2 L50.2,98.1 L50.4,97.0 L50.6,95.9 L50.8,94.8 L50.9,93.8 L51.1,92.9 L51.3,92.0 L51.5,91.0 L51.6,90.0 L51.8,89.1 L51.9,88.3 L52.0,87.6 L52.2,87.1Z" fill="#f4f1ec" stroke="#4d4742" stroke-width="0.65"/><path d="M50.5,90.2 L50.3,91.0 L49.9,92.2 L49.6,93.6 L49.2,95.0 L48.8,96.5 L48.6,97.7 L48.4,99.0 L48.2,100.2 L48.1,101.5 L48.1,102.6 L48.0,103.5 L48.0,104.2" fill="none" stroke="#4d4742" stroke-width="0.45" stroke-linecap="round"/><path d="M67.1,33.0 L66.3,36.9 L65.2,42.1 L64.0,48.4 L62.6,55.3 L61.3,62.3 L60.1,69.0 L59.0,76.0 L57.8,83.8 L56.6,91.8 L55.5,99.2 L54.7,105.5 L54.0,110.0" fill="none" stroke="#4d4742" stroke-width="0.8" stroke-linecap="round"/><path d="M67.1,35.0 L67.1,23.0 M67.1,33.0 L60.8,30.0 M67.1,33.0 L73.4,30.0 M67.1,30.6 L61.9,27.2 M67.1,30.6 L72.3,27.2 M67.1,28.2 L63.0,24.7 M67.1,28.2 L71.2,24.7 M67.1,25.8 L64.1,22.3 M67.1,25.8 L70.1,22.3 M67.1,23.4 L65.0,20.2 M67.1,23.4 L69.2,20.2" stroke="#4d4742" stroke-width="0.55" fill="none" stroke-linecap="round" opacity="0.85"/><path d="M65.0,42.1 L64.8,42.7 L64.5,43.3 L64.0,44.1 L63.6,45.1 L63.2,46.1 L62.7,47.2 L62.4,48.3 L62.0,49.5 L61.8,50.6 L61.5,51.9 L61.3,53.2 L61.1,54.5 L61.0,55.9 L60.9,57.2 L60.8,58.5 L60.8,59.7 L60.9,60.8 L61.0,62.0 L61.2,63.1 L61.4,64.2 L61.7,65.2 L62.0,66.0 L62.2,66.7 L62.2,67.3 L63.4,67.2 L63.3,66.7 L63.4,65.9 L63.6,65.0 L63.7,64.1 L63.8,63.0 L63.9,62.0 L64.0,60.9 L64.1,59.8 L64.3,58.7 L64.5,57.5 L64.6,56.3 L64.8,55.0 L64.9,53.7 L65.1,52.4 L65.2,51.2 L65.3,50.0 L65.5,49.0 L65.6,47.8 L65.7,46.7 L65.8,45.7 L65.9,44.6 L65.9,43.7 L65.9,42.9 L66.1,42.4Z" fill="#f4f1ec" stroke="#4d4742" stroke-width="0.65"/><path d="M64.6,46.0 L64.4,47.0 L64.2,48.3 L63.9,49.9 L63.6,51.6 L63.3,53.3 L63.1,54.8 L62.9,56.2 L62.8,57.6 L62.8,59.1 L62.7,60.4 L62.7,61.5 L62.6,62.3" fill="none" stroke="#4d4742" stroke-width="0.45" stroke-linecap="round"/><path d="M63.3,52.0 L63.5,52.6 L63.7,53.4 L63.8,54.4 L64.0,55.5 L64.3,56.7 L64.5,57.8 L64.7,59.0 L64.9,60.1 L65.1,61.3 L65.4,62.6 L65.6,63.9 L65.9,65.3 L66.1,66.6 L66.3,67.9 L66.6,69.1 L66.8,70.2 L66.9,71.3 L67.0,72.4 L67.1,73.5 L67.2,74.6 L67.3,75.6 L67.5,76.5 L67.6,77.3 L67.5,77.9 L68.8,78.0 L68.8,77.4 L69.1,76.7 L69.4,75.8 L69.8,74.8 L70.0,73.7 L70.3,72.5 L70.4,71.2 L70.5,70.0 L70.4,68.7 L70.3,67.3 L70.1,65.9 L69.9,64.5 L69.6,63.1 L69.3,61.7 L68.9,60.4 L68.5,59.2 L68.1,58.0 L67.6,56.8 L67.0,55.7 L66.4,54.6 L65.8,53.7 L65.2,52.8 L64.7,52.1 L64.5,51.6Z" fill="#f4f1ec" stroke="#4d4742" stroke-width="0.65"/><path d="M65.3,55.7 L65.6,56.7 L66.0,58.1 L66.5,59.8 L66.9,61.6 L67.3,63.3 L67.7,64.9 L67.9,66.4 L68.1,67.9 L68.2,69.4 L68.3,70.7 L68.3,71.9 L68.4,72.7" fill="none" stroke="#4d4742" stroke-width="0.45" stroke-linecap="round"/><path d="M61.7,61.2 L61.5,61.8 L61.1,62.6 L60.5,63.6 L59.9,64.7 L59.3,65.9 L58.8,67.2 L58.3,68.6 L57.9,69.9 L57.5,71.3 L57.1,72.8 L56.8,74.4 L56.5,76.0 L56.3,77.6 L56.1,79.2 L56.0,80.7 L56.0,82.2 L56.0,83.6 L56.2,85.0 L56.4,86.3 L56.7,87.6 L57.0,88.7 L57.3,89.8 L57.5,90.6 L57.6,91.3 L58.8,91.2 L58.7,90.5 L58.8,89.6 L58.9,88.6 L59.0,87.4 L59.1,86.2 L59.2,84.9 L59.3,83.6 L59.4,82.4 L59.6,81.1 L59.8,79.6 L60.1,78.1 L60.3,76.6 L60.5,75.0 L60.8,73.5 L61.0,72.0 L61.2,70.7 L61.4,69.4 L61.7,68.1 L61.9,66.7 L62.1,65.4 L62.3,64.2 L62.5,63.1 L62.6,62.2 L62.8,61.5Z" fill="#f4f1ec" stroke="#4d4742" stroke-width="0.65"/><path d="M60.9,65.8 L60.6,67.0 L60.3,68.6 L59.8,70.5 L59.4,72.5 L58.9,74.5 L58.6,76.3 L58.4,78.0 L58.3,79.7 L58.1,81.4 L58.1,83.0 L58.0,84.3 L57.9,85.2" fill="none" stroke="#4d4742" stroke-width="0.45" stroke-linecap="round"/><path d="M60.0,71.0 L60.1,71.6 L60.1,72.5 L60.1,73.5 L60.1,74.7 L60.1,75.9 L60.2,77.1 L60.2,78.4 L60.3,79.6 L60.4,80.9 L60.4,82.3 L60.6,83.8 L60.7,85.2 L60.8,86.7 L61.0,88.2 L61.1,89.5 L61.3,90.8 L61.4,92.0 L61.5,93.2 L61.7,94.4 L61.8,95.6 L62.0,96.7 L62.2,97.7 L62.3,98.5 L62.3,99.2 L63.5,99.2 L63.6,98.6 L63.8,97.8 L64.1,96.8 L64.4,95.7 L64.6,94.5 L64.8,93.3 L64.9,92.0 L65.0,90.6 L65.0,89.3 L65.0,87.9 L64.9,86.4 L64.8,84.9 L64.7,83.3 L64.5,81.9 L64.3,80.5 L64.0,79.1 L63.7,77.9 L63.4,76.6 L63.0,75.4 L62.6,74.2 L62.2,73.1 L61.7,72.2 L61.4,71.4 L61.3,70.8Z" fill="#f4f1ec" stroke="#4d4742" stroke-width="0.65"/><path d="M61.4,75.1 L61.5,76.2 L61.8,77.8 L62.0,79.6 L62.2,81.5 L62.5,83.4 L62.6,85.0 L62.8,86.6 L62.8,88.3 L62.9,89.9 L63.0,91.4 L63.0,92.6 L63.0,93.5" fill="none" stroke="#4d4742" stroke-width="0.45" stroke-linecap="round"/><path d="M58.5,80.2 L58.3,80.8 L57.8,81.4 L57.2,82.2 L56.6,83.1 L56.0,84.1 L55.5,85.2 L55.0,86.3 L54.5,87.4 L54.1,88.6 L53.8,89.8 L53.4,91.1 L53.2,92.5 L52.9,93.8 L52.7,95.2 L52.6,96.5 L52.6,97.7 L52.6,98.9 L52.8,100.1 L53.0,101.2 L53.3,102.3 L53.6,103.2 L53.9,104.1 L54.1,104.8 L54.2,105.3 L55.4,105.2 L55.3,104.6 L55.4,103.9 L55.5,103.0 L55.6,102.0 L55.7,101.0 L55.8,100.0 L55.9,98.9 L56.1,97.9 L56.2,96.9 L56.5,95.7 L56.7,94.5 L56.9,93.2 L57.2,91.9 L57.4,90.7 L57.7,89.5 L57.9,88.3 L58.1,87.3 L58.3,86.2 L58.6,85.1 L58.8,84.0 L59.0,83.0 L59.2,82.0 L59.4,81.2 L59.6,80.7Z" fill="#f4f1ec" stroke="#4d4742" stroke-width="0.65"/><path d="M57.6,84.2 L57.3,85.1 L56.9,86.5 L56.5,88.0 L56.0,89.7 L55.6,91.4 L55.3,92.8 L55.0,94.2 L54.9,95.7 L54.8,97.1 L54.7,98.4 L54.6,99.5 L54.6,100.3" fill="none" stroke="#4d4742" stroke-width="0.45" stroke-linecap="round"/><path d="M56.8,90.1 L57.0,90.7 L57.0,91.6 L57.0,92.6 L57.0,93.7 L57.1,94.9 L57.2,96.1 L57.3,97.4 L57.3,98.6 L57.4,99.9 L57.5,101.2 L57.7,102.7 L57.8,104.1 L57.9,105.6 L58.1,107.0 L58.2,108.4 L58.4,109.6 L58.5,110.8 L58.6,112.0 L58.7,113.2 L58.8,114.4 L59.0,115.5 L59.1,116.5 L59.2,117.3 L59.2,117.9 L60.3,118.0 L60.4,117.4 L60.6,116.6 L60.9,115.6 L61.1,114.5 L61.3,113.3 L61.5,112.1 L61.6,110.8 L61.7,109.5 L61.7,108.2 L61.7,106.8 L61.6,105.3 L61.5,103.8 L61.3,102.3 L61.1,100.8 L60.9,99.4 L60.6,98.1 L60.4,96.9 L60.0,95.6 L59.6,94.4 L59.2,93.3 L58.8,92.2 L58.4,91.3 L58.1,90.5 L58.0,89.9Z" fill="#f4f1ec" stroke="#4d4742" stroke-width="0.65"/><path d="M58.2,94.2 L58.3,95.3 L58.6,96.8 L58.8,98.5 L59.1,100.4 L59.3,102.3 L59.5,104.0 L59.6,105.5 L59.7,107.2 L59.8,108.8 L59.8,110.2 L59.9,111.5 L59.9,112.4" fill="none" stroke="#4d4742" stroke-width="0.45" stroke-linecap="round"/><path d="M23.8,45.8 L23.2,46.5 L22.1,47.1 L20.9,47.9 L19.7,48.9 L18.4,50.0 L17.1,51.3 L15.8,52.7 L14.7,54.2 L13.8,55.9 L12.8,57.8 L11.9,59.9 L11.0,62.1 L10.3,64.2 L9.7,66.1 L9.3,67.8 L8.7,68.9 L9.3,69.1 L9.8,68.0 L10.8,66.6 L11.8,64.9 L13.0,63.0 L14.1,61.1 L15.2,59.1 L16.3,57.3 L17.3,55.8 L18.2,54.5 L19.2,53.1 L20.2,51.7 L21.2,50.4 L22.1,49.1 L22.9,47.9 L23.6,46.9 L24.2,46.2Z" fill="#f4f1ec" stroke="#4d4742" stroke-width="0.65"/><path d="M67.8,38.1 L68.1,38.9 L68.4,40.0 L68.8,41.3 L69.3,42.7 L69.9,44.2 L70.5,45.7 L71.1,47.1 L71.6,48.5 L72.2,50.0 L72.8,51.7 L73.4,53.6 L74.1,55.4 L74.8,57.2 L75.5,58.7 L76.1,60.1 L76.4,61.1 L77.0,60.9 L76.7,59.9 L76.6,58.5 L76.4,56.7 L76.2,54.9 L75.8,52.9 L75.4,50.9 L74.9,49.1 L74.4,47.5 L73.8,46.0 L73.0,44.5 L72.1,43.0 L71.2,41.7 L70.3,40.5 L69.4,39.5 L68.7,38.6 L68.2,37.9Z" fill="#f4f1ec" stroke="#4d4742" stroke-width="0.65"/><clipPath id="ec1"><path d="M98.5,11.0 C101.5,23.0 108.0,49.0 108.0,106.0 C108.0,114.0 89.0,114.0 89.0,106.0 C89.0,49.0 95.5,23.0 98.5,11.0 Z"/></clipPath><path d="M98.5,11.0 C101.5,23.0 108.0,49.0 108.0,106.0 C108.0,114.0 89.0,114.0 89.0,106.0 C89.0,49.0 95.5,23.0 98.5,11.0 Z" fill="#ece7e0"/><g clip-path="url(#ec1)"><path d="M98.5,19.0 Q84.5,23.8 96.5,30.5 L86.5,30.5 L86.5,19.0 Z" fill="#a39d95" opacity="0.75"/><path d="M87.0,29.5 Q101.5,24.5 110.0,27.5" fill="none" stroke="#4d4742" stroke-width="0.8"/><path d="M98.5,19.0 Q89.5,23.8 96.5,29.5" fill="none" stroke="#4d4742" stroke-width="0.6"/><path d="M98.5,28.5 Q112.5,33.2 100.5,40.0 L110.5,40.0 L110.5,28.5 Z" fill="#a39d95" opacity="0.75"/><path d="M87.0,39.0 Q95.5,34.0 110.0,37.0" fill="none" stroke="#4d4742" stroke-width="0.8"/><path d="M98.5,28.5 Q107.5,33.2 100.5,39.0" fill="none" stroke="#4d4742" stroke-width="0.6"/><path d="M98.5,38.0 Q84.5,42.8 96.5,49.5 L86.5,49.5 L86.5,38.0 Z" fill="#a39d95" opacity="0.75"/><path d="M87.0,48.5 Q101.5,43.5 110.0,46.5" fill="none" stroke="#4d4742" stroke-width="0.8"/><path d="M98.5,38.0 Q89.5,42.8 96.5,48.5" fill="none" stroke="#4d4742" stroke-width="0.6"/><path d="M98.5,47.5 Q112.5,52.2 100.5,59.0 L110.5,59.0 L110.5,47.5 Z" fill="#a39d95" opacity="0.75"/><path d="M87.0,58.0 Q95.5,53.0 110.0,56.0" fill="none" stroke="#4d4742" stroke-width="0.8"/><path d="M98.5,47.5 Q107.5,52.2 100.5,58.0" fill="none" stroke="#4d4742" stroke-width="0.6"/><path d="M98.5,57.0 Q84.5,61.8 96.5,68.5 L86.5,68.5 L86.5,57.0 Z" fill="#a39d95" opacity="0.75"/><path d="M87.0,67.5 Q101.5,62.5 110.0,65.5" fill="none" stroke="#4d4742" stroke-width="0.8"/><path d="M98.5,57.0 Q89.5,61.8 96.5,67.5" fill="none" stroke="#4d4742" stroke-width="0.6"/><path d="M98.5,66.5 Q112.5,71.2 100.5,78.0 L110.5,78.0 L110.5,66.5 Z" fill="#a39d95" opacity="0.75"/><path d="M87.0,77.0 Q95.5,72.0 110.0,75.0" fill="none" stroke="#4d4742" stroke-width="0.8"/><path d="M98.5,66.5 Q107.5,71.2 100.5,77.0" fill="none" stroke="#4d4742" stroke-width="0.6"/><path d="M98.5,76.0 Q84.5,80.8 96.5,87.5 L86.5,87.5 L86.5,76.0 Z" fill="#a39d95" opacity="0.75"/><path d="M87.0,86.5 Q101.5,81.5 110.0,84.5" fill="none" stroke="#4d4742" stroke-width="0.8"/><path d="M98.5,76.0 Q89.5,80.8 96.5,86.5" fill="none" stroke="#4d4742" stroke-width="0.6"/><path d="M98.5,85.5 Q112.5,90.2 100.5,97.0 L110.5,97.0 L110.5,85.5 Z" fill="#a39d95" opacity="0.75"/><path d="M87.0,96.0 Q95.5,91.0 110.0,94.0" fill="none" stroke="#4d4742" stroke-width="0.8"/><path d="M98.5,85.5 Q107.5,90.2 100.5,96.0" fill="none" stroke="#4d4742" stroke-width="0.6"/><path d="M98.5,95.0 Q84.5,99.8 96.5,106.5 L86.5,106.5 L86.5,95.0 Z" fill="#a39d95" opacity="0.75"/><path d="M87.0,105.5 Q101.5,100.5 110.0,103.5" fill="none" stroke="#4d4742" stroke-width="0.8"/><path d="M98.5,95.0 Q89.5,99.8 96.5,105.5" fill="none" stroke="#4d4742" stroke-width="0.6"/><path d="M98.5,104.5 Q112.5,109.2 100.5,116.0 L110.5,116.0 L110.5,104.5 Z" fill="#a39d95" opacity="0.75"/><path d="M87.0,115.0 Q95.5,110.0 110.0,113.0" fill="none" stroke="#4d4742" stroke-width="0.8"/><path d="M98.5,104.5 Q107.5,109.2 100.5,115.0" fill="none" stroke="#4d4742" stroke-width="0.6"/></g><path d="M98.5,11.0 C101.5,23.0 108.0,49.0 108.0,106.0 C108.0,114.0 89.0,114.0 89.0,106.0 C89.0,49.0 95.5,23.0 98.5,11.0 Z" fill="none" stroke="#4d4742" stroke-width="0.9"/></svg>
<div class="cn" style="left:2088.42px">Teosinte</div>
<div class="sp" style="left:2088.42px;top:105.5px">(<i>Zea mays</i><br><i>mexicana</i>)</div>
<svg class="im" style="left:2096.42px" width="120" height="124" viewBox="0 0 120 124"><path d="M33.0,19.0 L33.4,23.6 L34.1,29.8 L34.8,37.3 L35.6,45.4 L36.3,53.6 L37.0,61.5 L37.6,69.7 L38.2,78.7 L38.7,87.9 L39.3,96.5 L39.7,103.8 L40.0,109.0" fill="none" stroke="#3f3a35" stroke-width="0.8" stroke-linecap="round"/><path d="M33.0,21.0 L33.0,9.0 M33.0,19.0 L26.7,16.0 M33.0,19.0 L39.3,16.0 M33.0,16.6 L27.8,13.2 M33.0,16.6 L38.2,13.2 M33.0,14.2 L28.9,10.7 M33.0,14.2 L37.1,10.7 M33.0,11.8 L30.0,8.3 M33.0,11.8 L36.0,8.3 M33.0,9.4 L30.9,6.2 M33.0,9.4 L35.1,6.2" stroke="#3f3a35" stroke-width="0.55" fill="none" stroke-linecap="round" opacity="0.85"/><path d="M33.2,29.6 L33.0,30.2 L32.6,31.0 L32.0,31.8 L31.5,32.8 L30.9,34.0 L30.4,35.2 L29.9,36.4 L29.5,37.7 L29.1,38.9 L28.8,40.3 L28.5,41.8 L28.2,43.2 L28.0,44.7 L27.9,46.2 L27.8,47.6 L27.8,49.0 L27.8,50.3 L28.0,51.6 L28.2,52.8 L28.5,54.0 L28.8,55.1 L29.1,56.0 L29.4,56.8 L29.4,57.4 L30.7,57.3 L30.6,56.7 L30.7,55.8 L30.9,54.9 L31.0,53.8 L31.1,52.7 L31.2,51.5 L31.3,50.3 L31.5,49.2 L31.7,48.0 L31.9,46.7 L32.1,45.3 L32.3,43.9 L32.5,42.5 L32.8,41.1 L33.0,39.7 L33.1,38.5 L33.3,37.3 L33.5,36.1 L33.7,34.8 L33.9,33.6 L34.0,32.5 L34.1,31.5 L34.2,30.6 L34.4,30.0Z" fill="#f4f1ec" stroke="#3f3a35" stroke-width="0.65"/><path d="M32.6,33.9 L32.3,35.0 L32.0,36.5 L31.6,38.2 L31.1,40.1 L30.8,41.9 L30.5,43.6 L30.3,45.1 L30.1,46.7 L30.0,48.3 L29.9,49.7 L29.9,51.0 L29.8,51.8" fill="none" stroke="#3f3a35" stroke-width="0.45" stroke-linecap="round"/><path d="M34.3,41.1 L34.5,41.8 L34.6,42.6 L34.8,43.7 L35.0,44.9 L35.2,46.1 L35.5,47.4 L35.7,48.7 L35.9,50.0 L36.1,51.3 L36.3,52.7 L36.5,54.2 L36.8,55.7 L37.0,57.2 L37.2,58.7 L37.4,60.1 L37.6,61.4 L37.7,62.6 L37.8,63.9 L37.8,65.1 L37.9,66.3 L38.0,67.5 L38.0,68.5 L38.1,69.3 L38.0,70.0 L39.0,70.1 L39.0,69.4 L39.2,68.6 L39.5,67.6 L39.8,66.5 L40.0,65.2 L40.2,63.9 L40.3,62.6 L40.3,61.2 L40.3,59.8 L40.1,58.4 L40.0,56.8 L39.8,55.3 L39.5,53.7 L39.2,52.2 L38.9,50.7 L38.6,49.4 L38.2,48.1 L37.8,46.8 L37.3,45.5 L36.8,44.3 L36.2,43.2 L35.7,42.3 L35.4,41.5 L35.2,40.8Z" fill="#f4f1ec" stroke="#3f3a35" stroke-width="0.65"/><path d="M36.0,45.3 L36.2,46.4 L36.6,48.0 L37.0,49.9 L37.4,51.8 L37.8,53.8 L38.1,55.5 L38.3,57.1 L38.4,58.8 L38.5,60.5 L38.6,62.0 L38.7,63.3 L38.7,64.2" fill="none" stroke="#3f3a35" stroke-width="0.45" stroke-linecap="round"/><path d="M35.0,52.0 L34.8,52.6 L34.5,53.4 L34.0,54.4 L33.5,55.5 L33.0,56.7 L32.6,58.0 L32.2,59.3 L31.9,60.6 L31.6,62.0 L31.3,63.5 L31.0,65.0 L30.8,66.6 L30.7,68.1 L30.5,69.7 L30.5,71.2 L30.5,72.6 L30.5,73.9 L30.7,75.3 L30.9,76.6 L31.1,77.8 L31.4,79.0 L31.7,80.0 L31.9,80.8 L31.9,81.5 L33.1,81.4 L33.1,80.7 L33.1,79.9 L33.3,78.8 L33.4,77.7 L33.5,76.5 L33.6,75.2 L33.7,74.0 L33.9,72.7 L34.0,71.4 L34.2,70.0 L34.4,68.5 L34.6,67.0 L34.8,65.5 L34.9,64.0 L35.1,62.5 L35.2,61.2 L35.4,59.9 L35.5,58.6 L35.6,57.3 L35.8,56.1 L35.9,54.9 L35.9,53.8 L36.0,52.9 L36.1,52.3Z" fill="#f4f1ec" stroke="#3f3a35" stroke-width="0.65"/><path d="M34.6,56.5 L34.4,57.7 L34.1,59.2 L33.7,61.1 L33.4,63.1 L33.1,65.0 L32.9,66.8 L32.7,68.4 L32.6,70.1 L32.5,71.8 L32.4,73.4 L32.4,74.6 L32.3,75.6" fill="none" stroke="#3f3a35" stroke-width="0.45" stroke-linecap="round"/><path d="M36.0,63.5 L36.2,64.0 L36.4,64.6 L36.5,65.4 L36.8,66.2 L37.0,67.1 L37.3,67.9 L37.5,68.8 L37.7,69.6 L38.0,70.5 L38.2,71.4 L38.4,72.4 L38.7,73.4 L38.9,74.4 L39.2,75.3 L39.4,76.2 L39.5,77.0 L39.7,77.7 L39.8,78.5 L39.9,79.3 L39.9,80.1 L40.0,80.8 L40.1,81.5 L40.2,82.1 L40.1,82.6 L41.2,82.7 L41.3,82.3 L41.5,81.7 L41.8,81.1 L42.1,80.4 L42.4,79.5 L42.6,78.6 L42.7,77.7 L42.8,76.7 L42.7,75.7 L42.6,74.7 L42.4,73.6 L42.1,72.5 L41.9,71.5 L41.5,70.4 L41.2,69.5 L40.8,68.5 L40.3,67.7 L39.8,66.8 L39.3,66.0 L38.7,65.2 L38.1,64.5 L37.6,63.9 L37.2,63.5 L36.9,63.0Z" fill="#f4f1ec" stroke="#3f3a35" stroke-width="0.65"/><path d="M37.9,66.2 L38.1,66.9 L38.5,68.0 L39.0,69.2 L39.5,70.5 L39.9,71.8 L40.2,73.0 L40.4,74.1 L40.6,75.2 L40.7,76.3 L40.8,77.3 L40.9,78.1 L40.9,78.8" fill="none" stroke="#3f3a35" stroke-width="0.45" stroke-linecap="round"/><path d="M36.8,74.3 L36.6,74.9 L36.3,75.5 L35.9,76.3 L35.5,77.2 L35.0,78.2 L34.7,79.3 L34.3,80.4 L34.0,81.5 L33.8,82.7 L33.5,83.9 L33.3,85.2 L33.2,86.5 L33.0,87.8 L32.9,89.1 L32.9,90.4 L32.9,91.5 L33.0,92.7 L33.1,93.8 L33.3,94.9 L33.5,96.0 L33.8,96.9 L34.1,97.8 L34.2,98.5 L34.3,99.0 L35.4,98.9 L35.4,98.4 L35.5,97.6 L35.6,96.8 L35.8,95.8 L35.9,94.8 L36.0,93.8 L36.1,92.7 L36.2,91.7 L36.4,90.6 L36.5,89.4 L36.7,88.2 L36.8,86.9 L37.0,85.6 L37.1,84.4 L37.2,83.2 L37.3,82.1 L37.4,81.0 L37.5,79.9 L37.6,78.8 L37.7,77.8 L37.7,76.8 L37.7,75.9 L37.7,75.1 L37.9,74.6Z" fill="#f4f1ec" stroke="#3f3a35" stroke-width="0.65"/><path d="M36.5,78.1 L36.3,79.1 L36.1,80.4 L35.8,82.0 L35.6,83.6 L35.3,85.2 L35.1,86.7 L35.0,88.1 L34.9,89.5 L34.8,90.9 L34.8,92.2 L34.7,93.3 L34.7,94.1" fill="none" stroke="#3f3a35" stroke-width="0.45" stroke-linecap="round"/><path d="M37.7,85.7 L37.8,86.2 L37.8,86.8 L37.7,87.6 L37.7,88.4 L37.8,89.3 L37.8,90.2 L37.9,91.1 L37.9,92.0 L38.0,92.9 L38.0,93.9 L38.1,95.0 L38.2,96.1 L38.4,97.1 L38.5,98.2 L38.6,99.2 L38.7,100.1 L38.8,100.9 L38.9,101.8 L39.0,102.7 L39.1,103.6 L39.3,104.4 L39.4,105.1 L39.5,105.7 L39.5,106.2 L40.5,106.2 L40.6,105.8 L40.7,105.2 L41.0,104.5 L41.2,103.7 L41.4,102.8 L41.5,101.9 L41.7,100.9 L41.7,100.0 L41.7,99.0 L41.7,97.9 L41.7,96.8 L41.6,95.7 L41.4,94.6 L41.3,93.5 L41.1,92.5 L40.9,91.6 L40.7,90.6 L40.4,89.7 L40.1,88.8 L39.7,88.0 L39.4,87.2 L39.0,86.5 L38.8,86.0 L38.7,85.5Z" fill="#f4f1ec" stroke="#3f3a35" stroke-width="0.65"/><path d="M38.8,88.7 L38.9,89.5 L39.1,90.6 L39.3,91.9 L39.5,93.3 L39.7,94.7 L39.8,95.9 L39.9,97.1 L40.0,98.3 L40.0,99.4 L40.1,100.5 L40.1,101.4 L40.1,102.1" fill="none" stroke="#3f3a35" stroke-width="0.45" stroke-linecap="round"/><path d="M45.6,21.0 L45.8,25.5 L46.1,31.6 L46.4,38.8 L46.7,46.8 L46.9,54.8 L47.0,62.5 L46.8,70.5 L46.5,79.4 L46.1,88.3 L45.6,96.8 L45.3,103.9 L45.0,109.0" fill="none" stroke="#3f3a35" stroke-width="0.8" stroke-linecap="round"/><path d="M45.6,23.0 L45.6,11.0 M45.6,21.0 L39.3,18.0 M45.6,21.0 L51.9,18.0 M45.6,18.6 L40.4,15.2 M45.6,18.6 L50.8,15.2 M45.6,16.2 L41.5,12.7 M45.6,16.2 L49.7,12.7 M45.6,13.8 L42.6,10.3 M45.6,13.8 L48.6,10.3 M45.6,11.4 L43.5,8.2 M45.6,11.4 L47.7,8.2" stroke="#3f3a35" stroke-width="0.55" fill="none" stroke-linecap="round" opacity="0.85"/><path d="M45.0,31.3 L44.8,31.7 L44.4,32.3 L43.8,32.8 L43.2,33.5 L42.7,34.3 L42.2,35.2 L41.7,36.1 L41.2,37.0 L40.9,37.9 L40.5,38.9 L40.2,40.0 L40.0,41.1 L39.8,42.2 L39.6,43.3 L39.5,44.3 L39.4,45.3 L39.5,46.4 L39.6,47.3 L39.9,48.3 L40.1,49.1 L40.4,49.9 L40.8,50.6 L41.0,51.1 L41.1,51.5 L42.3,51.4 L42.2,51.0 L42.3,50.3 L42.4,49.6 L42.5,48.8 L42.6,48.0 L42.7,47.2 L42.9,46.4 L43.0,45.7 L43.2,44.8 L43.4,43.9 L43.6,43.0 L43.8,41.9 L44.1,40.9 L44.3,39.9 L44.5,39.0 L44.7,38.1 L44.8,37.2 L45.0,36.3 L45.2,35.4 L45.5,34.6 L45.6,33.7 L45.7,32.9 L45.9,32.3 L46.1,31.8Z" fill="#f4f1ec" stroke="#3f3a35" stroke-width="0.65"/><path d="M44.2,34.5 L44.0,35.3 L43.6,36.4 L43.2,37.7 L42.8,39.0 L42.4,40.3 L42.1,41.5 L41.9,42.6 L41.7,43.8 L41.6,44.9 L41.6,46.0 L41.5,46.9 L41.4,47.5" fill="none" stroke="#3f3a35" stroke-width="0.45" stroke-linecap="round"/><path d="M45.0,45.3 L45.1,45.9 L45.1,46.6 L45.1,47.6 L45.1,48.6 L45.2,49.7 L45.3,50.8 L45.4,51.9 L45.5,53.0 L45.6,54.2 L45.7,55.4 L45.8,56.7 L45.9,58.1 L46.0,59.4 L46.2,60.7 L46.3,61.9 L46.4,63.0 L46.5,64.1 L46.6,65.2 L46.7,66.3 L46.8,67.4 L46.9,68.4 L47.1,69.3 L47.1,70.0 L47.1,70.6 L48.1,70.6 L48.1,70.1 L48.3,69.3 L48.5,68.5 L48.8,67.5 L49.0,66.4 L49.1,65.3 L49.2,64.1 L49.3,62.9 L49.3,61.7 L49.2,60.4 L49.2,59.1 L49.0,57.8 L48.9,56.4 L48.7,55.1 L48.5,53.8 L48.3,52.6 L48.0,51.5 L47.7,50.3 L47.4,49.2 L47.1,48.2 L46.7,47.2 L46.3,46.4 L46.0,45.7 L45.9,45.1Z" fill="#f4f1ec" stroke="#3f3a35" stroke-width="0.65"/><path d="M46.2,49.0 L46.3,50.0 L46.5,51.4 L46.7,53.0 L47.0,54.7 L47.2,56.4 L47.4,57.9 L47.5,59.3 L47.6,60.8 L47.6,62.3 L47.7,63.6 L47.7,64.7 L47.7,65.5" fill="none" stroke="#3f3a35" stroke-width="0.45" stroke-linecap="round"/><path d="M44.8,58.8 L44.7,59.4 L44.5,60.2 L44.1,61.2 L43.8,62.2 L43.5,63.4 L43.2,64.7 L42.9,66.0 L42.7,67.2 L42.5,68.5 L42.3,70.0 L42.2,71.4 L42.0,73.0 L41.9,74.5 L41.9,76.0 L41.8,77.4 L41.9,78.7 L41.9,80.0 L42.0,81.3 L42.2,82.6 L42.4,83.8 L42.6,84.9 L42.8,85.9 L43.0,86.7 L43.0,87.3 L44.0,87.3 L44.0,86.6 L44.1,85.8 L44.3,84.8 L44.4,83.7 L44.5,82.5 L44.6,81.3 L44.7,80.0 L44.8,78.8 L44.9,77.5 L45.0,76.1 L45.2,74.7 L45.3,73.2 L45.4,71.7 L45.5,70.2 L45.5,68.8 L45.6,67.5 L45.7,66.3 L45.7,65.0 L45.8,63.8 L45.8,62.5 L45.8,61.4 L45.7,60.4 L45.7,59.6 L45.8,58.9Z" fill="#f4f1ec" stroke="#3f3a35" stroke-width="0.65"/><path d="M44.7,63.1 L44.6,64.2 L44.5,65.7 L44.3,67.6 L44.1,69.5 L43.9,71.4 L43.7,73.1 L43.6,74.7 L43.6,76.3 L43.5,78.0 L43.5,79.4 L43.5,80.7 L43.4,81.6" fill="none" stroke="#3f3a35" stroke-width="0.45" stroke-linecap="round"/><path d="M44.6,72.6 L44.8,73.3 L44.8,74.2 L44.7,75.2 L44.8,76.4 L44.8,77.7 L44.9,79.0 L45.0,80.4 L45.0,81.7 L45.1,83.0 L45.2,84.5 L45.3,86.0 L45.5,87.6 L45.6,89.1 L45.8,90.6 L45.9,92.1 L46.1,93.4 L46.2,94.7 L46.3,96.0 L46.5,97.2 L46.6,98.5 L46.7,99.6 L46.9,100.7 L47.0,101.6 L47.0,102.2 L48.3,102.3 L48.3,101.6 L48.5,100.8 L48.8,99.8 L49.1,98.6 L49.3,97.3 L49.5,96.0 L49.6,94.6 L49.7,93.3 L49.7,91.9 L49.7,90.4 L49.6,88.8 L49.5,87.2 L49.3,85.6 L49.1,84.0 L48.9,82.6 L48.7,81.2 L48.4,79.8 L48.0,78.5 L47.6,77.2 L47.2,76.0 L46.8,74.8 L46.3,73.9 L46.0,73.0 L45.9,72.4Z" fill="#f4f1ec" stroke="#3f3a35" stroke-width="0.65"/><path d="M46.0,76.9 L46.2,78.1 L46.4,79.7 L46.7,81.6 L46.9,83.6 L47.2,85.6 L47.4,87.4 L47.5,89.1 L47.6,90.8 L47.6,92.5 L47.7,94.0 L47.7,95.4 L47.8,96.3" fill="none" stroke="#3f3a35" stroke-width="0.45" stroke-linecap="round"/><path d="M44.6,86.0 L44.5,86.7 L44.1,87.5 L43.7,88.5 L43.3,89.6 L42.9,90.8 L42.5,92.1 L42.1,93.4 L41.8,94.7 L41.5,96.1 L41.3,97.6 L41.1,99.1 L40.9,100.7 L40.8,102.3 L40.7,103.8 L40.6,105.3 L40.6,106.7 L40.7,108.1 L40.8,109.5 L41.0,110.8 L41.2,112.0 L41.5,113.2 L41.8,114.2 L42.0,115.0 L42.0,115.7 L43.1,115.6 L43.1,115.0 L43.2,114.1 L43.4,113.1 L43.5,111.9 L43.6,110.7 L43.7,109.4 L43.8,108.1 L43.9,106.9 L44.1,105.5 L44.2,104.1 L44.4,102.6 L44.6,101.1 L44.7,99.5 L44.8,98.0 L45.0,96.6 L45.1,95.2 L45.2,93.9 L45.3,92.6 L45.4,91.3 L45.5,90.0 L45.5,88.9 L45.5,87.8 L45.6,86.9 L45.7,86.2Z" fill="#f4f1ec" stroke="#3f3a35" stroke-width="0.65"/><path d="M44.3,90.6 L44.1,91.7 L43.9,93.3 L43.6,95.2 L43.3,97.2 L43.1,99.1 L42.9,100.9 L42.7,102.6 L42.6,104.3 L42.6,106.0 L42.5,107.5 L42.5,108.8 L42.4,109.8" fill="none" stroke="#3f3a35" stroke-width="0.45" stroke-linecap="round"/><path d="M57.0,30.0 L56.7,33.9 L56.2,39.3 L55.7,45.7 L55.0,52.6 L54.4,59.7 L53.7,66.5 L53.0,73.6 L52.1,81.5 L51.2,89.5 L50.3,97.1 L49.5,103.4 L49.0,108.0" fill="none" stroke="#3f3a35" stroke-width="0.8" stroke-linecap="round"/><path d="M57.0,32.0 L57.0,20.0 M57.0,30.0 L50.7,27.0 M57.0,30.0 L63.3,27.0 M57.0,27.6 L51.8,24.2 M57.0,27.6 L62.2,24.2 M57.0,25.2 L52.9,21.7 M57.0,25.2 L61.1,21.7 M57.0,22.8 L54.0,19.3 M57.0,22.8 L60.0,19.3 M57.0,20.4 L54.9,17.2 M57.0,20.4 L59.1,17.2" stroke="#3f3a35" stroke-width="0.55" fill="none" stroke-linecap="round" opacity="0.85"/><path d="M55.5,39.2 L55.3,39.9 L55.0,40.7 L54.6,41.7 L54.2,42.8 L53.8,44.0 L53.4,45.3 L53.0,46.6 L52.8,47.9 L52.5,49.3 L52.3,50.7 L52.1,52.3 L51.9,53.8 L51.8,55.4 L51.7,56.9 L51.7,58.4 L51.7,59.8 L51.8,61.2 L51.9,62.5 L52.1,63.8 L52.3,65.0 L52.6,66.2 L52.9,67.2 L53.1,68.0 L53.1,68.7 L54.3,68.6 L54.3,68.0 L54.4,67.1 L54.5,66.1 L54.7,64.9 L54.8,63.7 L54.9,62.4 L55.0,61.2 L55.2,59.9 L55.3,58.6 L55.4,57.2 L55.6,55.7 L55.7,54.2 L55.9,52.6 L56.0,51.1 L56.1,49.7 L56.2,48.4 L56.3,47.1 L56.3,45.8 L56.4,44.5 L56.5,43.2 L56.5,42.1 L56.5,41.0 L56.5,40.1 L56.6,39.5Z" fill="#f4f1ec" stroke="#3f3a35" stroke-width="0.65"/><path d="M55.3,43.8 L55.1,44.9 L54.9,46.5 L54.6,48.3 L54.4,50.3 L54.1,52.3 L53.9,54.0 L53.8,55.7 L53.7,57.4 L53.7,59.0 L53.6,60.6 L53.6,61.9 L53.6,62.8" fill="none" stroke="#3f3a35" stroke-width="0.45" stroke-linecap="round"/><path d="M54.6,49.2 L54.8,49.9 L55.0,50.7 L55.2,51.8 L55.4,53.0 L55.7,54.2 L56.0,55.5 L56.3,56.8 L56.5,58.0 L56.7,59.3 L57.0,60.7 L57.3,62.2 L57.5,63.7 L57.8,65.2 L58.0,66.6 L58.2,68.0 L58.4,69.2 L58.6,70.4 L58.7,71.7 L58.7,72.9 L58.8,74.1 L58.9,75.2 L59.0,76.2 L59.0,77.1 L58.9,77.7 L60.0,77.8 L60.0,77.2 L60.3,76.3 L60.6,75.4 L60.9,74.3 L61.1,73.0 L61.3,71.7 L61.4,70.4 L61.5,69.0 L61.4,67.7 L61.3,66.2 L61.1,64.7 L60.8,63.1 L60.5,61.6 L60.2,60.1 L59.8,58.6 L59.5,57.3 L59.0,56.0 L58.5,54.7 L57.9,53.4 L57.4,52.3 L56.8,51.2 L56.2,50.3 L55.8,49.5 L55.5,48.9Z" fill="#f4f1ec" stroke="#3f3a35" stroke-width="0.65"/><path d="M56.5,53.3 L56.8,54.5 L57.2,56.0 L57.7,57.8 L58.2,59.8 L58.6,61.7 L59.0,63.4 L59.2,65.0 L59.4,66.7 L59.5,68.3 L59.6,69.8 L59.6,71.1 L59.7,72.0" fill="none" stroke="#3f3a35" stroke-width="0.45" stroke-linecap="round"/><path d="M53.6,58.6 L53.4,59.0 L53.1,59.5 L52.7,60.2 L52.3,60.9 L51.9,61.7 L51.5,62.6 L51.1,63.5 L50.8,64.4 L50.5,65.3 L50.3,66.3 L50.1,67.4 L49.9,68.5 L49.7,69.5 L49.6,70.6 L49.6,71.6 L49.5,72.6 L49.6,73.6 L49.7,74.5 L49.9,75.4 L50.1,76.3 L50.3,77.1 L50.6,77.7 L50.8,78.3 L50.8,78.7 L51.8,78.7 L51.7,78.2 L51.8,77.6 L51.9,76.9 L52.0,76.1 L52.1,75.3 L52.2,74.4 L52.3,73.6 L52.4,72.8 L52.5,71.9 L52.7,71.0 L52.9,70.0 L53.0,68.9 L53.2,67.9 L53.3,66.9 L53.5,65.9 L53.6,65.0 L53.7,64.2 L53.9,63.3 L54.0,62.4 L54.1,61.5 L54.2,60.7 L54.3,59.9 L54.4,59.3 L54.5,58.9Z" fill="#f4f1ec" stroke="#3f3a35" stroke-width="0.65"/><path d="M53.1,61.7 L53.0,62.5 L52.7,63.6 L52.4,64.8 L52.1,66.2 L51.8,67.5 L51.6,68.7 L51.4,69.8 L51.3,71.0 L51.3,72.1 L51.2,73.2 L51.2,74.1 L51.1,74.7" fill="none" stroke="#3f3a35" stroke-width="0.45" stroke-linecap="round"/><path d="M52.5,68.5 L52.6,69.0 L52.6,69.7 L52.6,70.4 L52.5,71.3 L52.6,72.3 L52.6,73.2 L52.7,74.2 L52.7,75.1 L52.8,76.1 L52.9,77.1 L53.0,78.3 L53.1,79.4 L53.2,80.5 L53.3,81.6 L53.4,82.6 L53.6,83.6 L53.7,84.5 L53.8,85.4 L53.9,86.3 L54.1,87.2 L54.2,88.1 L54.4,88.8 L54.5,89.5 L54.5,90.0 L55.6,90.0 L55.6,89.5 L55.8,88.9 L56.1,88.2 L56.3,87.4 L56.6,86.4 L56.7,85.5 L56.9,84.5 L56.9,83.4 L57.0,82.4 L56.9,81.3 L56.9,80.2 L56.8,79.0 L56.6,77.8 L56.5,76.7 L56.3,75.6 L56.0,74.6 L55.8,73.6 L55.5,72.7 L55.1,71.7 L54.8,70.8 L54.4,70.0 L54.0,69.3 L53.7,68.7 L53.6,68.3Z" fill="#f4f1ec" stroke="#3f3a35" stroke-width="0.65"/><path d="M53.7,71.6 L53.9,72.5 L54.0,73.6 L54.3,75.0 L54.5,76.5 L54.7,77.9 L54.8,79.2 L54.9,80.4 L55.0,81.7 L55.1,82.9 L55.1,84.0 L55.1,85.0 L55.1,85.7" fill="none" stroke="#3f3a35" stroke-width="0.45" stroke-linecap="round"/><path d="M51.6,78.0 L51.5,78.5 L51.2,79.3 L50.8,80.2 L50.5,81.1 L50.2,82.2 L49.8,83.4 L49.6,84.5 L49.3,85.7 L49.1,86.9 L49.0,88.2 L48.8,89.6 L48.7,91.0 L48.6,92.4 L48.5,93.8 L48.5,95.1 L48.5,96.3 L48.6,97.5 L48.7,98.7 L48.9,99.9 L49.1,101.0 L49.3,102.0 L49.5,102.9 L49.7,103.6 L49.7,104.2 L50.8,104.2 L50.8,103.6 L50.9,102.8 L51.0,101.9 L51.2,100.9 L51.3,99.8 L51.4,98.7 L51.5,97.5 L51.6,96.4 L51.7,95.2 L51.8,94.0 L52.0,92.6 L52.1,91.2 L52.2,89.9 L52.3,88.5 L52.3,87.3 L52.4,86.1 L52.4,84.9 L52.5,83.8 L52.5,82.6 L52.6,81.5 L52.5,80.4 L52.5,79.5 L52.5,78.7 L52.6,78.1Z" fill="#f4f1ec" stroke="#3f3a35" stroke-width="0.65"/><path d="M51.5,82.0 L51.4,83.0 L51.2,84.4 L51.0,86.1 L50.8,87.8 L50.6,89.6 L50.5,91.1 L50.4,92.6 L50.3,94.1 L50.3,95.6 L50.2,97.0 L50.2,98.1 L50.2,99.0" fill="none" stroke="#3f3a35" stroke-width="0.45" stroke-linecap="round"/><path d="M50.5,87.8 L50.7,88.5 L50.7,89.3 L50.7,90.3 L50.8,91.4 L50.9,92.6 L51.0,93.9 L51.1,95.1 L51.2,96.3 L51.3,97.6 L51.5,98.9 L51.6,100.4 L51.8,101.8 L51.9,103.3 L52.1,104.7 L52.2,106.0 L52.4,107.3 L52.5,108.4 L52.6,109.6 L52.7,110.8 L52.8,112.0 L53.0,113.1 L53.1,114.1 L53.2,114.9 L53.2,115.5 L54.3,115.6 L54.3,115.0 L54.5,114.2 L54.8,113.2 L55.0,112.1 L55.3,110.9 L55.4,109.7 L55.6,108.4 L55.6,107.1 L55.6,105.8 L55.6,104.4 L55.5,102.9 L55.3,101.4 L55.2,99.9 L54.9,98.5 L54.7,97.1 L54.4,95.8 L54.1,94.6 L53.8,93.3 L53.4,92.1 L53.0,91.0 L52.5,89.9 L52.1,89.0 L51.8,88.2 L51.6,87.6Z" fill="#f4f1ec" stroke="#3f3a35" stroke-width="0.65"/><path d="M52.0,91.9 L52.1,93.0 L52.4,94.5 L52.7,96.2 L53.0,98.1 L53.2,100.0 L53.4,101.6 L53.6,103.2 L53.7,104.8 L53.7,106.4 L53.8,107.9 L53.8,109.1 L53.9,110.0" fill="none" stroke="#3f3a35" stroke-width="0.45" stroke-linecap="round"/><path d="M59.7,42.1 L60.0,42.7 L60.2,43.7 L60.5,44.7 L60.8,45.9 L61.2,47.1 L61.7,48.3 L62.1,49.5 L62.6,50.6 L63.2,51.8 L63.8,53.1 L64.5,54.5 L65.3,55.9 L66.0,57.2 L66.7,58.4 L67.4,59.3 L67.7,60.1 L68.3,59.9 L68.0,59.1 L67.8,57.9 L67.6,56.6 L67.2,55.1 L66.8,53.6 L66.4,52.1 L65.9,50.7 L65.4,49.4 L64.8,48.2 L64.2,47.1 L63.4,45.9 L62.7,44.9 L61.9,43.9 L61.2,43.1 L60.6,42.5 L60.3,41.9Z" fill="#f4f1ec" stroke="#3f3a35" stroke-width="0.65"/><clipPath id="ec2"><path d="M87.5,10.0 C90.5,22.0 97.5,48.0 97.5,107.0 C97.5,115.0 77.5,115.0 77.5,107.0 C77.5,48.0 84.5,22.0 87.5,10.0 Z"/></clipPath><path d="M87.5,10.0 C90.5,22.0 97.5,48.0 97.5,107.0 C97.5,115.0 77.5,115.0 77.5,107.0 C77.5,48.0 84.5,22.0 87.5,10.0 Z" fill="#c2bdb5"/><g clip-path="url(#ec2)"><path d="M87.5,18.0 Q73.5,23.4 85.5,30.8 L75.5,30.8 L75.5,18.0 Z" fill="#857f77" opacity="0.75"/><path d="M75.5,29.8 Q90.5,24.8 99.5,27.8" fill="none" stroke="#3f3a35" stroke-width="0.8"/><path d="M87.5,18.0 Q78.5,23.4 85.5,29.8" fill="none" stroke="#3f3a35" stroke-width="0.6"/><path d="M87.5,28.8 Q101.5,34.2 89.5,41.6 L99.5,41.6 L99.5,28.8 Z" fill="#857f77" opacity="0.75"/><path d="M75.5,40.6 Q84.5,35.6 99.5,38.6" fill="none" stroke="#3f3a35" stroke-width="0.8"/><path d="M87.5,28.8 Q96.5,34.2 89.5,40.6" fill="none" stroke="#3f3a35" stroke-width="0.6"/><path d="M87.5,39.6 Q73.5,44.9 85.5,52.3 L75.5,52.3 L75.5,39.6 Z" fill="#857f77" opacity="0.75"/><path d="M75.5,51.3 Q90.5,46.3 99.5,49.3" fill="none" stroke="#3f3a35" stroke-width="0.8"/><path d="M87.5,39.6 Q78.5,44.9 85.5,51.3" fill="none" stroke="#3f3a35" stroke-width="0.6"/><path d="M87.5,50.3 Q101.5,55.7 89.5,63.1 L99.5,63.1 L99.5,50.3 Z" fill="#857f77" opacity="0.75"/><path d="M75.5,62.1 Q84.5,57.1 99.5,60.1" fill="none" stroke="#3f3a35" stroke-width="0.8"/><path d="M87.5,50.3 Q96.5,55.7 89.5,62.1" fill="none" stroke="#3f3a35" stroke-width="0.6"/><path d="M87.5,61.1 Q73.5,66.5 85.5,73.9 L75.5,73.9 L75.5,61.1 Z" fill="#857f77" opacity="0.75"/><path d="M75.5,72.9 Q90.5,67.9 99.5,70.9" fill="none" stroke="#3f3a35" stroke-width="0.8"/><path d="M87.5,61.1 Q78.5,66.5 85.5,72.9" fill="none" stroke="#3f3a35" stroke-width="0.6"/><path d="M87.5,71.9 Q101.5,77.3 89.5,84.7 L99.5,84.7 L99.5,71.9 Z" fill="#857f77" opacity="0.75"/><path d="M75.5,83.7 Q84.5,78.7 99.5,81.7" fill="none" stroke="#3f3a35" stroke-width="0.8"/><path d="M87.5,71.9 Q96.5,77.3 89.5,83.7" fill="none" stroke="#3f3a35" stroke-width="0.6"/><path d="M87.5,82.7 Q73.5,88.1 85.5,95.4 L75.5,95.4 L75.5,82.7 Z" fill="#857f77" opacity="0.75"/><path d="M75.5,94.4 Q90.5,89.4 99.5,92.4" fill="none" stroke="#3f3a35" stroke-width="0.8"/><path d="M87.5,82.7 Q78.5,88.1 85.5,94.4" fill="none" stroke="#3f3a35" stroke-width="0.6"/><path d="M87.5,93.4 Q101.5,98.8 89.5,106.2 L99.5,106.2 L99.5,93.4 Z" fill="#857f77" opacity="0.75"/><path d="M75.5,105.2 Q84.5,100.2 99.5,103.2" fill="none" stroke="#3f3a35" stroke-width="0.8"/><path d="M87.5,93.4 Q96.5,98.8 89.5,105.2" fill="none" stroke="#3f3a35" stroke-width="0.6"/><path d="M87.5,104.2 Q73.5,109.6 85.5,117.0 L75.5,117.0 L75.5,104.2 Z" fill="#857f77" opacity="0.75"/><path d="M75.5,116.0 Q90.5,111.0 99.5,114.0" fill="none" stroke="#3f3a35" stroke-width="0.8"/><path d="M87.5,104.2 Q78.5,109.6 85.5,116.0" fill="none" stroke="#3f3a35" stroke-width="0.6"/></g><path d="M87.5,10.0 C90.5,22.0 97.5,48.0 97.5,107.0 C97.5,115.0 77.5,115.0 77.5,107.0 C77.5,48.0 84.5,22.0 87.5,10.0 Z" fill="none" stroke="#3f3a35" stroke-width="0.9"/></svg>
<div class="cn" style="left:2224.14px">Maize</div>
<div class="sp" style="left:2224.14px;top:105.5px">(<i>Zea mays</i><br><i>mays</i>)</div>
<svg class="im" style="left:2232.14px" width="120" height="124" viewBox="0 0 120 124"><path d="M39.3,8 L40.5,112" stroke="#564e46" stroke-width="2.8" fill="none"/><path d="M39.3,8 L40.5,112" stroke="#f2ede6" stroke-width="1.2" fill="none"/><path d="M39.4,15.5 L38.8,15.6 L38.1,15.4 L37.1,15.3 L35.9,15.2 L34.7,15.3 L33.4,15.5 L32.1,15.9 L30.9,16.7 L29.8,17.7 L28.8,18.8 L27.9,20.1 L27.1,21.4 L26.3,22.9 L25.6,24.4 L24.9,25.9 L24.4,27.4 L23.9,29.0 L23.6,30.7 L23.3,32.5 L23.1,34.2 L23.0,35.9 L22.9,37.4 L22.9,38.7 L22.7,39.6 L23.7,39.8 L23.9,38.9 L24.4,37.7 L24.9,36.3 L25.4,34.7 L25.9,33.1 L26.4,31.5 L27.0,30.0 L27.6,28.6 L28.2,27.3 L28.9,26.0 L29.6,24.7 L30.4,23.3 L31.1,22.1 L31.8,21.0 L32.5,20.0 L33.1,19.3 L33.7,18.8 L34.5,18.3 L35.3,17.9 L36.3,17.5 L37.3,17.2 L38.2,16.9 L39.0,16.6 L39.6,16.5Z" fill="#f5f1eb" stroke="#564e46" stroke-width="0.75"/><path d="M39.9,15.5 L40.6,15.6 L41.4,15.9 L42.4,16.2 L43.4,16.5 L44.4,16.9 L45.4,17.3 L46.2,17.8 L47.0,18.4 L47.7,19.1 L48.5,20.1 L49.4,21.2 L50.3,22.5 L51.2,23.8 L52.0,25.1 L52.7,26.4 L53.4,27.7 L54.0,28.9 L54.5,30.4 L55.0,32.0 L55.5,33.6 L55.9,35.2 L56.3,36.6 L56.7,37.8 L56.9,38.7 L57.9,38.5 L57.8,37.6 L57.8,36.4 L57.8,34.9 L57.8,33.2 L57.7,31.5 L57.4,29.7 L57.1,28.0 L56.6,26.3 L56.0,24.8 L55.2,23.3 L54.4,21.8 L53.4,20.3 L52.4,18.9 L51.3,17.7 L50.2,16.6 L49.0,15.6 L47.7,14.9 L46.4,14.5 L45.0,14.3 L43.7,14.2 L42.6,14.3 L41.5,14.4 L40.7,14.6 L40.1,14.5Z" fill="#f5f1eb" stroke="#564e46" stroke-width="0.75"/><path d="M39.5,29.5 L38.9,29.8 L38.1,30.0 L37.1,30.2 L36.1,30.5 L34.9,30.9 L33.8,31.4 L32.7,32.0 L31.7,32.8 L30.9,33.7 L30.2,34.7 L29.5,35.8 L28.9,36.9 L28.4,38.1 L28.0,39.2 L27.6,40.4 L27.3,41.6 L27.2,42.8 L27.1,44.1 L27.2,45.4 L27.3,46.7 L27.5,47.9 L27.8,48.9 L28.0,49.7 L28.0,50.4 L29.0,50.4 L29.0,49.8 L29.2,48.9 L29.5,47.8 L29.7,46.7 L29.9,45.6 L30.1,44.4 L30.4,43.4 L30.7,42.4 L31.0,41.5 L31.4,40.5 L31.9,39.5 L32.3,38.6 L32.8,37.6 L33.3,36.7 L33.8,35.9 L34.3,35.2 L34.8,34.5 L35.5,33.9 L36.3,33.2 L37.1,32.5 L38.0,31.9 L38.7,31.3 L39.4,30.7 L39.9,30.5Z" fill="#f5f1eb" stroke="#564e46" stroke-width="0.75"/><path d="M39.8,51.5 L39.1,51.4 L38.1,51.1 L36.9,50.8 L35.5,50.5 L34.0,50.2 L32.5,50.1 L30.9,50.1 L29.5,50.4 L28.1,50.8 L26.8,51.4 L25.6,52.2 L24.4,53.0 L23.3,54.0 L22.3,54.9 L21.4,55.9 L20.7,56.9 L20.0,58.1 L19.5,59.3 L19.1,60.5 L18.8,61.7 L18.7,62.8 L18.6,63.8 L18.6,64.7 L18.4,65.2 L19.4,65.6 L19.6,65.0 L20.0,64.2 L20.5,63.4 L21.1,62.5 L21.6,61.5 L22.1,60.6 L22.7,59.8 L23.3,59.1 L24.1,58.4 L24.9,57.6 L25.8,56.8 L26.8,56.0 L27.7,55.3 L28.7,54.6 L29.6,54.1 L30.5,53.6 L31.5,53.3 L32.6,53.1 L34.0,52.9 L35.3,52.8 L36.7,52.7 L37.9,52.6 L39.0,52.5 L39.8,52.5Z" fill="#f5f1eb" stroke="#564e46" stroke-width="0.75"/><path d="M40.0,75.5 L39.1,75.5 L37.8,75.2 L36.3,74.9 L34.7,74.6 L32.9,74.4 L31.1,74.2 L29.3,74.2 L27.7,74.3 L26.2,74.5 L24.8,74.8 L23.3,75.2 L21.9,75.7 L20.5,76.3 L19.3,77.0 L18.1,77.8 L16.9,78.7 L15.9,79.7 L15.0,81.0 L14.3,82.3 L13.6,83.6 L13.1,84.9 L12.7,86.0 L12.4,87.0 L12.1,87.6 L12.9,88.2 L13.3,87.5 L14.0,86.7 L14.8,85.8 L15.6,84.8 L16.5,83.8 L17.4,82.8 L18.2,82.0 L19.1,81.3 L20.0,80.8 L21.0,80.3 L22.1,79.8 L23.3,79.3 L24.5,78.8 L25.7,78.4 L27.0,78.0 L28.3,77.7 L29.6,77.4 L31.2,77.2 L32.9,77.0 L34.6,76.9 L36.2,76.8 L37.8,76.6 L39.0,76.5 L40.0,76.5Z" fill="#f5f1eb" stroke="#564e46" stroke-width="0.75"/><path d="M40.3,79.5 L41.3,79.2 L42.6,79.0 L44.2,78.7 L45.9,78.4 L47.7,78.0 L49.3,77.8 L50.8,77.7 L51.9,77.7 L52.9,77.9 L53.8,78.2 L54.7,78.6 L55.6,79.0 L56.4,79.6 L57.3,80.1 L58.1,80.7 L58.8,81.2 L59.5,81.8 L60.1,82.5 L60.8,83.3 L61.4,84.2 L62.0,85.0 L62.6,85.8 L63.2,86.5 L63.4,87.0 L64.4,86.6 L64.1,86.0 L64.0,85.2 L63.8,84.2 L63.5,83.1 L63.1,82.0 L62.6,80.8 L62.0,79.7 L61.2,78.8 L60.4,77.9 L59.5,77.2 L58.5,76.4 L57.4,75.7 L56.2,75.1 L54.9,74.7 L53.5,74.4 L52.1,74.3 L50.4,74.5 L48.7,74.9 L47.0,75.4 L45.3,76.1 L43.6,76.9 L42.2,77.6 L41.0,78.2 L40.1,78.5Z" fill="#f5f1eb" stroke="#564e46" stroke-width="0.75"/><path d="M40.5,100.5 L41.3,100.3 L42.4,100.2 L43.7,100.1 L45.1,99.9 L46.5,99.8 L47.8,99.7 L49.0,99.6 L49.9,99.7 L50.7,99.9 L51.5,100.1 L52.3,100.4 L53.1,100.8 L53.8,101.2 L54.6,101.6 L55.3,102.0 L55.9,102.3 L56.5,102.7 L57.1,103.2 L57.7,103.7 L58.2,104.3 L58.8,104.9 L59.4,105.4 L59.9,105.9 L60.2,106.3 L61.0,105.7 L60.8,105.3 L60.7,104.7 L60.5,103.9 L60.2,103.1 L59.9,102.2 L59.4,101.3 L58.8,100.4 L58.1,99.7 L57.3,99.0 L56.5,98.4 L55.7,97.9 L54.7,97.3 L53.6,96.9 L52.5,96.6 L51.3,96.4 L50.1,96.3 L48.7,96.4 L47.3,96.7 L45.9,97.2 L44.5,97.7 L43.2,98.2 L42.0,98.8 L41.0,99.3 L40.3,99.5Z" fill="#f5f1eb" stroke="#564e46" stroke-width="0.75"/><path d="M39.7,22.4 L40.2,22.7 L40.8,23.3 L41.4,23.9 L42.2,24.5 L42.9,25.2 L43.6,25.8 L44.2,26.5 L44.7,27.1 L45.2,27.8 L45.6,28.7 L46.1,29.5 L46.6,30.5 L47.1,31.4 L47.5,32.4 L48.0,33.4 L48.3,34.4 L48.7,35.5 L49.0,36.8 L49.3,38.2 L49.6,39.6 L49.9,40.9 L50.2,42.2 L50.4,43.2 L50.5,44.0 L51.5,44.0 L51.5,43.2 L51.6,42.1 L51.8,40.8 L51.9,39.4 L52.0,37.9 L52.0,36.4 L51.9,34.9 L51.7,33.6 L51.4,32.3 L51.0,31.1 L50.5,29.9 L50.0,28.8 L49.4,27.7 L48.8,26.7 L48.1,25.7 L47.3,24.9 L46.4,24.1 L45.4,23.4 L44.4,22.9 L43.3,22.5 L42.4,22.2 L41.5,22.0 L40.7,21.8 L40.3,21.6Z" fill="#f5f1eb" stroke="#564e46" stroke-width="0.75"/><path d="M39.3,14.4 L39.3,0.0 M39.3,12.0 L31.7,8.5 M39.3,12.0 L46.9,8.5 M39.3,9.1 L33.1,5.1 M39.3,9.1 L45.5,5.1 M39.3,6.2 L34.4,2.0 M39.3,6.2 L44.2,2.0 M39.3,3.4 L35.7,-0.8 M39.3,3.4 L42.9,-0.8 M39.3,0.5 L36.8,-3.3 M39.3,0.5 L41.8,-3.3" stroke="#564e46" stroke-width="0.55" fill="none" stroke-linecap="round" opacity="0.85"/><ellipse cx="50.5" cy="58" rx="4.5" ry="10" fill="#efe9e0" stroke="#564e46" stroke-width="0.8" transform="rotate(-10 50.5 58)"/><path d="M32,114 L40.5,110 L49,114 M36,115 L40.5,111 L45,115" stroke="#564e46" stroke-width="0.7" fill="none"/><clipPath id="mz"><path d="M84.8,3.3 C90.8,3.3 93.2,15.3 97.2,41.3 L99.2,111.8 C99.2,117.8 72.4,117.8 72.9,111.8 L74.9,41.3 C78.4,15.3 79.8,3.3 84.8,3.3 Z"/></clipPath><path d="M84.8,3.3 C90.8,3.3 93.2,15.3 97.2,41.3 L99.2,111.8 C99.2,117.8 72.4,117.8 72.9,111.8 L74.9,41.3 C78.4,15.3 79.8,3.3 84.8,3.3 Z" fill="#a39b91"/><g clip-path="url(#mz)" fill="#f8f4ee"><rect x="71.8" y="4.6" width="2.8" height="2.9" rx="1.2"/><rect x="75.4" y="4.6" width="2.7" height="2.7" rx="1.2"/><rect x="78.9" y="4.6" width="2.7" height="2.4" rx="1.2"/><rect x="82.4" y="4.6" width="3.5" height="2.4" rx="1.2"/><rect x="86.7" y="4.6" width="3.2" height="2.6" rx="1.2"/><rect x="90.7" y="4.6" width="3.0" height="2.6" rx="1.2"/><rect x="94.5" y="4.6" width="2.8" height="2.8" rx="1.2"/><rect x="98.1" y="4.6" width="2.7" height="2.4" rx="1.2"/><rect x="73.6" y="8.0" width="2.6" height="2.5" rx="1.2"/><rect x="77.0" y="8.0" width="3.0" height="2.8" rx="1.2"/><rect x="80.8" y="8.0" width="2.9" height="2.4" rx="1.2"/><rect x="84.5" y="8.0" width="2.8" height="2.9" rx="1.2"/><rect x="88.2" y="8.0" width="2.7" height="2.7" rx="1.2"/><rect x="91.6" y="8.0" width="2.9" height="2.7" rx="1.2"/><rect x="95.4" y="8.0" width="2.9" height="2.7" rx="1.2"/><rect x="99.1" y="8.0" width="3.0" height="2.7" rx="1.2"/><rect x="71.8" y="11.4" width="3.4" height="2.6" rx="1.2"/><rect x="76.0" y="11.4" width="2.7" height="2.3" rx="1.2"/><rect x="79.5" y="11.4" width="3.5" height="2.6" rx="1.2"/><rect x="83.8" y="11.4" width="2.8" height="2.9" rx="1.2"/><rect x="87.4" y="11.4" width="3.1" height="2.7" rx="1.2"/><rect x="91.3" y="11.4" width="3.4" height="2.5" rx="1.2"/><rect x="95.5" y="11.4" width="2.9" height="2.8" rx="1.2"/><rect x="99.2" y="11.4" width="2.7" height="2.8" rx="1.2"/><rect x="73.6" y="14.8" width="2.7" height="2.7" rx="1.2"/><rect x="77.1" y="14.8" width="3.2" height="2.9" rx="1.2"/><rect x="81.1" y="14.8" width="3.4" height="2.6" rx="1.2"/><rect x="85.3" y="14.8" width="2.8" height="2.4" rx="1.2"/><rect x="88.9" y="14.8" width="3.1" height="2.6" rx="1.2"/><rect x="92.7" y="14.8" width="2.7" height="2.8" rx="1.2"/><rect x="96.2" y="14.8" width="3.1" height="2.7" rx="1.2"/><rect x="71.8" y="18.2" width="2.8" height="2.4" rx="1.2"/><rect x="75.4" y="18.2" width="2.6" height="2.5" rx="1.2"/><rect x="78.8" y="18.2" width="2.8" height="2.6" rx="1.2"/><rect x="82.4" y="18.2" width="2.9" height="2.8" rx="1.2"/><rect x="86.2" y="18.2" width="3.4" height="2.4" rx="1.2"/><rect x="90.4" y="18.2" width="3.0" height="2.4" rx="1.2"/><rect x="94.1" y="18.2" width="3.2" height="2.9" rx="1.2"/><rect x="98.1" y="18.2" width="2.8" height="2.8" rx="1.2"/><rect x="73.6" y="21.6" width="2.9" height="2.3" rx="1.2"/><rect x="77.3" y="21.6" width="3.3" height="2.5" rx="1.2"/><rect x="81.4" y="21.6" width="2.8" height="2.6" rx="1.2"/><rect x="84.9" y="21.6" width="2.8" height="2.5" rx="1.2"/><rect x="88.5" y="21.6" width="3.0" height="2.6" rx="1.2"/><rect x="92.3" y="21.6" width="3.1" height="2.5" rx="1.2"/><rect x="96.3" y="21.6" width="2.7" height="2.4" rx="1.2"/><rect x="71.8" y="25.0" width="2.7" height="2.6" rx="1.2"/><rect x="75.3" y="25.0" width="2.9" height="2.8" rx="1.2"/><rect x="79.0" y="25.0" width="3.1" height="2.7" rx="1.2"/><rect x="82.9" y="25.0" width="3.5" height="2.3" rx="1.2"/><rect x="87.2" y="25.0" width="2.6" height="2.4" rx="1.2"/><rect x="90.6" y="25.0" width="2.9" height="2.6" rx="1.2"/><rect x="94.3" y="25.0" width="3.3" height="2.5" rx="1.2"/><rect x="98.4" y="25.0" width="3.5" height="2.3" rx="1.2"/><rect x="73.6" y="28.4" width="3.4" height="2.4" rx="1.2"/><rect x="77.8" y="28.4" width="3.4" height="2.3" rx="1.2"/><rect x="81.9" y="28.4" width="3.5" height="2.8" rx="1.2"/><rect x="86.2" y="28.4" width="3.5" height="2.6" rx="1.2"/><rect x="90.5" y="28.4" width="2.8" height="2.9" rx="1.2"/><rect x="94.1" y="28.4" width="3.0" height="2.4" rx="1.2"/><rect x="97.9" y="28.4" width="3.1" height="2.6" rx="1.2"/><rect x="71.8" y="31.8" width="3.0" height="2.4" rx="1.2"/><rect x="75.6" y="31.8" width="2.7" height="2.6" rx="1.2"/><rect x="79.1" y="31.8" width="3.0" height="2.4" rx="1.2"/><rect x="82.9" y="31.8" width="3.0" height="2.7" rx="1.2"/><rect x="86.7" y="31.8" width="3.2" height="2.6" rx="1.2"/><rect x="90.8" y="31.8" width="3.0" height="2.5" rx="1.2"/><rect x="94.5" y="31.8" width="2.8" height="2.4" rx="1.2"/><rect x="98.1" y="31.8" width="3.0" height="2.4" rx="1.2"/><rect x="73.6" y="35.2" width="3.3" height="2.7" rx="1.2"/><rect x="77.7" y="35.2" width="3.2" height="2.3" rx="1.2"/><rect x="81.6" y="35.2" width="2.9" height="2.6" rx="1.2"/><rect x="85.3" y="35.2" width="2.7" height="2.9" rx="1.2"/><rect x="88.8" y="35.2" width="3.3" height="2.6" rx="1.2"/><rect x="92.9" y="35.2" width="3.2" height="2.4" rx="1.2"/><rect x="96.9" y="35.2" width="2.8" height="2.6" rx="1.2"/><rect x="71.8" y="38.6" width="3.3" height="2.7" rx="1.2"/><rect x="75.9" y="38.6" width="2.6" height="2.7" rx="1.2"/><rect x="79.3" y="38.6" width="3.4" height="2.7" rx="1.2"/><rect x="83.5" y="38.6" width="3.4" height="2.9" rx="1.2"/><rect x="87.7" y="38.6" width="2.8" height="2.5" rx="1.2"/><rect x="91.3" y="38.6" width="3.1" height="2.9" rx="1.2"/><rect x="95.2" y="38.6" width="2.9" height="2.9" rx="1.2"/><rect x="99.0" y="38.6" width="3.4" height="2.6" rx="1.2"/><rect x="73.6" y="42.0" width="3.2" height="2.9" rx="1.2"/><rect x="77.6" y="42.0" width="3.3" height="2.5" rx="1.2"/><rect x="81.7" y="42.0" width="3.4" height="2.4" rx="1.2"/><rect x="85.8" y="42.0" width="2.9" height="2.9" rx="1.2"/><rect x="89.6" y="42.0" width="3.4" height="2.5" rx="1.2"/><rect x="93.7" y="42.0" width="2.9" height="2.7" rx="1.2"/><rect x="97.4" y="42.0" width="3.4" height="2.7" rx="1.2"/><rect x="71.8" y="45.4" width="3.4" height="2.7" rx="1.2"/><rect x="76.0" y="45.4" width="3.3" height="2.7" rx="1.2"/><rect x="80.2" y="45.4" width="2.9" height="2.6" rx="1.2"/><rect x="83.9" y="45.4" width="3.0" height="2.6" rx="1.2"/><rect x="87.7" y="45.4" width="3.4" height="2.5" rx="1.2"/><rect x="91.9" y="45.4" width="2.7" height="2.7" rx="1.2"/><rect x="95.4" y="45.4" width="2.8" height="2.6" rx="1.2"/><rect x="99.0" y="45.4" width="2.7" height="2.8" rx="1.2"/><rect x="73.6" y="48.8" width="2.8" height="2.5" rx="1.2"/><rect x="77.2" y="48.8" width="3.3" height="2.6" rx="1.2"/><rect x="81.4" y="48.8" width="2.8" height="2.8" rx="1.2"/><rect x="85.0" y="48.8" width="3.0" height="2.5" rx="1.2"/><rect x="88.8" y="48.8" width="3.5" height="2.8" rx="1.2"/><rect x="93.1" y="48.8" width="3.3" height="2.4" rx="1.2"/><rect x="97.1" y="48.8" width="3.3" height="2.7" rx="1.2"/><rect x="71.8" y="52.2" width="3.3" height="2.5" rx="1.2"/><rect x="75.9" y="52.2" width="3.3" height="2.8" rx="1.2"/><rect x="80.0" y="52.2" width="2.9" height="2.7" rx="1.2"/><rect x="83.8" y="52.2" width="3.3" height="2.9" rx="1.2"/><rect x="87.9" y="52.2" width="3.4" height="2.8" rx="1.2"/><rect x="92.1" y="52.2" width="2.7" height="2.7" rx="1.2"/><rect x="95.7" y="52.2" width="3.2" height="2.4" rx="1.2"/><rect x="73.6" y="55.6" width="3.0" height="2.8" rx="1.2"/><rect x="77.4" y="55.6" width="3.4" height="2.9" rx="1.2"/><rect x="81.6" y="55.6" width="2.7" height="2.7" rx="1.2"/><rect x="85.1" y="55.6" width="3.4" height="2.7" rx="1.2"/><rect x="89.3" y="55.6" width="2.9" height="2.3" rx="1.2"/><rect x="93.0" y="55.6" width="3.4" height="2.8" rx="1.2"/><rect x="97.2" y="55.6" width="3.2" height="2.5" rx="1.2"/><rect x="71.8" y="59.0" width="3.3" height="2.8" rx="1.2"/><rect x="75.9" y="59.0" width="3.3" height="2.7" rx="1.2"/><rect x="80.0" y="59.0" width="2.9" height="2.5" rx="1.2"/><rect x="83.7" y="59.0" width="2.9" height="2.5" rx="1.2"/><rect x="87.4" y="59.0" width="3.1" height="2.4" rx="1.2"/><rect x="91.3" y="59.0" width="3.2" height="2.5" rx="1.2"/><rect x="95.3" y="59.0" width="2.7" height="2.5" rx="1.2"/><rect x="98.9" y="59.0" width="3.0" height="2.6" rx="1.2"/><rect x="73.6" y="62.4" width="3.3" height="2.4" rx="1.2"/><rect x="77.7" y="62.4" width="2.8" height="2.5" rx="1.2"/><rect x="81.3" y="62.4" width="2.8" height="2.7" rx="1.2"/><rect x="84.9" y="62.4" width="2.7" height="2.3" rx="1.2"/><rect x="88.4" y="62.4" width="3.1" height="2.7" rx="1.2"/><rect x="92.3" y="62.4" width="3.3" height="2.6" rx="1.2"/><rect x="96.4" y="62.4" width="2.9" height="2.8" rx="1.2"/><rect x="71.8" y="65.8" width="3.3" height="2.6" rx="1.2"/><rect x="75.9" y="65.8" width="3.1" height="2.9" rx="1.2"/><rect x="79.8" y="65.8" width="3.5" height="2.9" rx="1.2"/><rect x="84.1" y="65.8" width="2.7" height="2.5" rx="1.2"/><rect x="87.6" y="65.8" width="3.0" height="2.4" rx="1.2"/><rect x="91.4" y="65.8" width="3.3" height="2.3" rx="1.2"/><rect x="95.4" y="65.8" width="3.4" height="2.7" rx="1.2"/><rect x="73.6" y="69.2" width="3.2" height="2.5" rx="1.2"/><rect x="77.6" y="69.2" width="3.4" height="2.6" rx="1.2"/><rect x="81.8" y="69.2" width="3.4" height="2.9" rx="1.2"/><rect x="86.0" y="69.2" width="3.2" height="2.9" rx="1.2"/><rect x="90.0" y="69.2" width="3.0" height="2.5" rx="1.2"/><rect x="93.9" y="69.2" width="3.4" height="2.6" rx="1.2"/><rect x="98.0" y="69.2" width="2.9" height="2.7" rx="1.2"/><rect x="71.8" y="72.6" width="3.0" height="2.4" rx="1.2"/><rect x="75.6" y="72.6" width="3.4" height="2.6" rx="1.2"/><rect x="79.8" y="72.6" width="3.5" height="2.6" rx="1.2"/><rect x="84.1" y="72.6" width="3.4" height="2.5" rx="1.2"/><rect x="88.3" y="72.6" width="2.8" height="2.6" rx="1.2"/><rect x="91.9" y="72.6" width="3.3" height="2.8" rx="1.2"/><rect x="96.0" y="72.6" width="3.2" height="2.4" rx="1.2"/><rect x="73.6" y="76.0" width="3.0" height="2.3" rx="1.2"/><rect x="77.4" y="76.0" width="2.9" height="2.9" rx="1.2"/><rect x="81.1" y="76.0" width="2.9" height="2.7" rx="1.2"/><rect x="84.8" y="76.0" width="3.2" height="2.4" rx="1.2"/><rect x="88.8" y="76.0" width="3.2" height="2.3" rx="1.2"/><rect x="92.8" y="76.0" width="2.8" height="2.6" rx="1.2"/><rect x="96.3" y="76.0" width="2.7" height="2.9" rx="1.2"/><rect x="71.8" y="79.5" width="3.0" height="2.7" rx="1.2"/><rect x="75.6" y="79.5" width="3.5" height="2.4" rx="1.2"/><rect x="79.9" y="79.5" width="3.5" height="2.3" rx="1.2"/><rect x="84.2" y="79.5" width="3.1" height="2.7" rx="1.2"/><rect x="88.1" y="79.5" width="3.5" height="2.5" rx="1.2"/><rect x="92.4" y="79.5" width="3.5" height="2.7" rx="1.2"/><rect x="96.6" y="79.5" width="3.0" height="2.4" rx="1.2"/><rect x="73.6" y="82.9" width="2.8" height="2.5" rx="1.2"/><rect x="77.2" y="82.9" width="2.9" height="2.5" rx="1.2"/><rect x="80.9" y="82.9" width="3.3" height="2.5" rx="1.2"/><rect x="85.1" y="82.9" width="3.2" height="2.3" rx="1.2"/><rect x="89.0" y="82.9" width="2.7" height="2.7" rx="1.2"/><rect x="92.5" y="82.9" width="3.4" height="2.5" rx="1.2"/><rect x="96.7" y="82.9" width="2.6" height="2.4" rx="1.2"/><rect x="71.8" y="86.3" width="2.9" height="2.5" rx="1.2"/><rect x="75.5" y="86.3" width="3.1" height="2.5" rx="1.2"/><rect x="79.4" y="86.3" width="3.2" height="2.8" rx="1.2"/><rect x="83.4" y="86.3" width="3.3" height="2.7" rx="1.2"/><rect x="87.5" y="86.3" width="3.1" height="2.5" rx="1.2"/><rect x="91.4" y="86.3" width="3.4" height="2.5" rx="1.2"/><rect x="95.6" y="86.3" width="3.4" height="2.6" rx="1.2"/><rect x="73.6" y="89.7" width="3.2" height="2.6" rx="1.2"/><rect x="77.6" y="89.7" width="3.2" height="2.5" rx="1.2"/><rect x="81.6" y="89.7" width="3.1" height="2.7" rx="1.2"/><rect x="85.5" y="89.7" width="2.9" height="2.7" rx="1.2"/><rect x="89.2" y="89.7" width="3.0" height="2.6" rx="1.2"/><rect x="93.0" y="89.7" width="2.9" height="2.6" rx="1.2"/><rect x="96.8" y="89.7" width="3.2" height="2.4" rx="1.2"/><rect x="71.8" y="93.1" width="2.7" height="2.8" rx="1.2"/><rect x="75.3" y="93.1" width="2.7" height="2.8" rx="1.2"/><rect x="78.8" y="93.1" width="3.3" height="2.4" rx="1.2"/><rect x="82.9" y="93.1" width="3.2" height="2.5" rx="1.2"/><rect x="86.9" y="93.1" width="3.4" height="2.4" rx="1.2"/><rect x="91.1" y="93.1" width="2.7" height="2.3" rx="1.2"/><rect x="94.6" y="93.1" width="3.2" height="2.4" rx="1.2"/><rect x="98.6" y="93.1" width="2.9" height="2.9" rx="1.2"/><rect x="73.6" y="96.5" width="3.3" height="2.7" rx="1.2"/><rect x="77.7" y="96.5" width="3.1" height="2.7" rx="1.2"/><rect x="81.6" y="96.5" width="2.6" height="2.8" rx="1.2"/><rect x="85.0" y="96.5" width="2.9" height="2.8" rx="1.2"/><rect x="88.7" y="96.5" width="3.0" height="2.8" rx="1.2"/><rect x="92.5" y="96.5" width="2.6" height="2.9" rx="1.2"/><rect x="95.9" y="96.5" width="2.7" height="2.6" rx="1.2"/><rect x="99.3" y="96.5" width="3.0" height="2.9" rx="1.2"/><rect x="71.8" y="99.9" width="3.2" height="2.9" rx="1.2"/><rect x="75.8" y="99.9" width="3.4" height="2.6" rx="1.2"/><rect x="80.1" y="99.9" width="2.7" height="2.4" rx="1.2"/><rect x="83.6" y="99.9" width="3.2" height="2.9" rx="1.2"/><rect x="87.6" y="99.9" width="3.2" height="2.5" rx="1.2"/><rect x="91.6" y="99.9" width="3.1" height="2.7" rx="1.2"/><rect x="95.6" y="99.9" width="2.8" height="2.7" rx="1.2"/><rect x="99.2" y="99.9" width="2.8" height="2.3" rx="1.2"/><rect x="73.6" y="103.3" width="2.7" height="2.6" rx="1.2"/><rect x="77.1" y="103.3" width="3.2" height="2.4" rx="1.2"/><rect x="81.1" y="103.3" width="3.0" height="2.7" rx="1.2"/><rect x="84.8" y="103.3" width="2.8" height="2.6" rx="1.2"/><rect x="88.5" y="103.3" width="3.1" height="2.5" rx="1.2"/><rect x="92.4" y="103.3" width="2.8" height="2.7" rx="1.2"/><rect x="96.0" y="103.3" width="3.2" height="2.4" rx="1.2"/><rect x="71.8" y="106.7" width="3.3" height="2.7" rx="1.2"/><rect x="75.9" y="106.7" width="3.4" height="2.8" rx="1.2"/><rect x="80.1" y="106.7" width="3.0" height="2.7" rx="1.2"/><rect x="84.0" y="106.7" width="2.9" height="2.7" rx="1.2"/><rect x="87.6" y="106.7" width="2.7" height="2.5" rx="1.2"/><rect x="91.1" y="106.7" width="3.1" height="2.8" rx="1.2"/><rect x="95.0" y="106.7" width="3.2" height="2.8" rx="1.2"/><rect x="99.0" y="106.7" width="3.4" height="2.9" rx="1.2"/><rect x="73.6" y="110.1" width="3.2" height="2.7" rx="1.2"/><rect x="77.6" y="110.1" width="3.0" height="2.4" rx="1.2"/><rect x="81.4" y="110.1" width="3.3" height="2.7" rx="1.2"/><rect x="85.5" y="110.1" width="2.7" height="2.4" rx="1.2"/><rect x="89.0" y="110.1" width="2.8" height="2.7" rx="1.2"/><rect x="92.6" y="110.1" width="3.1" height="2.4" rx="1.2"/><rect x="96.6" y="110.1" width="3.2" height="2.6" rx="1.2"/><rect x="71.8" y="113.5" width="2.8" height="2.6" rx="1.2"/><rect x="75.4" y="113.5" width="3.5" height="2.4" rx="1.2"/><rect x="79.7" y="113.5" width="2.8" height="2.7" rx="1.2"/><rect x="83.3" y="113.5" width="3.4" height="2.9" rx="1.2"/><rect x="87.5" y="113.5" width="3.0" height="2.8" rx="1.2"/><rect x="91.3" y="113.5" width="2.7" height="2.5" rx="1.2"/><rect x="94.8" y="113.5" width="3.4" height="2.7" rx="1.2"/><rect x="98.9" y="113.5" width="3.0" height="2.7" rx="1.2"/><rect x="73.6" y="116.9" width="3.0" height="2.6" rx="1.2"/><rect x="77.4" y="116.9" width="3.4" height="2.9" rx="1.2"/><rect x="81.6" y="116.9" width="2.8" height="2.8" rx="1.2"/><rect x="85.2" y="116.9" width="3.5" height="2.7" rx="1.2"/><rect x="89.5" y="116.9" width="3.1" height="2.5" rx="1.2"/><rect x="93.3" y="116.9" width="3.0" height="2.6" rx="1.2"/><rect x="97.2" y="116.9" width="3.2" height="2.4" rx="1.2"/></g><path d="M84.8,3.3 C90.8,3.3 93.2,15.3 97.2,41.3 L99.2,111.8 C99.2,117.8 72.4,117.8 72.9,111.8 L74.9,41.3 C78.4,15.3 79.8,3.3 84.8,3.3 Z" fill="none" stroke="#564e46" stroke-width="0.9"/></svg>
<div class="bar"><div class="fill"></div></div>
<div class="tk" style="left:528.00px"></div>
<div class="tk" style="left:663.69px"></div>
<div class="tk" style="left:799.38px"></div>
<div class="tk" style="left:935.08px"></div>
<div class="tk" style="left:1070.77px"></div>
<div class="tk" style="left:1206.46px"></div>
<div class="tk" style="left:1342.15px"></div>
<div class="tk" style="left:1477.85px"></div>
<div class="tk" style="left:1613.54px"></div>
<div class="tk" style="left:1749.23px"></div>
<div class="tk" style="left:1884.92px"></div>
<div class="tk" style="left:2020.62px"></div>
<div class="tk" style="left:2156.31px"></div>
<div class="tk" style="left:2292.00px"></div>
<div class="lb" style="left:413.70px;top:421.7px;height:96px">1:<br>Cellular<br>Organisms</div>
<div class="lb" style="left:549.39px;top:421.7px;height:96px">2:<br>Domain:<br>Eukaryota</div>
<div class="lb" style="left:685.08px;top:421.7px;height:96px">3:<br>Kingdom:<br>Viridiplantae</div>
<div class="lb" style="left:820.78px;top:421.7px;height:96px">4:<br>Phylum:<br>Streptophyta</div>
<div class="lb" style="left:956.47px;top:421.7px;height:96px">5:<br>Land plants<br>(Embryophyta)</div>
<div class="lb" style="left:1092.16px;top:421.7px;height:96px">6:<br>Class:<br>Magnoliopsida</div>
<div class="lb" style="left:1227.85px;top:421.7px;height:96px">7:<br>Monocots<br>(Liliopsida)</div>
<div class="lb" style="left:1363.55px;top:421.7px;height:96px">8:<br>Order:<br>Poales</div>
<div class="lb" style="left:1499.24px;top:421.7px;height:96px">9:<br>Family:<br>Poaceae</div>
<div class="lb" style="left:1634.93px;top:421.7px;height:96px">10:<br>Subfamily:<br>Panicoideae</div>
<div class="lb" style="left:1770.62px;top:421.7px;height:96px">11:<br>Tribe:<br>Andropogoneae</div>
<div class="lb" style="left:1906.32px;top:421.7px;height:96px">12:<br>Genus:<br>Zea</div>
<div class="lb" style="left:2042.01px;top:421.7px;height:128px">13:<br>Species:<br>Zea<br>mays</div>
<div class="lb" style="left:2177.70px;top:421.7px;height:128px">14:<br>Subspecies:<br>Zea mays<br>mays</div>
</body></html>
